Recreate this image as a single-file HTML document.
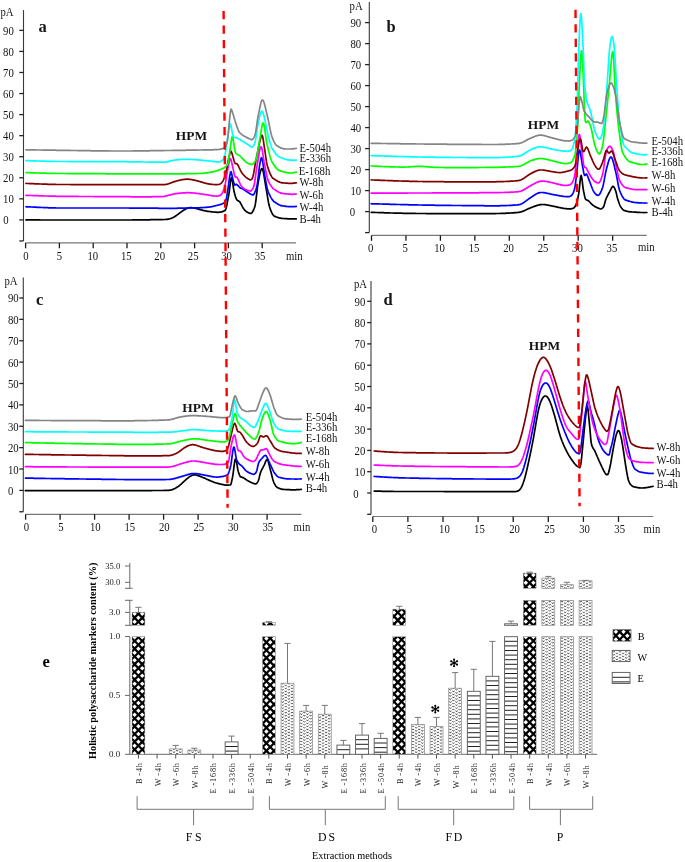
<!DOCTYPE html>
<html><head><meta charset="utf-8"><title>figure</title>
<style>html,body{margin:0;padding:0;background:#fff;width:685px;height:862px;overflow:hidden}svg{will-change:transform}</style>
</head><body>
<svg width="685" height="862" viewBox="0 0 685 862" style="display:block;font-family:'Liberation Serif',serif">
<rect width="685" height="862" fill="#fff"/>
<line x1="23.50" y1="10.10" x2="23.50" y2="240.96" stroke="#3a3a3a" stroke-width="1.10" />
<line x1="19.30" y1="240.96" x2="23.50" y2="240.96" stroke="#222" stroke-width="1.30" />
<line x1="19.30" y1="219.90" x2="23.50" y2="219.90" stroke="#222" stroke-width="1.30" />
<text x="0" y="0" font-size="11.60" text-anchor="end" font-weight="normal" fill="#151515" transform="translate(8.70,224.40) scale(0.925,1)" >0</text>
<line x1="19.30" y1="198.84" x2="23.50" y2="198.84" stroke="#222" stroke-width="1.30" />
<text x="0" y="0" font-size="11.60" text-anchor="end" font-weight="normal" fill="#151515" transform="translate(13.80,203.34) scale(0.925,1)" >10</text>
<line x1="19.30" y1="177.78" x2="23.50" y2="177.78" stroke="#222" stroke-width="1.30" />
<text x="0" y="0" font-size="11.60" text-anchor="end" font-weight="normal" fill="#151515" transform="translate(13.80,182.28) scale(0.925,1)" >20</text>
<line x1="19.30" y1="156.72" x2="23.50" y2="156.72" stroke="#222" stroke-width="1.30" />
<text x="0" y="0" font-size="11.60" text-anchor="end" font-weight="normal" fill="#151515" transform="translate(13.80,161.22) scale(0.925,1)" >30</text>
<line x1="19.30" y1="135.66" x2="23.50" y2="135.66" stroke="#222" stroke-width="1.30" />
<text x="0" y="0" font-size="11.60" text-anchor="end" font-weight="normal" fill="#151515" transform="translate(13.80,140.16) scale(0.925,1)" >40</text>
<line x1="19.30" y1="114.60" x2="23.50" y2="114.60" stroke="#222" stroke-width="1.30" />
<text x="0" y="0" font-size="11.60" text-anchor="end" font-weight="normal" fill="#151515" transform="translate(13.80,119.10) scale(0.925,1)" >50</text>
<line x1="19.30" y1="93.54" x2="23.50" y2="93.54" stroke="#222" stroke-width="1.30" />
<text x="0" y="0" font-size="11.60" text-anchor="end" font-weight="normal" fill="#151515" transform="translate(13.80,98.04) scale(0.925,1)" >60</text>
<line x1="19.30" y1="72.48" x2="23.50" y2="72.48" stroke="#222" stroke-width="1.30" />
<text x="0" y="0" font-size="11.60" text-anchor="end" font-weight="normal" fill="#151515" transform="translate(13.80,76.98) scale(0.925,1)" >70</text>
<line x1="19.30" y1="51.42" x2="23.50" y2="51.42" stroke="#222" stroke-width="1.30" />
<text x="0" y="0" font-size="11.60" text-anchor="end" font-weight="normal" fill="#151515" transform="translate(13.80,55.92) scale(0.925,1)" >80</text>
<line x1="19.30" y1="30.36" x2="23.50" y2="30.36" stroke="#222" stroke-width="1.30" />
<text x="0" y="0" font-size="11.60" text-anchor="end" font-weight="normal" fill="#151515" transform="translate(13.80,34.86) scale(0.925,1)" >90</text>
<text x="0" y="0" font-size="11.60" text-anchor="start" font-weight="normal" fill="#151515" transform="translate(0.40,16.20) scale(0.925,1)" >pA</text>
<line x1="25.60" y1="242.90" x2="296.00" y2="242.90" stroke="#777" stroke-width="1.20" />
<line x1="25.60" y1="242.90" x2="25.60" y2="248.30" stroke="#1a1a1a" stroke-width="1.30" />
<text x="0" y="0" font-size="11.60" text-anchor="middle" font-weight="normal" fill="#151515" transform="translate(25.90,259.60) scale(0.925,1)" >0</text>
<line x1="59.40" y1="242.90" x2="59.40" y2="248.30" stroke="#1a1a1a" stroke-width="1.30" />
<text x="0" y="0" font-size="11.60" text-anchor="middle" font-weight="normal" fill="#151515" transform="translate(59.35,259.60) scale(0.925,1)" >5</text>
<line x1="93.20" y1="242.90" x2="93.20" y2="248.30" stroke="#1a1a1a" stroke-width="1.30" />
<text x="0" y="0" font-size="11.60" text-anchor="middle" font-weight="normal" fill="#151515" transform="translate(92.80,259.60) scale(0.925,1)" >10</text>
<line x1="127.00" y1="242.90" x2="127.00" y2="248.30" stroke="#1a1a1a" stroke-width="1.30" />
<text x="0" y="0" font-size="11.60" text-anchor="middle" font-weight="normal" fill="#151515" transform="translate(126.25,259.60) scale(0.925,1)" >15</text>
<line x1="160.80" y1="242.90" x2="160.80" y2="248.30" stroke="#1a1a1a" stroke-width="1.30" />
<text x="0" y="0" font-size="11.60" text-anchor="middle" font-weight="normal" fill="#151515" transform="translate(159.70,259.60) scale(0.925,1)" >20</text>
<line x1="194.60" y1="242.90" x2="194.60" y2="248.30" stroke="#1a1a1a" stroke-width="1.30" />
<text x="0" y="0" font-size="11.60" text-anchor="middle" font-weight="normal" fill="#151515" transform="translate(193.15,259.60) scale(0.925,1)" >25</text>
<line x1="228.40" y1="242.90" x2="228.40" y2="248.30" stroke="#1a1a1a" stroke-width="1.30" />
<text x="0" y="0" font-size="11.60" text-anchor="middle" font-weight="normal" fill="#151515" transform="translate(226.60,259.60) scale(0.925,1)" >30</text>
<line x1="262.20" y1="242.90" x2="262.20" y2="248.30" stroke="#1a1a1a" stroke-width="1.30" />
<text x="0" y="0" font-size="11.60" text-anchor="middle" font-weight="normal" fill="#151515" transform="translate(260.05,259.60) scale(0.925,1)" >35</text>
<text x="0" y="0" font-size="11.60" text-anchor="start" font-weight="normal" fill="#151515" transform="translate(286.00,259.70) scale(0.925,1)" >min</text>
<text x="38.60" y="31.50" font-size="16.50" text-anchor="start" font-weight="bold" fill="#151515" >a</text>
<text x="175.80" y="140.20" font-size="13.40" text-anchor="start" font-weight="bold" fill="#151515" >HPM</text>
<line x1="369.30" y1="2.10" x2="369.30" y2="232.60" stroke="#3a3a3a" stroke-width="1.10" />
<line x1="365.10" y1="232.60" x2="369.30" y2="232.60" stroke="#222" stroke-width="1.30" />
<line x1="365.10" y1="211.60" x2="369.30" y2="211.60" stroke="#222" stroke-width="1.30" />
<text x="0" y="0" font-size="11.60" text-anchor="end" font-weight="normal" fill="#151515" transform="translate(355.20,216.10) scale(0.925,1)" >0</text>
<line x1="365.10" y1="190.60" x2="369.30" y2="190.60" stroke="#222" stroke-width="1.30" />
<text x="0" y="0" font-size="11.60" text-anchor="end" font-weight="normal" fill="#151515" transform="translate(361.20,195.10) scale(0.925,1)" >10</text>
<line x1="365.10" y1="169.60" x2="369.30" y2="169.60" stroke="#222" stroke-width="1.30" />
<text x="0" y="0" font-size="11.60" text-anchor="end" font-weight="normal" fill="#151515" transform="translate(361.20,174.10) scale(0.925,1)" >20</text>
<line x1="365.10" y1="148.60" x2="369.30" y2="148.60" stroke="#222" stroke-width="1.30" />
<text x="0" y="0" font-size="11.60" text-anchor="end" font-weight="normal" fill="#151515" transform="translate(361.20,153.10) scale(0.925,1)" >30</text>
<line x1="365.10" y1="127.60" x2="369.30" y2="127.60" stroke="#222" stroke-width="1.30" />
<text x="0" y="0" font-size="11.60" text-anchor="end" font-weight="normal" fill="#151515" transform="translate(361.20,132.10) scale(0.925,1)" >40</text>
<line x1="365.10" y1="106.60" x2="369.30" y2="106.60" stroke="#222" stroke-width="1.30" />
<text x="0" y="0" font-size="11.60" text-anchor="end" font-weight="normal" fill="#151515" transform="translate(361.20,111.10) scale(0.925,1)" >50</text>
<line x1="365.10" y1="85.60" x2="369.30" y2="85.60" stroke="#222" stroke-width="1.30" />
<text x="0" y="0" font-size="11.60" text-anchor="end" font-weight="normal" fill="#151515" transform="translate(361.20,90.10) scale(0.925,1)" >60</text>
<line x1="365.10" y1="64.60" x2="369.30" y2="64.60" stroke="#222" stroke-width="1.30" />
<text x="0" y="0" font-size="11.60" text-anchor="end" font-weight="normal" fill="#151515" transform="translate(361.20,69.10) scale(0.925,1)" >70</text>
<line x1="365.10" y1="43.60" x2="369.30" y2="43.60" stroke="#222" stroke-width="1.30" />
<text x="0" y="0" font-size="11.60" text-anchor="end" font-weight="normal" fill="#151515" transform="translate(361.20,48.10) scale(0.925,1)" >80</text>
<line x1="365.10" y1="22.60" x2="369.30" y2="22.60" stroke="#222" stroke-width="1.30" />
<text x="0" y="0" font-size="11.60" text-anchor="end" font-weight="normal" fill="#151515" transform="translate(361.20,27.10) scale(0.925,1)" >90</text>
<text x="0" y="0" font-size="11.60" text-anchor="start" font-weight="normal" fill="#151515" transform="translate(349.60,10.20) scale(0.925,1)" >pA</text>
<line x1="371.50" y1="235.40" x2="646.70" y2="235.40" stroke="#777" stroke-width="1.20" />
<line x1="371.50" y1="235.40" x2="371.50" y2="240.80" stroke="#1a1a1a" stroke-width="1.30" />
<text x="0" y="0" font-size="11.60" text-anchor="middle" font-weight="normal" fill="#151515" transform="translate(370.70,252.10) scale(0.925,1)" >0</text>
<line x1="405.95" y1="235.40" x2="405.95" y2="240.80" stroke="#1a1a1a" stroke-width="1.30" />
<text x="0" y="0" font-size="11.60" text-anchor="middle" font-weight="normal" fill="#151515" transform="translate(405.16,252.10) scale(0.925,1)" >5</text>
<line x1="440.40" y1="235.40" x2="440.40" y2="240.80" stroke="#1a1a1a" stroke-width="1.30" />
<text x="0" y="0" font-size="11.60" text-anchor="middle" font-weight="normal" fill="#151515" transform="translate(439.62,252.10) scale(0.925,1)" >10</text>
<line x1="474.85" y1="235.40" x2="474.85" y2="240.80" stroke="#1a1a1a" stroke-width="1.30" />
<text x="0" y="0" font-size="11.60" text-anchor="middle" font-weight="normal" fill="#151515" transform="translate(474.08,252.10) scale(0.925,1)" >15</text>
<line x1="509.30" y1="235.40" x2="509.30" y2="240.80" stroke="#1a1a1a" stroke-width="1.30" />
<text x="0" y="0" font-size="11.60" text-anchor="middle" font-weight="normal" fill="#151515" transform="translate(508.54,252.10) scale(0.925,1)" >20</text>
<line x1="543.75" y1="235.40" x2="543.75" y2="240.80" stroke="#1a1a1a" stroke-width="1.30" />
<text x="0" y="0" font-size="11.60" text-anchor="middle" font-weight="normal" fill="#151515" transform="translate(543.00,252.10) scale(0.925,1)" >25</text>
<line x1="578.20" y1="235.40" x2="578.20" y2="240.80" stroke="#1a1a1a" stroke-width="1.30" />
<text x="0" y="0" font-size="11.60" text-anchor="middle" font-weight="normal" fill="#151515" transform="translate(577.46,252.10) scale(0.925,1)" >30</text>
<line x1="612.65" y1="235.40" x2="612.65" y2="240.80" stroke="#1a1a1a" stroke-width="1.30" />
<text x="0" y="0" font-size="11.60" text-anchor="middle" font-weight="normal" fill="#151515" transform="translate(611.92,252.10) scale(0.925,1)" >35</text>
<text x="0" y="0" font-size="11.60" text-anchor="start" font-weight="normal" fill="#151515" transform="translate(638.00,251.10) scale(0.925,1)" >min</text>
<text x="386.40" y="31.50" font-size="16.50" text-anchor="start" font-weight="bold" fill="#151515" >b</text>
<text x="527.80" y="128.90" font-size="13.40" text-anchor="start" font-weight="bold" fill="#151515" >HPM</text>
<line x1="23.30" y1="277.40" x2="23.30" y2="511.78" stroke="#3a3a3a" stroke-width="1.10" />
<line x1="19.30" y1="511.78" x2="23.30" y2="511.78" stroke="#222" stroke-width="1.30" />
<line x1="19.30" y1="490.40" x2="23.30" y2="490.40" stroke="#222" stroke-width="1.30" />
<text x="0" y="0" font-size="11.60" text-anchor="end" font-weight="normal" fill="#151515" transform="translate(13.30,494.90) scale(0.925,1)" >0</text>
<line x1="19.30" y1="469.02" x2="23.30" y2="469.02" stroke="#222" stroke-width="1.30" />
<text x="0" y="0" font-size="11.60" text-anchor="end" font-weight="normal" fill="#151515" transform="translate(18.60,473.52) scale(0.925,1)" >10</text>
<line x1="19.30" y1="447.64" x2="23.30" y2="447.64" stroke="#222" stroke-width="1.30" />
<text x="0" y="0" font-size="11.60" text-anchor="end" font-weight="normal" fill="#151515" transform="translate(18.60,452.14) scale(0.925,1)" >20</text>
<line x1="19.30" y1="426.26" x2="23.30" y2="426.26" stroke="#222" stroke-width="1.30" />
<text x="0" y="0" font-size="11.60" text-anchor="end" font-weight="normal" fill="#151515" transform="translate(18.60,430.76) scale(0.925,1)" >30</text>
<line x1="19.30" y1="404.88" x2="23.30" y2="404.88" stroke="#222" stroke-width="1.30" />
<text x="0" y="0" font-size="11.60" text-anchor="end" font-weight="normal" fill="#151515" transform="translate(18.60,409.38) scale(0.925,1)" >40</text>
<line x1="19.30" y1="383.50" x2="23.30" y2="383.50" stroke="#222" stroke-width="1.30" />
<text x="0" y="0" font-size="11.60" text-anchor="end" font-weight="normal" fill="#151515" transform="translate(18.60,388.00) scale(0.925,1)" >50</text>
<line x1="19.30" y1="362.12" x2="23.30" y2="362.12" stroke="#222" stroke-width="1.30" />
<text x="0" y="0" font-size="11.60" text-anchor="end" font-weight="normal" fill="#151515" transform="translate(18.60,366.62) scale(0.925,1)" >60</text>
<line x1="19.30" y1="340.74" x2="23.30" y2="340.74" stroke="#222" stroke-width="1.30" />
<text x="0" y="0" font-size="11.60" text-anchor="end" font-weight="normal" fill="#151515" transform="translate(18.60,345.24) scale(0.925,1)" >70</text>
<line x1="19.30" y1="319.36" x2="23.30" y2="319.36" stroke="#222" stroke-width="1.30" />
<text x="0" y="0" font-size="11.60" text-anchor="end" font-weight="normal" fill="#151515" transform="translate(18.60,323.86) scale(0.925,1)" >80</text>
<line x1="19.30" y1="297.98" x2="23.30" y2="297.98" stroke="#222" stroke-width="1.30" />
<text x="0" y="0" font-size="11.60" text-anchor="end" font-weight="normal" fill="#151515" transform="translate(18.60,302.48) scale(0.925,1)" >90</text>
<text x="0" y="0" font-size="11.60" text-anchor="start" font-weight="normal" fill="#151515" transform="translate(4.40,284.90) scale(0.925,1)" >pA</text>
<line x1="25.60" y1="514.30" x2="301.40" y2="514.30" stroke="#777" stroke-width="1.20" />
<line x1="25.60" y1="514.30" x2="25.60" y2="519.70" stroke="#1a1a1a" stroke-width="1.30" />
<text x="0" y="0" font-size="11.60" text-anchor="middle" font-weight="normal" fill="#151515" transform="translate(26.30,531.20) scale(0.925,1)" >0</text>
<line x1="60.10" y1="514.30" x2="60.10" y2="519.70" stroke="#1a1a1a" stroke-width="1.30" />
<text x="0" y="0" font-size="11.60" text-anchor="middle" font-weight="normal" fill="#151515" transform="translate(60.80,531.20) scale(0.925,1)" >5</text>
<line x1="94.60" y1="514.30" x2="94.60" y2="519.70" stroke="#1a1a1a" stroke-width="1.30" />
<text x="0" y="0" font-size="11.60" text-anchor="middle" font-weight="normal" fill="#151515" transform="translate(95.30,531.20) scale(0.925,1)" >10</text>
<line x1="129.10" y1="514.30" x2="129.10" y2="519.70" stroke="#1a1a1a" stroke-width="1.30" />
<text x="0" y="0" font-size="11.60" text-anchor="middle" font-weight="normal" fill="#151515" transform="translate(129.80,531.20) scale(0.925,1)" >15</text>
<line x1="163.60" y1="514.30" x2="163.60" y2="519.70" stroke="#1a1a1a" stroke-width="1.30" />
<text x="0" y="0" font-size="11.60" text-anchor="middle" font-weight="normal" fill="#151515" transform="translate(164.30,531.20) scale(0.925,1)" >20</text>
<line x1="198.10" y1="514.30" x2="198.10" y2="519.70" stroke="#1a1a1a" stroke-width="1.30" />
<text x="0" y="0" font-size="11.60" text-anchor="middle" font-weight="normal" fill="#151515" transform="translate(198.80,531.20) scale(0.925,1)" >25</text>
<line x1="232.60" y1="514.30" x2="232.60" y2="519.70" stroke="#1a1a1a" stroke-width="1.30" />
<text x="0" y="0" font-size="11.60" text-anchor="middle" font-weight="normal" fill="#151515" transform="translate(233.30,531.20) scale(0.925,1)" >30</text>
<line x1="267.10" y1="514.30" x2="267.10" y2="519.70" stroke="#1a1a1a" stroke-width="1.30" />
<text x="0" y="0" font-size="11.60" text-anchor="middle" font-weight="normal" fill="#151515" transform="translate(267.80,531.20) scale(0.925,1)" >35</text>
<text x="0" y="0" font-size="11.60" text-anchor="start" font-weight="normal" fill="#151515" transform="translate(293.60,531.10) scale(0.925,1)" >min</text>
<text x="35.90" y="305.00" font-size="16.50" text-anchor="start" font-weight="bold" fill="#151515" >c</text>
<text x="182.30" y="411.50" font-size="13.40" text-anchor="start" font-weight="bold" fill="#151515" >HPM</text>
<line x1="371.00" y1="280.90" x2="371.00" y2="514.30" stroke="#3a3a3a" stroke-width="1.10" />
<line x1="367.20" y1="514.30" x2="371.00" y2="514.30" stroke="#222" stroke-width="1.30" />
<line x1="367.20" y1="493.00" x2="371.00" y2="493.00" stroke="#222" stroke-width="1.30" />
<text x="0" y="0" font-size="11.60" text-anchor="end" font-weight="normal" fill="#151515" transform="translate(358.60,497.50) scale(0.925,1)" >0</text>
<line x1="367.20" y1="471.70" x2="371.00" y2="471.70" stroke="#222" stroke-width="1.30" />
<text x="0" y="0" font-size="11.60" text-anchor="end" font-weight="normal" fill="#151515" transform="translate(365.30,476.20) scale(0.925,1)" >10</text>
<line x1="367.20" y1="450.40" x2="371.00" y2="450.40" stroke="#222" stroke-width="1.30" />
<text x="0" y="0" font-size="11.60" text-anchor="end" font-weight="normal" fill="#151515" transform="translate(365.30,454.90) scale(0.925,1)" >20</text>
<line x1="367.20" y1="429.10" x2="371.00" y2="429.10" stroke="#222" stroke-width="1.30" />
<text x="0" y="0" font-size="11.60" text-anchor="end" font-weight="normal" fill="#151515" transform="translate(365.30,433.60) scale(0.925,1)" >30</text>
<line x1="367.20" y1="407.80" x2="371.00" y2="407.80" stroke="#222" stroke-width="1.30" />
<text x="0" y="0" font-size="11.60" text-anchor="end" font-weight="normal" fill="#151515" transform="translate(365.30,412.30) scale(0.925,1)" >40</text>
<line x1="367.20" y1="386.50" x2="371.00" y2="386.50" stroke="#222" stroke-width="1.30" />
<text x="0" y="0" font-size="11.60" text-anchor="end" font-weight="normal" fill="#151515" transform="translate(365.30,391.00) scale(0.925,1)" >50</text>
<line x1="367.20" y1="365.20" x2="371.00" y2="365.20" stroke="#222" stroke-width="1.30" />
<text x="0" y="0" font-size="11.60" text-anchor="end" font-weight="normal" fill="#151515" transform="translate(365.30,369.70) scale(0.925,1)" >60</text>
<line x1="367.20" y1="343.90" x2="371.00" y2="343.90" stroke="#222" stroke-width="1.30" />
<text x="0" y="0" font-size="11.60" text-anchor="end" font-weight="normal" fill="#151515" transform="translate(365.30,348.40) scale(0.925,1)" >70</text>
<line x1="367.20" y1="322.60" x2="371.00" y2="322.60" stroke="#222" stroke-width="1.30" />
<text x="0" y="0" font-size="11.60" text-anchor="end" font-weight="normal" fill="#151515" transform="translate(365.30,327.10) scale(0.925,1)" >80</text>
<line x1="367.20" y1="301.30" x2="371.00" y2="301.30" stroke="#222" stroke-width="1.30" />
<text x="0" y="0" font-size="11.60" text-anchor="end" font-weight="normal" fill="#151515" transform="translate(365.30,305.80) scale(0.925,1)" >90</text>
<text x="0" y="0" font-size="11.60" text-anchor="start" font-weight="normal" fill="#151515" transform="translate(354.00,287.50) scale(0.925,1)" >pA</text>
<line x1="372.80" y1="516.50" x2="653.40" y2="516.50" stroke="#777" stroke-width="1.20" />
<line x1="372.80" y1="516.50" x2="372.80" y2="521.90" stroke="#1a1a1a" stroke-width="1.30" />
<text x="0" y="0" font-size="11.60" text-anchor="middle" font-weight="normal" fill="#151515" transform="translate(374.30,532.50) scale(0.925,1)" >0</text>
<line x1="407.90" y1="516.50" x2="407.90" y2="521.90" stroke="#1a1a1a" stroke-width="1.30" />
<text x="0" y="0" font-size="11.60" text-anchor="middle" font-weight="normal" fill="#151515" transform="translate(409.35,532.50) scale(0.925,1)" >5</text>
<line x1="443.00" y1="516.50" x2="443.00" y2="521.90" stroke="#1a1a1a" stroke-width="1.30" />
<text x="0" y="0" font-size="11.60" text-anchor="middle" font-weight="normal" fill="#151515" transform="translate(444.40,532.50) scale(0.925,1)" >10</text>
<line x1="478.10" y1="516.50" x2="478.10" y2="521.90" stroke="#1a1a1a" stroke-width="1.30" />
<text x="0" y="0" font-size="11.60" text-anchor="middle" font-weight="normal" fill="#151515" transform="translate(479.45,532.50) scale(0.925,1)" >15</text>
<line x1="513.20" y1="516.50" x2="513.20" y2="521.90" stroke="#1a1a1a" stroke-width="1.30" />
<text x="0" y="0" font-size="11.60" text-anchor="middle" font-weight="normal" fill="#151515" transform="translate(514.50,532.50) scale(0.925,1)" >20</text>
<line x1="548.30" y1="516.50" x2="548.30" y2="521.90" stroke="#1a1a1a" stroke-width="1.30" />
<text x="0" y="0" font-size="11.60" text-anchor="middle" font-weight="normal" fill="#151515" transform="translate(549.55,532.50) scale(0.925,1)" >25</text>
<line x1="583.40" y1="516.50" x2="583.40" y2="521.90" stroke="#1a1a1a" stroke-width="1.30" />
<text x="0" y="0" font-size="11.60" text-anchor="middle" font-weight="normal" fill="#151515" transform="translate(584.60,532.50) scale(0.925,1)" >30</text>
<line x1="618.50" y1="516.50" x2="618.50" y2="521.90" stroke="#1a1a1a" stroke-width="1.30" />
<text x="0" y="0" font-size="11.60" text-anchor="middle" font-weight="normal" fill="#151515" transform="translate(619.65,532.50) scale(0.925,1)" >35</text>
<text x="0" y="0" font-size="11.60" text-anchor="start" font-weight="normal" fill="#151515" transform="translate(643.60,533.20) scale(0.925,1)" >min</text>
<text x="383.40" y="305.00" font-size="16.50" text-anchor="start" font-weight="bold" fill="#151515" >d</text>
<text x="528.80" y="349.90" font-size="13.40" text-anchor="start" font-weight="bold" fill="#151515" >HPM</text>
<path d="M26.0 219.9L26.5 219.9L27.0 219.9L27.5 219.9L28.0 219.9L28.5 219.9L29.0 219.9L29.5 219.9L30.0 219.9L30.5 219.9L31.0 219.9L31.5 219.9L32.0 219.9L32.5 219.9L33.0 219.9L33.5 219.9L34.0 219.9L34.5 219.9L35.0 219.9L35.5 219.9L36.0 219.9L36.5 219.9L37.0 219.9L37.5 219.9L38.0 219.9L38.5 219.9L39.0 219.9L39.5 219.9L40.0 219.9L40.5 220.0L41.0 220.0L41.5 220.0L42.0 220.0L42.5 220.0L43.0 220.0L43.5 220.0L44.0 220.0L44.5 220.0L45.0 220.0L45.5 220.0L46.0 220.0L46.5 220.0L47.0 220.0L47.5 220.0L48.0 220.0L48.5 220.0L49.0 220.0L49.5 220.0L50.0 220.0L50.5 220.0L51.0 220.0L51.5 220.0L52.0 220.0L52.5 220.0L53.0 220.0L53.5 220.0L54.0 220.0L54.5 220.0L55.0 220.0L55.5 220.0L56.0 220.0L56.5 220.0L57.0 220.0L57.5 220.0L58.0 220.0L58.5 220.0L59.0 220.0L59.5 220.0L60.0 220.0L60.5 220.0L61.0 220.0L61.5 220.0L62.0 220.0L62.5 220.0L63.0 220.0L63.5 220.0L64.0 220.0L64.5 220.0L65.0 220.0L65.5 220.0L66.0 220.0L66.5 220.0L67.0 220.0L67.5 220.0L68.0 220.0L68.5 220.0L69.0 220.0L69.5 220.0L70.0 220.0L70.5 220.0L71.0 220.0L71.5 220.0L72.0 220.0L72.5 220.0L73.0 220.0L73.5 220.0L74.0 220.0L74.5 220.0L75.0 220.0L75.5 220.0L76.0 220.0L76.5 220.0L77.0 220.0L77.5 220.0L78.0 220.0L78.5 220.0L79.0 220.0L79.5 220.0L80.0 220.0L80.5 220.0L81.0 220.0L81.5 220.0L82.0 220.0L82.5 220.0L83.0 220.0L83.5 220.0L84.0 220.0L84.5 220.0L85.0 220.0L85.5 220.0L86.0 220.0L86.5 220.0L87.0 220.0L87.5 220.0L88.0 220.0L88.5 220.0L89.0 220.0L89.5 220.0L90.0 220.0L90.5 220.0L91.0 220.0L91.5 220.0L92.0 220.0L92.5 220.0L93.0 220.0L93.5 220.0L94.0 220.0L94.5 220.0L95.0 220.0L95.5 220.0L96.0 220.0L96.5 220.0L97.0 220.0L97.5 220.0L98.0 220.0L98.5 220.0L99.0 220.0L99.5 220.0L100.0 220.0L100.5 220.0L101.0 220.0L101.5 220.0L102.0 220.0L102.5 220.0L103.0 220.0L103.5 220.0L104.0 220.0L104.5 220.0L105.0 220.0L105.5 220.0L106.0 220.0L106.5 220.0L107.0 220.0L107.5 220.0L108.0 220.0L108.5 220.0L109.0 220.0L109.5 220.0L110.0 220.0L110.5 220.0L111.0 220.0L111.5 220.0L112.0 220.0L112.5 220.0L113.0 220.0L113.5 220.0L114.0 220.0L114.5 220.0L115.0 220.0L115.5 220.0L116.0 220.0L116.5 220.0L117.0 220.0L117.5 220.0L118.0 220.0L118.5 220.0L119.0 220.0L119.5 220.0L120.0 220.0L120.5 220.0L121.0 220.0L121.5 220.0L122.0 220.0L122.5 220.0L123.0 220.0L123.5 220.0L124.0 220.0L124.5 220.0L125.0 220.0L125.5 220.0L126.0 220.0L126.5 220.0L127.0 220.0L127.5 220.0L128.0 220.0L128.5 220.0L129.0 220.0L129.5 220.0L130.0 220.0L130.5 220.0L131.0 220.0L131.5 220.0L132.0 220.0L132.5 219.9L133.0 219.9L133.5 219.9L134.0 219.9L134.5 219.9L135.0 219.9L135.5 219.9L136.0 219.9L136.5 219.9L137.0 219.9L137.5 219.9L138.0 219.9L138.5 219.9L139.0 219.9L139.5 219.9L140.0 219.9L140.5 219.9L141.0 219.9L141.5 219.9L142.0 219.9L142.5 219.9L143.0 219.8L143.5 219.8L144.0 219.8L144.5 219.8L145.0 219.8L145.5 219.8L146.0 219.8L146.5 219.8L147.0 219.8L147.5 219.8L148.0 219.8L148.5 219.8L149.0 219.8L149.5 219.8L150.0 219.8L150.5 219.7L151.0 219.7L151.5 219.7L152.0 219.7L152.5 219.7L153.0 219.7L153.5 219.7L154.0 219.7L154.5 219.7L155.0 219.7L155.5 219.7L156.0 219.7L156.5 219.7L157.0 219.7L157.5 219.6L158.0 219.6L158.5 219.6L159.0 219.6L159.5 219.6L160.0 219.6L160.5 219.6L161.0 219.6L161.5 219.6L162.0 219.6L162.5 219.6L163.0 219.6L163.5 219.5L164.0 219.5L164.5 219.5L165.0 219.5L165.5 219.5L166.0 219.4L166.5 219.4L167.0 219.4L167.5 219.3L168.0 219.2L168.5 219.1L169.0 219.0L169.5 218.9L170.0 218.7L170.5 218.5L171.0 218.4L171.5 218.2L172.0 218.0L172.5 217.7L173.0 217.5L173.5 217.2L174.0 217.0L174.5 216.7L175.0 216.4L175.5 216.1L176.0 215.8L176.5 215.4L177.0 215.1L177.5 214.7L178.0 214.3L178.5 213.9L179.0 213.6L179.5 213.2L180.0 212.8L180.5 212.4L181.0 212.1L181.5 211.7L182.0 211.3L182.5 211.0L183.0 210.6L183.5 210.3L184.0 210.0L184.5 209.7L185.0 209.4L185.5 209.1L186.0 208.8L186.5 208.6L187.0 208.4L187.5 208.2L188.0 208.1L188.5 207.9L189.0 207.8L189.5 207.8L190.0 207.7L190.5 207.7L191.0 207.7L191.5 207.7L192.0 207.8L192.5 207.8L193.0 207.9L193.5 208.0L194.0 208.0L194.5 208.1L195.0 208.2L195.5 208.4L196.0 208.5L196.5 208.6L197.0 208.7L197.5 208.8L198.0 209.0L198.5 209.1L199.0 209.3L199.5 209.4L200.0 209.6L200.5 209.7L201.0 209.8L201.5 210.0L202.0 210.1L202.5 210.2L203.0 210.4L203.5 210.5L204.0 210.6L204.5 210.7L205.0 210.8L205.5 210.9L206.0 211.0L206.5 211.1L207.0 211.2L207.5 211.3L208.0 211.3L208.5 211.4L209.0 211.5L209.5 211.5L210.0 211.6L210.5 211.7L211.0 211.7L211.5 211.8L212.0 211.8L212.5 211.9L213.0 211.9L213.5 212.0L214.0 212.0L214.5 212.1L215.0 212.1L215.5 212.2L216.0 212.2L216.5 212.2L217.0 212.3L217.5 212.3L218.0 212.3L218.5 212.3L219.0 212.2L219.5 212.2L220.0 212.2L220.5 212.1L221.0 212.0L221.5 211.9L222.0 211.8L222.5 211.6L223.0 211.4L223.5 211.2L224.0 210.9L224.5 210.6L225.0 210.4L225.5 209.7L226.0 208.5L226.5 206.7L227.0 204.4L227.5 201.7L228.0 198.9L228.5 196.3L229.0 193.4L229.5 189.6L230.0 185.5L230.5 181.7L231.0 178.9L231.5 177.8L232.0 178.8L232.5 181.3L233.0 184.8L233.5 188.3L234.0 191.3L234.5 193.2L235.0 195.0L235.5 196.7L236.0 198.2L236.5 199.3L237.0 200.0L237.5 200.4L238.0 200.7L238.5 200.9L239.0 201.2L239.5 201.6L240.0 202.3L240.5 203.1L241.0 204.0L241.5 204.9L242.0 205.8L242.5 206.8L243.0 207.7L243.5 208.5L244.0 209.2L244.5 209.9L245.0 210.4L245.5 210.9L246.0 211.3L246.5 211.7L247.0 212.0L247.5 212.3L248.0 212.6L248.5 212.8L249.0 213.0L249.5 213.2L250.0 213.3L250.5 213.4L251.0 213.4L251.5 213.1L252.0 212.6L252.5 211.9L253.0 211.0L253.5 210.0L254.0 208.8L254.5 207.5L255.0 205.9L255.5 203.2L256.0 199.6L256.5 195.5L257.0 191.1L257.5 186.9L258.0 183.3L258.5 180.5L259.0 178.0L259.5 175.5L260.0 173.2L260.5 171.3L261.0 169.7L261.5 168.8L262.0 168.6L262.5 169.2L263.0 170.7L263.5 172.9L264.0 175.6L264.5 178.7L265.0 181.8L265.5 184.8L266.0 187.6L266.5 190.5L267.0 193.5L267.5 196.6L268.0 199.6L268.5 202.4L269.0 204.8L269.5 206.7L270.0 208.2L270.5 209.6L271.0 210.9L271.5 212.0L272.0 213.1L272.5 214.0L273.0 214.8L273.5 215.5L274.0 215.9L274.5 216.3L275.0 216.4L275.5 216.6L276.0 216.8L276.5 217.0L277.0 217.2L277.5 217.4L278.0 217.5L278.5 217.7L279.0 217.8L279.5 218.0L280.0 218.1L280.5 218.2L281.0 218.3L281.5 218.4L282.0 218.4L282.5 218.4L283.0 218.5L283.5 218.5L284.0 218.5L284.5 218.6L285.0 218.6L285.5 218.6L286.0 218.7L286.5 218.7L287.0 218.7L287.5 218.8L288.0 218.8L288.5 218.8L289.0 218.8L289.5 218.9L290.0 218.9L290.5 218.9L291.0 218.9L291.5 218.9L292.0 218.9L292.5 218.9L293.0 218.9L293.5 218.9L294.0 218.9L294.5 218.9L295.0 218.9L295.5 218.9L296.0 218.8L296.3 218.8" fill="none" stroke="#000000" stroke-width="1.70" stroke-linejoin="round" stroke-linecap="round"/>
<path d="M26.0 206.7L26.5 206.8L27.0 206.8L27.5 206.8L28.0 206.8L28.5 206.8L29.0 206.9L29.5 206.9L30.0 206.9L30.5 206.9L31.0 207.0L31.5 207.0L32.0 207.0L32.5 207.0L33.0 207.1L33.5 207.1L34.0 207.1L34.5 207.1L35.0 207.2L35.5 207.2L36.0 207.2L36.5 207.2L37.0 207.3L37.5 207.3L38.0 207.3L38.5 207.3L39.0 207.4L39.5 207.4L40.0 207.4L40.5 207.4L41.0 207.5L41.5 207.5L42.0 207.5L42.5 207.5L43.0 207.5L43.5 207.6L44.0 207.6L44.5 207.6L45.0 207.6L45.5 207.6L46.0 207.7L46.5 207.7L47.0 207.7L47.5 207.7L48.0 207.7L48.5 207.8L49.0 207.8L49.5 207.8L50.0 207.8L50.5 207.8L51.0 207.8L51.5 207.9L52.0 207.9L52.5 207.9L53.0 207.9L53.5 207.9L54.0 207.9L54.5 207.9L55.0 207.9L55.5 207.9L56.0 208.0L56.5 208.0L57.0 208.0L57.5 208.0L58.0 208.0L58.5 208.0L59.0 208.0L59.5 208.0L60.0 208.0L60.5 208.0L61.0 208.0L61.5 208.0L62.0 208.0L62.5 208.0L63.0 208.0L63.5 208.0L64.0 208.0L64.5 208.0L65.0 208.0L65.5 208.0L66.0 208.0L66.5 208.0L67.0 208.0L67.5 208.0L68.0 208.0L68.5 208.0L69.0 208.0L69.5 208.0L70.0 208.0L70.5 208.0L71.0 208.0L71.5 208.0L72.0 208.0L72.5 208.0L73.0 208.0L73.5 208.0L74.0 208.0L74.5 208.0L75.0 208.0L75.5 208.0L76.0 208.0L76.5 208.0L77.0 208.0L77.5 208.0L78.0 208.0L78.5 208.0L79.0 208.0L79.5 208.0L80.0 208.0L80.5 208.0L81.0 208.0L81.5 208.0L82.0 208.0L82.5 208.0L83.0 208.0L83.5 208.0L84.0 208.0L84.5 208.0L85.0 208.0L85.5 208.0L86.0 208.0L86.5 208.0L87.0 208.0L87.5 208.0L88.0 208.0L88.5 208.0L89.0 208.0L89.5 208.0L90.0 208.0L90.5 208.0L91.0 208.0L91.5 208.0L92.0 208.0L92.5 208.0L93.0 208.0L93.5 208.0L94.0 208.0L94.5 208.0L95.0 208.0L95.5 208.0L96.0 208.0L96.5 208.0L97.0 208.0L97.5 208.0L98.0 208.0L98.5 208.0L99.0 208.0L99.5 208.0L100.0 208.0L100.5 208.0L101.0 208.0L101.5 208.0L102.0 208.0L102.5 208.0L103.0 208.0L103.5 208.0L104.0 208.0L104.5 208.0L105.0 208.0L105.5 208.0L106.0 208.0L106.5 208.0L107.0 208.0L107.5 208.0L108.0 208.0L108.5 208.0L109.0 208.0L109.5 208.0L110.0 208.0L110.5 208.0L111.0 208.0L111.5 208.0L112.0 208.0L112.5 208.0L113.0 208.0L113.5 208.0L114.0 208.0L114.5 208.0L115.0 208.0L115.5 208.0L116.0 208.0L116.5 208.0L117.0 208.0L117.5 208.0L118.0 208.0L118.5 208.0L119.0 208.0L119.5 208.0L120.0 208.0L120.5 208.0L121.0 208.0L121.5 208.0L122.0 208.0L122.5 208.0L123.0 208.0L123.5 208.0L124.0 208.0L124.5 208.0L125.0 208.0L125.5 208.0L126.0 208.0L126.5 208.0L127.0 208.0L127.5 208.0L128.0 208.0L128.5 208.0L129.0 208.0L129.5 208.1L130.0 208.1L130.5 208.1L131.0 208.1L131.5 208.1L132.0 208.1L132.5 208.1L133.0 208.1L133.5 208.1L134.0 208.1L134.5 208.1L135.0 208.1L135.5 208.1L136.0 208.1L136.5 208.1L137.0 208.1L137.5 208.1L138.0 208.1L138.5 208.1L139.0 208.1L139.5 208.1L140.0 208.1L140.5 208.1L141.0 208.1L141.5 208.1L142.0 208.1L142.5 208.1L143.0 208.1L143.5 208.1L144.0 208.2L144.5 208.2L145.0 208.2L145.5 208.2L146.0 208.2L146.5 208.2L147.0 208.2L147.5 208.2L148.0 208.2L148.5 208.2L149.0 208.2L149.5 208.2L150.0 208.2L150.5 208.2L151.0 208.2L151.5 208.2L152.0 208.2L152.5 208.2L153.0 208.2L153.5 208.2L154.0 208.2L154.5 208.2L155.0 208.2L155.5 208.2L156.0 208.2L156.5 208.2L157.0 208.2L157.5 208.2L158.0 208.2L158.5 208.3L159.0 208.3L159.5 208.3L160.0 208.3L160.5 208.3L161.0 208.3L161.5 208.3L162.0 208.3L162.5 208.3L163.0 208.3L163.5 208.3L164.0 208.3L164.5 208.3L165.0 208.3L165.5 208.3L166.0 208.3L166.5 208.3L167.0 208.3L167.5 208.3L168.0 208.3L168.5 208.3L169.0 208.3L169.5 208.3L170.0 208.3L170.5 208.3L171.0 208.3L171.5 208.3L172.0 208.3L172.5 208.3L173.0 208.3L173.5 208.3L174.0 208.3L174.5 208.3L175.0 208.3L175.5 208.3L176.0 208.3L176.5 208.3L177.0 208.3L177.5 208.2L178.0 208.2L178.5 208.2L179.0 208.2L179.5 208.2L180.0 208.2L180.5 208.2L181.0 208.2L181.5 208.2L182.0 208.2L182.5 208.2L183.0 208.2L183.5 208.2L184.0 208.1L184.5 208.1L185.0 208.1L185.5 208.1L186.0 208.1L186.5 208.1L187.0 208.1L187.5 208.1L188.0 208.1L188.5 208.1L189.0 208.1L189.5 208.0L190.0 208.0L190.5 208.0L191.0 208.0L191.5 208.0L192.0 208.0L192.5 208.0L193.0 208.0L193.5 208.0L194.0 208.0L194.5 207.9L195.0 207.9L195.5 207.9L196.0 207.9L196.5 207.9L197.0 207.9L197.5 207.8L198.0 207.8L198.5 207.8L199.0 207.8L199.5 207.8L200.0 207.7L200.5 207.7L201.0 207.7L201.5 207.7L202.0 207.6L202.5 207.6L203.0 207.6L203.5 207.5L204.0 207.5L204.5 207.5L205.0 207.4L205.5 207.4L206.0 207.4L206.5 207.3L207.0 207.3L207.5 207.2L208.0 207.2L208.5 207.1L209.0 207.1L209.5 207.0L210.0 206.9L210.5 206.9L211.0 206.8L211.5 206.7L212.0 206.6L212.5 206.5L213.0 206.4L213.5 206.2L214.0 206.1L214.5 206.0L215.0 205.9L215.5 205.7L216.0 205.6L216.5 205.5L217.0 205.4L217.5 205.2L218.0 205.1L218.5 205.0L219.0 204.9L219.5 204.7L220.0 204.6L220.5 204.5L221.0 204.3L221.5 204.2L222.0 204.0L222.5 203.8L223.0 203.5L223.5 203.2L224.0 202.9L224.5 202.5L225.0 202.2L225.5 201.7L226.0 200.3L226.5 198.0L227.0 195.1L227.5 192.0L228.0 188.7L228.5 185.0L229.0 181.3L229.5 178.0L230.0 174.8L230.5 172.2L231.0 171.7L231.5 173.1L232.0 175.2L232.5 177.5L233.0 179.6L233.5 181.6L234.0 183.6L234.5 184.9L235.0 185.1L235.5 184.8L236.0 184.4L236.5 184.3L237.0 184.6L237.5 185.1L238.0 185.6L238.5 186.1L239.0 186.7L239.5 187.3L240.0 187.8L240.5 188.1L241.0 188.2L241.5 188.4L242.0 188.5L242.5 188.8L243.0 189.1L243.5 189.4L244.0 189.7L244.5 190.1L245.0 190.4L245.5 190.8L246.0 191.1L246.5 191.5L247.0 191.8L247.5 192.1L248.0 192.4L248.5 192.8L249.0 193.1L249.5 193.4L250.0 193.7L250.5 194.0L251.0 194.2L251.5 194.5L252.0 194.7L252.5 194.8L253.0 195.0L253.5 194.8L254.0 194.1L254.5 193.1L255.0 192.0L255.5 190.9L256.0 189.4L256.5 187.7L257.0 185.6L257.5 183.0L258.0 179.1L258.5 174.6L259.0 170.0L259.5 166.0L260.0 163.1L260.5 160.5L261.0 158.5L261.5 157.6L262.0 158.3L262.5 160.5L263.0 163.6L263.5 167.3L264.0 170.9L264.5 174.2L265.0 176.8L265.5 179.6L266.0 182.4L266.5 185.0L267.0 187.5L267.5 189.6L268.0 191.3L268.5 192.6L269.0 193.7L269.5 194.7L270.0 195.7L270.5 196.7L271.0 197.6L271.5 198.4L272.0 199.2L272.5 199.9L273.0 200.5L273.5 201.1L274.0 201.6L274.5 201.9L275.0 202.3L275.5 202.6L276.0 202.9L276.5 203.2L277.0 203.5L277.5 203.9L278.0 204.2L278.5 204.4L279.0 204.7L279.5 205.0L280.0 205.2L280.5 205.4L281.0 205.6L281.5 205.7L282.0 205.8L282.5 205.9L283.0 206.0L283.5 206.0L284.0 206.1L284.5 206.2L285.0 206.2L285.5 206.3L286.0 206.4L286.5 206.4L287.0 206.5L287.5 206.5L288.0 206.6L288.5 206.6L289.0 206.6L289.5 206.7L290.0 206.7L290.5 206.7L291.0 206.7L291.5 206.7L292.0 206.7L292.5 206.7L293.0 206.7L293.5 206.7L294.0 206.6L294.5 206.6L295.0 206.6L295.5 206.5L296.0 206.4L296.3 206.4" fill="none" stroke="#0000ff" stroke-width="1.70" stroke-linejoin="round" stroke-linecap="round"/>
<path d="M26.0 195.3L26.5 195.4L27.0 195.4L27.5 195.4L28.0 195.4L28.5 195.4L29.0 195.4L29.5 195.4L30.0 195.5L30.5 195.5L31.0 195.5L31.5 195.5L32.0 195.5L32.5 195.5L33.0 195.6L33.5 195.6L34.0 195.6L34.5 195.6L35.0 195.6L35.5 195.7L36.0 195.7L36.5 195.7L37.0 195.7L37.5 195.7L38.0 195.7L38.5 195.8L39.0 195.8L39.5 195.8L40.0 195.8L40.5 195.8L41.0 195.8L41.5 195.9L42.0 195.9L42.5 195.9L43.0 195.9L43.5 195.9L44.0 195.9L44.5 196.0L45.0 196.0L45.5 196.0L46.0 196.0L46.5 196.0L47.0 196.0L47.5 196.0L48.0 196.1L48.5 196.1L49.0 196.1L49.5 196.1L50.0 196.1L50.5 196.1L51.0 196.1L51.5 196.2L52.0 196.2L52.5 196.2L53.0 196.2L53.5 196.2L54.0 196.2L54.5 196.2L55.0 196.2L55.5 196.2L56.0 196.2L56.5 196.3L57.0 196.3L57.5 196.3L58.0 196.3L58.5 196.3L59.0 196.3L59.5 196.3L60.0 196.3L60.5 196.3L61.0 196.3L61.5 196.3L62.0 196.3L62.5 196.3L63.0 196.3L63.5 196.3L64.0 196.3L64.5 196.3L65.0 196.3L65.5 196.4L66.0 196.4L66.5 196.4L67.0 196.4L67.5 196.4L68.0 196.4L68.5 196.4L69.0 196.4L69.5 196.4L70.0 196.4L70.5 196.4L71.0 196.4L71.5 196.4L72.0 196.4L72.5 196.4L73.0 196.4L73.5 196.4L74.0 196.4L74.5 196.4L75.0 196.4L75.5 196.4L76.0 196.4L76.5 196.4L77.0 196.4L77.5 196.4L78.0 196.4L78.5 196.5L79.0 196.5L79.5 196.5L80.0 196.5L80.5 196.5L81.0 196.5L81.5 196.5L82.0 196.5L82.5 196.5L83.0 196.5L83.5 196.5L84.0 196.5L84.5 196.5L85.0 196.5L85.5 196.5L86.0 196.5L86.5 196.5L87.0 196.5L87.5 196.5L88.0 196.5L88.5 196.5L89.0 196.5L89.5 196.5L90.0 196.5L90.5 196.5L91.0 196.5L91.5 196.5L92.0 196.5L92.5 196.5L93.0 196.5L93.5 196.5L94.0 196.6L94.5 196.6L95.0 196.6L95.5 196.6L96.0 196.6L96.5 196.6L97.0 196.6L97.5 196.6L98.0 196.6L98.5 196.6L99.0 196.6L99.5 196.6L100.0 196.6L100.5 196.6L101.0 196.6L101.5 196.6L102.0 196.6L102.5 196.6L103.0 196.6L103.5 196.6L104.0 196.6L104.5 196.6L105.0 196.6L105.5 196.6L106.0 196.6L106.5 196.6L107.0 196.6L107.5 196.6L108.0 196.6L108.5 196.6L109.0 196.6L109.5 196.6L110.0 196.6L110.5 196.6L111.0 196.6L111.5 196.7L112.0 196.7L112.5 196.7L113.0 196.7L113.5 196.7L114.0 196.7L114.5 196.7L115.0 196.7L115.5 196.7L116.0 196.7L116.5 196.7L117.0 196.7L117.5 196.7L118.0 196.7L118.5 196.7L119.0 196.7L119.5 196.7L120.0 196.7L120.5 196.7L121.0 196.7L121.5 196.7L122.0 196.7L122.5 196.7L123.0 196.7L123.5 196.7L124.0 196.7L124.5 196.7L125.0 196.7L125.5 196.7L126.0 196.7L126.5 196.7L127.0 196.7L127.5 196.7L128.0 196.7L128.5 196.7L129.0 196.7L129.5 196.7L130.0 196.7L130.5 196.7L131.0 196.8L131.5 196.8L132.0 196.8L132.5 196.8L133.0 196.8L133.5 196.8L134.0 196.8L134.5 196.8L135.0 196.8L135.5 196.8L136.0 196.8L136.5 196.8L137.0 196.8L137.5 196.8L138.0 196.8L138.5 196.8L139.0 196.8L139.5 196.8L140.0 196.8L140.5 196.8L141.0 196.8L141.5 196.8L142.0 196.8L142.5 196.8L143.0 196.8L143.5 196.8L144.0 196.8L144.5 196.8L145.0 196.8L145.5 196.8L146.0 196.8L146.5 196.8L147.0 196.8L147.5 196.8L148.0 196.8L148.5 196.8L149.0 196.8L149.5 196.8L150.0 196.8L150.5 196.8L151.0 196.8L151.5 196.8L152.0 196.8L152.5 196.7L153.0 196.7L153.5 196.7L154.0 196.7L154.5 196.7L155.0 196.7L155.5 196.7L156.0 196.7L156.5 196.7L157.0 196.7L157.5 196.7L158.0 196.7L158.5 196.7L159.0 196.7L159.5 196.7L160.0 196.7L160.5 196.7L161.0 196.7L161.5 196.6L162.0 196.6L162.5 196.6L163.0 196.5L163.5 196.5L164.0 196.4L164.5 196.3L165.0 196.2L165.5 196.1L166.0 196.0L166.5 195.9L167.0 195.8L167.5 195.6L168.0 195.5L168.5 195.3L169.0 195.2L169.5 195.1L170.0 194.9L170.5 194.8L171.0 194.6L171.5 194.5L172.0 194.4L172.5 194.3L173.0 194.2L173.5 194.1L174.0 194.0L174.5 193.9L175.0 193.8L175.5 193.7L176.0 193.6L176.5 193.6L177.0 193.5L177.5 193.4L178.0 193.4L178.5 193.3L179.0 193.3L179.5 193.2L180.0 193.2L180.5 193.1L181.0 193.1L181.5 193.0L182.0 193.0L182.5 192.9L183.0 192.9L183.5 192.9L184.0 192.8L184.5 192.8L185.0 192.8L185.5 192.8L186.0 192.7L186.5 192.7L187.0 192.7L187.5 192.7L188.0 192.7L188.5 192.7L189.0 192.7L189.5 192.8L190.0 192.8L190.5 192.8L191.0 192.8L191.5 192.9L192.0 192.9L192.5 192.9L193.0 193.0L193.5 193.0L194.0 193.1L194.5 193.1L195.0 193.2L195.5 193.2L196.0 193.3L196.5 193.3L197.0 193.4L197.5 193.5L198.0 193.5L198.5 193.6L199.0 193.6L199.5 193.7L200.0 193.8L200.5 193.8L201.0 193.9L201.5 194.0L202.0 194.0L202.5 194.1L203.0 194.2L203.5 194.3L204.0 194.4L204.5 194.4L205.0 194.5L205.5 194.6L206.0 194.7L206.5 194.8L207.0 194.9L207.5 194.9L208.0 195.0L208.5 195.1L209.0 195.2L209.5 195.3L210.0 195.4L210.5 195.5L211.0 195.5L211.5 195.6L212.0 195.7L212.5 195.8L213.0 195.8L213.5 195.9L214.0 195.9L214.5 196.0L215.0 196.0L215.5 196.0L216.0 196.1L216.5 196.1L217.0 196.1L217.5 196.0L218.0 196.0L218.5 195.9L219.0 195.8L219.5 195.7L220.0 195.4L220.5 195.1L221.0 194.6L221.5 194.1L222.0 193.5L222.5 192.7L223.0 191.6L223.5 190.3L224.0 188.8L224.5 187.1L225.0 185.2L225.5 182.8L226.0 180.0L226.5 176.9L227.0 173.7L227.5 170.6L228.0 168.0L228.5 165.4L229.0 162.8L229.5 160.5L230.0 159.0L230.5 158.6L231.0 159.6L231.5 161.5L232.0 163.8L232.5 166.0L233.0 168.2L233.5 170.7L234.0 173.1L234.5 175.1L235.0 176.4L235.5 176.9L236.0 177.1L236.5 177.2L237.0 177.5L237.5 178.3L238.0 179.3L238.5 180.3L239.0 181.3L239.5 182.3L240.0 183.5L240.5 184.6L241.0 185.6L241.5 186.3L242.0 186.9L242.5 187.4L243.0 187.8L243.5 188.2L244.0 188.6L244.5 188.9L245.0 189.2L245.5 189.4L246.0 189.7L246.5 189.9L247.0 190.2L247.5 190.4L248.0 190.6L248.5 190.7L249.0 190.9L249.5 191.0L250.0 191.1L250.5 191.1L251.0 190.8L251.5 190.4L252.0 189.8L252.5 189.1L253.0 188.2L253.5 187.2L254.0 185.6L254.5 183.1L255.0 180.0L255.5 176.4L256.0 172.7L256.5 169.1L257.0 165.9L257.5 163.1L258.0 160.1L258.5 156.9L259.0 153.9L259.5 151.1L260.0 148.9L260.5 147.3L261.0 146.7L261.5 147.3L262.0 149.0L262.5 151.6L263.0 154.8L263.5 158.2L264.0 161.5L264.5 164.3L265.0 166.7L265.5 169.3L266.0 171.8L266.5 174.3L267.0 176.6L267.5 178.6L268.0 180.2L268.5 181.3L269.0 182.3L269.5 183.3L270.0 184.2L270.5 185.0L271.0 185.8L271.5 186.5L272.0 187.2L272.5 187.8L273.0 188.3L273.5 188.8L274.0 189.2L274.5 189.5L275.0 189.8L275.5 190.1L276.0 190.5L276.5 190.8L277.0 191.1L277.5 191.4L278.0 191.7L278.5 192.0L279.0 192.2L279.5 192.5L280.0 192.7L280.5 192.9L281.0 193.1L281.5 193.2L282.0 193.3L282.5 193.4L283.0 193.5L283.5 193.5L284.0 193.6L284.5 193.7L285.0 193.8L285.5 193.8L286.0 193.9L286.5 193.9L287.0 194.0L287.5 194.0L288.0 194.1L288.5 194.1L289.0 194.2L289.5 194.2L290.0 194.2L290.5 194.2L291.0 194.3L291.5 194.3L292.0 194.3L292.5 194.3L293.0 194.3L293.5 194.2L294.0 194.2L294.5 194.2L295.0 194.1L295.5 194.1L296.0 194.0L296.3 194.0" fill="none" stroke="#ff00ff" stroke-width="1.70" stroke-linejoin="round" stroke-linecap="round"/>
<path d="M26.0 183.4L26.5 183.5L27.0 183.5L27.5 183.5L28.0 183.5L28.5 183.5L29.0 183.5L29.5 183.6L30.0 183.6L30.5 183.6L31.0 183.6L31.5 183.6L32.0 183.7L32.5 183.7L33.0 183.7L33.5 183.7L34.0 183.7L34.5 183.8L35.0 183.8L35.5 183.8L36.0 183.8L36.5 183.8L37.0 183.9L37.5 183.9L38.0 183.9L38.5 183.9L39.0 183.9L39.5 184.0L40.0 184.0L40.5 184.0L41.0 184.0L41.5 184.0L42.0 184.1L42.5 184.1L43.0 184.1L43.5 184.1L44.0 184.1L44.5 184.2L45.0 184.2L45.5 184.2L46.0 184.2L46.5 184.2L47.0 184.2L47.5 184.3L48.0 184.3L48.5 184.3L49.0 184.3L49.5 184.3L50.0 184.3L50.5 184.3L51.0 184.4L51.5 184.4L52.0 184.4L52.5 184.4L53.0 184.4L53.5 184.4L54.0 184.4L54.5 184.4L55.0 184.4L55.5 184.4L56.0 184.5L56.5 184.5L57.0 184.5L57.5 184.5L58.0 184.5L58.5 184.5L59.0 184.5L59.5 184.5L60.0 184.5L60.5 184.5L61.0 184.5L61.5 184.5L62.0 184.5L62.5 184.5L63.0 184.5L63.5 184.5L64.0 184.5L64.5 184.5L65.0 184.5L65.5 184.5L66.0 184.5L66.5 184.5L67.0 184.5L67.5 184.5L68.0 184.5L68.5 184.5L69.0 184.5L69.5 184.5L70.0 184.5L70.5 184.5L71.0 184.6L71.5 184.6L72.0 184.6L72.5 184.6L73.0 184.6L73.5 184.6L74.0 184.6L74.5 184.6L75.0 184.6L75.5 184.6L76.0 184.6L76.5 184.6L77.0 184.6L77.5 184.6L78.0 184.6L78.5 184.6L79.0 184.6L79.5 184.6L80.0 184.6L80.5 184.6L81.0 184.6L81.5 184.6L82.0 184.6L82.5 184.6L83.0 184.6L83.5 184.6L84.0 184.6L84.5 184.6L85.0 184.6L85.5 184.6L86.0 184.6L86.5 184.6L87.0 184.6L87.5 184.6L88.0 184.6L88.5 184.6L89.0 184.6L89.5 184.6L90.0 184.6L90.5 184.6L91.0 184.6L91.5 184.6L92.0 184.6L92.5 184.6L93.0 184.6L93.5 184.6L94.0 184.6L94.5 184.6L95.0 184.6L95.5 184.6L96.0 184.6L96.5 184.6L97.0 184.6L97.5 184.6L98.0 184.6L98.5 184.6L99.0 184.6L99.5 184.6L100.0 184.6L100.5 184.6L101.0 184.6L101.5 184.6L102.0 184.6L102.5 184.7L103.0 184.7L103.5 184.7L104.0 184.7L104.5 184.7L105.0 184.7L105.5 184.7L106.0 184.7L106.5 184.7L107.0 184.7L107.5 184.7L108.0 184.7L108.5 184.7L109.0 184.7L109.5 184.7L110.0 184.7L110.5 184.7L111.0 184.7L111.5 184.7L112.0 184.7L112.5 184.7L113.0 184.7L113.5 184.7L114.0 184.7L114.5 184.7L115.0 184.7L115.5 184.7L116.0 184.7L116.5 184.7L117.0 184.7L117.5 184.7L118.0 184.7L118.5 184.7L119.0 184.7L119.5 184.7L120.0 184.7L120.5 184.7L121.0 184.7L121.5 184.7L122.0 184.7L122.5 184.7L123.0 184.7L123.5 184.7L124.0 184.7L124.5 184.7L125.0 184.7L125.5 184.7L126.0 184.7L126.5 184.7L127.0 184.7L127.5 184.7L128.0 184.7L128.5 184.7L129.0 184.7L129.5 184.7L130.0 184.7L130.5 184.7L131.0 184.7L131.5 184.7L132.0 184.7L132.5 184.7L133.0 184.7L133.5 184.7L134.0 184.7L134.5 184.7L135.0 184.7L135.5 184.7L136.0 184.7L136.5 184.7L137.0 184.7L137.5 184.7L138.0 184.7L138.5 184.7L139.0 184.7L139.5 184.7L140.0 184.7L140.5 184.7L141.0 184.7L141.5 184.7L142.0 184.7L142.5 184.7L143.0 184.7L143.5 184.7L144.0 184.7L144.5 184.7L145.0 184.7L145.5 184.7L146.0 184.7L146.5 184.7L147.0 184.7L147.5 184.7L148.0 184.7L148.5 184.7L149.0 184.7L149.5 184.7L150.0 184.7L150.5 184.7L151.0 184.7L151.5 184.7L152.0 184.7L152.5 184.7L153.0 184.7L153.5 184.7L154.0 184.7L154.5 184.7L155.0 184.7L155.5 184.7L156.0 184.7L156.5 184.7L157.0 184.7L157.5 184.7L158.0 184.7L158.5 184.7L159.0 184.7L159.5 184.7L160.0 184.7L160.5 184.7L161.0 184.7L161.5 184.7L162.0 184.7L162.5 184.7L163.0 184.7L163.5 184.7L164.0 184.6L164.5 184.6L165.0 184.6L165.5 184.5L166.0 184.4L166.5 184.4L167.0 184.2L167.5 184.1L168.0 184.0L168.5 183.8L169.0 183.6L169.5 183.5L170.0 183.3L170.5 183.1L171.0 182.9L171.5 182.7L172.0 182.5L172.5 182.3L173.0 182.1L173.5 181.9L174.0 181.8L174.5 181.6L175.0 181.4L175.5 181.3L176.0 181.2L176.5 181.0L177.0 180.9L177.5 180.8L178.0 180.6L178.5 180.5L179.0 180.4L179.5 180.3L180.0 180.2L180.5 180.0L181.0 179.9L181.5 179.8L182.0 179.7L182.5 179.7L183.0 179.6L183.5 179.5L184.0 179.4L184.5 179.4L185.0 179.3L185.5 179.3L186.0 179.2L186.5 179.2L187.0 179.2L187.5 179.2L188.0 179.2L188.5 179.2L189.0 179.3L189.5 179.3L190.0 179.4L190.5 179.4L191.0 179.5L191.5 179.6L192.0 179.7L192.5 179.8L193.0 179.9L193.5 180.0L194.0 180.1L194.5 180.2L195.0 180.3L195.5 180.4L196.0 180.5L196.5 180.7L197.0 180.8L197.5 180.9L198.0 181.0L198.5 181.2L199.0 181.3L199.5 181.5L200.0 181.6L200.5 181.8L201.0 181.9L201.5 182.1L202.0 182.2L202.5 182.4L203.0 182.5L203.5 182.7L204.0 182.8L204.5 183.0L205.0 183.1L205.5 183.2L206.0 183.4L206.5 183.5L207.0 183.6L207.5 183.7L208.0 183.8L208.5 183.9L209.0 184.0L209.5 184.1L210.0 184.2L210.5 184.2L211.0 184.3L211.5 184.3L212.0 184.4L212.5 184.4L213.0 184.5L213.5 184.5L214.0 184.5L214.5 184.6L215.0 184.6L215.5 184.6L216.0 184.6L216.5 184.6L217.0 184.6L217.5 184.6L218.0 184.5L218.5 184.5L219.0 184.4L219.5 184.2L220.0 184.0L220.5 183.7L221.0 183.3L221.5 182.8L222.0 182.3L222.5 181.6L223.0 180.9L223.5 179.9L224.0 178.7L224.5 177.3L225.0 175.6L225.5 173.7L226.0 171.8L226.5 169.7L227.0 167.2L227.5 164.5L228.0 161.7L228.5 159.2L229.0 157.0L229.5 154.9L230.0 153.0L230.5 151.6L231.0 151.1L231.5 151.9L232.0 153.4L232.5 155.3L233.0 157.0L233.5 158.7L234.0 160.5L234.5 162.1L235.0 163.2L235.5 163.6L236.0 163.7L236.5 163.7L237.0 163.9L237.5 164.5L238.0 165.3L238.5 166.2L239.0 167.3L239.5 168.3L240.0 169.4L240.5 170.4L241.0 171.4L241.5 172.3L242.0 173.1L242.5 173.7L243.0 174.3L243.5 174.9L244.0 175.4L244.5 175.9L245.0 176.4L245.5 176.8L246.0 177.3L246.5 177.7L247.0 178.0L247.5 178.4L248.0 178.7L248.5 179.0L249.0 179.3L249.5 179.6L250.0 179.8L250.5 179.9L251.0 179.7L251.5 179.3L252.0 178.8L252.5 177.9L253.0 176.3L253.5 174.1L254.0 171.4L254.5 168.5L255.0 165.5L255.5 162.6L256.0 160.0L256.5 157.5L257.0 155.0L257.5 152.5L258.0 150.0L258.5 147.5L259.0 145.2L259.5 143.0L260.0 140.8L260.5 138.7L261.0 136.9L261.5 135.6L262.0 135.2L262.5 136.1L263.0 138.3L263.5 141.4L264.0 144.8L264.5 148.0L265.0 151.3L265.5 155.0L266.0 158.6L266.5 161.9L267.0 164.4L267.5 166.2L268.0 167.8L268.5 169.4L269.0 170.8L269.5 172.2L270.0 173.4L270.5 174.5L271.0 175.5L271.5 176.4L272.0 177.2L272.5 177.8L273.0 178.3L273.5 178.6L274.0 178.9L274.5 179.3L275.0 179.6L275.5 179.9L276.0 180.2L276.5 180.6L277.0 180.9L277.5 181.1L278.0 181.4L278.5 181.7L279.0 181.9L279.5 182.1L280.0 182.3L280.5 182.5L281.0 182.6L281.5 182.7L282.0 182.8L282.5 182.8L283.0 182.9L283.5 182.9L284.0 183.0L284.5 183.0L285.0 183.1L285.5 183.1L286.0 183.1L286.5 183.2L287.0 183.2L287.5 183.2L288.0 183.3L288.5 183.3L289.0 183.3L289.5 183.3L290.0 183.3L290.5 183.3L291.0 183.3L291.5 183.3L292.0 183.3L292.5 183.3L293.0 183.2L293.5 183.2L294.0 183.1L294.5 183.1L295.0 183.0L295.5 182.9L296.0 182.9L296.3 182.8" fill="none" stroke="#800000" stroke-width="1.70" stroke-linejoin="round" stroke-linecap="round"/>
<path d="M26.0 172.6L26.5 172.7L27.0 172.7L27.5 172.7L28.0 172.7L28.5 172.7L29.0 172.7L29.5 172.7L30.0 172.7L30.5 172.8L31.0 172.8L31.5 172.8L32.0 172.8L32.5 172.8L33.0 172.8L33.5 172.9L34.0 172.9L34.5 172.9L35.0 172.9L35.5 172.9L36.0 172.9L36.5 173.0L37.0 173.0L37.5 173.0L38.0 173.0L38.5 173.0L39.0 173.0L39.5 173.1L40.0 173.1L40.5 173.1L41.0 173.1L41.5 173.1L42.0 173.1L42.5 173.1L43.0 173.2L43.5 173.2L44.0 173.2L44.5 173.2L45.0 173.2L45.5 173.2L46.0 173.2L46.5 173.3L47.0 173.3L47.5 173.3L48.0 173.3L48.5 173.3L49.0 173.3L49.5 173.3L50.0 173.3L50.5 173.4L51.0 173.4L51.5 173.4L52.0 173.4L52.5 173.4L53.0 173.4L53.5 173.4L54.0 173.4L54.5 173.4L55.0 173.4L55.5 173.4L56.0 173.5L56.5 173.5L57.0 173.5L57.5 173.5L58.0 173.5L58.5 173.5L59.0 173.5L59.5 173.5L60.0 173.5L60.5 173.5L61.0 173.5L61.5 173.5L62.0 173.5L62.5 173.5L63.0 173.5L63.5 173.5L64.0 173.5L64.5 173.5L65.0 173.5L65.5 173.5L66.0 173.5L66.5 173.5L67.0 173.5L67.5 173.6L68.0 173.6L68.5 173.6L69.0 173.6L69.5 173.6L70.0 173.6L70.5 173.6L71.0 173.6L71.5 173.6L72.0 173.6L72.5 173.6L73.0 173.6L73.5 173.6L74.0 173.6L74.5 173.6L75.0 173.6L75.5 173.6L76.0 173.6L76.5 173.6L77.0 173.6L77.5 173.6L78.0 173.6L78.5 173.6L79.0 173.6L79.5 173.6L80.0 173.6L80.5 173.6L81.0 173.6L81.5 173.6L82.0 173.6L82.5 173.6L83.0 173.6L83.5 173.6L84.0 173.6L84.5 173.7L85.0 173.7L85.5 173.7L86.0 173.7L86.5 173.7L87.0 173.7L87.5 173.7L88.0 173.7L88.5 173.7L89.0 173.7L89.5 173.7L90.0 173.7L90.5 173.7L91.0 173.7L91.5 173.7L92.0 173.7L92.5 173.7L93.0 173.7L93.5 173.7L94.0 173.7L94.5 173.7L95.0 173.7L95.5 173.7L96.0 173.7L96.5 173.7L97.0 173.7L97.5 173.7L98.0 173.7L98.5 173.7L99.0 173.7L99.5 173.7L100.0 173.7L100.5 173.7L101.0 173.7L101.5 173.7L102.0 173.7L102.5 173.7L103.0 173.7L103.5 173.7L104.0 173.7L104.5 173.7L105.0 173.7L105.5 173.7L106.0 173.8L106.5 173.8L107.0 173.8L107.5 173.8L108.0 173.8L108.5 173.8L109.0 173.8L109.5 173.8L110.0 173.8L110.5 173.8L111.0 173.8L111.5 173.8L112.0 173.8L112.5 173.8L113.0 173.8L113.5 173.8L114.0 173.8L114.5 173.8L115.0 173.8L115.5 173.8L116.0 173.8L116.5 173.8L117.0 173.8L117.5 173.8L118.0 173.8L118.5 173.8L119.0 173.8L119.5 173.8L120.0 173.8L120.5 173.8L121.0 173.8L121.5 173.8L122.0 173.8L122.5 173.8L123.0 173.8L123.5 173.8L124.0 173.8L124.5 173.8L125.0 173.8L125.5 173.8L126.0 173.8L126.5 173.8L127.0 173.8L127.5 173.8L128.0 173.8L128.5 173.8L129.0 173.8L129.5 173.8L130.0 173.8L130.5 173.8L131.0 173.8L131.5 173.8L132.0 173.8L132.5 173.8L133.0 173.8L133.5 173.8L134.0 173.8L134.5 173.8L135.0 173.8L135.5 173.8L136.0 173.8L136.5 173.8L137.0 173.8L137.5 173.8L138.0 173.8L138.5 173.8L139.0 173.8L139.5 173.8L140.0 173.9L140.5 173.9L141.0 173.9L141.5 173.9L142.0 173.9L142.5 173.9L143.0 173.9L143.5 173.9L144.0 173.9L144.5 173.9L145.0 173.9L145.5 173.9L146.0 173.9L146.5 173.9L147.0 173.9L147.5 173.9L148.0 173.9L148.5 173.9L149.0 173.9L149.5 173.9L150.0 173.9L150.5 173.9L151.0 173.9L151.5 173.9L152.0 173.9L152.5 173.9L153.0 173.9L153.5 173.9L154.0 173.9L154.5 173.9L155.0 173.9L155.5 173.9L156.0 173.9L156.5 173.9L157.0 173.9L157.5 173.9L158.0 173.9L158.5 173.9L159.0 173.9L159.5 173.9L160.0 173.9L160.5 173.9L161.0 173.9L161.5 173.9L162.0 173.9L162.5 173.9L163.0 173.9L163.5 173.9L164.0 173.9L164.5 173.9L165.0 173.9L165.5 173.9L166.0 173.9L166.5 173.9L167.0 173.9L167.5 173.9L168.0 173.9L168.5 173.9L169.0 173.9L169.5 173.9L170.0 173.9L170.5 173.9L171.0 173.9L171.5 173.9L172.0 173.9L172.5 173.9L173.0 173.9L173.5 173.9L174.0 173.9L174.5 173.9L175.0 173.9L175.5 173.9L176.0 173.9L176.5 173.9L177.0 173.9L177.5 173.9L178.0 173.9L178.5 173.8L179.0 173.8L179.5 173.8L180.0 173.8L180.5 173.8L181.0 173.8L181.5 173.8L182.0 173.8L182.5 173.8L183.0 173.8L183.5 173.8L184.0 173.8L184.5 173.8L185.0 173.8L185.5 173.8L186.0 173.7L186.5 173.7L187.0 173.7L187.5 173.7L188.0 173.7L188.5 173.7L189.0 173.7L189.5 173.7L190.0 173.7L190.5 173.7L191.0 173.7L191.5 173.7L192.0 173.6L192.5 173.6L193.0 173.6L193.5 173.6L194.0 173.6L194.5 173.6L195.0 173.6L195.5 173.6L196.0 173.6L196.5 173.6L197.0 173.6L197.5 173.5L198.0 173.5L198.5 173.5L199.0 173.5L199.5 173.5L200.0 173.5L200.5 173.5L201.0 173.4L201.5 173.4L202.0 173.4L202.5 173.3L203.0 173.3L203.5 173.2L204.0 173.2L204.5 173.1L205.0 173.1L205.5 173.0L206.0 172.9L206.5 172.9L207.0 172.8L207.5 172.7L208.0 172.6L208.5 172.6L209.0 172.5L209.5 172.4L210.0 172.3L210.5 172.2L211.0 172.1L211.5 172.1L212.0 172.0L212.5 171.9L213.0 171.8L213.5 171.7L214.0 171.6L214.5 171.4L215.0 171.3L215.5 171.2L216.0 171.0L216.5 170.9L217.0 170.7L217.5 170.6L218.0 170.4L218.5 170.2L219.0 170.0L219.5 169.8L220.0 169.6L220.5 169.5L221.0 169.3L221.5 169.0L222.0 168.8L222.5 168.6L223.0 168.4L223.5 168.2L224.0 167.9L224.5 167.6L225.0 167.2L225.5 166.8L226.0 166.4L226.5 166.0L227.0 165.5L227.5 164.8L228.0 163.4L228.5 160.7L229.0 157.1L229.5 153.3L230.0 150.0L230.5 146.6L231.0 142.9L231.5 139.4L232.0 137.1L232.5 136.6L233.0 138.5L233.5 141.8L234.0 145.0L234.5 148.0L235.0 151.0L235.5 152.7L236.0 153.3L236.5 153.8L237.0 154.2L237.5 154.5L238.0 154.7L238.5 154.9L239.0 155.2L239.5 155.5L240.0 156.0L240.5 156.5L241.0 157.0L241.5 157.5L242.0 158.1L242.5 158.6L243.0 159.1L243.5 159.7L244.0 160.2L244.5 160.7L245.0 161.1L245.5 161.6L246.0 162.0L246.5 162.4L247.0 162.7L247.5 163.0L248.0 163.3L248.5 163.5L249.0 163.7L249.5 163.9L250.0 164.0L250.5 164.2L251.0 164.3L251.5 164.4L252.0 164.4L252.5 164.3L253.0 164.0L253.5 163.5L254.0 162.9L254.5 162.2L255.0 161.3L255.5 160.4L256.0 159.3L256.5 157.6L257.0 155.4L257.5 152.7L258.0 149.7L258.5 146.6L259.0 143.5L259.5 140.7L260.0 138.0L260.5 134.9L261.0 131.7L261.5 128.6L262.0 125.9L262.5 123.9L263.0 122.9L263.5 123.3L264.0 125.0L264.5 127.6L265.0 130.9L265.5 134.5L266.0 138.2L266.5 141.5L267.0 144.2L267.5 146.2L268.0 148.3L268.5 150.4L269.0 152.5L269.5 154.4L270.0 156.3L270.5 158.0L271.0 159.5L271.5 160.8L272.0 161.8L272.5 162.7L273.0 163.5L273.5 164.2L274.0 165.0L274.5 165.7L275.0 166.5L275.5 167.1L276.0 167.7L276.5 168.3L277.0 168.9L277.5 169.3L278.0 169.7L278.5 170.1L279.0 170.4L279.5 170.6L280.0 170.8L280.5 170.9L281.0 171.1L281.5 171.3L282.0 171.4L282.5 171.6L283.0 171.7L283.5 171.9L284.0 172.0L284.5 172.1L285.0 172.3L285.5 172.4L286.0 172.5L286.5 172.6L287.0 172.7L287.5 172.7L288.0 172.8L288.5 172.9L289.0 172.9L289.5 172.9L290.0 173.0L290.5 173.0L291.0 173.0L291.5 173.0L292.0 172.9L292.5 172.9L293.0 172.8L293.5 172.8L294.0 172.7L294.5 172.6L295.0 172.5L295.5 172.3L296.0 172.2L296.3 172.1" fill="none" stroke="#00ff00" stroke-width="1.70" stroke-linejoin="round" stroke-linecap="round"/>
<path d="M26.0 160.6L26.5 160.7L27.0 160.7L27.5 160.7L28.0 160.7L28.5 160.7L29.0 160.7L29.5 160.7L30.0 160.7L30.5 160.8L31.0 160.8L31.5 160.8L32.0 160.8L32.5 160.8L33.0 160.8L33.5 160.9L34.0 160.9L34.5 160.9L35.0 160.9L35.5 160.9L36.0 160.9L36.5 161.0L37.0 161.0L37.5 161.0L38.0 161.0L38.5 161.0L39.0 161.0L39.5 161.1L40.0 161.1L40.5 161.1L41.0 161.1L41.5 161.1L42.0 161.1L42.5 161.1L43.0 161.2L43.5 161.2L44.0 161.2L44.5 161.2L45.0 161.2L45.5 161.2L46.0 161.2L46.5 161.3L47.0 161.3L47.5 161.3L48.0 161.3L48.5 161.3L49.0 161.3L49.5 161.3L50.0 161.3L50.5 161.4L51.0 161.4L51.5 161.4L52.0 161.4L52.5 161.4L53.0 161.4L53.5 161.4L54.0 161.4L54.5 161.4L55.0 161.4L55.5 161.4L56.0 161.5L56.5 161.5L57.0 161.5L57.5 161.5L58.0 161.5L58.5 161.5L59.0 161.5L59.5 161.5L60.0 161.5L60.5 161.5L61.0 161.5L61.5 161.5L62.0 161.5L62.5 161.5L63.0 161.5L63.5 161.5L64.0 161.5L64.5 161.5L65.0 161.5L65.5 161.5L66.0 161.5L66.5 161.5L67.0 161.5L67.5 161.6L68.0 161.6L68.5 161.6L69.0 161.6L69.5 161.6L70.0 161.6L70.5 161.6L71.0 161.6L71.5 161.6L72.0 161.6L72.5 161.6L73.0 161.6L73.5 161.6L74.0 161.6L74.5 161.6L75.0 161.6L75.5 161.6L76.0 161.6L76.5 161.6L77.0 161.6L77.5 161.6L78.0 161.6L78.5 161.6L79.0 161.6L79.5 161.6L80.0 161.6L80.5 161.6L81.0 161.6L81.5 161.6L82.0 161.6L82.5 161.6L83.0 161.6L83.5 161.6L84.0 161.6L84.5 161.6L85.0 161.6L85.5 161.6L86.0 161.6L86.5 161.6L87.0 161.6L87.5 161.6L88.0 161.6L88.5 161.6L89.0 161.6L89.5 161.6L90.0 161.6L90.5 161.6L91.0 161.6L91.5 161.6L92.0 161.6L92.5 161.6L93.0 161.6L93.5 161.6L94.0 161.6L94.5 161.6L95.0 161.6L95.5 161.6L96.0 161.6L96.5 161.6L97.0 161.6L97.5 161.6L98.0 161.6L98.5 161.6L99.0 161.6L99.5 161.6L100.0 161.6L100.5 161.6L101.0 161.6L101.5 161.6L102.0 161.7L102.5 161.7L103.0 161.7L103.5 161.7L104.0 161.7L104.5 161.7L105.0 161.7L105.5 161.7L106.0 161.7L106.5 161.7L107.0 161.7L107.5 161.7L108.0 161.7L108.5 161.7L109.0 161.7L109.5 161.7L110.0 161.7L110.5 161.7L111.0 161.7L111.5 161.7L112.0 161.7L112.5 161.7L113.0 161.7L113.5 161.7L114.0 161.7L114.5 161.7L115.0 161.7L115.5 161.7L116.0 161.7L116.5 161.7L117.0 161.7L117.5 161.7L118.0 161.7L118.5 161.7L119.0 161.7L119.5 161.7L120.0 161.7L120.5 161.7L121.0 161.7L121.5 161.7L122.0 161.7L122.5 161.7L123.0 161.7L123.5 161.7L124.0 161.7L124.5 161.7L125.0 161.7L125.5 161.7L126.0 161.7L126.5 161.7L127.0 161.8L127.5 161.8L128.0 161.8L128.5 161.8L129.0 161.8L129.5 161.8L130.0 161.8L130.5 161.8L131.0 161.8L131.5 161.8L132.0 161.8L132.5 161.8L133.0 161.8L133.5 161.8L134.0 161.8L134.5 161.9L135.0 161.9L135.5 161.9L136.0 161.9L136.5 161.9L137.0 161.9L137.5 161.9L138.0 161.9L138.5 161.9L139.0 161.9L139.5 161.9L140.0 161.9L140.5 161.9L141.0 162.0L141.5 162.0L142.0 162.0L142.5 162.0L143.0 162.0L143.5 162.0L144.0 162.0L144.5 162.0L145.0 162.0L145.5 162.0L146.0 162.0L146.5 162.0L147.0 162.0L147.5 162.1L148.0 162.1L148.5 162.1L149.0 162.1L149.5 162.1L150.0 162.1L150.5 162.1L151.0 162.1L151.5 162.1L152.0 162.1L152.5 162.1L153.0 162.1L153.5 162.1L154.0 162.1L154.5 162.1L155.0 162.1L155.5 162.1L156.0 162.2L156.5 162.2L157.0 162.2L157.5 162.2L158.0 162.2L158.5 162.2L159.0 162.2L159.5 162.2L160.0 162.2L160.5 162.2L161.0 162.2L161.5 162.2L162.0 162.2L162.5 162.2L163.0 162.2L163.5 162.2L164.0 162.1L164.5 162.1L165.0 162.1L165.5 162.0L166.0 162.0L166.5 161.9L167.0 161.8L167.5 161.7L168.0 161.6L168.5 161.4L169.0 161.3L169.5 161.2L170.0 161.0L170.5 160.9L171.0 160.8L171.5 160.7L172.0 160.6L172.5 160.5L173.0 160.4L173.5 160.3L174.0 160.2L174.5 160.2L175.0 160.1L175.5 160.0L176.0 160.0L176.5 159.9L177.0 159.8L177.5 159.8L178.0 159.7L178.5 159.7L179.0 159.6L179.5 159.6L180.0 159.5L180.5 159.5L181.0 159.5L181.5 159.4L182.0 159.4L182.5 159.4L183.0 159.4L183.5 159.3L184.0 159.3L184.5 159.3L185.0 159.3L185.5 159.3L186.0 159.3L186.5 159.3L187.0 159.3L187.5 159.3L188.0 159.4L188.5 159.4L189.0 159.4L189.5 159.4L190.0 159.4L190.5 159.4L191.0 159.5L191.5 159.5L192.0 159.5L192.5 159.5L193.0 159.6L193.5 159.6L194.0 159.6L194.5 159.6L195.0 159.7L195.5 159.7L196.0 159.7L196.5 159.8L197.0 159.8L197.5 159.9L198.0 159.9L198.5 159.9L199.0 160.0L199.5 160.0L200.0 160.1L200.5 160.1L201.0 160.2L201.5 160.2L202.0 160.3L202.5 160.3L203.0 160.4L203.5 160.4L204.0 160.5L204.5 160.5L205.0 160.6L205.5 160.6L206.0 160.7L206.5 160.7L207.0 160.8L207.5 160.8L208.0 160.9L208.5 160.9L209.0 161.0L209.5 161.0L210.0 161.1L210.5 161.2L211.0 161.2L211.5 161.3L212.0 161.3L212.5 161.4L213.0 161.4L213.5 161.5L214.0 161.6L214.5 161.6L215.0 161.7L215.5 161.7L216.0 161.8L216.5 161.8L217.0 161.9L217.5 161.9L218.0 161.9L218.5 162.0L219.0 161.9L219.5 161.9L220.0 161.8L220.5 161.6L221.0 161.4L221.5 161.1L222.0 160.7L222.5 160.2L223.0 159.6L223.5 159.0L224.0 158.1L224.5 156.6L225.0 154.5L225.5 151.9L226.0 148.9L226.5 145.9L227.0 142.7L227.5 138.9L228.0 135.2L228.5 132.0L229.0 129.1L229.5 126.3L230.0 124.4L230.5 124.1L231.0 125.8L231.5 128.5L232.0 131.0L232.5 133.3L233.0 135.6L233.5 137.0L234.0 137.3L234.5 137.5L235.0 137.5L235.5 137.5L236.0 137.6L236.5 137.7L237.0 138.0L237.5 138.2L238.0 138.5L238.5 138.8L239.0 139.0L239.5 139.3L240.0 139.6L240.5 139.9L241.0 140.2L241.5 140.5L242.0 140.8L242.5 141.1L243.0 141.4L243.5 141.7L244.0 142.0L244.5 142.4L245.0 142.7L245.5 143.0L246.0 143.3L246.5 143.6L247.0 144.0L247.5 144.3L248.0 144.7L248.5 145.1L249.0 145.4L249.5 145.8L250.0 146.1L250.5 146.5L251.0 146.8L251.5 147.0L252.0 147.2L252.5 147.0L253.0 146.5L253.5 145.8L254.0 144.8L254.5 143.8L255.0 142.4L255.5 140.2L256.0 137.4L256.5 134.1L257.0 130.6L257.5 127.3L258.0 124.3L258.5 121.9L259.0 119.6L259.5 117.4L260.0 115.3L260.5 113.5L261.0 112.1L261.5 111.3L262.0 111.1L262.5 111.7L263.0 112.8L263.5 114.3L264.0 116.1L264.5 118.0L265.0 120.2L265.5 122.7L266.0 125.4L266.5 128.1L267.0 130.5L267.5 132.6L268.0 134.7L268.5 136.7L269.0 138.8L269.5 140.7L270.0 142.6L270.5 144.3L271.0 145.8L271.5 147.1L272.0 148.1L272.5 149.0L273.0 149.8L273.5 150.6L274.0 151.3L274.5 152.1L275.0 152.8L275.5 153.5L276.0 154.1L276.5 154.7L277.0 155.2L277.5 155.7L278.0 156.1L278.5 156.5L279.0 156.8L279.5 157.0L280.0 157.2L280.5 157.4L281.0 157.6L281.5 157.8L282.0 158.0L282.5 158.2L283.0 158.4L283.5 158.6L284.0 158.8L284.5 159.0L285.0 159.1L285.5 159.3L286.0 159.5L286.5 159.6L287.0 159.7L287.5 159.8L288.0 159.9L288.5 160.0L289.0 160.1L289.5 160.1L290.0 160.1L290.5 160.2L291.0 160.2L291.5 160.2L292.0 160.2L292.5 160.3L293.0 160.3L293.5 160.3L294.0 160.3L294.5 160.2L295.0 160.2L295.5 160.2L296.0 160.1L296.3 160.1" fill="none" stroke="#00ffff" stroke-width="1.70" stroke-linejoin="round" stroke-linecap="round"/>
<path d="M26.0 149.8L26.5 149.8L27.0 149.8L27.5 149.8L28.0 149.8L28.5 149.8L29.0 149.9L29.5 149.9L30.0 149.9L30.5 149.9L31.0 149.9L31.5 149.9L32.0 149.9L32.5 149.9L33.0 149.9L33.5 149.9L34.0 149.9L34.5 149.9L35.0 149.9L35.5 149.9L36.0 150.0L36.5 150.0L37.0 150.0L37.5 150.0L38.0 150.0L38.5 150.0L39.0 150.0L39.5 150.0L40.0 150.0L40.5 150.0L41.0 150.0L41.5 150.0L42.0 150.0L42.5 150.1L43.0 150.1L43.5 150.1L44.0 150.1L44.5 150.1L45.0 150.1L45.5 150.1L46.0 150.1L46.5 150.1L47.0 150.1L47.5 150.1L48.0 150.1L48.5 150.1L49.0 150.1L49.5 150.2L50.0 150.2L50.5 150.2L51.0 150.2L51.5 150.2L52.0 150.2L52.5 150.2L53.0 150.2L53.5 150.2L54.0 150.2L54.5 150.2L55.0 150.2L55.5 150.2L56.0 150.2L56.5 150.3L57.0 150.3L57.5 150.3L58.0 150.3L58.5 150.3L59.0 150.3L59.5 150.3L60.0 150.3L60.5 150.3L61.0 150.3L61.5 150.3L62.0 150.3L62.5 150.3L63.0 150.3L63.5 150.3L64.0 150.4L64.5 150.4L65.0 150.4L65.5 150.4L66.0 150.4L66.5 150.4L67.0 150.4L67.5 150.4L68.0 150.4L68.5 150.4L69.0 150.4L69.5 150.4L70.0 150.4L70.5 150.4L71.0 150.5L71.5 150.5L72.0 150.5L72.5 150.5L73.0 150.5L73.5 150.5L74.0 150.5L74.5 150.5L75.0 150.5L75.5 150.5L76.0 150.5L76.5 150.5L77.0 150.5L77.5 150.6L78.0 150.6L78.5 150.6L79.0 150.6L79.5 150.6L80.0 150.6L80.5 150.6L81.0 150.6L81.5 150.6L82.0 150.6L82.5 150.6L83.0 150.6L83.5 150.6L84.0 150.7L84.5 150.7L85.0 150.7L85.5 150.7L86.0 150.7L86.5 150.7L87.0 150.7L87.5 150.7L88.0 150.7L88.5 150.7L89.0 150.7L89.5 150.7L90.0 150.7L90.5 150.7L91.0 150.8L91.5 150.8L92.0 150.8L92.5 150.8L93.0 150.8L93.5 150.8L94.0 150.8L94.5 150.8L95.0 150.8L95.5 150.8L96.0 150.8L96.5 150.8L97.0 150.8L97.5 150.8L98.0 150.8L98.5 150.8L99.0 150.9L99.5 150.9L100.0 150.9L100.5 150.9L101.0 150.9L101.5 150.9L102.0 150.9L102.5 150.9L103.0 150.9L103.5 150.9L104.0 150.9L104.5 150.9L105.0 150.9L105.5 150.9L106.0 150.9L106.5 150.9L107.0 150.9L107.5 150.9L108.0 150.9L108.5 150.9L109.0 150.9L109.5 151.0L110.0 151.0L110.5 151.0L111.0 151.0L111.5 151.0L112.0 151.0L112.5 151.0L113.0 151.0L113.5 151.0L114.0 151.0L114.5 151.0L115.0 151.0L115.5 151.0L116.0 151.0L116.5 151.0L117.0 151.0L117.5 151.0L118.0 151.0L118.5 151.0L119.0 151.0L119.5 151.0L120.0 151.0L120.5 151.0L121.0 151.0L121.5 151.0L122.0 151.0L122.5 151.0L123.0 151.0L123.5 151.0L124.0 151.0L124.5 151.0L125.0 151.0L125.5 151.0L126.0 151.0L126.5 151.0L127.0 151.0L127.5 151.0L128.0 151.0L128.5 151.0L129.0 151.0L129.5 151.0L130.0 151.0L130.5 151.0L131.0 151.0L131.5 151.0L132.0 151.0L132.5 151.0L133.0 150.9L133.5 150.9L134.0 150.9L134.5 150.9L135.0 150.9L135.5 150.9L136.0 150.9L136.5 150.9L137.0 150.9L137.5 150.9L138.0 150.9L138.5 150.9L139.0 150.9L139.5 150.9L140.0 150.9L140.5 150.9L141.0 150.9L141.5 150.9L142.0 150.9L142.5 150.8L143.0 150.8L143.5 150.8L144.0 150.8L144.5 150.8L145.0 150.8L145.5 150.8L146.0 150.8L146.5 150.8L147.0 150.8L147.5 150.8L148.0 150.8L148.5 150.8L149.0 150.8L149.5 150.8L150.0 150.7L150.5 150.7L151.0 150.7L151.5 150.7L152.0 150.7L152.5 150.7L153.0 150.7L153.5 150.7L154.0 150.7L154.5 150.7L155.0 150.7L155.5 150.7L156.0 150.7L156.5 150.7L157.0 150.6L157.5 150.6L158.0 150.6L158.5 150.6L159.0 150.6L159.5 150.6L160.0 150.6L160.5 150.6L161.0 150.6L161.5 150.6L162.0 150.6L162.5 150.6L163.0 150.6L163.5 150.6L164.0 150.6L164.5 150.5L165.0 150.5L165.5 150.5L166.0 150.5L166.5 150.5L167.0 150.5L167.5 150.5L168.0 150.5L168.5 150.5L169.0 150.5L169.5 150.5L170.0 150.5L170.5 150.5L171.0 150.5L171.5 150.5L172.0 150.5L172.5 150.4L173.0 150.4L173.5 150.4L174.0 150.4L174.5 150.4L175.0 150.4L175.5 150.4L176.0 150.4L176.5 150.4L177.0 150.4L177.5 150.4L178.0 150.4L178.5 150.4L179.0 150.4L179.5 150.4L180.0 150.3L180.5 150.3L181.0 150.3L181.5 150.3L182.0 150.3L182.5 150.3L183.0 150.3L183.5 150.3L184.0 150.3L184.5 150.3L185.0 150.3L185.5 150.3L186.0 150.2L186.5 150.2L187.0 150.2L187.5 150.2L188.0 150.2L188.5 150.2L189.0 150.2L189.5 150.2L190.0 150.2L190.5 150.2L191.0 150.2L191.5 150.2L192.0 150.1L192.5 150.1L193.0 150.1L193.5 150.1L194.0 150.1L194.5 150.1L195.0 150.1L195.5 150.1L196.0 150.1L196.5 150.1L197.0 150.1L197.5 150.0L198.0 150.0L198.5 150.0L199.0 150.0L199.5 150.0L200.0 150.0L200.5 150.0L201.0 150.0L201.5 150.0L202.0 150.0L202.5 150.0L203.0 149.9L203.5 149.9L204.0 149.9L204.5 149.9L205.0 149.9L205.5 149.9L206.0 149.9L206.5 149.9L207.0 149.9L207.5 149.9L208.0 149.9L208.5 149.8L209.0 149.8L209.5 149.8L210.0 149.8L210.5 149.8L211.0 149.8L211.5 149.8L212.0 149.8L212.5 149.8L213.0 149.8L213.5 149.7L214.0 149.7L214.5 149.7L215.0 149.7L215.5 149.7L216.0 149.7L216.5 149.6L217.0 149.6L217.5 149.6L218.0 149.5L218.5 149.5L219.0 149.4L219.5 149.4L220.0 149.3L220.5 149.2L221.0 149.1L221.5 149.0L222.0 148.8L222.5 148.6L223.0 148.4L223.5 148.2L224.0 147.9L224.5 147.6L225.0 147.2L225.5 146.4L226.0 145.3L226.5 143.9L227.0 142.2L227.5 140.0L228.0 136.3L228.5 130.9L229.0 125.0L229.5 120.0L230.0 115.5L230.5 111.4L231.0 109.2L231.5 109.6L232.0 110.8L232.5 112.4L233.0 114.0L233.5 115.6L234.0 117.4L234.5 119.1L235.0 120.8L235.5 122.3L236.0 123.8L236.5 125.2L237.0 126.7L237.5 128.1L238.0 129.5L238.5 130.6L239.0 131.7L239.5 132.4L240.0 133.0L240.5 133.5L241.0 133.9L241.5 134.3L242.0 134.7L242.5 135.0L243.0 135.4L243.5 135.7L244.0 136.0L244.5 136.3L245.0 136.6L245.5 136.8L246.0 137.1L246.5 137.4L247.0 137.6L247.5 137.9L248.0 138.1L248.5 138.4L249.0 138.6L249.5 138.8L250.0 139.0L250.5 139.2L251.0 139.4L251.5 139.6L252.0 139.6L252.5 139.4L253.0 138.9L253.5 138.2L254.0 137.4L254.5 136.3L255.0 135.0L255.5 132.9L256.0 130.1L256.5 126.8L257.0 123.3L257.5 119.9L258.0 116.9L258.5 114.3L259.0 111.9L259.5 109.4L260.0 106.9L260.5 104.6L261.0 102.6L261.5 101.1L262.0 100.2L262.5 99.9L263.0 100.3L263.5 101.2L264.0 102.5L264.5 104.2L265.0 106.0L265.5 108.1L266.0 110.2L266.5 112.4L267.0 114.4L267.5 116.5L268.0 118.7L268.5 121.2L269.0 123.7L269.5 126.2L270.0 128.7L270.5 131.1L271.0 133.3L271.5 135.2L272.0 136.8L272.5 138.1L273.0 139.4L273.5 140.6L274.0 141.7L274.5 142.6L275.0 143.5L275.5 144.3L276.0 144.9L276.5 145.4L277.0 145.8L277.5 146.1L278.0 146.4L278.5 146.6L279.0 146.9L279.5 147.2L280.0 147.4L280.5 147.7L281.0 147.9L281.5 148.1L282.0 148.3L282.5 148.5L283.0 148.7L283.5 148.8L284.0 148.9L284.5 148.9L285.0 148.9L285.5 149.0L286.0 149.0L286.5 149.0L287.0 149.0L287.5 149.0L288.0 149.0L288.5 149.0L289.0 149.0L289.5 149.0L290.0 149.0L290.5 149.0L291.0 149.0L291.5 148.9L292.0 148.9L292.5 148.9L293.0 148.8L293.5 148.8L294.0 148.7L294.5 148.6L295.0 148.5L295.5 148.5L296.0 148.4L296.3 148.3" fill="none" stroke="#858585" stroke-width="1.70" stroke-linejoin="round" stroke-linecap="round"/>
<text x="0" y="0" font-size="11.60" text-anchor="start" font-weight="normal" fill="#151515" transform="translate(299.50,151.80) scale(0.925,1)" >E-504h</text>
<text x="0" y="0" font-size="11.60" text-anchor="start" font-weight="normal" fill="#151515" transform="translate(299.50,161.60) scale(0.925,1)" >E-336h</text>
<text x="0" y="0" font-size="11.60" text-anchor="start" font-weight="normal" fill="#151515" transform="translate(298.70,174.70) scale(0.925,1)" >E-168h</text>
<text x="0" y="0" font-size="11.60" text-anchor="start" font-weight="normal" fill="#151515" transform="translate(299.50,185.70) scale(0.925,1)" >W-8h</text>
<text x="0" y="0" font-size="11.60" text-anchor="start" font-weight="normal" fill="#151515" transform="translate(299.50,198.50) scale(0.925,1)" >W-6h</text>
<text x="0" y="0" font-size="11.60" text-anchor="start" font-weight="normal" fill="#151515" transform="translate(299.50,211.30) scale(0.925,1)" >W-4h</text>
<text x="0" y="0" font-size="11.60" text-anchor="start" font-weight="normal" fill="#151515" transform="translate(299.50,222.60) scale(0.925,1)" >B-4h</text>
<path d="M371.2 212.3L371.7 212.4L372.2 212.4L372.7 212.4L373.2 212.4L373.7 212.4L374.2 212.4L374.7 212.4L375.2 212.5L375.7 212.5L376.2 212.5L376.7 212.5L377.2 212.5L377.7 212.5L378.2 212.6L378.7 212.6L379.2 212.6L379.7 212.6L380.2 212.6L380.7 212.6L381.2 212.7L381.7 212.7L382.2 212.7L382.7 212.7L383.2 212.7L383.7 212.7L384.2 212.8L384.7 212.8L385.2 212.8L385.7 212.8L386.2 212.8L386.7 212.8L387.2 212.9L387.7 212.9L388.2 212.9L388.7 212.9L389.2 212.9L389.7 212.9L390.2 213.0L390.7 213.0L391.2 213.0L391.7 213.0L392.2 213.0L392.7 213.0L393.2 213.0L393.7 213.1L394.2 213.1L394.7 213.1L395.2 213.1L395.7 213.1L396.2 213.1L396.7 213.1L397.2 213.1L397.7 213.1L398.2 213.2L398.7 213.2L399.2 213.2L399.7 213.2L400.2 213.2L400.7 213.2L401.2 213.2L401.7 213.2L402.2 213.2L402.7 213.3L403.2 213.3L403.7 213.3L404.2 213.3L404.7 213.3L405.2 213.3L405.7 213.3L406.2 213.3L406.7 213.3L407.2 213.3L407.7 213.3L408.2 213.3L408.7 213.4L409.2 213.4L409.7 213.4L410.2 213.4L410.7 213.4L411.2 213.4L411.7 213.4L412.2 213.4L412.7 213.4L413.2 213.4L413.7 213.4L414.2 213.4L414.7 213.4L415.2 213.4L415.7 213.5L416.2 213.5L416.7 213.5L417.2 213.5L417.7 213.5L418.2 213.5L418.7 213.5L419.2 213.5L419.7 213.5L420.2 213.5L420.7 213.5L421.2 213.5L421.7 213.5L422.2 213.5L422.7 213.5L423.2 213.5L423.7 213.5L424.2 213.5L424.7 213.5L425.2 213.5L425.7 213.5L426.2 213.6L426.7 213.6L427.2 213.6L427.7 213.6L428.2 213.6L428.7 213.6L429.2 213.6L429.7 213.6L430.2 213.6L430.7 213.6L431.2 213.6L431.7 213.6L432.2 213.6L432.7 213.6L433.2 213.6L433.7 213.6L434.2 213.6L434.7 213.6L435.2 213.6L435.7 213.6L436.2 213.6L436.7 213.6L437.2 213.6L437.7 213.6L438.2 213.6L438.7 213.6L439.2 213.6L439.7 213.6L440.2 213.6L440.7 213.6L441.2 213.6L441.7 213.6L442.2 213.6L442.7 213.6L443.2 213.6L443.7 213.6L444.2 213.6L444.7 213.6L445.2 213.6L445.7 213.6L446.2 213.6L446.7 213.6L447.2 213.6L447.7 213.6L448.2 213.6L448.7 213.6L449.2 213.6L449.7 213.6L450.2 213.6L450.7 213.6L451.2 213.6L451.7 213.6L452.2 213.6L452.7 213.6L453.2 213.6L453.7 213.6L454.2 213.6L454.7 213.6L455.2 213.6L455.7 213.6L456.2 213.6L456.7 213.6L457.2 213.6L457.7 213.6L458.2 213.6L458.7 213.6L459.2 213.6L459.7 213.6L460.2 213.6L460.7 213.6L461.2 213.6L461.7 213.6L462.2 213.6L462.7 213.6L463.2 213.6L463.7 213.6L464.2 213.6L464.7 213.6L465.2 213.6L465.7 213.6L466.2 213.6L466.7 213.6L467.2 213.6L467.7 213.6L468.2 213.6L468.7 213.6L469.2 213.6L469.7 213.6L470.2 213.6L470.7 213.6L471.2 213.6L471.7 213.6L472.2 213.6L472.7 213.6L473.2 213.6L473.7 213.6L474.2 213.6L474.7 213.6L475.2 213.6L475.7 213.6L476.2 213.6L476.7 213.6L477.2 213.6L477.7 213.6L478.2 213.6L478.7 213.6L479.2 213.6L479.7 213.6L480.2 213.6L480.7 213.6L481.2 213.6L481.7 213.6L482.2 213.6L482.7 213.6L483.2 213.6L483.7 213.6L484.2 213.6L484.7 213.6L485.2 213.6L485.7 213.6L486.2 213.6L486.7 213.6L487.2 213.6L487.7 213.6L488.2 213.6L488.7 213.6L489.2 213.6L489.7 213.6L490.2 213.6L490.7 213.6L491.2 213.6L491.7 213.6L492.2 213.6L492.7 213.6L493.2 213.6L493.7 213.6L494.2 213.6L494.7 213.6L495.2 213.6L495.7 213.6L496.2 213.5L496.7 213.5L497.2 213.5L497.7 213.5L498.2 213.5L498.7 213.5L499.2 213.5L499.7 213.5L500.2 213.5L500.7 213.4L501.2 213.4L501.7 213.4L502.2 213.4L502.7 213.4L503.2 213.4L503.7 213.3L504.2 213.3L504.7 213.3L505.2 213.3L505.7 213.3L506.2 213.2L506.7 213.2L507.2 213.2L507.7 213.2L508.2 213.1L508.7 213.1L509.2 213.1L509.7 213.1L510.2 213.0L510.7 213.0L511.2 213.0L511.7 212.9L512.2 212.9L512.7 212.9L513.2 212.8L513.7 212.8L514.2 212.8L514.7 212.7L515.2 212.7L515.7 212.7L516.2 212.6L516.7 212.6L517.2 212.5L517.7 212.5L518.2 212.4L518.7 212.4L519.2 212.3L519.7 212.2L520.2 212.1L520.7 212.0L521.2 211.8L521.7 211.7L522.2 211.5L522.7 211.3L523.2 211.1L523.7 210.9L524.2 210.7L524.7 210.5L525.2 210.2L525.7 210.0L526.2 209.7L526.7 209.5L527.2 209.3L527.7 209.0L528.2 208.8L528.7 208.6L529.2 208.4L529.7 208.2L530.2 208.0L530.7 207.8L531.2 207.6L531.7 207.4L532.2 207.2L532.7 207.0L533.2 206.8L533.7 206.6L534.2 206.4L534.7 206.3L535.2 206.1L535.7 205.9L536.2 205.7L536.7 205.6L537.2 205.4L537.7 205.3L538.2 205.1L538.7 205.0L539.2 204.9L539.7 204.8L540.2 204.7L540.7 204.7L541.2 204.6L541.7 204.6L542.2 204.5L542.7 204.5L543.2 204.5L543.7 204.6L544.2 204.6L544.7 204.6L545.2 204.7L545.7 204.7L546.2 204.8L546.7 204.9L547.2 205.0L547.7 205.1L548.2 205.2L548.7 205.3L549.2 205.4L549.7 205.5L550.2 205.6L550.7 205.7L551.2 205.8L551.7 205.9L552.2 206.0L552.7 206.1L553.2 206.2L553.7 206.3L554.2 206.4L554.7 206.5L555.2 206.6L555.7 206.7L556.2 206.8L556.7 206.9L557.2 207.1L557.7 207.2L558.2 207.3L558.7 207.4L559.2 207.5L559.7 207.6L560.2 207.7L560.7 207.8L561.2 207.9L561.7 208.0L562.2 208.1L562.7 208.2L563.2 208.3L563.7 208.4L564.2 208.5L564.7 208.5L565.2 208.6L565.7 208.6L566.2 208.7L566.7 208.7L567.2 208.8L567.7 208.8L568.2 208.8L568.7 208.8L569.2 208.9L569.7 208.9L570.2 208.8L570.7 208.8L571.2 208.8L571.7 208.7L572.2 208.5L572.7 208.4L573.2 208.2L573.7 207.9L574.2 207.6L574.7 207.1L575.2 206.3L575.7 205.3L576.2 204.1L576.7 202.9L577.2 201.2L577.7 199.1L578.2 196.5L578.7 193.7L579.2 189.9L579.7 184.9L580.2 180.0L580.7 176.4L581.2 175.5L581.7 177.3L582.2 180.8L582.7 185.1L583.2 189.0L583.7 191.7L584.2 194.1L584.7 196.5L585.2 198.4L585.7 199.4L586.2 199.8L586.7 200.0L587.2 200.2L587.7 200.4L588.2 200.6L588.7 201.0L589.2 201.5L589.7 202.0L590.2 202.5L590.7 203.1L591.2 203.6L591.7 204.2L592.2 204.6L592.7 205.1L593.2 205.4L593.7 205.8L594.2 206.1L594.7 206.4L595.2 206.7L595.7 206.9L596.2 207.2L596.7 207.4L597.2 207.7L597.7 207.9L598.2 208.1L598.7 208.3L599.2 208.5L599.7 208.7L600.2 208.9L600.7 209.0L601.2 208.9L601.7 208.7L602.2 208.3L602.7 207.9L603.2 207.4L603.7 206.5L604.2 205.1L604.7 203.3L605.2 201.5L605.7 199.8L606.2 198.5L606.7 197.4L607.2 196.3L607.7 195.3L608.2 194.4L608.7 193.4L609.2 192.5L609.7 191.6L610.2 190.6L610.7 189.6L611.2 188.6L611.7 187.7L612.2 186.9L612.7 186.4L613.2 186.3L613.7 186.7L614.2 187.4L614.7 188.5L615.2 189.7L615.7 191.0L616.2 192.7L616.7 194.9L617.2 197.1L617.7 199.1L618.2 200.6L618.7 202.1L619.2 203.5L619.7 204.8L620.2 205.8L620.7 206.7L621.2 207.4L621.7 208.2L622.2 208.8L622.7 209.4L623.2 209.9L623.7 210.3L624.2 210.5L624.7 210.6L625.2 210.8L625.7 210.9L626.2 211.1L626.7 211.2L627.2 211.3L627.7 211.5L628.2 211.6L628.7 211.6L629.2 211.7L629.7 211.8L630.2 211.8L630.7 211.8L631.2 211.9L631.7 211.9L632.2 212.0L632.7 212.0L633.2 212.0L633.7 212.1L634.2 212.1L634.7 212.1L635.2 212.2L635.7 212.2L636.2 212.2L636.7 212.3L637.2 212.3L637.7 212.3L638.2 212.4L638.7 212.4L639.2 212.4L639.7 212.4L640.2 212.5L640.7 212.5L641.2 212.5L641.7 212.5L642.2 212.5L642.7 212.5L643.2 212.5L643.7 212.6L644.2 212.6L644.7 212.6L645.2 212.5L645.7 212.5L646.2 212.5L646.7 212.5L646.9 212.5" fill="none" stroke="#000000" stroke-width="1.70" stroke-linejoin="round" stroke-linecap="round"/>
<path d="M371.2 203.7L371.7 203.8L372.2 203.8L372.7 203.8L373.2 203.8L373.7 203.8L374.2 203.8L374.7 203.8L375.2 203.8L375.7 203.8L376.2 203.9L376.7 203.9L377.2 203.9L377.7 203.9L378.2 203.9L378.7 203.9L379.2 203.9L379.7 204.0L380.2 204.0L380.7 204.0L381.2 204.0L381.7 204.0L382.2 204.0L382.7 204.1L383.2 204.1L383.7 204.1L384.2 204.1L384.7 204.1L385.2 204.1L385.7 204.1L386.2 204.2L386.7 204.2L387.2 204.2L387.7 204.2L388.2 204.2L388.7 204.2L389.2 204.2L389.7 204.3L390.2 204.3L390.7 204.3L391.2 204.3L391.7 204.3L392.2 204.3L392.7 204.3L393.2 204.4L393.7 204.4L394.2 204.4L394.7 204.4L395.2 204.4L395.7 204.4L396.2 204.4L396.7 204.5L397.2 204.5L397.7 204.5L398.2 204.5L398.7 204.5L399.2 204.5L399.7 204.5L400.2 204.5L400.7 204.6L401.2 204.6L401.7 204.6L402.2 204.6L402.7 204.6L403.2 204.6L403.7 204.6L404.2 204.6L404.7 204.7L405.2 204.7L405.7 204.7L406.2 204.7L406.7 204.7L407.2 204.7L407.7 204.7L408.2 204.7L408.7 204.8L409.2 204.8L409.7 204.8L410.2 204.8L410.7 204.8L411.2 204.8L411.7 204.8L412.2 204.8L412.7 204.8L413.2 204.9L413.7 204.9L414.2 204.9L414.7 204.9L415.2 204.9L415.7 204.9L416.2 204.9L416.7 204.9L417.2 204.9L417.7 205.0L418.2 205.0L418.7 205.0L419.2 205.0L419.7 205.0L420.2 205.0L420.7 205.0L421.2 205.0L421.7 205.0L422.2 205.0L422.7 205.1L423.2 205.1L423.7 205.1L424.2 205.1L424.7 205.1L425.2 205.1L425.7 205.1L426.2 205.1L426.7 205.1L427.2 205.1L427.7 205.1L428.2 205.1L428.7 205.2L429.2 205.2L429.7 205.2L430.2 205.2L430.7 205.2L431.2 205.2L431.7 205.2L432.2 205.2L432.7 205.2L433.2 205.2L433.7 205.2L434.2 205.2L434.7 205.2L435.2 205.3L435.7 205.3L436.2 205.3L436.7 205.3L437.2 205.3L437.7 205.3L438.2 205.3L438.7 205.3L439.2 205.3L439.7 205.3L440.2 205.3L440.7 205.3L441.2 205.3L441.7 205.3L442.2 205.3L442.7 205.4L443.2 205.4L443.7 205.4L444.2 205.4L444.7 205.4L445.2 205.4L445.7 205.4L446.2 205.4L446.7 205.4L447.2 205.4L447.7 205.4L448.2 205.4L448.7 205.4L449.2 205.4L449.7 205.4L450.2 205.4L450.7 205.4L451.2 205.4L451.7 205.5L452.2 205.5L452.7 205.5L453.2 205.5L453.7 205.5L454.2 205.5L454.7 205.5L455.2 205.5L455.7 205.5L456.2 205.5L456.7 205.5L457.2 205.5L457.7 205.5L458.2 205.5L458.7 205.5L459.2 205.5L459.7 205.5L460.2 205.5L460.7 205.5L461.2 205.5L461.7 205.5L462.2 205.6L462.7 205.6L463.2 205.6L463.7 205.6L464.2 205.6L464.7 205.6L465.2 205.6L465.7 205.6L466.2 205.6L466.7 205.6L467.2 205.6L467.7 205.6L468.2 205.6L468.7 205.6L469.2 205.6L469.7 205.6L470.2 205.6L470.7 205.6L471.2 205.6L471.7 205.6L472.2 205.6L472.7 205.6L473.2 205.6L473.7 205.7L474.2 205.7L474.7 205.7L475.2 205.7L475.7 205.7L476.2 205.7L476.7 205.7L477.2 205.7L477.7 205.7L478.2 205.7L478.7 205.7L479.2 205.7L479.7 205.7L480.2 205.7L480.7 205.7L481.2 205.7L481.7 205.7L482.2 205.7L482.7 205.7L483.2 205.7L483.7 205.7L484.2 205.7L484.7 205.8L485.2 205.8L485.7 205.8L486.2 205.8L486.7 205.8L487.2 205.8L487.7 205.8L488.2 205.8L488.7 205.8L489.2 205.8L489.7 205.8L490.2 205.8L490.7 205.8L491.2 205.8L491.7 205.8L492.2 205.8L492.7 205.8L493.2 205.8L493.7 205.8L494.2 205.8L494.7 205.8L495.2 205.8L495.7 205.8L496.2 205.8L496.7 205.8L497.2 205.8L497.7 205.8L498.2 205.8L498.7 205.8L499.2 205.8L499.7 205.8L500.2 205.7L500.7 205.7L501.2 205.7L501.7 205.7L502.2 205.7L502.7 205.7L503.2 205.7L503.7 205.7L504.2 205.6L504.7 205.6L505.2 205.6L505.7 205.6L506.2 205.6L506.7 205.5L507.2 205.5L507.7 205.5L508.2 205.5L508.7 205.5L509.2 205.4L509.7 205.4L510.2 205.4L510.7 205.4L511.2 205.3L511.7 205.3L512.2 205.3L512.7 205.2L513.2 205.2L513.7 205.2L514.2 205.2L514.7 205.1L515.2 205.1L515.7 205.0L516.2 205.0L516.7 205.0L517.2 204.9L517.7 204.9L518.2 204.8L518.7 204.7L519.2 204.6L519.7 204.5L520.2 204.4L520.7 204.2L521.2 204.0L521.7 203.8L522.2 203.5L522.7 203.2L523.2 202.9L523.7 202.6L524.2 202.3L524.7 201.9L525.2 201.5L525.7 201.2L526.2 200.8L526.7 200.4L527.2 200.0L527.7 199.7L528.2 199.3L528.7 198.9L529.2 198.6L529.7 198.2L530.2 197.9L530.7 197.6L531.2 197.2L531.7 196.9L532.2 196.6L532.7 196.2L533.2 195.9L533.7 195.6L534.2 195.3L534.7 194.9L535.2 194.6L535.7 194.3L536.2 194.0L536.7 193.8L537.2 193.5L537.7 193.3L538.2 193.1L538.7 192.9L539.2 192.8L539.7 192.7L540.2 192.6L540.7 192.5L541.2 192.5L541.7 192.5L542.2 192.5L542.7 192.5L543.2 192.6L543.7 192.6L544.2 192.7L544.7 192.8L545.2 192.9L545.7 193.0L546.2 193.1L546.7 193.2L547.2 193.3L547.7 193.4L548.2 193.5L548.7 193.6L549.2 193.7L549.7 193.8L550.2 194.0L550.7 194.1L551.2 194.2L551.7 194.3L552.2 194.4L552.7 194.5L553.2 194.6L553.7 194.7L554.2 194.8L554.7 194.8L555.2 194.9L555.7 195.0L556.2 195.1L556.7 195.2L557.2 195.3L557.7 195.4L558.2 195.5L558.7 195.6L559.2 195.7L559.7 195.8L560.2 195.9L560.7 196.0L561.2 196.1L561.7 196.1L562.2 196.2L562.7 196.3L563.2 196.4L563.7 196.4L564.2 196.5L564.7 196.5L565.2 196.6L565.7 196.6L566.2 196.6L566.7 196.7L567.2 196.7L567.7 196.7L568.2 196.6L568.7 196.6L569.2 196.6L569.7 196.5L570.2 196.3L570.7 196.1L571.2 195.7L571.7 195.2L572.2 194.6L572.7 193.8L573.2 192.8L573.7 191.6L574.2 190.1L574.7 188.3L575.2 185.6L575.7 181.9L576.2 177.5L576.7 172.8L577.2 168.3L577.7 163.0L578.2 157.3L578.7 152.6L579.2 150.0L579.7 150.0L580.2 151.6L580.7 154.3L581.2 157.5L581.7 161.0L582.2 164.3L582.7 167.0L583.2 169.7L583.7 172.5L584.2 174.6L584.7 175.5L585.2 175.3L585.7 174.5L586.2 174.0L586.7 174.4L587.2 175.4L587.7 176.5L588.2 177.8L588.7 179.1L589.2 180.4L589.7 181.7L590.2 183.0L590.7 184.3L591.2 185.7L591.7 187.0L592.2 188.3L592.7 189.5L593.2 190.6L593.7 191.5L594.2 192.3L594.7 193.0L595.2 193.6L595.7 194.1L596.2 194.6L596.7 194.9L597.2 195.1L597.7 195.3L598.2 195.3L598.7 195.1L599.2 194.6L599.7 194.0L600.2 193.2L600.7 192.2L601.2 191.1L601.7 189.9L602.2 188.7L602.7 187.2L603.2 185.2L603.7 182.9L604.2 180.3L604.7 177.6L605.2 174.9L605.7 172.3L606.2 170.0L606.7 168.0L607.2 166.2L607.7 164.4L608.2 162.6L608.7 160.9L609.2 159.5L609.7 158.3L610.2 157.4L610.7 157.0L611.2 157.1L611.7 157.6L612.2 158.6L612.7 160.0L613.2 161.7L613.7 163.6L614.2 165.6L614.7 167.7L615.2 169.7L615.7 171.7L616.2 174.0L616.7 176.5L617.2 179.2L617.7 181.9L618.2 184.5L618.7 187.0L619.2 189.1L619.7 190.8L620.2 192.0L620.7 193.2L621.2 194.2L621.7 195.3L622.2 196.2L622.7 197.1L623.2 197.8L623.7 198.5L624.2 199.1L624.7 199.5L625.2 199.9L625.7 200.1L626.2 200.3L626.7 200.4L627.2 200.6L627.7 200.7L628.2 200.9L628.7 201.1L629.2 201.2L629.7 201.4L630.2 201.5L630.7 201.6L631.2 201.8L631.7 201.9L632.2 202.0L632.7 202.1L633.2 202.2L633.7 202.3L634.2 202.4L634.7 202.5L635.2 202.5L635.7 202.6L636.2 202.6L636.7 202.7L637.2 202.7L637.7 202.7L638.2 202.8L638.7 202.8L639.2 202.8L639.7 202.9L640.2 202.9L640.7 202.9L641.2 202.9L641.7 203.0L642.2 203.0L642.7 203.0L643.2 203.0L643.7 203.0L644.2 203.0L644.7 203.1L645.2 203.0L645.7 203.0L646.2 203.0L646.7 203.0L646.9 203.0" fill="none" stroke="#0000ff" stroke-width="1.70" stroke-linejoin="round" stroke-linecap="round"/>
<path d="M371.2 193.2L371.7 193.2L372.2 193.2L372.7 193.2L373.2 193.2L373.7 193.2L374.2 193.2L374.7 193.2L375.2 193.2L375.7 193.2L376.2 193.2L376.7 193.2L377.2 193.2L377.7 193.2L378.2 193.2L378.7 193.2L379.2 193.2L379.7 193.2L380.2 193.2L380.7 193.2L381.2 193.2L381.7 193.2L382.2 193.2L382.7 193.2L383.2 193.2L383.7 193.1L384.2 193.1L384.7 193.1L385.2 193.1L385.7 193.1L386.2 193.1L386.7 193.1L387.2 193.1L387.7 193.1L388.2 193.1L388.7 193.1L389.2 193.1L389.7 193.1L390.2 193.1L390.7 193.1L391.2 193.1L391.7 193.1L392.2 193.1L392.7 193.1L393.2 193.1L393.7 193.1L394.2 193.1L394.7 193.1L395.2 193.1L395.7 193.1L396.2 193.1L396.7 193.1L397.2 193.1L397.7 193.1L398.2 193.1L398.7 193.1L399.2 193.1L399.7 193.1L400.2 193.1L400.7 193.1L401.2 193.1L401.7 193.1L402.2 193.1L402.7 193.1L403.2 193.1L403.7 193.1L404.2 193.1L404.7 193.1L405.2 193.1L405.7 193.1L406.2 193.1L406.7 193.1L407.2 193.1L407.7 193.1L408.2 193.0L408.7 193.0L409.2 193.0L409.7 193.0L410.2 193.0L410.7 193.0L411.2 193.0L411.7 193.0L412.2 193.0L412.7 193.0L413.2 193.0L413.7 193.0L414.2 193.0L414.7 193.0L415.2 193.0L415.7 193.0L416.2 193.0L416.7 193.0L417.2 193.0L417.7 193.0L418.2 193.0L418.7 193.0L419.2 193.0L419.7 193.0L420.2 193.0L420.7 193.0L421.2 193.0L421.7 193.0L422.2 193.0L422.7 193.0L423.2 193.0L423.7 193.0L424.2 193.0L424.7 193.0L425.2 193.0L425.7 193.0L426.2 193.0L426.7 193.0L427.2 193.0L427.7 193.0L428.2 193.0L428.7 193.0L429.2 193.0L429.7 193.0L430.2 193.0L430.7 193.0L431.2 193.0L431.7 193.0L432.2 192.9L432.7 192.9L433.2 192.9L433.7 192.9L434.2 192.9L434.7 192.9L435.2 192.9L435.7 192.9L436.2 192.9L436.7 192.9L437.2 192.9L437.7 192.9L438.2 192.9L438.7 192.9L439.2 192.9L439.7 192.9L440.2 192.9L440.7 192.9L441.2 192.9L441.7 192.9L442.2 192.9L442.7 192.9L443.2 192.9L443.7 192.9L444.2 192.9L444.7 192.9L445.2 192.9L445.7 192.9L446.2 192.9L446.7 192.9L447.2 192.9L447.7 192.9L448.2 192.9L448.7 192.9L449.2 192.9L449.7 192.9L450.2 192.9L450.7 192.9L451.2 192.9L451.7 192.9L452.2 192.9L452.7 192.9L453.2 192.9L453.7 192.9L454.2 192.9L454.7 192.9L455.2 192.9L455.7 192.8L456.2 192.8L456.7 192.8L457.2 192.8L457.7 192.8L458.2 192.8L458.7 192.8L459.2 192.8L459.7 192.8L460.2 192.8L460.7 192.8L461.2 192.8L461.7 192.8L462.2 192.8L462.7 192.8L463.2 192.8L463.7 192.8L464.2 192.8L464.7 192.8L465.2 192.8L465.7 192.8L466.2 192.8L466.7 192.8L467.2 192.8L467.7 192.8L468.2 192.8L468.7 192.8L469.2 192.8L469.7 192.8L470.2 192.8L470.7 192.8L471.2 192.8L471.7 192.8L472.2 192.8L472.7 192.8L473.2 192.8L473.7 192.8L474.2 192.8L474.7 192.8L475.2 192.8L475.7 192.8L476.2 192.8L476.7 192.8L477.2 192.8L477.7 192.8L478.2 192.8L478.7 192.8L479.2 192.7L479.7 192.7L480.2 192.7L480.7 192.7L481.2 192.7L481.7 192.7L482.2 192.7L482.7 192.7L483.2 192.7L483.7 192.7L484.2 192.7L484.7 192.7L485.2 192.7L485.7 192.7L486.2 192.7L486.7 192.7L487.2 192.7L487.7 192.7L488.2 192.7L488.7 192.7L489.2 192.7L489.7 192.7L490.2 192.7L490.7 192.7L491.2 192.7L491.7 192.7L492.2 192.7L492.7 192.7L493.2 192.7L493.7 192.7L494.2 192.7L494.7 192.7L495.2 192.7L495.7 192.6L496.2 192.6L496.7 192.6L497.2 192.6L497.7 192.6L498.2 192.6L498.7 192.6L499.2 192.6L499.7 192.6L500.2 192.6L500.7 192.6L501.2 192.5L501.7 192.5L502.2 192.5L502.7 192.5L503.2 192.5L503.7 192.5L504.2 192.5L504.7 192.4L505.2 192.4L505.7 192.4L506.2 192.4L506.7 192.4L507.2 192.4L507.7 192.3L508.2 192.3L508.7 192.3L509.2 192.3L509.7 192.3L510.2 192.2L510.7 192.2L511.2 192.2L511.7 192.2L512.2 192.1L512.7 192.1L513.2 192.1L513.7 192.1L514.2 192.0L514.7 192.0L515.2 192.0L515.7 191.9L516.2 191.9L516.7 191.9L517.2 191.8L517.7 191.8L518.2 191.7L518.7 191.6L519.2 191.5L519.7 191.4L520.2 191.3L520.7 191.2L521.2 191.0L521.7 190.8L522.2 190.6L522.7 190.4L523.2 190.1L523.7 189.9L524.2 189.6L524.7 189.3L525.2 189.0L525.7 188.7L526.2 188.3L526.7 188.0L527.2 187.7L527.7 187.4L528.2 187.1L528.7 186.8L529.2 186.5L529.7 186.2L530.2 185.9L530.7 185.6L531.2 185.4L531.7 185.1L532.2 184.8L532.7 184.5L533.2 184.2L533.7 184.0L534.2 183.7L534.7 183.4L535.2 183.2L535.7 182.9L536.2 182.7L536.7 182.4L537.2 182.2L537.7 182.0L538.2 181.8L538.7 181.7L539.2 181.5L539.7 181.4L540.2 181.3L540.7 181.2L541.2 181.2L541.7 181.1L542.2 181.1L542.7 181.1L543.2 181.1L543.7 181.2L544.2 181.2L544.7 181.2L545.2 181.3L545.7 181.4L546.2 181.5L546.7 181.5L547.2 181.6L547.7 181.7L548.2 181.8L548.7 181.9L549.2 182.0L549.7 182.2L550.2 182.3L550.7 182.4L551.2 182.5L551.7 182.6L552.2 182.7L552.7 182.8L553.2 183.0L553.7 183.1L554.2 183.2L554.7 183.3L555.2 183.4L555.7 183.6L556.2 183.7L556.7 183.8L557.2 184.0L557.7 184.1L558.2 184.2L558.7 184.3L559.2 184.5L559.7 184.6L560.2 184.7L560.7 184.8L561.2 184.9L561.7 185.1L562.2 185.2L562.7 185.2L563.2 185.3L563.7 185.4L564.2 185.4L564.7 185.4L565.2 185.5L565.7 185.5L566.2 185.4L566.7 185.4L567.2 185.4L567.7 185.3L568.2 185.2L568.7 185.1L569.2 185.0L569.7 184.9L570.2 184.6L570.7 184.3L571.2 183.9L571.7 183.3L572.2 182.5L572.7 181.7L573.2 180.5L573.7 179.2L574.2 177.5L574.7 175.6L575.2 172.4L575.7 167.9L576.2 162.9L576.7 158.1L577.2 152.7L577.7 146.7L578.2 140.9L578.7 136.7L579.2 134.5L579.7 135.0L580.2 137.7L580.7 141.7L581.2 146.3L581.7 150.5L582.2 154.2L582.7 158.1L583.2 162.0L583.7 165.0L584.2 166.7L584.7 167.3L585.2 167.5L585.7 167.6L586.2 168.0L586.7 168.9L587.2 169.9L587.7 170.9L588.2 171.9L588.7 172.9L589.2 173.8L589.7 174.6L590.2 175.5L590.7 176.3L591.2 177.1L591.7 177.9L592.2 178.6L592.7 179.3L593.2 179.9L593.7 180.5L594.2 181.0L594.7 181.4L595.2 181.8L595.7 182.1L596.2 182.4L596.7 182.6L597.2 182.7L597.7 182.8L598.2 182.8L598.7 182.8L599.2 182.6L599.7 182.0L600.2 181.1L600.7 180.0L601.2 178.6L601.7 177.2L602.2 175.6L602.7 173.8L603.2 171.2L603.7 168.1L604.2 164.6L604.7 161.1L605.2 157.7L605.7 154.6L606.2 152.1L606.7 150.4L607.2 149.2L607.7 148.2L608.2 147.4L608.7 146.8L609.2 146.5L609.7 146.3L610.2 146.4L610.7 146.8L611.2 147.4L611.7 148.1L612.2 149.1L612.7 150.3L613.2 151.6L613.7 153.3L614.2 155.6L614.7 158.4L615.2 161.2L615.7 164.0L616.2 166.5L616.7 168.8L617.2 171.1L617.7 173.5L618.2 175.7L618.7 177.7L619.2 179.4L619.7 180.7L620.2 181.6L620.7 182.5L621.2 183.3L621.7 184.0L622.2 184.7L622.7 185.4L623.2 186.0L623.7 186.5L624.2 186.9L624.7 187.3L625.2 187.5L625.7 187.7L626.2 187.8L626.7 187.9L627.2 188.1L627.7 188.2L628.2 188.3L628.7 188.4L629.2 188.5L629.7 188.7L630.2 188.8L630.7 188.9L631.2 189.0L631.7 189.1L632.2 189.2L632.7 189.3L633.2 189.4L633.7 189.4L634.2 189.5L634.7 189.5L635.2 189.6L635.7 189.6L636.2 189.6L636.7 189.6L637.2 189.6L637.7 189.7L638.2 189.7L638.7 189.7L639.2 189.7L639.7 189.7L640.2 189.7L640.7 189.7L641.2 189.7L641.7 189.7L642.2 189.7L642.7 189.7L643.2 189.7L643.7 189.7L644.2 189.7L644.7 189.7L645.2 189.7L645.7 189.7L646.2 189.6L646.7 189.6L646.9 189.6" fill="none" stroke="#ff00ff" stroke-width="1.70" stroke-linejoin="round" stroke-linecap="round"/>
<path d="M371.2 179.9L371.7 180.0L372.2 180.0L372.7 180.0L373.2 180.0L373.7 180.0L374.2 180.0L374.7 180.1L375.2 180.1L375.7 180.1L376.2 180.1L376.7 180.1L377.2 180.1L377.7 180.2L378.2 180.2L378.7 180.2L379.2 180.2L379.7 180.2L380.2 180.3L380.7 180.3L381.2 180.3L381.7 180.3L382.2 180.3L382.7 180.4L383.2 180.4L383.7 180.4L384.2 180.4L384.7 180.4L385.2 180.5L385.7 180.5L386.2 180.5L386.7 180.5L387.2 180.5L387.7 180.6L388.2 180.6L388.7 180.6L389.2 180.6L389.7 180.6L390.2 180.7L390.7 180.7L391.2 180.7L391.7 180.7L392.2 180.7L392.7 180.7L393.2 180.8L393.7 180.8L394.2 180.8L394.7 180.8L395.2 180.8L395.7 180.9L396.2 180.9L396.7 180.9L397.2 180.9L397.7 180.9L398.2 180.9L398.7 181.0L399.2 181.0L399.7 181.0L400.2 181.0L400.7 181.0L401.2 181.0L401.7 181.0L402.2 181.1L402.7 181.1L403.2 181.1L403.7 181.1L404.2 181.1L404.7 181.1L405.2 181.2L405.7 181.2L406.2 181.2L406.7 181.2L407.2 181.2L407.7 181.2L408.2 181.2L408.7 181.2L409.2 181.3L409.7 181.3L410.2 181.3L410.7 181.3L411.2 181.3L411.7 181.3L412.2 181.3L412.7 181.3L413.2 181.4L413.7 181.4L414.2 181.4L414.7 181.4L415.2 181.4L415.7 181.4L416.2 181.4L416.7 181.4L417.2 181.4L417.7 181.5L418.2 181.5L418.7 181.5L419.2 181.5L419.7 181.5L420.2 181.5L420.7 181.5L421.2 181.5L421.7 181.5L422.2 181.5L422.7 181.5L423.2 181.6L423.7 181.6L424.2 181.6L424.7 181.6L425.2 181.6L425.7 181.6L426.2 181.6L426.7 181.6L427.2 181.6L427.7 181.6L428.2 181.6L428.7 181.6L429.2 181.6L429.7 181.6L430.2 181.6L430.7 181.6L431.2 181.7L431.7 181.7L432.2 181.7L432.7 181.7L433.2 181.7L433.7 181.7L434.2 181.7L434.7 181.7L435.2 181.7L435.7 181.7L436.2 181.7L436.7 181.7L437.2 181.7L437.7 181.7L438.2 181.7L438.7 181.7L439.2 181.7L439.7 181.7L440.2 181.7L440.7 181.7L441.2 181.7L441.7 181.7L442.2 181.7L442.7 181.7L443.2 181.7L443.7 181.7L444.2 181.8L444.7 181.8L445.2 181.8L445.7 181.8L446.2 181.8L446.7 181.8L447.2 181.8L447.7 181.8L448.2 181.8L448.7 181.8L449.2 181.8L449.7 181.8L450.2 181.8L450.7 181.8L451.2 181.8L451.7 181.8L452.2 181.8L452.7 181.8L453.2 181.8L453.7 181.8L454.2 181.8L454.7 181.8L455.2 181.8L455.7 181.8L456.2 181.8L456.7 181.8L457.2 181.8L457.7 181.8L458.2 181.8L458.7 181.8L459.2 181.8L459.7 181.8L460.2 181.8L460.7 181.8L461.2 181.8L461.7 181.8L462.2 181.8L462.7 181.8L463.2 181.8L463.7 181.8L464.2 181.8L464.7 181.8L465.2 181.8L465.7 181.8L466.2 181.8L466.7 181.8L467.2 181.8L467.7 181.8L468.2 181.8L468.7 181.8L469.2 181.8L469.7 181.8L470.2 181.8L470.7 181.8L471.2 181.8L471.7 181.8L472.2 181.8L472.7 181.8L473.2 181.8L473.7 181.8L474.2 181.8L474.7 181.8L475.2 181.8L475.7 181.8L476.2 181.8L476.7 181.8L477.2 181.8L477.7 181.8L478.2 181.8L478.7 181.8L479.2 181.8L479.7 181.8L480.2 181.8L480.7 181.8L481.2 181.8L481.7 181.8L482.2 181.8L482.7 181.8L483.2 181.8L483.7 181.8L484.2 181.8L484.7 181.8L485.2 181.8L485.7 181.8L486.2 181.8L486.7 181.8L487.2 181.8L487.7 181.8L488.2 181.8L488.7 181.8L489.2 181.8L489.7 181.8L490.2 181.8L490.7 181.8L491.2 181.8L491.7 181.8L492.2 181.8L492.7 181.8L493.2 181.8L493.7 181.8L494.2 181.8L494.7 181.8L495.2 181.8L495.7 181.8L496.2 181.8L496.7 181.7L497.2 181.7L497.7 181.7L498.2 181.7L498.7 181.7L499.2 181.7L499.7 181.7L500.2 181.7L500.7 181.7L501.2 181.6L501.7 181.6L502.2 181.6L502.7 181.6L503.2 181.6L503.7 181.6L504.2 181.5L504.7 181.5L505.2 181.5L505.7 181.5L506.2 181.5L506.7 181.4L507.2 181.4L507.7 181.4L508.2 181.4L508.7 181.3L509.2 181.3L509.7 181.3L510.2 181.2L510.7 181.2L511.2 181.2L511.7 181.2L512.2 181.1L512.7 181.1L513.2 181.1L513.7 181.0L514.2 181.0L514.7 181.0L515.2 180.9L515.7 180.9L516.2 180.8L516.7 180.8L517.2 180.7L517.7 180.7L518.2 180.6L518.7 180.5L519.2 180.4L519.7 180.3L520.2 180.1L520.7 180.0L521.2 179.8L521.7 179.5L522.2 179.3L522.7 179.0L523.2 178.7L523.7 178.4L524.2 178.0L524.7 177.7L525.2 177.3L525.7 177.0L526.2 176.6L526.7 176.2L527.2 175.9L527.7 175.5L528.2 175.2L528.7 174.9L529.2 174.6L529.7 174.3L530.2 174.0L530.7 173.7L531.2 173.4L531.7 173.1L532.2 172.9L532.7 172.6L533.2 172.4L533.7 172.1L534.2 171.9L534.7 171.6L535.2 171.4L535.7 171.2L536.2 171.0L536.7 170.8L537.2 170.6L537.7 170.5L538.2 170.3L538.7 170.2L539.2 170.1L539.7 170.0L540.2 170.0L540.7 170.0L541.2 170.0L541.7 170.0L542.2 170.0L542.7 170.0L543.2 170.1L543.7 170.1L544.2 170.2L544.7 170.3L545.2 170.4L545.7 170.5L546.2 170.6L546.7 170.6L547.2 170.7L547.7 170.8L548.2 170.9L548.7 171.0L549.2 171.1L549.7 171.2L550.2 171.3L550.7 171.4L551.2 171.5L551.7 171.6L552.2 171.6L552.7 171.7L553.2 171.8L553.7 171.9L554.2 172.0L554.7 172.1L555.2 172.1L555.7 172.2L556.2 172.3L556.7 172.3L557.2 172.4L557.7 172.5L558.2 172.5L558.7 172.5L559.2 172.6L559.7 172.6L560.2 172.6L560.7 172.6L561.2 172.5L561.7 172.5L562.2 172.4L562.7 172.3L563.2 172.2L563.7 172.1L564.2 172.0L564.7 171.9L565.2 171.8L565.7 171.6L566.2 171.5L566.7 171.4L567.2 171.2L567.7 171.1L568.2 171.0L568.7 170.8L569.2 170.7L569.7 170.6L570.2 170.4L570.7 170.2L571.2 170.0L571.7 169.7L572.2 169.3L572.7 168.9L573.2 168.4L573.7 167.8L574.2 167.1L574.7 166.4L575.2 165.2L575.7 163.0L576.2 160.0L576.7 156.8L577.2 153.9L577.7 150.7L578.2 147.2L578.7 144.0L579.2 141.3L579.7 139.3L580.2 138.6L580.7 139.4L581.2 141.5L581.7 144.4L582.2 147.4L582.7 149.9L583.2 151.5L583.7 151.7L584.2 151.1L584.7 150.2L585.2 149.1L585.7 148.0L586.2 147.3L586.7 147.1L587.2 147.7L587.7 148.6L588.2 149.8L588.7 151.1L589.2 152.4L589.7 153.8L590.2 155.1L590.7 156.3L591.2 157.4L591.7 158.6L592.2 159.8L592.7 161.0L593.2 162.1L593.7 163.2L594.2 164.2L594.7 165.1L595.2 165.9L595.7 166.7L596.2 167.4L596.7 168.0L597.2 168.5L597.7 168.9L598.2 169.2L598.7 169.2L599.2 169.0L599.7 168.6L600.2 167.8L600.7 166.9L601.2 165.7L601.7 164.4L602.2 163.1L602.7 161.7L603.2 160.4L603.7 158.8L604.2 156.9L604.7 154.9L605.2 153.0L605.7 151.5L606.2 150.5L606.7 150.4L607.2 150.9L607.7 151.7L608.2 152.5L608.7 153.0L609.2 153.1L609.7 152.7L610.2 152.1L610.7 151.5L611.2 151.2L611.7 151.1L612.2 151.6L612.7 152.6L613.2 153.8L613.7 155.3L614.2 156.9L614.7 158.4L615.2 159.9L615.7 161.2L616.2 162.5L616.7 163.9L617.2 165.3L617.7 166.7L618.2 168.0L618.7 169.2L619.2 170.2L619.7 171.0L620.2 171.5L620.7 172.0L621.2 172.5L621.7 173.0L622.2 173.4L622.7 173.7L623.2 174.1L623.7 174.3L624.2 174.6L624.7 174.8L625.2 175.0L625.7 175.1L626.2 175.2L626.7 175.3L627.2 175.4L627.7 175.6L628.2 175.7L628.7 175.8L629.2 175.9L629.7 176.0L630.2 176.1L630.7 176.2L631.2 176.3L631.7 176.4L632.2 176.6L632.7 176.7L633.2 176.8L633.7 176.9L634.2 177.0L634.7 177.1L635.2 177.1L635.7 177.2L636.2 177.3L636.7 177.4L637.2 177.5L637.7 177.5L638.2 177.6L638.7 177.7L639.2 177.7L639.7 177.8L640.2 177.8L640.7 177.9L641.2 177.9L641.7 177.9L642.2 178.0L642.7 178.0L643.2 178.0L643.7 178.0L644.2 178.0L644.7 178.0L645.2 177.9L645.7 177.9L646.2 177.9L646.7 177.8L646.9 177.8" fill="none" stroke="#800000" stroke-width="1.70" stroke-linejoin="round" stroke-linecap="round"/>
<path d="M371.2 165.9L371.7 166.0L372.2 166.0L372.7 166.0L373.2 166.0L373.7 166.1L374.2 166.1L374.7 166.1L375.2 166.1L375.7 166.2L376.2 166.2L376.7 166.2L377.2 166.2L377.7 166.3L378.2 166.3L378.7 166.3L379.2 166.3L379.7 166.4L380.2 166.4L380.7 166.4L381.2 166.4L381.7 166.5L382.2 166.5L382.7 166.5L383.2 166.5L383.7 166.5L384.2 166.6L384.7 166.6L385.2 166.6L385.7 166.6L386.2 166.6L386.7 166.7L387.2 166.7L387.7 166.7L388.2 166.7L388.7 166.7L389.2 166.8L389.7 166.8L390.2 166.8L390.7 166.8L391.2 166.8L391.7 166.8L392.2 166.9L392.7 166.9L393.2 166.9L393.7 166.9L394.2 166.9L394.7 166.9L395.2 167.0L395.7 167.0L396.2 167.0L396.7 167.0L397.2 167.0L397.7 167.0L398.2 167.0L398.7 167.0L399.2 167.1L399.7 167.1L400.2 167.1L400.7 167.1L401.2 167.1L401.7 167.1L402.2 167.1L402.7 167.1L403.2 167.1L403.7 167.1L404.2 167.1L404.7 167.1L405.2 167.1L405.7 167.0L406.2 167.0L406.7 167.0L407.2 167.0L407.7 167.0L408.2 166.9L408.7 166.9L409.2 166.9L409.7 166.8L410.2 166.8L410.7 166.8L411.2 166.7L411.7 166.7L412.2 166.6L412.7 166.6L413.2 166.6L413.7 166.5L414.2 166.5L414.7 166.5L415.2 166.4L415.7 166.4L416.2 166.4L416.7 166.4L417.2 166.4L417.7 166.3L418.2 166.3L418.7 166.3L419.2 166.3L419.7 166.3L420.2 166.3L420.7 166.4L421.2 166.4L421.7 166.4L422.2 166.4L422.7 166.4L423.2 166.5L423.7 166.5L424.2 166.5L424.7 166.6L425.2 166.6L425.7 166.6L426.2 166.7L426.7 166.7L427.2 166.8L427.7 166.8L428.2 166.9L428.7 166.9L429.2 166.9L429.7 167.0L430.2 167.0L430.7 167.1L431.2 167.1L431.7 167.1L432.2 167.2L432.7 167.2L433.2 167.2L433.7 167.3L434.2 167.3L434.7 167.3L435.2 167.3L435.7 167.4L436.2 167.4L436.7 167.4L437.2 167.4L437.7 167.4L438.2 167.4L438.7 167.4L439.2 167.5L439.7 167.5L440.2 167.5L440.7 167.5L441.2 167.5L441.7 167.5L442.2 167.5L442.7 167.5L443.2 167.5L443.7 167.5L444.2 167.6L444.7 167.6L445.2 167.6L445.7 167.6L446.2 167.6L446.7 167.6L447.2 167.6L447.7 167.6L448.2 167.6L448.7 167.6L449.2 167.6L449.7 167.6L450.2 167.6L450.7 167.6L451.2 167.7L451.7 167.7L452.2 167.7L452.7 167.7L453.2 167.7L453.7 167.7L454.2 167.7L454.7 167.7L455.2 167.7L455.7 167.7L456.2 167.7L456.7 167.7L457.2 167.7L457.7 167.7L458.2 167.7L458.7 167.7L459.2 167.7L459.7 167.7L460.2 167.7L460.7 167.7L461.2 167.7L461.7 167.7L462.2 167.7L462.7 167.7L463.2 167.7L463.7 167.7L464.2 167.7L464.7 167.7L465.2 167.7L465.7 167.7L466.2 167.7L466.7 167.7L467.2 167.7L467.7 167.7L468.2 167.7L468.7 167.6L469.2 167.6L469.7 167.6L470.2 167.6L470.7 167.6L471.2 167.6L471.7 167.6L472.2 167.6L472.7 167.6L473.2 167.6L473.7 167.6L474.2 167.6L474.7 167.6L475.2 167.6L475.7 167.6L476.2 167.6L476.7 167.6L477.2 167.6L477.7 167.5L478.2 167.5L478.7 167.5L479.2 167.5L479.7 167.5L480.2 167.5L480.7 167.5L481.2 167.5L481.7 167.5L482.2 167.5L482.7 167.5L483.2 167.5L483.7 167.5L484.2 167.5L484.7 167.5L485.2 167.5L485.7 167.4L486.2 167.4L486.7 167.4L487.2 167.4L487.7 167.4L488.2 167.4L488.7 167.4L489.2 167.4L489.7 167.4L490.2 167.4L490.7 167.4L491.2 167.4L491.7 167.4L492.2 167.4L492.7 167.4L493.2 167.4L493.7 167.4L494.2 167.3L494.7 167.3L495.2 167.3L495.7 167.3L496.2 167.3L496.7 167.3L497.2 167.3L497.7 167.3L498.2 167.3L498.7 167.3L499.2 167.2L499.7 167.2L500.2 167.2L500.7 167.2L501.2 167.2L501.7 167.2L502.2 167.2L502.7 167.2L503.2 167.1L503.7 167.1L504.2 167.1L504.7 167.1L505.2 167.1L505.7 167.1L506.2 167.0L506.7 167.0L507.2 167.0L507.7 167.0L508.2 167.0L508.7 166.9L509.2 166.9L509.7 166.9L510.2 166.9L510.7 166.9L511.2 166.8L511.7 166.8L512.2 166.8L512.7 166.8L513.2 166.7L513.7 166.7L514.2 166.7L514.7 166.7L515.2 166.6L515.7 166.6L516.2 166.6L516.7 166.5L517.2 166.5L517.7 166.4L518.2 166.4L518.7 166.3L519.2 166.2L519.7 166.1L520.2 166.0L520.7 165.9L521.2 165.7L521.7 165.5L522.2 165.3L522.7 165.1L523.2 164.8L523.7 164.5L524.2 164.2L524.7 164.0L525.2 163.7L525.7 163.4L526.2 163.1L526.7 162.8L527.2 162.5L527.7 162.2L528.2 161.9L528.7 161.7L529.2 161.5L529.7 161.2L530.2 161.0L530.7 160.8L531.2 160.6L531.7 160.4L532.2 160.3L532.7 160.1L533.2 159.9L533.7 159.8L534.2 159.6L534.7 159.4L535.2 159.3L535.7 159.2L536.2 159.0L536.7 158.9L537.2 158.8L537.7 158.7L538.2 158.7L538.7 158.6L539.2 158.6L539.7 158.5L540.2 158.5L540.7 158.5L541.2 158.5L541.7 158.6L542.2 158.6L542.7 158.7L543.2 158.7L543.7 158.8L544.2 158.9L544.7 159.0L545.2 159.1L545.7 159.2L546.2 159.3L546.7 159.4L547.2 159.5L547.7 159.6L548.2 159.7L548.7 159.9L549.2 160.0L549.7 160.1L550.2 160.2L550.7 160.4L551.2 160.5L551.7 160.6L552.2 160.7L552.7 160.9L553.2 161.0L553.7 161.1L554.2 161.2L554.7 161.4L555.2 161.5L555.7 161.6L556.2 161.8L556.7 161.9L557.2 162.0L557.7 162.2L558.2 162.3L558.7 162.4L559.2 162.6L559.7 162.7L560.2 162.8L560.7 162.9L561.2 163.0L561.7 163.1L562.2 163.2L562.7 163.3L563.2 163.4L563.7 163.5L564.2 163.5L564.7 163.5L565.2 163.6L565.7 163.6L566.2 163.5L566.7 163.5L567.2 163.5L567.7 163.4L568.2 163.3L568.7 163.2L569.2 163.1L569.7 163.0L570.2 162.8L570.7 162.6L571.2 162.2L571.7 161.8L572.2 161.2L572.7 160.5L573.2 159.5L573.7 158.3L574.2 156.9L574.7 155.2L575.2 153.4L575.7 150.4L576.2 146.0L576.7 140.3L577.2 133.6L577.7 125.9L578.2 114.3L578.7 100.2L579.2 86.7L579.7 76.0L580.2 65.9L580.7 57.1L581.2 51.5L581.7 50.9L582.2 56.0L582.7 65.0L583.2 75.7L583.7 87.8L584.2 103.0L584.7 113.5L585.2 120.6L585.7 122.4L586.2 122.4L586.7 122.0L587.2 121.5L587.7 121.1L588.2 121.2L588.7 122.0L589.2 122.9L589.7 124.0L590.2 125.2L590.7 126.7L591.2 128.5L591.7 130.6L592.2 133.0L592.7 135.4L593.2 138.0L593.7 140.4L594.2 142.7L594.7 144.7L595.2 146.3L595.7 147.8L596.2 149.2L596.7 150.4L597.2 151.5L597.7 152.4L598.2 153.2L598.7 153.7L599.2 153.9L599.7 153.7L600.2 153.0L600.7 152.1L601.2 150.8L601.7 149.3L602.2 147.6L602.7 145.4L603.2 142.2L603.7 138.3L604.2 133.8L604.7 129.0L605.2 124.1L605.7 119.3L606.2 114.7L606.7 110.0L607.2 105.3L607.7 100.4L608.2 95.6L608.7 90.7L609.2 85.7L609.7 80.0L610.2 73.9L610.7 67.7L611.2 62.0L611.7 57.1L612.2 53.5L612.7 51.5L613.2 53.1L613.7 59.8L614.2 69.7L614.7 80.6L615.2 90.3L615.7 97.0L616.2 102.8L616.7 108.5L617.2 113.9L617.7 119.0L618.2 123.8L618.7 128.0L619.2 131.8L619.7 135.5L620.2 139.3L620.7 142.9L621.2 146.2L621.7 149.0L622.2 151.3L622.7 152.8L623.2 153.7L623.7 154.6L624.2 155.4L624.7 156.2L625.2 157.0L625.7 157.8L626.2 158.4L626.7 159.1L627.2 159.7L627.7 160.2L628.2 160.7L628.7 161.1L629.2 161.4L629.7 161.7L630.2 161.8L630.7 162.0L631.2 162.1L631.7 162.3L632.2 162.4L632.7 162.6L633.2 162.7L633.7 162.9L634.2 163.0L634.7 163.2L635.2 163.3L635.7 163.5L636.2 163.6L636.7 163.7L637.2 163.8L637.7 163.9L638.2 164.1L638.7 164.2L639.2 164.2L639.7 164.3L640.2 164.4L640.7 164.4L641.2 164.5L641.7 164.5L642.2 164.5L642.7 164.5L643.2 164.5L643.7 164.5L644.2 164.5L644.7 164.4L645.2 164.3L645.7 164.2L646.2 164.1L646.7 164.0L646.9 163.9" fill="none" stroke="#00ff00" stroke-width="1.70" stroke-linejoin="round" stroke-linecap="round"/>
<path d="M371.2 155.6L371.7 155.7L372.2 155.7L372.7 155.7L373.2 155.7L373.7 155.7L374.2 155.7L374.7 155.7L375.2 155.7L375.7 155.8L376.2 155.8L376.7 155.8L377.2 155.8L377.7 155.8L378.2 155.8L378.7 155.9L379.2 155.9L379.7 155.9L380.2 155.9L380.7 155.9L381.2 155.9L381.7 156.0L382.2 156.0L382.7 156.0L383.2 156.0L383.7 156.0L384.2 156.0L384.7 156.1L385.2 156.1L385.7 156.1L386.2 156.1L386.7 156.1L387.2 156.1L387.7 156.1L388.2 156.2L388.7 156.2L389.2 156.2L389.7 156.2L390.2 156.2L390.7 156.2L391.2 156.3L391.7 156.3L392.2 156.3L392.7 156.3L393.2 156.3L393.7 156.3L394.2 156.3L394.7 156.4L395.2 156.4L395.7 156.4L396.2 156.4L396.7 156.4L397.2 156.4L397.7 156.4L398.2 156.5L398.7 156.5L399.2 156.5L399.7 156.5L400.2 156.5L400.7 156.5L401.2 156.5L401.7 156.6L402.2 156.6L402.7 156.6L403.2 156.6L403.7 156.6L404.2 156.6L404.7 156.6L405.2 156.6L405.7 156.7L406.2 156.7L406.7 156.7L407.2 156.7L407.7 156.7L408.2 156.7L408.7 156.7L409.2 156.8L409.7 156.8L410.2 156.8L410.7 156.8L411.2 156.8L411.7 156.8L412.2 156.8L412.7 156.8L413.2 156.8L413.7 156.9L414.2 156.9L414.7 156.9L415.2 156.9L415.7 156.9L416.2 156.9L416.7 156.9L417.2 156.9L417.7 156.9L418.2 157.0L418.7 157.0L419.2 157.0L419.7 157.0L420.2 157.0L420.7 157.0L421.2 157.0L421.7 157.0L422.2 157.0L422.7 157.1L423.2 157.1L423.7 157.1L424.2 157.1L424.7 157.1L425.2 157.1L425.7 157.1L426.2 157.1L426.7 157.1L427.2 157.1L427.7 157.1L428.2 157.2L428.7 157.2L429.2 157.2L429.7 157.2L430.2 157.2L430.7 157.2L431.2 157.2L431.7 157.2L432.2 157.2L432.7 157.2L433.2 157.2L433.7 157.2L434.2 157.2L434.7 157.3L435.2 157.3L435.7 157.3L436.2 157.3L436.7 157.3L437.2 157.3L437.7 157.3L438.2 157.3L438.7 157.3L439.2 157.3L439.7 157.3L440.2 157.3L440.7 157.3L441.2 157.3L441.7 157.3L442.2 157.3L442.7 157.4L443.2 157.4L443.7 157.4L444.2 157.4L444.7 157.4L445.2 157.4L445.7 157.4L446.2 157.4L446.7 157.4L447.2 157.4L447.7 157.4L448.2 157.4L448.7 157.4L449.2 157.4L449.7 157.4L450.2 157.4L450.7 157.4L451.2 157.4L451.7 157.4L452.2 157.4L452.7 157.5L453.2 157.5L453.7 157.5L454.2 157.5L454.7 157.5L455.2 157.5L455.7 157.5L456.2 157.5L456.7 157.5L457.2 157.5L457.7 157.5L458.2 157.5L458.7 157.5L459.2 157.5L459.7 157.5L460.2 157.5L460.7 157.5L461.2 157.5L461.7 157.5L462.2 157.5L462.7 157.5L463.2 157.5L463.7 157.5L464.2 157.5L464.7 157.5L465.2 157.5L465.7 157.5L466.2 157.5L466.7 157.6L467.2 157.6L467.7 157.6L468.2 157.6L468.7 157.6L469.2 157.6L469.7 157.6L470.2 157.6L470.7 157.6L471.2 157.6L471.7 157.6L472.2 157.6L472.7 157.6L473.2 157.6L473.7 157.6L474.2 157.6L474.7 157.6L475.2 157.6L475.7 157.6L476.2 157.6L476.7 157.6L477.2 157.6L477.7 157.6L478.2 157.6L478.7 157.6L479.2 157.6L479.7 157.6L480.2 157.6L480.7 157.6L481.2 157.6L481.7 157.6L482.2 157.6L482.7 157.7L483.2 157.7L483.7 157.7L484.2 157.7L484.7 157.7L485.2 157.7L485.7 157.7L486.2 157.7L486.7 157.7L487.2 157.7L487.7 157.7L488.2 157.7L488.7 157.7L489.2 157.7L489.7 157.7L490.2 157.7L490.7 157.7L491.2 157.7L491.7 157.7L492.2 157.7L492.7 157.7L493.2 157.7L493.7 157.7L494.2 157.7L494.7 157.7L495.2 157.7L495.7 157.7L496.2 157.7L496.7 157.6L497.2 157.6L497.7 157.6L498.2 157.6L498.7 157.6L499.2 157.6L499.7 157.6L500.2 157.5L500.7 157.5L501.2 157.5L501.7 157.5L502.2 157.5L502.7 157.4L503.2 157.4L503.7 157.4L504.2 157.4L504.7 157.3L505.2 157.3L505.7 157.3L506.2 157.3L506.7 157.2L507.2 157.2L507.7 157.2L508.2 157.1L508.7 157.1L509.2 157.1L509.7 157.0L510.2 157.0L510.7 157.0L511.2 156.9L511.7 156.9L512.2 156.8L512.7 156.8L513.2 156.8L513.7 156.7L514.2 156.7L514.7 156.6L515.2 156.6L515.7 156.5L516.2 156.5L516.7 156.4L517.2 156.4L517.7 156.3L518.2 156.2L518.7 156.1L519.2 156.0L519.7 155.9L520.2 155.8L520.7 155.6L521.2 155.4L521.7 155.2L522.2 154.9L522.7 154.6L523.2 154.3L523.7 154.0L524.2 153.7L524.7 153.4L525.2 153.0L525.7 152.7L526.2 152.4L526.7 152.0L527.2 151.7L527.7 151.4L528.2 151.1L528.7 150.8L529.2 150.5L529.7 150.3L530.2 150.0L530.7 149.8L531.2 149.5L531.7 149.3L532.2 149.1L532.7 148.9L533.2 148.6L533.7 148.4L534.2 148.2L534.7 148.1L535.2 147.9L535.7 147.7L536.2 147.5L536.7 147.4L537.2 147.3L537.7 147.1L538.2 147.0L538.7 147.0L539.2 146.9L539.7 146.9L540.2 146.8L540.7 146.8L541.2 146.9L541.7 146.9L542.2 146.9L542.7 147.0L543.2 147.1L543.7 147.2L544.2 147.3L544.7 147.4L545.2 147.5L545.7 147.6L546.2 147.7L546.7 147.9L547.2 148.0L547.7 148.1L548.2 148.2L548.7 148.4L549.2 148.5L549.7 148.6L550.2 148.7L550.7 148.8L551.2 148.9L551.7 149.1L552.2 149.2L552.7 149.3L553.2 149.4L553.7 149.5L554.2 149.5L554.7 149.6L555.2 149.7L555.7 149.8L556.2 149.9L556.7 150.0L557.2 150.1L557.7 150.2L558.2 150.3L558.7 150.4L559.2 150.5L559.7 150.5L560.2 150.6L560.7 150.7L561.2 150.8L561.7 150.9L562.2 150.9L562.7 151.0L563.2 151.1L563.7 151.1L564.2 151.2L564.7 151.2L565.2 151.2L565.7 151.2L566.2 151.3L566.7 151.3L567.2 151.3L567.7 151.2L568.2 151.2L568.7 151.2L569.2 151.1L569.7 151.0L570.2 150.8L570.7 150.5L571.2 150.1L571.7 149.5L572.2 148.6L572.7 147.6L573.2 146.1L573.7 144.3L574.2 142.1L574.7 139.7L575.2 135.8L575.7 130.0L576.2 122.5L576.7 113.7L577.2 103.4L577.7 86.6L578.2 66.4L578.7 50.0L579.2 37.7L579.7 26.4L580.2 17.8L580.7 13.5L581.2 14.9L581.7 20.5L582.2 29.0L582.7 39.2L583.2 50.0L583.7 64.5L584.2 78.4L584.7 84.9L585.2 90.1L585.7 94.5L586.2 98.1L586.7 100.7L587.2 102.6L587.7 104.0L588.2 105.3L588.7 106.5L589.2 107.6L589.7 108.9L590.2 110.4L590.7 112.1L591.2 114.2L591.7 116.5L592.2 118.9L592.7 121.4L593.2 123.8L593.7 126.2L594.2 128.3L594.7 130.2L595.2 131.7L595.7 133.0L596.2 134.3L596.7 135.4L597.2 136.4L597.7 137.2L598.2 138.0L598.7 138.5L599.2 139.0L599.7 139.2L600.2 138.8L600.7 138.0L601.2 136.8L601.7 135.4L602.2 133.9L602.7 132.0L603.2 129.0L603.7 125.1L604.2 120.6L604.7 115.5L605.2 110.3L605.7 104.5L606.2 97.7L606.7 90.3L607.2 82.9L607.7 75.6L608.2 67.7L608.7 59.9L609.2 53.2L609.7 48.2L610.2 44.2L610.7 41.0L611.2 38.5L611.7 37.0L612.2 36.5L612.7 37.4L613.2 39.6L613.7 42.9L614.2 47.2L614.7 52.4L615.2 61.1L615.7 71.2L616.2 80.0L616.7 87.1L617.2 94.0L617.7 100.8L618.2 107.1L618.7 112.9L619.2 118.1L619.7 122.3L620.2 125.9L620.7 129.3L621.2 132.6L621.7 135.8L622.2 138.6L622.7 141.2L623.2 143.2L623.7 144.8L624.2 145.7L624.7 146.3L625.2 146.8L625.7 147.4L626.2 148.0L626.7 148.5L627.2 149.0L627.7 149.5L628.2 150.0L628.7 150.5L629.2 150.9L629.7 151.3L630.2 151.7L630.7 152.0L631.2 152.3L631.7 152.6L632.2 152.8L632.7 152.9L633.2 153.0L633.7 153.1L634.2 153.2L634.7 153.4L635.2 153.5L635.7 153.6L636.2 153.7L636.7 153.8L637.2 153.9L637.7 154.0L638.2 154.1L638.7 154.2L639.2 154.3L639.7 154.4L640.2 154.5L640.7 154.5L641.2 154.6L641.7 154.6L642.2 154.7L642.7 154.7L643.2 154.8L643.7 154.8L644.2 154.8L644.7 154.8L645.2 154.7L645.7 154.7L646.2 154.6L646.7 154.5L646.9 154.5" fill="none" stroke="#00ffff" stroke-width="1.70" stroke-linejoin="round" stroke-linecap="round"/>
<path d="M371.2 143.3L371.7 143.3L372.2 143.3L372.7 143.3L373.2 143.3L373.7 143.3L374.2 143.4L374.7 143.4L375.2 143.4L375.7 143.4L376.2 143.4L376.7 143.4L377.2 143.4L377.7 143.4L378.2 143.4L378.7 143.4L379.2 143.4L379.7 143.4L380.2 143.4L380.7 143.5L381.2 143.5L381.7 143.5L382.2 143.5L382.7 143.5L383.2 143.5L383.7 143.5L384.2 143.5L384.7 143.5L385.2 143.5L385.7 143.5L386.2 143.5L386.7 143.5L387.2 143.6L387.7 143.6L388.2 143.6L388.7 143.6L389.2 143.6L389.7 143.6L390.2 143.6L390.7 143.6L391.2 143.6L391.7 143.6L392.2 143.6L392.7 143.6L393.2 143.6L393.7 143.7L394.2 143.7L394.7 143.7L395.2 143.7L395.7 143.7L396.2 143.7L396.7 143.7L397.2 143.7L397.7 143.7L398.2 143.7L398.7 143.7L399.2 143.7L399.7 143.7L400.2 143.7L400.7 143.8L401.2 143.8L401.7 143.8L402.2 143.8L402.7 143.8L403.2 143.8L403.7 143.8L404.2 143.8L404.7 143.8L405.2 143.8L405.7 143.8L406.2 143.8L406.7 143.8L407.2 143.8L407.7 143.8L408.2 143.9L408.7 143.9L409.2 143.9L409.7 143.9L410.2 143.9L410.7 143.9L411.2 143.9L411.7 143.9L412.2 143.9L412.7 143.9L413.2 143.9L413.7 143.9L414.2 143.9L414.7 143.9L415.2 143.9L415.7 143.9L416.2 144.0L416.7 144.0L417.2 144.0L417.7 144.0L418.2 144.0L418.7 144.0L419.2 144.0L419.7 144.0L420.2 144.0L420.7 144.0L421.2 144.0L421.7 144.0L422.2 144.0L422.7 144.0L423.2 144.0L423.7 144.0L424.2 144.0L424.7 144.1L425.2 144.1L425.7 144.1L426.2 144.1L426.7 144.1L427.2 144.1L427.7 144.1L428.2 144.1L428.7 144.1L429.2 144.1L429.7 144.1L430.2 144.1L430.7 144.1L431.2 144.1L431.7 144.1L432.2 144.1L432.7 144.1L433.2 144.1L433.7 144.1L434.2 144.1L434.7 144.2L435.2 144.2L435.7 144.2L436.2 144.2L436.7 144.2L437.2 144.2L437.7 144.2L438.2 144.2L438.7 144.2L439.2 144.2L439.7 144.2L440.2 144.2L440.7 144.2L441.2 144.2L441.7 144.2L442.2 144.2L442.7 144.2L443.2 144.2L443.7 144.2L444.2 144.2L444.7 144.2L445.2 144.2L445.7 144.2L446.2 144.2L446.7 144.2L447.2 144.3L447.7 144.3L448.2 144.3L448.7 144.3L449.2 144.3L449.7 144.3L450.2 144.3L450.7 144.3L451.2 144.3L451.7 144.3L452.2 144.3L452.7 144.3L453.2 144.3L453.7 144.3L454.2 144.3L454.7 144.3L455.2 144.3L455.7 144.3L456.2 144.3L456.7 144.3L457.2 144.3L457.7 144.3L458.2 144.3L458.7 144.3L459.2 144.3L459.7 144.3L460.2 144.3L460.7 144.3L461.2 144.3L461.7 144.3L462.2 144.3L462.7 144.3L463.2 144.4L463.7 144.4L464.2 144.4L464.7 144.4L465.2 144.4L465.7 144.4L466.2 144.4L466.7 144.4L467.2 144.4L467.7 144.4L468.2 144.4L468.7 144.4L469.2 144.4L469.7 144.4L470.2 144.4L470.7 144.4L471.2 144.4L471.7 144.4L472.2 144.4L472.7 144.4L473.2 144.4L473.7 144.4L474.2 144.4L474.7 144.4L475.2 144.4L475.7 144.4L476.2 144.4L476.7 144.4L477.2 144.4L477.7 144.4L478.2 144.4L478.7 144.4L479.2 144.4L479.7 144.4L480.2 144.4L480.7 144.4L481.2 144.4L481.7 144.5L482.2 144.5L482.7 144.5L483.2 144.5L483.7 144.5L484.2 144.5L484.7 144.5L485.2 144.5L485.7 144.5L486.2 144.5L486.7 144.5L487.2 144.5L487.7 144.5L488.2 144.5L488.7 144.5L489.2 144.5L489.7 144.5L490.2 144.5L490.7 144.5L491.2 144.5L491.7 144.5L492.2 144.5L492.7 144.5L493.2 144.5L493.7 144.5L494.2 144.5L494.7 144.5L495.2 144.5L495.7 144.5L496.2 144.5L496.7 144.5L497.2 144.5L497.7 144.5L498.2 144.5L498.7 144.4L499.2 144.4L499.7 144.4L500.2 144.4L500.7 144.4L501.2 144.4L501.7 144.4L502.2 144.4L502.7 144.3L503.2 144.3L503.7 144.3L504.2 144.3L504.7 144.3L505.2 144.3L505.7 144.2L506.2 144.2L506.7 144.2L507.2 144.2L507.7 144.2L508.2 144.1L508.7 144.1L509.2 144.1L509.7 144.1L510.2 144.1L510.7 144.0L511.2 144.0L511.7 144.0L512.2 143.9L512.7 143.9L513.2 143.9L513.7 143.9L514.2 143.8L514.7 143.8L515.2 143.8L515.7 143.7L516.2 143.7L516.7 143.7L517.2 143.6L517.7 143.6L518.2 143.5L518.7 143.4L519.2 143.4L519.7 143.3L520.2 143.1L520.7 143.0L521.2 142.8L521.7 142.7L522.2 142.5L522.7 142.2L523.2 142.0L523.7 141.8L524.2 141.5L524.7 141.2L525.2 140.9L525.7 140.7L526.2 140.4L526.7 140.1L527.2 139.9L527.7 139.6L528.2 139.3L528.7 139.1L529.2 138.8L529.7 138.6L530.2 138.4L530.7 138.2L531.2 137.9L531.7 137.7L532.2 137.5L532.7 137.3L533.2 137.1L533.7 136.9L534.2 136.7L534.7 136.5L535.2 136.3L535.7 136.1L536.2 135.9L536.7 135.8L537.2 135.6L537.7 135.5L538.2 135.4L538.7 135.3L539.2 135.2L539.7 135.2L540.2 135.2L540.7 135.2L541.2 135.2L541.7 135.2L542.2 135.3L542.7 135.3L543.2 135.4L543.7 135.5L544.2 135.6L544.7 135.7L545.2 135.9L545.7 136.0L546.2 136.2L546.7 136.3L547.2 136.5L547.7 136.6L548.2 136.8L548.7 136.9L549.2 137.1L549.7 137.2L550.2 137.4L550.7 137.5L551.2 137.6L551.7 137.8L552.2 137.9L552.7 138.1L553.2 138.2L553.7 138.3L554.2 138.4L554.7 138.6L555.2 138.7L555.7 138.8L556.2 139.0L556.7 139.1L557.2 139.2L557.7 139.3L558.2 139.5L558.7 139.6L559.2 139.7L559.7 139.8L560.2 139.9L560.7 140.1L561.2 140.2L561.7 140.3L562.2 140.4L562.7 140.5L563.2 140.6L563.7 140.6L564.2 140.7L564.7 140.8L565.2 140.8L565.7 140.9L566.2 140.9L566.7 140.9L567.2 140.9L567.7 140.9L568.2 140.9L568.7 140.9L569.2 140.9L569.7 140.8L570.2 140.8L570.7 140.7L571.2 140.5L571.7 140.3L572.2 140.0L572.7 139.6L573.2 139.1L573.7 138.5L574.2 137.7L574.7 136.8L575.2 135.8L575.7 134.7L576.2 132.8L576.7 130.2L577.2 126.9L577.7 122.8L578.2 115.9L578.7 108.4L579.2 103.2L579.7 99.1L580.2 96.8L580.7 97.4L581.2 98.9L581.7 100.8L582.2 102.8L582.7 105.1L583.2 107.5L583.7 109.6L584.2 110.9L584.7 111.8L585.2 112.6L585.7 113.3L586.2 114.0L586.7 114.6L587.2 115.1L587.7 115.7L588.2 116.2L588.7 116.7L589.2 117.2L589.7 117.8L590.2 118.3L590.7 119.0L591.2 119.6L591.7 120.1L592.2 120.6L592.7 121.1L593.2 121.4L593.7 121.6L594.2 121.8L594.7 121.9L595.2 122.0L595.7 122.0L596.2 122.1L596.7 122.1L597.2 122.2L597.7 122.2L598.2 122.3L598.7 122.5L599.2 122.7L599.7 122.9L600.2 123.1L600.7 123.3L601.2 123.4L601.7 123.5L602.2 122.8L602.7 121.3L603.2 119.3L603.7 117.0L604.2 114.2L604.7 110.4L605.2 106.1L605.7 101.7L606.2 97.7L606.7 94.6L607.2 92.2L607.7 90.0L608.2 88.2L608.7 86.7L609.2 85.6L609.7 84.5L610.2 83.6L610.7 83.0L611.2 82.9L611.7 83.3L612.2 84.1L612.7 85.1L613.2 86.3L613.7 87.5L614.2 89.1L614.7 91.0L615.2 93.2L615.7 95.6L616.2 98.5L616.7 101.9L617.2 105.6L617.7 109.3L618.2 113.1L618.7 116.7L619.2 120.0L619.7 122.8L620.2 125.2L620.7 127.5L621.2 129.8L621.7 131.9L622.2 133.8L622.7 135.5L623.2 136.9L623.7 137.9L624.2 138.4L624.7 138.7L625.2 139.0L625.7 139.3L626.2 139.6L626.7 139.8L627.2 140.1L627.7 140.3L628.2 140.6L628.7 140.8L629.2 141.0L629.7 141.2L630.2 141.4L630.7 141.5L631.2 141.7L631.7 141.8L632.2 141.9L632.7 142.0L633.2 142.0L633.7 142.1L634.2 142.1L634.7 142.2L635.2 142.3L635.7 142.3L636.2 142.4L636.7 142.4L637.2 142.5L637.7 142.6L638.2 142.6L638.7 142.7L639.2 142.8L639.7 142.8L640.2 142.9L640.7 142.9L641.2 143.0L641.7 143.0L642.2 143.1L642.7 143.1L643.2 143.1L643.7 143.1L644.2 143.1L644.7 143.2L645.2 143.2L645.7 143.2L646.2 143.1L646.7 143.1L646.9 143.1" fill="none" stroke="#858585" stroke-width="1.70" stroke-linejoin="round" stroke-linecap="round"/>
<text x="0" y="0" font-size="11.60" text-anchor="start" font-weight="normal" fill="#151515" transform="translate(651.50,144.90) scale(0.925,1)" >E-504h</text>
<text x="0" y="0" font-size="11.60" text-anchor="start" font-weight="normal" fill="#151515" transform="translate(651.50,154.80) scale(0.925,1)" >E-336h</text>
<text x="0" y="0" font-size="11.60" text-anchor="start" font-weight="normal" fill="#151515" transform="translate(651.50,166.20) scale(0.925,1)" >E-168h</text>
<text x="0" y="0" font-size="11.60" text-anchor="start" font-weight="normal" fill="#151515" transform="translate(651.50,178.60) scale(0.925,1)" >W-8h</text>
<text x="0" y="0" font-size="11.60" text-anchor="start" font-weight="normal" fill="#151515" transform="translate(651.50,191.60) scale(0.925,1)" >W-6h</text>
<text x="0" y="0" font-size="11.60" text-anchor="start" font-weight="normal" fill="#151515" transform="translate(651.50,204.50) scale(0.925,1)" >W-4h</text>
<text x="0" y="0" font-size="11.60" text-anchor="start" font-weight="normal" fill="#151515" transform="translate(651.50,215.70) scale(0.925,1)" >B-4h</text>
<path d="M25.4 490.7L25.9 490.7L26.4 490.7L26.9 490.7L27.4 490.7L27.9 490.7L28.4 490.7L28.9 490.7L29.4 490.7L29.9 490.7L30.4 490.7L30.9 490.7L31.4 490.7L31.9 490.7L32.4 490.7L32.9 490.7L33.4 490.7L33.9 490.7L34.4 490.7L34.9 490.7L35.4 490.7L35.9 490.7L36.4 490.7L36.9 490.7L37.4 490.7L37.9 490.7L38.4 490.7L38.9 490.7L39.4 490.7L39.9 490.7L40.4 490.7L40.9 490.7L41.4 490.7L41.9 490.7L42.4 490.7L42.9 490.7L43.4 490.7L43.9 490.7L44.4 490.7L44.9 490.7L45.4 490.7L45.9 490.7L46.4 490.7L46.9 490.7L47.4 490.7L47.9 490.7L48.4 490.7L48.9 490.7L49.4 490.7L49.9 490.7L50.4 490.7L50.9 490.7L51.4 490.7L51.9 490.7L52.4 490.7L52.9 490.7L53.4 490.7L53.9 490.7L54.4 490.7L54.9 490.7L55.4 490.7L55.9 490.7L56.4 490.7L56.9 490.7L57.4 490.7L57.9 490.7L58.4 490.7L58.9 490.7L59.4 490.7L59.9 490.7L60.4 490.7L60.9 490.7L61.4 490.7L61.9 490.7L62.4 490.7L62.9 490.7L63.4 490.7L63.9 490.7L64.4 490.7L64.9 490.7L65.4 490.7L65.9 490.7L66.4 490.7L66.9 490.7L67.4 490.7L67.9 490.7L68.4 490.7L68.9 490.7L69.4 490.7L69.9 490.7L70.4 490.7L70.9 490.7L71.4 490.7L71.9 490.7L72.4 490.7L72.9 490.7L73.4 490.7L73.9 490.7L74.4 490.7L74.9 490.7L75.4 490.7L75.9 490.7L76.4 490.7L76.9 490.7L77.4 490.7L77.9 490.7L78.4 490.7L78.9 490.7L79.4 490.7L79.9 490.7L80.4 490.7L80.9 490.7L81.4 490.7L81.9 490.7L82.4 490.7L82.9 490.7L83.4 490.7L83.9 490.7L84.4 490.7L84.9 490.7L85.4 490.7L85.9 490.7L86.4 490.7L86.9 490.7L87.4 490.7L87.9 490.7L88.4 490.7L88.9 490.7L89.4 490.7L89.9 490.7L90.4 490.7L90.9 490.7L91.4 490.7L91.9 490.7L92.4 490.7L92.9 490.7L93.4 490.7L93.9 490.7L94.4 490.7L94.9 490.7L95.4 490.7L95.9 490.7L96.4 490.7L96.9 490.7L97.4 490.7L97.9 490.7L98.4 490.7L98.9 490.7L99.4 490.7L99.9 490.7L100.4 490.7L100.9 490.7L101.4 490.7L101.9 490.7L102.4 490.7L102.9 490.7L103.4 490.7L103.9 490.7L104.4 490.7L104.9 490.7L105.4 490.7L105.9 490.7L106.4 490.7L106.9 490.7L107.4 490.7L107.9 490.7L108.4 490.7L108.9 490.7L109.4 490.7L109.9 490.7L110.4 490.7L110.9 490.7L111.4 490.7L111.9 490.7L112.4 490.7L112.9 490.7L113.4 490.7L113.9 490.7L114.4 490.7L114.9 490.7L115.4 490.7L115.9 490.7L116.4 490.7L116.9 490.7L117.4 490.7L117.9 490.7L118.4 490.7L118.9 490.7L119.4 490.7L119.9 490.7L120.4 490.7L120.9 490.7L121.4 490.7L121.9 490.7L122.4 490.7L122.9 490.7L123.4 490.7L123.9 490.7L124.4 490.7L124.9 490.7L125.4 490.7L125.9 490.7L126.4 490.7L126.9 490.7L127.4 490.7L127.9 490.7L128.4 490.7L128.9 490.7L129.4 490.7L129.9 490.7L130.4 490.7L130.9 490.7L131.4 490.7L131.9 490.7L132.4 490.7L132.9 490.7L133.4 490.7L133.9 490.7L134.4 490.7L134.9 490.7L135.4 490.7L135.9 490.7L136.4 490.7L136.9 490.7L137.4 490.6L137.9 490.6L138.4 490.6L138.9 490.6L139.4 490.6L139.9 490.6L140.4 490.6L140.9 490.6L141.4 490.6L141.9 490.6L142.4 490.6L142.9 490.6L143.4 490.6L143.9 490.6L144.4 490.6L144.9 490.6L145.4 490.6L145.9 490.6L146.4 490.6L146.9 490.6L147.4 490.6L147.9 490.6L148.4 490.6L148.9 490.6L149.4 490.6L149.9 490.6L150.4 490.6L150.9 490.6L151.4 490.6L151.9 490.6L152.4 490.5L152.9 490.5L153.4 490.5L153.9 490.5L154.4 490.5L154.9 490.5L155.4 490.5L155.9 490.5L156.4 490.5L156.9 490.5L157.4 490.5L157.9 490.5L158.4 490.5L158.9 490.5L159.4 490.5L159.9 490.5L160.4 490.5L160.9 490.5L161.4 490.5L161.9 490.5L162.4 490.5L162.9 490.5L163.4 490.5L163.9 490.4L164.4 490.4L164.9 490.4L165.4 490.4L165.9 490.4L166.4 490.4L166.9 490.4L167.4 490.4L167.9 490.4L168.4 490.3L168.9 490.3L169.4 490.2L169.9 490.2L170.4 490.1L170.9 490.0L171.4 489.9L171.9 489.7L172.4 489.6L172.9 489.4L173.4 489.2L173.9 488.9L174.4 488.7L174.9 488.5L175.4 488.2L175.9 487.9L176.4 487.6L176.9 487.3L177.4 487.0L177.9 486.7L178.4 486.3L178.9 486.0L179.4 485.6L179.9 485.2L180.4 484.7L180.9 484.3L181.4 483.8L181.9 483.4L182.4 482.9L182.9 482.4L183.4 482.0L183.9 481.5L184.4 481.0L184.9 480.6L185.4 480.1L185.9 479.7L186.4 479.2L186.9 478.8L187.4 478.4L187.9 478.0L188.4 477.6L188.9 477.2L189.4 476.8L189.9 476.5L190.4 476.2L190.9 475.9L191.4 475.6L191.9 475.4L192.4 475.2L192.9 475.1L193.4 475.0L193.9 474.9L194.4 474.9L194.9 474.9L195.4 475.0L195.9 475.0L196.4 475.1L196.9 475.3L197.4 475.4L197.9 475.6L198.4 475.7L198.9 475.9L199.4 476.1L199.9 476.3L200.4 476.4L200.9 476.6L201.4 476.8L201.9 477.1L202.4 477.3L202.9 477.5L203.4 477.7L203.9 477.9L204.4 478.1L204.9 478.3L205.4 478.5L205.9 478.8L206.4 479.0L206.9 479.2L207.4 479.5L207.9 479.7L208.4 479.9L208.9 480.1L209.4 480.4L209.9 480.6L210.4 480.8L210.9 481.0L211.4 481.2L211.9 481.4L212.4 481.6L212.9 481.8L213.4 482.0L213.9 482.2L214.4 482.4L214.9 482.5L215.4 482.7L215.9 482.9L216.4 483.0L216.9 483.1L217.4 483.3L217.9 483.4L218.4 483.6L218.9 483.7L219.4 483.8L219.9 483.9L220.4 484.0L220.9 484.2L221.4 484.3L221.9 484.4L222.4 484.5L222.9 484.6L223.4 484.7L223.9 484.8L224.4 484.9L224.9 485.0L225.4 485.1L225.9 485.1L226.4 485.2L226.9 485.2L227.4 485.2L227.9 485.2L228.4 485.1L228.9 485.0L229.4 485.0L229.9 485.0L230.4 485.0L230.9 484.3L231.4 482.6L231.9 480.2L232.4 477.8L232.9 475.1L233.4 471.4L233.9 467.3L234.4 463.4L234.9 460.4L235.4 459.0L235.9 459.4L236.4 461.3L236.9 464.1L237.4 467.2L237.9 470.0L238.4 472.0L238.9 473.4L239.4 474.8L239.9 476.0L240.4 476.6L240.9 476.9L241.4 477.1L241.9 477.3L242.4 477.4L242.9 477.6L243.4 477.8L243.9 478.1L244.4 478.5L244.9 478.8L245.4 479.1L245.9 479.5L246.4 479.8L246.9 480.2L247.4 480.5L247.9 480.8L248.4 481.1L248.9 481.3L249.4 481.6L249.9 481.8L250.4 482.1L250.9 482.3L251.4 482.6L251.9 482.8L252.4 483.0L252.9 483.2L253.4 483.4L253.9 483.5L254.4 483.7L254.9 483.8L255.4 483.9L255.9 483.9L256.4 483.6L256.9 483.1L257.4 482.4L257.9 481.6L258.4 480.6L258.9 479.0L259.4 476.9L259.9 474.7L260.4 472.9L260.9 471.5L261.4 470.4L261.9 469.4L262.4 468.5L262.9 467.6L263.4 466.6L263.9 465.7L264.4 464.6L264.9 463.4L265.4 462.2L265.9 461.0L266.4 460.1L266.9 459.6L267.4 459.8L267.9 460.6L268.4 462.1L268.9 463.9L269.4 466.0L269.9 468.0L270.4 470.0L270.9 471.8L271.4 473.7L271.9 475.8L272.4 477.8L272.9 479.7L273.4 481.3L273.9 482.6L274.4 483.6L274.9 484.5L275.4 485.4L275.9 486.1L276.4 486.7L276.9 487.2L277.4 487.6L277.9 487.8L278.4 488.0L278.9 488.2L279.4 488.4L279.9 488.6L280.4 488.8L280.9 489.0L281.4 489.1L281.9 489.2L282.4 489.3L282.9 489.4L283.4 489.4L283.9 489.4L284.4 489.5L284.9 489.5L285.4 489.5L285.9 489.6L286.4 489.6L286.9 489.6L287.4 489.6L287.9 489.7L288.4 489.7L288.9 489.7L289.4 489.7L289.9 489.7L290.4 489.8L290.9 489.8L291.4 489.8L291.9 489.8L292.4 489.8L292.9 489.8L293.4 489.8L293.9 489.8L294.4 489.8L294.9 489.8L295.4 489.8L295.9 489.8L296.4 489.7L296.9 489.7L297.4 489.7L297.9 489.7L298.4 489.6L298.9 489.6L299.4 489.6L299.9 489.5L300.4 489.5L300.9 489.4L301.2 489.4" fill="none" stroke="#000000" stroke-width="1.70" stroke-linejoin="round" stroke-linecap="round"/>
<path d="M25.4 478.1L25.9 478.1L26.4 478.1L26.9 478.1L27.4 478.1L27.9 478.2L28.4 478.2L28.9 478.2L29.4 478.2L29.9 478.2L30.4 478.2L30.9 478.2L31.4 478.2L31.9 478.2L32.4 478.2L32.9 478.2L33.4 478.2L33.9 478.3L34.4 478.3L34.9 478.3L35.4 478.3L35.9 478.3L36.4 478.3L36.9 478.3L37.4 478.3L37.9 478.3L38.4 478.3L38.9 478.3L39.4 478.4L39.9 478.4L40.4 478.4L40.9 478.4L41.4 478.4L41.9 478.4L42.4 478.4L42.9 478.4L43.4 478.4L43.9 478.4L44.4 478.4L44.9 478.4L45.4 478.5L45.9 478.5L46.4 478.5L46.9 478.5L47.4 478.5L47.9 478.5L48.4 478.5L48.9 478.5L49.4 478.5L49.9 478.5L50.4 478.5L50.9 478.5L51.4 478.6L51.9 478.6L52.4 478.6L52.9 478.6L53.4 478.6L53.9 478.6L54.4 478.6L54.9 478.6L55.4 478.6L55.9 478.6L56.4 478.6L56.9 478.6L57.4 478.6L57.9 478.7L58.4 478.7L58.9 478.7L59.4 478.7L59.9 478.7L60.4 478.7L60.9 478.7L61.4 478.7L61.9 478.7L62.4 478.7L62.9 478.7L63.4 478.7L63.9 478.7L64.4 478.7L64.9 478.8L65.4 478.8L65.9 478.8L66.4 478.8L66.9 478.8L67.4 478.8L67.9 478.8L68.4 478.8L68.9 478.8L69.4 478.8L69.9 478.8L70.4 478.8L70.9 478.8L71.4 478.9L71.9 478.9L72.4 478.9L72.9 478.9L73.4 478.9L73.9 478.9L74.4 478.9L74.9 478.9L75.4 478.9L75.9 478.9L76.4 478.9L76.9 478.9L77.4 478.9L77.9 478.9L78.4 478.9L78.9 479.0L79.4 479.0L79.9 479.0L80.4 479.0L80.9 479.0L81.4 479.0L81.9 479.0L82.4 479.0L82.9 479.0L83.4 479.0L83.9 479.0L84.4 479.0L84.9 479.0L85.4 479.0L85.9 479.0L86.4 479.1L86.9 479.1L87.4 479.1L87.9 479.1L88.4 479.1L88.9 479.1L89.4 479.1L89.9 479.1L90.4 479.1L90.9 479.1L91.4 479.1L91.9 479.1L92.4 479.1L92.9 479.1L93.4 479.1L93.9 479.2L94.4 479.2L94.9 479.2L95.4 479.2L95.9 479.2L96.4 479.2L96.9 479.2L97.4 479.2L97.9 479.2L98.4 479.2L98.9 479.2L99.4 479.2L99.9 479.2L100.4 479.2L100.9 479.2L101.4 479.3L101.9 479.3L102.4 479.3L102.9 479.3L103.4 479.3L103.9 479.3L104.4 479.3L104.9 479.3L105.4 479.3L105.9 479.3L106.4 479.3L106.9 479.3L107.4 479.3L107.9 479.3L108.4 479.3L108.9 479.4L109.4 479.4L109.9 479.4L110.4 479.4L110.9 479.4L111.4 479.4L111.9 479.4L112.4 479.4L112.9 479.4L113.4 479.4L113.9 479.4L114.4 479.4L114.9 479.4L115.4 479.4L115.9 479.4L116.4 479.5L116.9 479.5L117.4 479.5L117.9 479.5L118.4 479.5L118.9 479.5L119.4 479.5L119.9 479.5L120.4 479.5L120.9 479.5L121.4 479.5L121.9 479.5L122.4 479.5L122.9 479.5L123.4 479.5L123.9 479.5L124.4 479.6L124.9 479.6L125.4 479.6L125.9 479.6L126.4 479.6L126.9 479.6L127.4 479.6L127.9 479.6L128.4 479.6L128.9 479.6L129.4 479.6L129.9 479.6L130.4 479.6L130.9 479.6L131.4 479.6L131.9 479.6L132.4 479.6L132.9 479.6L133.4 479.6L133.9 479.6L134.4 479.6L134.9 479.7L135.4 479.7L135.9 479.7L136.4 479.7L136.9 479.7L137.4 479.7L137.9 479.7L138.4 479.7L138.9 479.7L139.4 479.7L139.9 479.7L140.4 479.7L140.9 479.7L141.4 479.7L141.9 479.7L142.4 479.7L142.9 479.7L143.4 479.7L143.9 479.7L144.4 479.7L144.9 479.7L145.4 479.7L145.9 479.7L146.4 479.7L146.9 479.7L147.4 479.7L147.9 479.7L148.4 479.7L148.9 479.7L149.4 479.7L149.9 479.7L150.4 479.7L150.9 479.7L151.4 479.7L151.9 479.7L152.4 479.7L152.9 479.7L153.4 479.7L153.9 479.7L154.4 479.7L154.9 479.7L155.4 479.7L155.9 479.7L156.4 479.7L156.9 479.7L157.4 479.6L157.9 479.6L158.4 479.6L158.9 479.6L159.4 479.6L159.9 479.6L160.4 479.6L160.9 479.6L161.4 479.6L161.9 479.6L162.4 479.6L162.9 479.6L163.4 479.6L163.9 479.6L164.4 479.6L164.9 479.6L165.4 479.6L165.9 479.5L166.4 479.5L166.9 479.5L167.4 479.5L167.9 479.5L168.4 479.5L168.9 479.5L169.4 479.4L169.9 479.4L170.4 479.3L170.9 479.3L171.4 479.2L171.9 479.1L172.4 479.0L172.9 478.9L173.4 478.8L173.9 478.7L174.4 478.6L174.9 478.4L175.4 478.3L175.9 478.2L176.4 478.0L176.9 477.9L177.4 477.7L177.9 477.6L178.4 477.4L178.9 477.3L179.4 477.1L179.9 477.0L180.4 476.9L180.9 476.7L181.4 476.6L181.9 476.4L182.4 476.3L182.9 476.1L183.4 476.0L183.9 475.8L184.4 475.7L184.9 475.5L185.4 475.3L185.9 475.2L186.4 475.0L186.9 474.9L187.4 474.7L187.9 474.6L188.4 474.4L188.9 474.3L189.4 474.1L189.9 474.0L190.4 473.9L190.9 473.8L191.4 473.7L191.9 473.7L192.4 473.6L192.9 473.6L193.4 473.5L193.9 473.5L194.4 473.5L194.9 473.5L195.4 473.6L195.9 473.6L196.4 473.7L196.9 473.7L197.4 473.8L197.9 473.9L198.4 473.9L198.9 474.0L199.4 474.1L199.9 474.2L200.4 474.3L200.9 474.4L201.4 474.5L201.9 474.6L202.4 474.7L202.9 474.8L203.4 474.9L203.9 475.0L204.4 475.1L204.9 475.2L205.4 475.3L205.9 475.4L206.4 475.5L206.9 475.6L207.4 475.7L207.9 475.8L208.4 475.9L208.9 476.0L209.4 476.1L209.9 476.2L210.4 476.3L210.9 476.4L211.4 476.5L211.9 476.6L212.4 476.7L212.9 476.8L213.4 476.8L213.9 476.9L214.4 477.0L214.9 477.0L215.4 477.0L215.9 477.1L216.4 477.1L216.9 477.1L217.4 477.1L217.9 477.1L218.4 477.0L218.9 477.0L219.4 476.9L219.9 476.9L220.4 476.8L220.9 476.7L221.4 476.6L221.9 476.6L222.4 476.5L222.9 476.4L223.4 476.3L223.9 476.2L224.4 476.0L224.9 475.9L225.4 475.7L225.9 475.5L226.4 475.3L226.9 475.1L227.4 474.8L227.9 474.3L228.4 473.4L228.9 472.1L229.4 470.6L229.9 468.9L230.4 467.1L230.9 464.9L231.4 461.6L231.9 457.7L232.4 453.8L232.9 450.4L233.4 447.9L233.9 446.9L234.4 447.8L234.9 450.2L235.4 453.4L235.9 456.6L236.4 459.2L236.9 460.5L237.4 461.4L237.9 462.3L238.4 463.0L238.9 463.7L239.4 464.2L239.9 464.6L240.4 464.9L240.9 465.3L241.4 465.6L241.9 466.0L242.4 466.5L242.9 467.1L243.4 467.7L243.9 468.4L244.4 469.0L244.9 469.7L245.4 470.2L245.9 470.7L246.4 471.1L246.9 471.5L247.4 471.8L247.9 472.1L248.4 472.4L248.9 472.6L249.4 472.9L249.9 473.1L250.4 473.3L250.9 473.5L251.4 473.7L251.9 473.9L252.4 474.0L252.9 474.2L253.4 474.3L253.9 474.3L254.4 474.1L254.9 473.8L255.4 473.2L255.9 472.6L256.4 471.8L256.9 470.2L257.4 468.0L257.9 465.7L258.4 463.6L258.9 462.2L259.4 461.4L259.9 460.7L260.4 460.1L260.9 459.5L261.4 459.0L261.9 458.5L262.4 457.9L262.9 457.3L263.4 456.7L263.9 456.2L264.4 455.8L264.9 455.5L265.4 455.4L265.9 455.5L266.4 456.1L266.9 457.0L267.4 458.1L267.9 459.2L268.4 460.3L268.9 461.3L269.4 462.4L269.9 463.6L270.4 464.7L270.9 465.8L271.4 466.9L271.9 468.0L272.4 469.0L272.9 470.1L273.4 471.1L273.9 472.1L274.4 472.9L274.9 473.5L275.4 474.1L275.9 474.8L276.4 475.3L276.9 475.9L277.4 476.3L277.9 476.7L278.4 477.0L278.9 477.2L279.4 477.4L279.9 477.5L280.4 477.6L280.9 477.7L281.4 477.9L281.9 478.0L282.4 478.1L282.9 478.2L283.4 478.3L283.9 478.4L284.4 478.5L284.9 478.6L285.4 478.6L285.9 478.7L286.4 478.8L286.9 478.8L287.4 478.9L287.9 478.9L288.4 478.9L288.9 478.9L289.4 478.9L289.9 478.9L290.4 479.0L290.9 479.0L291.4 479.0L291.9 479.0L292.4 479.0L292.9 479.0L293.4 479.0L293.9 479.0L294.4 479.0L294.9 479.1L295.4 479.1L295.9 479.1L296.4 479.1L296.9 479.1L297.4 479.0L297.9 479.0L298.4 479.0L298.9 479.0L299.4 479.0L299.9 479.0L300.4 478.9L300.9 478.9L301.2 478.9" fill="none" stroke="#0000ff" stroke-width="1.70" stroke-linejoin="round" stroke-linecap="round"/>
<path d="M25.4 466.7L25.9 466.7L26.4 466.7L26.9 466.7L27.4 466.7L27.9 466.7L28.4 466.7L28.9 466.7L29.4 466.7L29.9 466.7L30.4 466.7L30.9 466.7L31.4 466.7L31.9 466.7L32.4 466.7L32.9 466.8L33.4 466.8L33.9 466.8L34.4 466.8L34.9 466.8L35.4 466.8L35.9 466.8L36.4 466.8L36.9 466.8L37.4 466.8L37.9 466.8L38.4 466.8L38.9 466.8L39.4 466.8L39.9 466.8L40.4 466.8L40.9 466.8L41.4 466.8L41.9 466.8L42.4 466.8L42.9 466.8L43.4 466.8L43.9 466.8L44.4 466.8L44.9 466.8L45.4 466.8L45.9 466.8L46.4 466.8L46.9 466.8L47.4 466.8L47.9 466.8L48.4 466.8L48.9 466.9L49.4 466.9L49.9 466.9L50.4 466.9L50.9 466.9L51.4 466.9L51.9 466.9L52.4 466.9L52.9 466.9L53.4 466.9L53.9 466.9L54.4 466.9L54.9 466.9L55.4 466.9L55.9 466.9L56.4 466.9L56.9 466.9L57.4 466.9L57.9 466.9L58.4 466.9L58.9 466.9L59.4 466.9L59.9 466.9L60.4 466.9L60.9 466.9L61.4 466.9L61.9 466.9L62.4 466.9L62.9 466.9L63.4 466.9L63.9 466.9L64.4 466.9L64.9 466.9L65.4 466.9L65.9 466.9L66.4 466.9L66.9 466.9L67.4 467.0L67.9 467.0L68.4 467.0L68.9 467.0L69.4 467.0L69.9 467.0L70.4 467.0L70.9 467.0L71.4 467.0L71.9 467.0L72.4 467.0L72.9 467.0L73.4 467.0L73.9 467.0L74.4 467.0L74.9 467.0L75.4 467.0L75.9 467.0L76.4 467.0L76.9 467.0L77.4 467.0L77.9 467.0L78.4 467.0L78.9 467.0L79.4 467.0L79.9 467.0L80.4 467.0L80.9 467.0L81.4 467.0L81.9 467.0L82.4 467.0L82.9 467.0L83.4 467.0L83.9 467.0L84.4 467.0L84.9 467.0L85.4 467.0L85.9 467.0L86.4 467.0L86.9 467.0L87.4 467.0L87.9 467.0L88.4 467.1L88.9 467.1L89.4 467.1L89.9 467.1L90.4 467.1L90.9 467.1L91.4 467.1L91.9 467.1L92.4 467.1L92.9 467.1L93.4 467.1L93.9 467.1L94.4 467.1L94.9 467.1L95.4 467.1L95.9 467.1L96.4 467.1L96.9 467.1L97.4 467.1L97.9 467.1L98.4 467.1L98.9 467.1L99.4 467.1L99.9 467.1L100.4 467.1L100.9 467.1L101.4 467.1L101.9 467.1L102.4 467.1L102.9 467.1L103.4 467.1L103.9 467.1L104.4 467.1L104.9 467.1L105.4 467.1L105.9 467.1L106.4 467.1L106.9 467.1L107.4 467.1L107.9 467.1L108.4 467.1L108.9 467.1L109.4 467.1L109.9 467.2L110.4 467.2L110.9 467.2L111.4 467.2L111.9 467.2L112.4 467.2L112.9 467.2L113.4 467.2L113.9 467.2L114.4 467.2L114.9 467.2L115.4 467.2L115.9 467.2L116.4 467.2L116.9 467.2L117.4 467.2L117.9 467.2L118.4 467.2L118.9 467.2L119.4 467.2L119.9 467.2L120.4 467.2L120.9 467.2L121.4 467.2L121.9 467.2L122.4 467.2L122.9 467.2L123.4 467.2L123.9 467.2L124.4 467.2L124.9 467.2L125.4 467.2L125.9 467.2L126.4 467.2L126.9 467.2L127.4 467.2L127.9 467.2L128.4 467.2L128.9 467.2L129.4 467.2L129.9 467.2L130.4 467.2L130.9 467.2L131.4 467.2L131.9 467.2L132.4 467.2L132.9 467.2L133.4 467.2L133.9 467.2L134.4 467.2L134.9 467.2L135.4 467.2L135.9 467.2L136.4 467.2L136.9 467.2L137.4 467.2L137.9 467.2L138.4 467.2L138.9 467.2L139.4 467.2L139.9 467.2L140.4 467.2L140.9 467.2L141.4 467.2L141.9 467.2L142.4 467.2L142.9 467.2L143.4 467.2L143.9 467.2L144.4 467.2L144.9 467.2L145.4 467.2L145.9 467.2L146.4 467.2L146.9 467.2L147.4 467.2L147.9 467.2L148.4 467.2L148.9 467.2L149.4 467.2L149.9 467.2L150.4 467.2L150.9 467.2L151.4 467.2L151.9 467.2L152.4 467.2L152.9 467.2L153.4 467.2L153.9 467.2L154.4 467.2L154.9 467.2L155.4 467.2L155.9 467.2L156.4 467.2L156.9 467.2L157.4 467.2L157.9 467.2L158.4 467.2L158.9 467.2L159.4 467.2L159.9 467.2L160.4 467.2L160.9 467.2L161.4 467.2L161.9 467.2L162.4 467.2L162.9 467.2L163.4 467.2L163.9 467.1L164.4 467.1L164.9 467.1L165.4 467.1L165.9 467.1L166.4 467.1L166.9 467.1L167.4 467.1L167.9 467.1L168.4 467.1L168.9 467.0L169.4 467.0L169.9 466.9L170.4 466.9L170.9 466.8L171.4 466.7L171.9 466.6L172.4 466.5L172.9 466.4L173.4 466.3L173.9 466.1L174.4 466.0L174.9 465.8L175.4 465.7L175.9 465.5L176.4 465.3L176.9 465.2L177.4 465.0L177.9 464.8L178.4 464.6L178.9 464.5L179.4 464.3L179.9 464.1L180.4 464.0L180.9 463.8L181.4 463.7L181.9 463.5L182.4 463.4L182.9 463.2L183.4 463.1L183.9 462.9L184.4 462.8L184.9 462.7L185.4 462.5L185.9 462.4L186.4 462.2L186.9 462.1L187.4 461.9L187.9 461.8L188.4 461.7L188.9 461.6L189.4 461.5L189.9 461.4L190.4 461.3L190.9 461.2L191.4 461.1L191.9 461.1L192.4 461.0L192.9 461.0L193.4 461.0L193.9 461.0L194.4 461.0L194.9 461.1L195.4 461.1L195.9 461.1L196.4 461.2L196.9 461.3L197.4 461.3L197.9 461.4L198.4 461.5L198.9 461.6L199.4 461.7L199.9 461.7L200.4 461.8L200.9 461.9L201.4 462.0L201.9 462.1L202.4 462.2L202.9 462.3L203.4 462.4L203.9 462.4L204.4 462.5L204.9 462.6L205.4 462.7L205.9 462.8L206.4 462.9L206.9 463.0L207.4 463.0L207.9 463.1L208.4 463.2L208.9 463.3L209.4 463.4L209.9 463.5L210.4 463.6L210.9 463.6L211.4 463.7L211.9 463.8L212.4 463.9L212.9 463.9L213.4 464.0L213.9 464.1L214.4 464.1L214.9 464.2L215.4 464.3L215.9 464.3L216.4 464.4L216.9 464.4L217.4 464.4L217.9 464.4L218.4 464.5L218.9 464.5L219.4 464.5L219.9 464.5L220.4 464.5L220.9 464.5L221.4 464.5L221.9 464.5L222.4 464.5L222.9 464.4L223.4 464.4L223.9 464.4L224.4 464.3L224.9 464.2L225.4 464.0L225.9 463.8L226.4 463.6L226.9 463.2L227.4 462.9L227.9 462.5L228.4 461.7L228.9 459.9L229.4 457.2L229.9 453.9L230.4 450.4L230.9 447.2L231.4 444.8L231.9 442.5L232.4 440.2L232.9 438.1L233.4 436.4L233.9 435.3L234.4 435.0L234.9 435.6L235.4 437.6L235.9 440.3L236.4 443.1L236.9 445.4L237.4 447.8L237.9 449.7L238.4 450.5L238.9 450.8L239.4 450.9L239.9 451.0L240.4 451.2L240.9 451.7L241.4 452.5L241.9 453.3L242.4 454.2L242.9 455.1L243.4 455.9L243.9 456.6L244.4 457.1L244.9 457.6L245.4 458.0L245.9 458.4L246.4 458.7L246.9 459.1L247.4 459.4L247.9 459.6L248.4 459.9L248.9 460.1L249.4 460.4L249.9 460.6L250.4 460.8L250.9 461.0L251.4 461.2L251.9 461.3L252.4 461.4L252.9 461.5L253.4 461.5L253.9 461.3L254.4 461.0L254.9 460.7L255.4 460.2L255.9 459.6L256.4 458.7L256.9 457.6L257.4 456.5L257.9 455.4L258.4 454.4L258.9 453.4L259.4 452.3L259.9 451.3L260.4 450.5L260.9 450.1L261.4 449.9L261.9 449.9L262.4 449.8L262.9 449.8L263.4 449.7L263.9 449.6L264.4 449.4L264.9 449.1L265.4 448.9L265.9 448.7L266.4 448.7L266.9 449.1L267.4 450.0L267.9 451.0L268.4 452.2L268.9 453.2L269.4 454.1L269.9 455.1L270.4 456.1L270.9 457.0L271.4 457.9L271.9 458.7L272.4 459.3L272.9 460.0L273.4 460.5L273.9 461.1L274.4 461.5L274.9 461.8L275.4 462.1L275.9 462.3L276.4 462.5L276.9 462.8L277.4 463.0L277.9 463.2L278.4 463.4L278.9 463.6L279.4 463.8L279.9 463.9L280.4 464.1L280.9 464.2L281.4 464.4L281.9 464.5L282.4 464.6L282.9 464.7L283.4 464.7L283.9 464.8L284.4 464.9L284.9 464.9L285.4 465.0L285.9 465.1L286.4 465.1L286.9 465.2L287.4 465.3L287.9 465.4L288.4 465.4L288.9 465.5L289.4 465.5L289.9 465.6L290.4 465.7L290.9 465.7L291.4 465.8L291.9 465.8L292.4 465.9L292.9 465.9L293.4 466.0L293.9 466.0L294.4 466.1L294.9 466.1L295.4 466.2L295.9 466.2L296.4 466.2L296.9 466.2L297.4 466.3L297.9 466.3L298.4 466.3L298.9 466.3L299.4 466.3L299.9 466.3L300.4 466.3L300.9 466.3L301.2 466.3" fill="none" stroke="#ff00ff" stroke-width="1.70" stroke-linejoin="round" stroke-linecap="round"/>
<path d="M25.4 454.3L25.9 454.3L26.4 454.3L26.9 454.3L27.4 454.3L27.9 454.4L28.4 454.4L28.9 454.4L29.4 454.4L29.9 454.4L30.4 454.4L30.9 454.4L31.4 454.4L31.9 454.4L32.4 454.4L32.9 454.4L33.4 454.4L33.9 454.5L34.4 454.5L34.9 454.5L35.4 454.5L35.9 454.5L36.4 454.5L36.9 454.5L37.4 454.5L37.9 454.5L38.4 454.5L38.9 454.5L39.4 454.6L39.9 454.6L40.4 454.6L40.9 454.6L41.4 454.6L41.9 454.6L42.4 454.6L42.9 454.6L43.4 454.6L43.9 454.6L44.4 454.6L44.9 454.6L45.4 454.7L45.9 454.7L46.4 454.7L46.9 454.7L47.4 454.7L47.9 454.7L48.4 454.7L48.9 454.7L49.4 454.7L49.9 454.7L50.4 454.7L50.9 454.7L51.4 454.8L51.9 454.8L52.4 454.8L52.9 454.8L53.4 454.8L53.9 454.8L54.4 454.8L54.9 454.8L55.4 454.8L55.9 454.8L56.4 454.8L56.9 454.8L57.4 454.8L57.9 454.9L58.4 454.9L58.9 454.9L59.4 454.9L59.9 454.9L60.4 454.9L60.9 454.9L61.4 454.9L61.9 454.9L62.4 454.9L62.9 454.9L63.4 454.9L63.9 454.9L64.4 454.9L64.9 455.0L65.4 455.0L65.9 455.0L66.4 455.0L66.9 455.0L67.4 455.0L67.9 455.0L68.4 455.0L68.9 455.0L69.4 455.0L69.9 455.0L70.4 455.0L70.9 455.0L71.4 455.0L71.9 455.1L72.4 455.1L72.9 455.1L73.4 455.1L73.9 455.1L74.4 455.1L74.9 455.1L75.4 455.1L75.9 455.1L76.4 455.1L76.9 455.1L77.4 455.1L77.9 455.1L78.4 455.1L78.9 455.1L79.4 455.2L79.9 455.2L80.4 455.2L80.9 455.2L81.4 455.2L81.9 455.2L82.4 455.2L82.9 455.2L83.4 455.2L83.9 455.2L84.4 455.2L84.9 455.2L85.4 455.2L85.9 455.2L86.4 455.3L86.9 455.3L87.4 455.3L87.9 455.3L88.4 455.3L88.9 455.3L89.4 455.3L89.9 455.3L90.4 455.3L90.9 455.3L91.4 455.3L91.9 455.3L92.4 455.3L92.9 455.3L93.4 455.3L93.9 455.4L94.4 455.4L94.9 455.4L95.4 455.4L95.9 455.4L96.4 455.4L96.9 455.4L97.4 455.4L97.9 455.4L98.4 455.4L98.9 455.4L99.4 455.4L99.9 455.4L100.4 455.4L100.9 455.4L101.4 455.4L101.9 455.5L102.4 455.5L102.9 455.5L103.4 455.5L103.9 455.5L104.4 455.5L104.9 455.5L105.4 455.5L105.9 455.5L106.4 455.5L106.9 455.5L107.4 455.5L107.9 455.5L108.4 455.5L108.9 455.5L109.4 455.6L109.9 455.6L110.4 455.6L110.9 455.6L111.4 455.6L111.9 455.6L112.4 455.6L112.9 455.6L113.4 455.6L113.9 455.6L114.4 455.6L114.9 455.6L115.4 455.6L115.9 455.6L116.4 455.7L116.9 455.7L117.4 455.7L117.9 455.7L118.4 455.7L118.9 455.7L119.4 455.7L119.9 455.7L120.4 455.7L120.9 455.7L121.4 455.7L121.9 455.7L122.4 455.7L122.9 455.7L123.4 455.7L123.9 455.7L124.4 455.8L124.9 455.8L125.4 455.8L125.9 455.8L126.4 455.8L126.9 455.8L127.4 455.8L127.9 455.8L128.4 455.8L128.9 455.8L129.4 455.8L129.9 455.8L130.4 455.8L130.9 455.8L131.4 455.8L131.9 455.8L132.4 455.8L132.9 455.8L133.4 455.8L133.9 455.8L134.4 455.8L134.9 455.8L135.4 455.8L135.9 455.8L136.4 455.8L136.9 455.8L137.4 455.8L137.9 455.8L138.4 455.8L138.9 455.8L139.4 455.8L139.9 455.8L140.4 455.8L140.9 455.8L141.4 455.8L141.9 455.8L142.4 455.8L142.9 455.8L143.4 455.8L143.9 455.8L144.4 455.8L144.9 455.8L145.4 455.8L145.9 455.8L146.4 455.8L146.9 455.8L147.4 455.8L147.9 455.8L148.4 455.8L148.9 455.8L149.4 455.8L149.9 455.8L150.4 455.8L150.9 455.8L151.4 455.8L151.9 455.8L152.4 455.8L152.9 455.8L153.4 455.8L153.9 455.8L154.4 455.8L154.9 455.8L155.4 455.8L155.9 455.8L156.4 455.8L156.9 455.8L157.4 455.8L157.9 455.8L158.4 455.8L158.9 455.8L159.4 455.8L159.9 455.8L160.4 455.8L160.9 455.8L161.4 455.8L161.9 455.8L162.4 455.7L162.9 455.7L163.4 455.7L163.9 455.7L164.4 455.7L164.9 455.7L165.4 455.7L165.9 455.7L166.4 455.7L166.9 455.7L167.4 455.7L167.9 455.7L168.4 455.6L168.9 455.6L169.4 455.6L169.9 455.5L170.4 455.4L170.9 455.3L171.4 455.2L171.9 455.1L172.4 455.0L172.9 454.8L173.4 454.6L173.9 454.4L174.4 454.2L174.9 454.0L175.4 453.8L175.9 453.6L176.4 453.3L176.9 453.0L177.4 452.8L177.9 452.5L178.4 452.2L178.9 451.8L179.4 451.5L179.9 451.1L180.4 450.8L180.9 450.4L181.4 450.0L181.9 449.6L182.4 449.2L182.9 448.8L183.4 448.5L183.9 448.1L184.4 447.8L184.9 447.5L185.4 447.2L185.9 446.9L186.4 446.6L186.9 446.4L187.4 446.1L187.9 445.9L188.4 445.7L188.9 445.5L189.4 445.3L189.9 445.1L190.4 445.0L190.9 444.9L191.4 444.8L191.9 444.7L192.4 444.7L192.9 444.7L193.4 444.7L193.9 444.8L194.4 444.8L194.9 444.9L195.4 445.0L195.9 445.2L196.4 445.3L196.9 445.5L197.4 445.6L197.9 445.8L198.4 446.0L198.9 446.2L199.4 446.4L199.9 446.5L200.4 446.7L200.9 446.9L201.4 447.1L201.9 447.2L202.4 447.4L202.9 447.5L203.4 447.7L203.9 447.8L204.4 448.0L204.9 448.1L205.4 448.3L205.9 448.4L206.4 448.5L206.9 448.7L207.4 448.8L207.9 449.0L208.4 449.1L208.9 449.2L209.4 449.3L209.9 449.5L210.4 449.6L210.9 449.7L211.4 449.8L211.9 450.0L212.4 450.1L212.9 450.2L213.4 450.3L213.9 450.4L214.4 450.5L214.9 450.6L215.4 450.7L215.9 450.8L216.4 450.9L216.9 450.9L217.4 451.0L217.9 451.1L218.4 451.1L218.9 451.2L219.4 451.2L219.9 451.2L220.4 451.3L220.9 451.3L221.4 451.3L221.9 451.3L222.4 451.4L222.9 451.3L223.4 451.3L223.9 451.2L224.4 451.1L224.9 451.0L225.4 450.8L225.9 450.5L226.4 450.2L226.9 449.7L227.4 449.1L227.9 448.0L228.4 446.5L228.9 444.6L229.4 442.5L229.9 440.3L230.4 438.2L230.9 436.2L231.4 434.1L231.9 431.8L232.4 429.6L232.9 427.6L233.4 425.8L233.9 424.4L234.4 423.6L234.9 423.4L235.4 424.3L235.9 425.8L236.4 427.6L236.9 429.4L237.4 430.7L237.9 431.4L238.4 431.7L238.9 431.8L239.4 432.0L239.9 432.2L240.4 432.6L240.9 433.2L241.4 433.9L241.9 434.6L242.4 435.4L242.9 436.2L243.4 437.0L243.9 438.0L244.4 438.9L244.9 439.8L245.4 440.6L245.9 441.3L246.4 441.9L246.9 442.5L247.4 443.0L247.9 443.5L248.4 444.0L248.9 444.4L249.4 444.8L249.9 445.2L250.4 445.5L250.9 445.8L251.4 446.0L251.9 446.2L252.4 446.3L252.9 446.4L253.4 446.4L253.9 446.3L254.4 446.0L254.9 445.7L255.4 445.3L255.9 444.8L256.4 444.3L256.9 443.8L257.4 443.2L257.9 442.4L258.4 441.2L258.9 439.7L259.4 438.1L259.9 436.8L260.4 436.0L260.9 435.8L261.4 435.9L261.9 436.2L262.4 436.5L262.9 436.8L263.4 436.9L263.9 436.8L264.4 436.6L264.9 436.3L265.4 436.0L265.9 435.8L266.4 435.8L266.9 435.9L267.4 436.4L267.9 437.0L268.4 437.9L268.9 438.7L269.4 439.6L269.9 440.4L270.4 441.2L270.9 442.0L271.4 442.8L271.9 443.7L272.4 444.6L272.9 445.4L273.4 446.2L273.9 446.9L274.4 447.6L274.9 448.1L275.4 448.4L275.9 448.8L276.4 449.1L276.9 449.4L277.4 449.7L277.9 449.9L278.4 450.2L278.9 450.4L279.4 450.6L279.9 450.8L280.4 451.0L280.9 451.1L281.4 451.3L281.9 451.4L282.4 451.5L282.9 451.6L283.4 451.6L283.9 451.7L284.4 451.8L284.9 451.9L285.4 452.0L285.9 452.0L286.4 452.1L286.9 452.2L287.4 452.3L287.9 452.3L288.4 452.4L288.9 452.5L289.4 452.6L289.9 452.6L290.4 452.7L290.9 452.8L291.4 452.8L291.9 452.9L292.4 453.0L292.9 453.0L293.4 453.1L293.9 453.1L294.4 453.2L294.9 453.2L295.4 453.3L295.9 453.3L296.4 453.3L296.9 453.4L297.4 453.4L297.9 453.4L298.4 453.4L298.9 453.4L299.4 453.4L299.9 453.4L300.4 453.4L300.9 453.4L301.2 453.4" fill="none" stroke="#800000" stroke-width="1.70" stroke-linejoin="round" stroke-linecap="round"/>
<path d="M25.4 442.6L25.9 442.6L26.4 442.6L26.9 442.7L27.4 442.7L27.9 442.7L28.4 442.7L28.9 442.7L29.4 442.7L29.9 442.7L30.4 442.7L30.9 442.7L31.4 442.7L31.9 442.8L32.4 442.8L32.9 442.8L33.4 442.8L33.9 442.8L34.4 442.8L34.9 442.8L35.4 442.8L35.9 442.9L36.4 442.9L36.9 442.9L37.4 442.9L37.9 442.9L38.4 442.9L38.9 442.9L39.4 442.9L39.9 442.9L40.4 443.0L40.9 443.0L41.4 443.0L41.9 443.0L42.4 443.0L42.9 443.0L43.4 443.0L43.9 443.0L44.4 443.0L44.9 443.0L45.4 443.1L45.9 443.1L46.4 443.1L46.9 443.1L47.4 443.1L47.9 443.1L48.4 443.1L48.9 443.1L49.4 443.1L49.9 443.2L50.4 443.2L50.9 443.2L51.4 443.2L51.9 443.2L52.4 443.2L52.9 443.2L53.4 443.2L53.9 443.2L54.4 443.2L54.9 443.3L55.4 443.3L55.9 443.3L56.4 443.3L56.9 443.3L57.4 443.3L57.9 443.3L58.4 443.3L58.9 443.3L59.4 443.3L59.9 443.3L60.4 443.4L60.9 443.4L61.4 443.4L61.9 443.4L62.4 443.4L62.9 443.4L63.4 443.4L63.9 443.4L64.4 443.4L64.9 443.4L65.4 443.4L65.9 443.5L66.4 443.5L66.9 443.5L67.4 443.5L67.9 443.5L68.4 443.5L68.9 443.5L69.4 443.5L69.9 443.5L70.4 443.5L70.9 443.5L71.4 443.6L71.9 443.6L72.4 443.6L72.9 443.6L73.4 443.6L73.9 443.6L74.4 443.6L74.9 443.6L75.4 443.6L75.9 443.6L76.4 443.6L76.9 443.6L77.4 443.7L77.9 443.7L78.4 443.7L78.9 443.7L79.4 443.7L79.9 443.7L80.4 443.7L80.9 443.7L81.4 443.7L81.9 443.7L82.4 443.7L82.9 443.7L83.4 443.8L83.9 443.8L84.4 443.8L84.9 443.8L85.4 443.8L85.9 443.8L86.4 443.8L86.9 443.8L87.4 443.8L87.9 443.8L88.4 443.8L88.9 443.8L89.4 443.8L89.9 443.9L90.4 443.9L90.9 443.9L91.4 443.9L91.9 443.9L92.4 443.9L92.9 443.9L93.4 443.9L93.9 443.9L94.4 443.9L94.9 443.9L95.4 443.9L95.9 443.9L96.4 444.0L96.9 444.0L97.4 444.0L97.9 444.0L98.4 444.0L98.9 444.0L99.4 444.0L99.9 444.0L100.4 444.0L100.9 444.0L101.4 444.0L101.9 444.0L102.4 444.0L102.9 444.1L103.4 444.1L103.9 444.1L104.4 444.1L104.9 444.1L105.4 444.1L105.9 444.1L106.4 444.1L106.9 444.1L107.4 444.1L107.9 444.1L108.4 444.1L108.9 444.1L109.4 444.1L109.9 444.2L110.4 444.2L110.9 444.2L111.4 444.2L111.9 444.2L112.4 444.2L112.9 444.2L113.4 444.2L113.9 444.2L114.4 444.2L114.9 444.2L115.4 444.2L115.9 444.2L116.4 444.2L116.9 444.3L117.4 444.3L117.9 444.3L118.4 444.3L118.9 444.3L119.4 444.3L119.9 444.3L120.4 444.3L120.9 444.3L121.4 444.3L121.9 444.3L122.4 444.3L122.9 444.3L123.4 444.3L123.9 444.3L124.4 444.4L124.9 444.4L125.4 444.4L125.9 444.4L126.4 444.4L126.9 444.4L127.4 444.4L127.9 444.4L128.4 444.4L128.9 444.4L129.4 444.4L129.9 444.4L130.4 444.4L130.9 444.4L131.4 444.4L131.9 444.4L132.4 444.4L132.9 444.4L133.4 444.4L133.9 444.4L134.4 444.4L134.9 444.4L135.4 444.4L135.9 444.4L136.4 444.4L136.9 444.4L137.4 444.4L137.9 444.4L138.4 444.4L138.9 444.4L139.4 444.4L139.9 444.4L140.4 444.4L140.9 444.4L141.4 444.4L141.9 444.4L142.4 444.4L142.9 444.4L143.4 444.4L143.9 444.4L144.4 444.4L144.9 444.4L145.4 444.4L145.9 444.4L146.4 444.4L146.9 444.4L147.4 444.4L147.9 444.3L148.4 444.3L148.9 444.3L149.4 444.3L149.9 444.3L150.4 444.3L150.9 444.3L151.4 444.3L151.9 444.3L152.4 444.3L152.9 444.3L153.4 444.3L153.9 444.3L154.4 444.3L154.9 444.2L155.4 444.2L155.9 444.2L156.4 444.2L156.9 444.2L157.4 444.2L157.9 444.2L158.4 444.2L158.9 444.2L159.4 444.2L159.9 444.1L160.4 444.1L160.9 444.1L161.4 444.1L161.9 444.1L162.4 444.1L162.9 444.1L163.4 444.1L163.9 444.0L164.4 444.0L164.9 444.0L165.4 444.0L165.9 444.0L166.4 444.0L166.9 444.0L167.4 443.9L167.9 443.9L168.4 443.9L168.9 443.9L169.4 443.8L169.9 443.8L170.4 443.7L170.9 443.6L171.4 443.6L171.9 443.5L172.4 443.4L172.9 443.3L173.4 443.1L173.9 443.0L174.4 442.9L174.9 442.8L175.4 442.6L175.9 442.5L176.4 442.3L176.9 442.2L177.4 442.0L177.9 441.9L178.4 441.8L178.9 441.6L179.4 441.5L179.9 441.4L180.4 441.2L180.9 441.1L181.4 441.0L181.9 440.9L182.4 440.8L182.9 440.7L183.4 440.5L183.9 440.4L184.4 440.3L184.9 440.2L185.4 440.1L185.9 440.0L186.4 439.9L186.9 439.8L187.4 439.7L187.9 439.6L188.4 439.5L188.9 439.4L189.4 439.3L189.9 439.2L190.4 439.1L190.9 439.0L191.4 439.0L191.9 438.9L192.4 438.9L192.9 438.8L193.4 438.8L193.9 438.8L194.4 438.8L194.9 438.8L195.4 438.8L195.9 438.8L196.4 438.8L196.9 438.9L197.4 438.9L197.9 438.9L198.4 439.0L198.9 439.0L199.4 439.1L199.9 439.2L200.4 439.3L200.9 439.3L201.4 439.4L201.9 439.5L202.4 439.6L202.9 439.7L203.4 439.7L203.9 439.8L204.4 439.9L204.9 440.0L205.4 440.1L205.9 440.1L206.4 440.2L206.9 440.3L207.4 440.4L207.9 440.4L208.4 440.5L208.9 440.5L209.4 440.6L209.9 440.7L210.4 440.7L210.9 440.8L211.4 440.8L211.9 440.9L212.4 441.0L212.9 441.0L213.4 441.1L213.9 441.1L214.4 441.2L214.9 441.2L215.4 441.3L215.9 441.3L216.4 441.4L216.9 441.4L217.4 441.5L217.9 441.5L218.4 441.6L218.9 441.6L219.4 441.7L219.9 441.7L220.4 441.8L220.9 441.8L221.4 441.9L221.9 441.9L222.4 441.9L222.9 442.0L223.4 442.0L223.9 441.9L224.4 441.9L224.9 441.8L225.4 441.7L225.9 441.6L226.4 441.3L226.9 441.0L227.4 440.6L227.9 440.2L228.4 439.4L228.9 438.3L229.4 436.6L229.9 434.6L230.4 432.4L230.9 429.9L231.4 427.6L231.9 425.6L232.4 423.4L232.9 421.0L233.4 418.6L233.9 416.4L234.4 414.7L234.9 413.7L235.4 413.7L235.9 415.0L236.4 417.1L236.9 419.4L237.4 421.3L237.9 422.3L238.4 423.1L238.9 423.8L239.4 424.5L239.9 425.1L240.4 425.8L240.9 426.4L241.4 427.0L241.9 427.5L242.4 428.1L242.9 428.7L243.4 429.3L243.9 429.9L244.4 430.4L244.9 431.0L245.4 431.6L245.9 432.1L246.4 432.7L246.9 433.2L247.4 433.7L247.9 434.2L248.4 434.7L248.9 435.2L249.4 435.7L249.9 436.1L250.4 436.6L250.9 437.0L251.4 437.4L251.9 437.8L252.4 438.2L252.9 438.5L253.4 438.8L253.9 439.0L254.4 439.1L254.9 439.0L255.4 438.7L255.9 438.1L256.4 437.3L256.9 436.4L257.4 435.4L257.9 434.3L258.4 433.2L258.9 431.6L259.4 429.7L259.9 427.6L260.4 425.4L260.9 423.3L261.4 421.3L261.9 419.7L262.4 418.3L262.9 416.9L263.4 415.6L263.9 414.4L264.4 413.4L264.9 412.5L265.4 411.9L265.9 411.5L266.4 411.6L266.9 412.0L267.4 412.7L267.9 413.8L268.4 415.0L268.9 416.4L269.4 417.9L269.9 419.4L270.4 421.1L270.9 423.2L271.4 425.5L271.9 427.8L272.4 430.1L272.9 432.2L273.4 434.0L273.9 435.2L274.4 436.1L274.9 436.9L275.4 437.7L275.9 438.4L276.4 439.0L276.9 439.6L277.4 440.1L277.9 440.5L278.4 440.8L278.9 441.0L279.4 441.2L279.9 441.3L280.4 441.5L280.9 441.6L281.4 441.8L281.9 441.9L282.4 442.0L282.9 442.2L283.4 442.3L283.9 442.4L284.4 442.6L284.9 442.7L285.4 442.8L285.9 442.9L286.4 443.0L286.9 443.1L287.4 443.2L287.9 443.3L288.4 443.3L288.9 443.4L289.4 443.5L289.9 443.5L290.4 443.6L290.9 443.6L291.4 443.7L291.9 443.7L292.4 443.7L292.9 443.7L293.4 443.7L293.9 443.7L294.4 443.7L294.9 443.7L295.4 443.6L295.9 443.6L296.4 443.5L296.9 443.5L297.4 443.4L297.9 443.3L298.4 443.2L298.9 443.1L299.4 443.0L299.9 442.8L300.4 442.7L300.9 442.5L301.2 442.4" fill="none" stroke="#00ff00" stroke-width="1.70" stroke-linejoin="round" stroke-linecap="round"/>
<path d="M25.4 431.7L25.9 431.7L26.4 431.7L26.9 431.7L27.4 431.7L27.9 431.7L28.4 431.7L28.9 431.7L29.4 431.7L29.9 431.7L30.4 431.7L30.9 431.7L31.4 431.7L31.9 431.7L32.4 431.7L32.9 431.7L33.4 431.8L33.9 431.8L34.4 431.8L34.9 431.8L35.4 431.8L35.9 431.8L36.4 431.8L36.9 431.8L37.4 431.8L37.9 431.8L38.4 431.8L38.9 431.8L39.4 431.8L39.9 431.8L40.4 431.8L40.9 431.8L41.4 431.8L41.9 431.8L42.4 431.8L42.9 431.8L43.4 431.8L43.9 431.8L44.4 431.8L44.9 431.8L45.4 431.8L45.9 431.8L46.4 431.8L46.9 431.8L47.4 431.8L47.9 431.8L48.4 431.8L48.9 431.8L49.4 431.8L49.9 431.9L50.4 431.9L50.9 431.9L51.4 431.9L51.9 431.9L52.4 431.9L52.9 431.9L53.4 431.9L53.9 431.9L54.4 431.9L54.9 431.9L55.4 431.9L55.9 431.9L56.4 431.9L56.9 431.9L57.4 431.9L57.9 431.9L58.4 431.9L58.9 431.9L59.4 431.9L59.9 431.9L60.4 431.9L60.9 431.9L61.4 431.9L61.9 431.9L62.4 431.9L62.9 431.9L63.4 431.9L63.9 431.9L64.4 431.9L64.9 431.9L65.4 431.9L65.9 431.9L66.4 431.9L66.9 431.9L67.4 431.9L67.9 431.9L68.4 432.0L68.9 432.0L69.4 432.0L69.9 432.0L70.4 432.0L70.9 432.0L71.4 432.0L71.9 432.0L72.4 432.0L72.9 432.0L73.4 432.0L73.9 432.0L74.4 432.0L74.9 432.0L75.4 432.0L75.9 432.0L76.4 432.0L76.9 432.0L77.4 432.0L77.9 432.0L78.4 432.0L78.9 432.0L79.4 432.0L79.9 432.0L80.4 432.0L80.9 432.0L81.4 432.0L81.9 432.0L82.4 432.0L82.9 432.0L83.4 432.0L83.9 432.0L84.4 432.0L84.9 432.0L85.4 432.0L85.9 432.0L86.4 432.0L86.9 432.0L87.4 432.0L87.9 432.0L88.4 432.1L88.9 432.1L89.4 432.1L89.9 432.1L90.4 432.1L90.9 432.1L91.4 432.1L91.9 432.1L92.4 432.1L92.9 432.1L93.4 432.1L93.9 432.1L94.4 432.1L94.9 432.1L95.4 432.1L95.9 432.1L96.4 432.1L96.9 432.1L97.4 432.1L97.9 432.1L98.4 432.1L98.9 432.1L99.4 432.1L99.9 432.1L100.4 432.1L100.9 432.1L101.4 432.1L101.9 432.1L102.4 432.1L102.9 432.1L103.4 432.1L103.9 432.1L104.4 432.1L104.9 432.1L105.4 432.1L105.9 432.1L106.4 432.1L106.9 432.1L107.4 432.1L107.9 432.1L108.4 432.1L108.9 432.1L109.4 432.1L109.9 432.2L110.4 432.2L110.9 432.2L111.4 432.2L111.9 432.2L112.4 432.2L112.9 432.2L113.4 432.2L113.9 432.2L114.4 432.2L114.9 432.2L115.4 432.2L115.9 432.2L116.4 432.2L116.9 432.2L117.4 432.2L117.9 432.2L118.4 432.2L118.9 432.2L119.4 432.2L119.9 432.2L120.4 432.2L120.9 432.2L121.4 432.2L121.9 432.2L122.4 432.2L122.9 432.2L123.4 432.2L123.9 432.2L124.4 432.2L124.9 432.2L125.4 432.2L125.9 432.2L126.4 432.2L126.9 432.2L127.4 432.2L127.9 432.2L128.4 432.2L128.9 432.2L129.4 432.2L129.9 432.2L130.4 432.2L130.9 432.2L131.4 432.2L131.9 432.2L132.4 432.2L132.9 432.2L133.4 432.3L133.9 432.3L134.4 432.3L134.9 432.3L135.4 432.3L135.9 432.3L136.4 432.3L136.9 432.3L137.4 432.3L137.9 432.3L138.4 432.3L138.9 432.3L139.4 432.3L139.9 432.3L140.4 432.3L140.9 432.3L141.4 432.3L141.9 432.3L142.4 432.3L142.9 432.3L143.4 432.3L143.9 432.3L144.4 432.3L144.9 432.3L145.4 432.3L145.9 432.3L146.4 432.3L146.9 432.3L147.4 432.3L147.9 432.3L148.4 432.3L148.9 432.3L149.4 432.3L149.9 432.3L150.4 432.3L150.9 432.3L151.4 432.3L151.9 432.3L152.4 432.3L152.9 432.3L153.4 432.3L153.9 432.3L154.4 432.3L154.9 432.3L155.4 432.3L155.9 432.3L156.4 432.3L156.9 432.3L157.4 432.3L157.9 432.3L158.4 432.3L158.9 432.2L159.4 432.2L159.9 432.2L160.4 432.2L160.9 432.2L161.4 432.2L161.9 432.2L162.4 432.2L162.9 432.2L163.4 432.2L163.9 432.2L164.4 432.2L164.9 432.2L165.4 432.2L165.9 432.2L166.4 432.2L166.9 432.2L167.4 432.2L167.9 432.2L168.4 432.2L168.9 432.2L169.4 432.2L169.9 432.1L170.4 432.1L170.9 432.1L171.4 432.1L171.9 432.0L172.4 432.0L172.9 432.0L173.4 431.9L173.9 431.9L174.4 431.8L174.9 431.7L175.4 431.7L175.9 431.6L176.4 431.6L176.9 431.5L177.4 431.4L177.9 431.4L178.4 431.3L178.9 431.3L179.4 431.2L179.9 431.1L180.4 431.1L180.9 431.0L181.4 430.9L181.9 430.9L182.4 430.8L182.9 430.8L183.4 430.7L183.9 430.6L184.4 430.6L184.9 430.5L185.4 430.4L185.9 430.3L186.4 430.3L186.9 430.2L187.4 430.1L187.9 430.1L188.4 430.0L188.9 430.0L189.4 429.9L189.9 429.9L190.4 429.8L190.9 429.8L191.4 429.7L191.9 429.7L192.4 429.7L192.9 429.7L193.4 429.7L193.9 429.6L194.4 429.6L194.9 429.7L195.4 429.7L195.9 429.7L196.4 429.7L196.9 429.7L197.4 429.7L197.9 429.8L198.4 429.8L198.9 429.9L199.4 429.9L199.9 429.9L200.4 430.0L200.9 430.0L201.4 430.1L201.9 430.1L202.4 430.2L202.9 430.2L203.4 430.2L203.9 430.3L204.4 430.3L204.9 430.4L205.4 430.4L205.9 430.5L206.4 430.5L206.9 430.5L207.4 430.6L207.9 430.6L208.4 430.6L208.9 430.7L209.4 430.7L209.9 430.7L210.4 430.7L210.9 430.8L211.4 430.8L211.9 430.8L212.4 430.8L212.9 430.9L213.4 430.9L213.9 430.9L214.4 430.9L214.9 430.9L215.4 431.0L215.9 431.0L216.4 431.0L216.9 431.0L217.4 431.0L217.9 431.1L218.4 431.1L218.9 431.1L219.4 431.1L219.9 431.1L220.4 431.1L220.9 431.2L221.4 431.2L221.9 431.2L222.4 431.2L222.9 431.2L223.4 431.2L223.9 431.2L224.4 431.2L224.9 431.1L225.4 431.1L225.9 431.0L226.4 430.9L226.9 430.7L227.4 430.4L227.9 430.2L228.4 429.9L228.9 429.6L229.4 428.7L229.9 427.3L230.4 425.6L230.9 423.5L231.4 421.2L231.9 418.9L232.4 415.6L232.9 411.3L233.4 406.7L233.9 402.8L234.4 400.2L234.9 399.9L235.4 402.0L235.9 405.6L236.4 409.4L236.9 412.2L237.4 413.3L237.9 414.2L238.4 415.0L238.9 415.8L239.4 416.5L239.9 417.1L240.4 417.6L240.9 418.0L241.4 418.4L241.9 418.7L242.4 419.0L242.9 419.3L243.4 419.6L243.9 419.9L244.4 420.3L244.9 420.6L245.4 421.0L245.9 421.5L246.4 421.9L246.9 422.4L247.4 422.8L247.9 423.3L248.4 423.7L248.9 424.2L249.4 424.6L249.9 425.1L250.4 425.5L250.9 425.8L251.4 426.2L251.9 426.5L252.4 426.8L252.9 427.1L253.4 427.2L253.9 427.3L254.4 427.3L254.9 426.9L255.4 426.3L255.9 425.5L256.4 424.5L256.9 423.4L257.4 422.3L257.9 421.1L258.4 420.0L258.9 418.8L259.4 417.4L259.9 416.0L260.4 414.5L260.9 413.1L261.4 411.7L261.9 410.4L262.4 409.2L262.9 408.0L263.4 406.8L263.9 405.6L264.4 404.7L264.9 403.9L265.4 403.5L265.9 403.4L266.4 403.8L266.9 404.5L267.4 405.5L267.9 406.7L268.4 407.9L268.9 409.2L269.4 410.4L269.9 411.8L270.4 413.3L270.9 414.9L271.4 416.5L271.9 418.2L272.4 419.7L272.9 421.2L273.4 422.4L273.9 423.4L274.4 424.2L274.9 425.0L275.4 425.8L275.9 426.5L276.4 427.1L276.9 427.7L277.4 428.2L277.9 428.7L278.4 429.0L278.9 429.2L279.4 429.4L279.9 429.5L280.4 429.7L280.9 429.8L281.4 429.9L281.9 430.1L282.4 430.2L282.9 430.3L283.4 430.5L283.9 430.6L284.4 430.7L284.9 430.8L285.4 430.9L285.9 431.0L286.4 431.0L286.9 431.1L287.4 431.1L287.9 431.2L288.4 431.2L288.9 431.2L289.4 431.2L289.9 431.3L290.4 431.3L290.9 431.3L291.4 431.3L291.9 431.3L292.4 431.4L292.9 431.4L293.4 431.4L293.9 431.4L294.4 431.4L294.9 431.4L295.4 431.4L295.9 431.4L296.4 431.4L296.9 431.4L297.4 431.4L297.9 431.4L298.4 431.4L298.9 431.4L299.4 431.4L299.9 431.4L300.4 431.3L300.9 431.3L301.2 431.3" fill="none" stroke="#00ffff" stroke-width="1.70" stroke-linejoin="round" stroke-linecap="round"/>
<path d="M25.4 420.3L25.9 420.3L26.4 420.3L26.9 420.3L27.4 420.3L27.9 420.3L28.4 420.3L28.9 420.3L29.4 420.3L29.9 420.4L30.4 420.4L30.9 420.4L31.4 420.4L31.9 420.4L32.4 420.4L32.9 420.4L33.4 420.4L33.9 420.4L34.4 420.4L34.9 420.4L35.4 420.4L35.9 420.4L36.4 420.4L36.9 420.4L37.4 420.4L37.9 420.4L38.4 420.4L38.9 420.4L39.4 420.5L39.9 420.5L40.4 420.5L40.9 420.5L41.4 420.5L41.9 420.5L42.4 420.5L42.9 420.5L43.4 420.5L43.9 420.5L44.4 420.5L44.9 420.5L45.4 420.5L45.9 420.5L46.4 420.5L46.9 420.5L47.4 420.5L47.9 420.5L48.4 420.5L48.9 420.5L49.4 420.5L49.9 420.5L50.4 420.5L50.9 420.5L51.4 420.6L51.9 420.6L52.4 420.6L52.9 420.6L53.4 420.6L53.9 420.6L54.4 420.6L54.9 420.6L55.4 420.6L55.9 420.6L56.4 420.6L56.9 420.6L57.4 420.6L57.9 420.6L58.4 420.6L58.9 420.6L59.4 420.6L59.9 420.6L60.4 420.6L60.9 420.6L61.4 420.6L61.9 420.6L62.4 420.6L62.9 420.6L63.4 420.6L63.9 420.6L64.4 420.6L64.9 420.6L65.4 420.6L65.9 420.6L66.4 420.6L66.9 420.6L67.4 420.6L67.9 420.6L68.4 420.6L68.9 420.6L69.4 420.7L69.9 420.7L70.4 420.7L70.9 420.7L71.4 420.7L71.9 420.7L72.4 420.7L72.9 420.7L73.4 420.7L73.9 420.7L74.4 420.7L74.9 420.7L75.4 420.7L75.9 420.7L76.4 420.7L76.9 420.7L77.4 420.7L77.9 420.7L78.4 420.7L78.9 420.7L79.4 420.7L79.9 420.7L80.4 420.7L80.9 420.7L81.4 420.7L81.9 420.7L82.4 420.7L82.9 420.7L83.4 420.7L83.9 420.7L84.4 420.7L84.9 420.7L85.4 420.7L85.9 420.7L86.4 420.7L86.9 420.7L87.4 420.7L87.9 420.7L88.4 420.7L88.9 420.7L89.4 420.7L89.9 420.7L90.4 420.7L90.9 420.7L91.4 420.7L91.9 420.7L92.4 420.7L92.9 420.7L93.4 420.7L93.9 420.7L94.4 420.7L94.9 420.7L95.4 420.7L95.9 420.7L96.4 420.7L96.9 420.7L97.4 420.7L97.9 420.7L98.4 420.7L98.9 420.7L99.4 420.7L99.9 420.7L100.4 420.7L100.9 420.7L101.4 420.8L101.9 420.8L102.4 420.8L102.9 420.8L103.4 420.8L103.9 420.8L104.4 420.8L104.9 420.8L105.4 420.8L105.9 420.8L106.4 420.8L106.9 420.8L107.4 420.8L107.9 420.8L108.4 420.8L108.9 420.8L109.4 420.8L109.9 420.8L110.4 420.8L110.9 420.8L111.4 420.8L111.9 420.8L112.4 420.8L112.9 420.8L113.4 420.8L113.9 420.8L114.4 420.8L114.9 420.8L115.4 420.8L115.9 420.8L116.4 420.8L116.9 420.8L117.4 420.8L117.9 420.8L118.4 420.8L118.9 420.8L119.4 420.8L119.9 420.8L120.4 420.8L120.9 420.8L121.4 420.8L121.9 420.8L122.4 420.8L122.9 420.8L123.4 420.8L123.9 420.8L124.4 420.8L124.9 420.8L125.4 420.8L125.9 420.8L126.4 420.8L126.9 420.8L127.4 420.8L127.9 420.8L128.4 420.8L128.9 420.8L129.4 420.8L129.9 420.8L130.4 420.8L130.9 420.8L131.4 420.8L131.9 420.8L132.4 420.8L132.9 420.8L133.4 420.8L133.9 420.8L134.4 420.7L134.9 420.7L135.4 420.7L135.9 420.7L136.4 420.7L136.9 420.7L137.4 420.7L137.9 420.7L138.4 420.7L138.9 420.7L139.4 420.7L139.9 420.7L140.4 420.7L140.9 420.7L141.4 420.7L141.9 420.6L142.4 420.6L142.9 420.6L143.4 420.6L143.9 420.6L144.4 420.6L144.9 420.6L145.4 420.6L145.9 420.6L146.4 420.6L146.9 420.6L147.4 420.5L147.9 420.5L148.4 420.5L148.9 420.5L149.4 420.5L149.9 420.5L150.4 420.5L150.9 420.5L151.4 420.5L151.9 420.4L152.4 420.4L152.9 420.4L153.4 420.4L153.9 420.4L154.4 420.4L154.9 420.4L155.4 420.4L155.9 420.3L156.4 420.3L156.9 420.3L157.4 420.3L157.9 420.3L158.4 420.3L158.9 420.2L159.4 420.2L159.9 420.2L160.4 420.2L160.9 420.2L161.4 420.2L161.9 420.2L162.4 420.1L162.9 420.1L163.4 420.1L163.9 420.1L164.4 420.1L164.9 420.1L165.4 420.0L165.9 420.0L166.4 420.0L166.9 420.0L167.4 419.9L167.9 419.9L168.4 419.9L168.9 419.8L169.4 419.8L169.9 419.7L170.4 419.6L170.9 419.5L171.4 419.4L171.9 419.3L172.4 419.2L172.9 419.1L173.4 418.9L173.9 418.8L174.4 418.6L174.9 418.5L175.4 418.3L175.9 418.1L176.4 418.0L176.9 417.8L177.4 417.7L177.9 417.6L178.4 417.4L178.9 417.3L179.4 417.2L179.9 417.1L180.4 417.0L180.9 416.9L181.4 416.8L181.9 416.7L182.4 416.7L182.9 416.6L183.4 416.5L183.9 416.4L184.4 416.4L184.9 416.3L185.4 416.2L185.9 416.2L186.4 416.1L186.9 416.0L187.4 416.0L187.9 415.9L188.4 415.9L188.9 415.8L189.4 415.8L189.9 415.7L190.4 415.7L190.9 415.7L191.4 415.7L191.9 415.7L192.4 415.6L192.9 415.6L193.4 415.6L193.9 415.6L194.4 415.6L194.9 415.7L195.4 415.7L195.9 415.7L196.4 415.7L196.9 415.7L197.4 415.7L197.9 415.8L198.4 415.8L198.9 415.8L199.4 415.8L199.9 415.9L200.4 415.9L200.9 415.9L201.4 416.0L201.9 416.0L202.4 416.0L202.9 416.1L203.4 416.1L203.9 416.1L204.4 416.2L204.9 416.2L205.4 416.2L205.9 416.3L206.4 416.3L206.9 416.3L207.4 416.4L207.9 416.4L208.4 416.5L208.9 416.5L209.4 416.6L209.9 416.6L210.4 416.6L210.9 416.7L211.4 416.7L211.9 416.8L212.4 416.8L212.9 416.9L213.4 416.9L213.9 417.0L214.4 417.0L214.9 417.1L215.4 417.1L215.9 417.2L216.4 417.2L216.9 417.3L217.4 417.3L217.9 417.3L218.4 417.4L218.9 417.4L219.4 417.5L219.9 417.5L220.4 417.6L220.9 417.6L221.4 417.7L221.9 417.7L222.4 417.7L222.9 417.7L223.4 417.7L223.9 417.8L224.4 417.7L224.9 417.7L225.4 417.7L225.9 417.6L226.4 417.6L226.9 417.5L227.4 417.3L227.9 417.2L228.4 417.0L228.9 416.9L229.4 416.7L229.9 415.9L230.4 414.2L230.9 411.9L231.4 409.2L231.9 406.6L232.4 404.4L232.9 402.4L233.4 400.3L233.9 398.3L234.4 396.7L234.9 395.8L235.4 396.0L235.9 396.8L236.4 398.1L236.9 399.5L237.4 401.1L237.9 402.5L238.4 403.6L238.9 404.5L239.4 405.4L239.9 406.4L240.4 407.3L240.9 408.1L241.4 408.8L241.9 409.3L242.4 409.7L242.9 409.9L243.4 410.2L243.9 410.5L244.4 410.7L244.9 411.0L245.4 411.2L245.9 411.3L246.4 411.4L246.9 411.5L247.4 411.5L247.9 411.5L248.4 411.4L248.9 411.3L249.4 411.2L249.9 411.2L250.4 411.1L250.9 411.0L251.4 410.9L251.9 410.9L252.4 410.9L252.9 410.9L253.4 410.9L253.9 410.9L254.4 411.0L254.9 411.0L255.4 410.9L255.9 410.7L256.4 410.1L256.9 409.1L257.4 407.9L257.9 406.5L258.4 405.1L258.9 403.6L259.4 402.3L259.9 401.0L260.4 399.5L260.9 398.0L261.4 396.5L261.9 395.1L262.4 393.8L262.9 392.7L263.4 391.5L263.9 390.5L264.4 389.5L264.9 388.8L265.4 388.2L265.9 387.9L266.4 388.0L266.9 388.4L267.4 389.0L267.9 389.9L268.4 390.9L268.9 392.1L269.4 393.3L269.9 394.5L270.4 395.9L270.9 397.4L271.4 399.2L271.9 401.0L272.4 402.8L272.9 404.6L273.4 406.2L273.9 407.6L274.4 408.9L274.9 410.2L275.4 411.4L275.9 412.6L276.4 413.6L276.9 414.5L277.4 415.2L277.9 415.6L278.4 415.9L278.9 416.2L279.4 416.5L279.9 416.8L280.4 417.0L280.9 417.3L281.4 417.5L281.9 417.8L282.4 418.0L282.9 418.2L283.4 418.3L283.9 418.5L284.4 418.6L284.9 418.7L285.4 418.8L285.9 418.8L286.4 418.9L286.9 418.9L287.4 418.9L287.9 419.0L288.4 419.0L288.9 419.1L289.4 419.1L289.9 419.2L290.4 419.2L290.9 419.2L291.4 419.3L291.9 419.3L292.4 419.3L292.9 419.4L293.4 419.4L293.9 419.4L294.4 419.4L294.9 419.4L295.4 419.4L295.9 419.4L296.4 419.4L296.9 419.4L297.4 419.4L297.9 419.4L298.4 419.4L298.9 419.3L299.4 419.3L299.9 419.2L300.4 419.2L300.9 419.1L301.2 419.1" fill="none" stroke="#858585" stroke-width="1.70" stroke-linejoin="round" stroke-linecap="round"/>
<text x="0" y="0" font-size="11.60" text-anchor="start" font-weight="normal" fill="#151515" transform="translate(305.70,421.20) scale(0.925,1)" >E-504h</text>
<text x="0" y="0" font-size="11.60" text-anchor="start" font-weight="normal" fill="#151515" transform="translate(305.70,430.80) scale(0.925,1)" >E-336h</text>
<text x="0" y="0" font-size="11.60" text-anchor="start" font-weight="normal" fill="#151515" transform="translate(305.70,442.40) scale(0.925,1)" >E-168h</text>
<text x="0" y="0" font-size="11.60" text-anchor="start" font-weight="normal" fill="#151515" transform="translate(305.70,454.50) scale(0.925,1)" >W-8h</text>
<text x="0" y="0" font-size="11.60" text-anchor="start" font-weight="normal" fill="#151515" transform="translate(305.70,467.50) scale(0.925,1)" >W-6h</text>
<text x="0" y="0" font-size="11.60" text-anchor="start" font-weight="normal" fill="#151515" transform="translate(305.70,481.00) scale(0.925,1)" >W-4h</text>
<text x="0" y="0" font-size="11.60" text-anchor="start" font-weight="normal" fill="#151515" transform="translate(305.70,492.30) scale(0.925,1)" >B-4h</text>
<path d="M374.2 491.1L374.7 491.1L375.2 491.1L375.7 491.1L376.2 491.2L376.7 491.2L377.2 491.2L377.7 491.2L378.2 491.2L378.7 491.2L379.2 491.2L379.7 491.2L380.2 491.2L380.7 491.2L381.2 491.2L381.7 491.3L382.2 491.3L382.7 491.3L383.2 491.3L383.7 491.3L384.2 491.3L384.7 491.3L385.2 491.3L385.7 491.3L386.2 491.3L386.7 491.4L387.2 491.4L387.7 491.4L388.2 491.4L388.7 491.4L389.2 491.4L389.7 491.4L390.2 491.4L390.7 491.4L391.2 491.4L391.7 491.4L392.2 491.4L392.7 491.4L393.2 491.4L393.7 491.5L394.2 491.5L394.7 491.5L395.2 491.5L395.7 491.5L396.2 491.5L396.7 491.5L397.2 491.5L397.7 491.5L398.2 491.5L398.7 491.5L399.2 491.5L399.7 491.5L400.2 491.5L400.7 491.5L401.2 491.5L401.7 491.5L402.2 491.5L402.7 491.5L403.2 491.5L403.7 491.5L404.2 491.5L404.7 491.5L405.2 491.5L405.7 491.5L406.2 491.5L406.7 491.5L407.2 491.5L407.7 491.5L408.2 491.5L408.7 491.5L409.2 491.5L409.7 491.5L410.2 491.5L410.7 491.5L411.2 491.5L411.7 491.5L412.2 491.5L412.7 491.5L413.2 491.5L413.7 491.5L414.2 491.5L414.7 491.5L415.2 491.5L415.7 491.5L416.2 491.5L416.7 491.5L417.2 491.5L417.7 491.5L418.2 491.5L418.7 491.5L419.2 491.5L419.7 491.5L420.2 491.5L420.7 491.5L421.2 491.5L421.7 491.5L422.2 491.5L422.7 491.5L423.2 491.5L423.7 491.5L424.2 491.5L424.7 491.5L425.2 491.5L425.7 491.5L426.2 491.5L426.7 491.5L427.2 491.5L427.7 491.5L428.2 491.5L428.7 491.5L429.2 491.5L429.7 491.5L430.2 491.5L430.7 491.5L431.2 491.5L431.7 491.5L432.2 491.5L432.7 491.5L433.2 491.5L433.7 491.5L434.2 491.5L434.7 491.5L435.2 491.5L435.7 491.5L436.2 491.5L436.7 491.5L437.2 491.5L437.7 491.5L438.2 491.5L438.7 491.5L439.2 491.5L439.7 491.5L440.2 491.5L440.7 491.5L441.2 491.5L441.7 491.5L442.2 491.5L442.7 491.5L443.2 491.5L443.7 491.5L444.2 491.6L444.7 491.6L445.2 491.6L445.7 491.6L446.2 491.6L446.7 491.6L447.2 491.6L447.7 491.6L448.2 491.6L448.7 491.6L449.2 491.6L449.7 491.6L450.2 491.6L450.7 491.6L451.2 491.6L451.7 491.6L452.2 491.6L452.7 491.6L453.2 491.6L453.7 491.6L454.2 491.6L454.7 491.6L455.2 491.6L455.7 491.6L456.2 491.6L456.7 491.6L457.2 491.6L457.7 491.6L458.2 491.6L458.7 491.6L459.2 491.6L459.7 491.6L460.2 491.6L460.7 491.6L461.2 491.6L461.7 491.6L462.2 491.6L462.7 491.6L463.2 491.6L463.7 491.6L464.2 491.6L464.7 491.6L465.2 491.6L465.7 491.6L466.2 491.6L466.7 491.6L467.2 491.6L467.7 491.6L468.2 491.6L468.7 491.6L469.2 491.6L469.7 491.6L470.2 491.6L470.7 491.6L471.2 491.6L471.7 491.6L472.2 491.6L472.7 491.6L473.2 491.6L473.7 491.6L474.2 491.6L474.7 491.6L475.2 491.6L475.7 491.6L476.2 491.6L476.7 491.6L477.2 491.6L477.7 491.6L478.2 491.6L478.7 491.6L479.2 491.6L479.7 491.6L480.2 491.6L480.7 491.6L481.2 491.6L481.7 491.6L482.2 491.6L482.7 491.6L483.2 491.6L483.7 491.6L484.2 491.6L484.7 491.6L485.2 491.6L485.7 491.6L486.2 491.6L486.7 491.6L487.2 491.6L487.7 491.6L488.2 491.6L488.7 491.6L489.2 491.6L489.7 491.6L490.2 491.6L490.7 491.6L491.2 491.6L491.7 491.6L492.2 491.6L492.7 491.6L493.2 491.6L493.7 491.6L494.2 491.6L494.7 491.6L495.2 491.6L495.7 491.6L496.2 491.6L496.7 491.6L497.2 491.6L497.7 491.6L498.2 491.6L498.7 491.6L499.2 491.6L499.7 491.6L500.2 491.6L500.7 491.6L501.2 491.6L501.7 491.6L502.2 491.6L502.7 491.6L503.2 491.6L503.7 491.6L504.2 491.6L504.7 491.6L505.2 491.6L505.7 491.6L506.2 491.6L506.7 491.6L507.2 491.6L507.7 491.6L508.2 491.6L508.7 491.6L509.2 491.6L509.7 491.6L510.2 491.6L510.7 491.6L511.2 491.6L511.7 491.6L512.2 491.6L512.7 491.6L513.2 491.6L513.7 491.6L514.2 491.6L514.7 491.6L515.2 491.6L515.7 491.5L516.2 491.5L516.7 491.4L517.2 491.3L517.7 491.1L518.2 490.9L518.7 490.5L519.2 490.2L519.7 489.7L520.2 489.1L520.7 488.4L521.2 487.6L521.7 486.6L522.2 485.6L522.7 484.3L523.2 483.0L523.7 481.5L524.2 479.9L524.7 478.2L525.2 476.4L525.7 474.5L526.2 472.5L526.7 470.4L527.2 468.2L527.7 466.0L528.2 463.7L528.7 461.4L529.2 459.1L529.7 456.8L530.2 454.4L530.7 452.0L531.2 449.6L531.7 447.1L532.2 444.6L532.7 442.0L533.2 439.3L533.7 436.6L534.2 433.7L534.7 430.8L535.2 427.9L535.7 424.9L536.2 422.0L536.7 419.1L537.2 416.3L537.7 413.7L538.2 411.3L538.7 409.0L539.2 407.0L539.7 405.1L540.2 403.5L540.7 402.1L541.2 400.9L541.7 399.8L542.2 398.8L542.7 398.0L543.2 397.4L543.7 396.8L544.2 396.4L544.7 396.1L545.2 396.0L545.7 396.0L546.2 396.2L546.7 396.5L547.2 396.9L547.7 397.5L548.2 398.2L548.7 399.0L549.2 400.0L549.7 401.0L550.2 402.2L550.7 403.5L551.2 404.9L551.7 406.3L552.2 407.8L552.7 409.4L553.2 411.0L553.7 412.7L554.2 414.4L554.7 416.1L555.2 417.9L555.7 419.8L556.2 421.7L556.7 423.5L557.2 425.4L557.7 427.3L558.2 429.2L558.7 431.0L559.2 432.7L559.7 434.3L560.2 435.9L560.7 437.4L561.2 438.8L561.7 440.2L562.2 441.5L562.7 442.7L563.2 443.9L563.7 445.1L564.2 446.2L564.7 447.3L565.2 448.4L565.7 449.4L566.2 450.4L566.7 451.4L567.2 452.4L567.7 453.3L568.2 454.2L568.7 455.1L569.2 455.9L569.7 456.7L570.2 457.5L570.7 458.3L571.2 459.0L571.7 459.8L572.2 460.5L572.7 461.1L573.2 461.8L573.7 462.5L574.2 463.1L574.7 463.7L575.2 464.3L575.7 464.8L576.2 465.3L576.7 465.8L577.2 466.2L577.7 466.5L578.2 466.8L578.7 467.1L579.2 467.4L579.7 467.7L580.2 466.7L580.7 464.5L581.2 461.4L581.7 456.8L582.2 451.6L582.7 446.6L583.2 441.4L583.7 436.0L584.2 430.6L584.7 425.5L585.2 420.7L585.7 415.9L586.2 411.2L586.7 407.6L587.2 406.1L587.7 407.5L588.2 411.2L588.7 416.3L589.2 421.6L589.7 426.6L590.2 432.4L590.7 438.3L591.2 442.8L591.7 445.1L592.2 446.4L592.7 447.5L593.2 448.4L593.7 449.1L594.2 449.9L594.7 450.8L595.2 451.9L595.7 453.0L596.2 454.1L596.7 455.3L597.2 456.5L597.7 457.6L598.2 458.8L598.7 459.9L599.2 461.1L599.7 462.2L600.2 463.2L600.7 464.3L601.2 465.4L601.7 466.5L602.2 467.6L602.7 468.6L603.2 469.6L603.7 470.6L604.2 471.5L604.7 472.4L605.2 473.2L605.7 473.9L606.2 474.4L606.7 474.7L607.2 474.7L607.7 474.5L608.2 473.7L608.7 472.3L609.2 470.3L609.7 468.1L610.2 465.8L610.7 463.4L611.2 460.6L611.7 457.7L612.2 454.7L612.7 451.8L613.2 449.1L613.7 446.4L614.2 443.8L614.7 441.2L615.2 438.9L615.7 436.8L616.2 435.0L616.7 433.5L617.2 432.2L617.7 431.2L618.2 430.6L618.7 430.5L619.2 431.2L619.7 432.4L620.2 434.0L620.7 435.9L621.2 438.0L621.7 440.3L622.2 443.1L622.7 446.2L623.2 449.4L623.7 452.5L624.2 455.8L624.7 459.2L625.2 462.6L625.7 465.8L626.2 468.8L626.7 471.8L627.2 474.7L627.7 477.3L628.2 479.5L628.7 480.9L629.2 482.1L629.7 483.2L630.2 484.1L630.7 484.7L631.2 485.2L631.7 485.6L632.2 486.0L632.7 486.3L633.2 486.6L633.7 486.8L634.2 486.9L634.7 487.0L635.2 487.1L635.7 487.2L636.2 487.3L636.7 487.4L637.2 487.5L637.7 487.6L638.2 487.7L638.7 487.8L639.2 487.8L639.7 487.9L640.2 487.9L640.7 488.0L641.2 488.0L641.7 488.0L642.2 488.0L642.7 488.0L643.2 487.9L643.7 487.9L644.2 487.9L644.7 487.8L645.2 487.8L645.7 487.7L646.2 487.6L646.7 487.6L647.2 487.5L647.7 487.4L648.2 487.3L648.7 487.2L649.2 487.1L649.7 487.0L650.2 486.9L650.7 486.8L651.2 486.7L651.7 486.6L652.2 486.5L652.7 486.4L653.1 486.3" fill="none" stroke="#000000" stroke-width="1.70" stroke-linejoin="round" stroke-linecap="round"/>
<path d="M374.2 476.4L374.7 476.5L375.2 476.5L375.7 476.5L376.2 476.6L376.7 476.6L377.2 476.6L377.7 476.6L378.2 476.7L378.7 476.7L379.2 476.7L379.7 476.8L380.2 476.8L380.7 476.8L381.2 476.9L381.7 476.9L382.2 476.9L382.7 477.0L383.2 477.0L383.7 477.0L384.2 477.1L384.7 477.1L385.2 477.1L385.7 477.1L386.2 477.2L386.7 477.2L387.2 477.2L387.7 477.3L388.2 477.3L388.7 477.3L389.2 477.3L389.7 477.4L390.2 477.4L390.7 477.4L391.2 477.4L391.7 477.5L392.2 477.5L392.7 477.5L393.2 477.5L393.7 477.6L394.2 477.6L394.7 477.6L395.2 477.6L395.7 477.6L396.2 477.7L396.7 477.7L397.2 477.7L397.7 477.7L398.2 477.7L398.7 477.8L399.2 477.8L399.7 477.8L400.2 477.8L400.7 477.8L401.2 477.8L401.7 477.8L402.2 477.9L402.7 477.9L403.2 477.9L403.7 477.9L404.2 477.9L404.7 477.9L405.2 477.9L405.7 478.0L406.2 478.0L406.7 478.0L407.2 478.0L407.7 478.0L408.2 478.0L408.7 478.0L409.2 478.0L409.7 478.0L410.2 478.1L410.7 478.1L411.2 478.1L411.7 478.1L412.2 478.1L412.7 478.1L413.2 478.1L413.7 478.1L414.2 478.2L414.7 478.2L415.2 478.2L415.7 478.2L416.2 478.2L416.7 478.2L417.2 478.2L417.7 478.2L418.2 478.2L418.7 478.2L419.2 478.3L419.7 478.3L420.2 478.3L420.7 478.3L421.2 478.3L421.7 478.3L422.2 478.3L422.7 478.3L423.2 478.3L423.7 478.3L424.2 478.4L424.7 478.4L425.2 478.4L425.7 478.4L426.2 478.4L426.7 478.4L427.2 478.4L427.7 478.4L428.2 478.4L428.7 478.4L429.2 478.4L429.7 478.4L430.2 478.5L430.7 478.5L431.2 478.5L431.7 478.5L432.2 478.5L432.7 478.5L433.2 478.5L433.7 478.5L434.2 478.5L434.7 478.5L435.2 478.5L435.7 478.5L436.2 478.5L436.7 478.6L437.2 478.6L437.7 478.6L438.2 478.6L438.7 478.6L439.2 478.6L439.7 478.6L440.2 478.6L440.7 478.6L441.2 478.6L441.7 478.6L442.2 478.6L442.7 478.6L443.2 478.6L443.7 478.7L444.2 478.7L444.7 478.7L445.2 478.7L445.7 478.7L446.2 478.7L446.7 478.7L447.2 478.7L447.7 478.7L448.2 478.7L448.7 478.7L449.2 478.7L449.7 478.7L450.2 478.7L450.7 478.7L451.2 478.7L451.7 478.7L452.2 478.8L452.7 478.8L453.2 478.8L453.7 478.8L454.2 478.8L454.7 478.8L455.2 478.8L455.7 478.8L456.2 478.8L456.7 478.8L457.2 478.8L457.7 478.8L458.2 478.8L458.7 478.8L459.2 478.8L459.7 478.8L460.2 478.8L460.7 478.8L461.2 478.8L461.7 478.8L462.2 478.9L462.7 478.9L463.2 478.9L463.7 478.9L464.2 478.9L464.7 478.9L465.2 478.9L465.7 478.9L466.2 478.9L466.7 478.9L467.2 478.9L467.7 478.9L468.2 478.9L468.7 478.9L469.2 478.9L469.7 478.9L470.2 478.9L470.7 478.9L471.2 478.9L471.7 478.9L472.2 478.9L472.7 478.9L473.2 478.9L473.7 479.0L474.2 479.0L474.7 479.0L475.2 479.0L475.7 479.0L476.2 479.0L476.7 479.0L477.2 479.0L477.7 479.0L478.2 479.0L478.7 479.0L479.2 479.0L479.7 479.0L480.2 479.0L480.7 479.0L481.2 479.0L481.7 479.0L482.2 479.0L482.7 479.0L483.2 479.0L483.7 479.0L484.2 479.0L484.7 479.0L485.2 479.0L485.7 479.0L486.2 479.1L486.7 479.1L487.2 479.1L487.7 479.1L488.2 479.1L488.7 479.1L489.2 479.1L489.7 479.1L490.2 479.1L490.7 479.1L491.2 479.1L491.7 479.1L492.2 479.1L492.7 479.1L493.2 479.1L493.7 479.1L494.2 479.1L494.7 479.1L495.2 479.1L495.7 479.1L496.2 479.1L496.7 479.1L497.2 479.1L497.7 479.1L498.2 479.1L498.7 479.1L499.2 479.2L499.7 479.2L500.2 479.2L500.7 479.2L501.2 479.2L501.7 479.2L502.2 479.2L502.7 479.2L503.2 479.2L503.7 479.2L504.2 479.2L504.7 479.2L505.2 479.2L505.7 479.2L506.2 479.2L506.7 479.2L507.2 479.2L507.7 479.2L508.2 479.1L508.7 479.1L509.2 479.1L509.7 479.1L510.2 479.1L510.7 479.0L511.2 479.0L511.7 479.0L512.2 479.0L512.7 478.9L513.2 478.9L513.7 478.8L514.2 478.8L514.7 478.7L515.2 478.6L515.7 478.5L516.2 478.4L516.7 478.2L517.2 478.0L517.7 477.7L518.2 477.4L518.7 477.1L519.2 476.6L519.7 476.1L520.2 475.5L520.7 474.8L521.2 474.0L521.7 473.1L522.2 472.0L522.7 470.8L523.2 469.4L523.7 468.0L524.2 466.3L524.7 464.6L525.2 462.8L525.7 460.9L526.2 458.9L526.7 456.9L527.2 454.8L527.7 452.7L528.2 450.6L528.7 448.4L529.2 446.2L529.7 444.0L530.2 441.7L530.7 439.3L531.2 436.9L531.7 434.4L532.2 431.9L532.7 429.4L533.2 426.8L533.7 424.1L534.2 421.4L534.7 418.6L535.2 415.8L535.7 413.0L536.2 410.1L536.7 407.3L537.2 404.5L537.7 401.8L538.2 399.3L538.7 396.9L539.2 394.8L539.7 392.9L540.2 391.1L540.7 389.6L541.2 388.3L541.7 387.1L542.2 386.1L542.7 385.3L543.2 384.6L543.7 384.0L544.2 383.6L544.7 383.2L545.2 383.0L545.7 383.0L546.2 383.1L546.7 383.3L547.2 383.6L547.7 384.1L548.2 384.7L548.7 385.5L549.2 386.4L549.7 387.4L550.2 388.5L550.7 389.7L551.2 391.1L551.7 392.5L552.2 394.0L552.7 395.5L553.2 397.1L553.7 398.7L554.2 400.3L554.7 402.0L555.2 403.6L555.7 405.3L556.2 407.0L556.7 408.6L557.2 410.3L557.7 411.9L558.2 413.5L558.7 415.1L559.2 416.7L559.7 418.2L560.2 419.7L560.7 421.1L561.2 422.5L561.7 423.9L562.2 425.2L562.7 426.6L563.2 427.9L563.7 429.2L564.2 430.5L564.7 431.8L565.2 433.0L565.7 434.2L566.2 435.4L566.7 436.6L567.2 437.7L567.7 438.9L568.2 439.9L568.7 441.0L569.2 442.0L569.7 442.9L570.2 443.9L570.7 444.8L571.2 445.6L571.7 446.5L572.2 447.3L572.7 448.0L573.2 448.8L573.7 449.4L574.2 450.1L574.7 450.7L575.2 451.3L575.7 451.9L576.2 452.4L576.7 452.8L577.2 453.1L577.7 453.3L578.2 453.5L578.7 453.7L579.2 453.8L579.7 453.0L580.2 451.4L580.7 448.9L581.2 445.5L581.7 441.3L582.2 437.1L582.7 433.2L583.2 429.2L583.7 425.2L584.2 421.2L584.7 417.4L585.2 413.9L585.7 410.7L586.2 408.0L586.7 405.3L587.2 403.0L587.7 401.4L588.2 401.0L588.7 401.9L589.2 403.7L589.7 406.0L590.2 408.4L590.7 410.6L591.2 412.4L591.7 414.2L592.2 415.8L592.7 417.5L593.2 419.3L593.7 421.1L594.2 423.1L594.7 425.2L595.2 427.3L595.7 429.6L596.2 431.8L596.7 433.9L597.2 435.9L597.7 437.8L598.2 439.4L598.7 440.8L599.2 442.2L599.7 443.4L600.2 444.6L600.7 445.7L601.2 446.7L601.7 447.7L602.2 448.6L602.7 449.5L603.2 450.2L603.7 450.9L604.2 451.5L604.7 452.1L605.2 452.6L605.7 453.1L606.2 453.6L606.7 454.0L607.2 454.4L607.7 454.7L608.2 455.0L608.7 455.0L609.2 454.7L609.7 452.9L610.2 450.3L610.7 448.3L611.2 446.6L611.7 445.0L612.2 442.9L612.7 440.6L613.2 438.0L613.7 435.3L614.2 432.6L614.7 429.9L615.2 427.4L615.7 425.0L616.2 422.6L616.7 420.2L617.2 417.9L617.7 415.8L618.2 413.9L618.7 412.2L619.2 410.8L619.7 410.2L620.2 410.8L620.7 412.3L621.2 414.4L621.7 416.7L622.2 419.0L622.7 421.5L623.2 424.2L623.7 426.9L624.2 429.6L624.7 432.2L625.2 434.6L625.7 437.0L626.2 439.4L626.7 441.7L627.2 444.0L627.7 446.2L628.2 448.4L628.7 450.6L629.2 452.8L629.7 454.9L630.2 456.9L630.7 458.7L631.2 460.3L631.7 461.8L632.2 463.2L632.7 464.6L633.2 465.9L633.7 467.1L634.2 468.0L634.7 468.8L635.2 469.3L635.7 469.7L636.2 470.0L636.7 470.3L637.2 470.6L637.7 470.9L638.2 471.2L638.7 471.5L639.2 471.7L639.7 471.9L640.2 472.0L640.7 472.1L641.2 472.2L641.7 472.3L642.2 472.4L642.7 472.5L643.2 472.6L643.7 472.6L644.2 472.7L644.7 472.8L645.2 472.9L645.7 473.0L646.2 473.0L646.7 473.1L647.2 473.2L647.7 473.2L648.2 473.3L648.7 473.3L649.2 473.4L649.7 473.4L650.2 473.4L650.7 473.5L651.2 473.5L651.7 473.5L652.2 473.4L652.7 473.4L653.1 473.4" fill="none" stroke="#0000ff" stroke-width="1.70" stroke-linejoin="round" stroke-linecap="round"/>
<path d="M374.2 465.0L374.7 465.1L375.2 465.1L375.7 465.1L376.2 465.1L376.7 465.1L377.2 465.2L377.7 465.2L378.2 465.2L378.7 465.2L379.2 465.2L379.7 465.3L380.2 465.3L380.7 465.3L381.2 465.3L381.7 465.4L382.2 465.4L382.7 465.4L383.2 465.4L383.7 465.4L384.2 465.5L384.7 465.5L385.2 465.5L385.7 465.5L386.2 465.6L386.7 465.6L387.2 465.6L387.7 465.6L388.2 465.6L388.7 465.7L389.2 465.7L389.7 465.7L390.2 465.7L390.7 465.7L391.2 465.7L391.7 465.8L392.2 465.8L392.7 465.8L393.2 465.8L393.7 465.8L394.2 465.8L394.7 465.9L395.2 465.9L395.7 465.9L396.2 465.9L396.7 465.9L397.2 465.9L397.7 465.9L398.2 466.0L398.7 466.0L399.2 466.0L399.7 466.0L400.2 466.0L400.7 466.0L401.2 466.0L401.7 466.0L402.2 466.0L402.7 466.1L403.2 466.1L403.7 466.1L404.2 466.1L404.7 466.1L405.2 466.1L405.7 466.1L406.2 466.1L406.7 466.1L407.2 466.1L407.7 466.1L408.2 466.1L408.7 466.2L409.2 466.2L409.7 466.2L410.2 466.2L410.7 466.2L411.2 466.2L411.7 466.2L412.2 466.2L412.7 466.2L413.2 466.2L413.7 466.2L414.2 466.2L414.7 466.3L415.2 466.3L415.7 466.3L416.2 466.3L416.7 466.3L417.2 466.3L417.7 466.3L418.2 466.3L418.7 466.3L419.2 466.3L419.7 466.3L420.2 466.3L420.7 466.3L421.2 466.3L421.7 466.3L422.2 466.4L422.7 466.4L423.2 466.4L423.7 466.4L424.2 466.4L424.7 466.4L425.2 466.4L425.7 466.4L426.2 466.4L426.7 466.4L427.2 466.4L427.7 466.4L428.2 466.4L428.7 466.4L429.2 466.4L429.7 466.4L430.2 466.5L430.7 466.5L431.2 466.5L431.7 466.5L432.2 466.5L432.7 466.5L433.2 466.5L433.7 466.5L434.2 466.5L434.7 466.5L435.2 466.5L435.7 466.5L436.2 466.5L436.7 466.5L437.2 466.5L437.7 466.5L438.2 466.5L438.7 466.5L439.2 466.5L439.7 466.5L440.2 466.6L440.7 466.6L441.2 466.6L441.7 466.6L442.2 466.6L442.7 466.6L443.2 466.6L443.7 466.6L444.2 466.6L444.7 466.6L445.2 466.6L445.7 466.6L446.2 466.6L446.7 466.6L447.2 466.6L447.7 466.6L448.2 466.6L448.7 466.6L449.2 466.6L449.7 466.6L450.2 466.6L450.7 466.6L451.2 466.6L451.7 466.6L452.2 466.6L452.7 466.7L453.2 466.7L453.7 466.7L454.2 466.7L454.7 466.7L455.2 466.7L455.7 466.7L456.2 466.7L456.7 466.7L457.2 466.7L457.7 466.7L458.2 466.7L458.7 466.7L459.2 466.7L459.7 466.7L460.2 466.7L460.7 466.7L461.2 466.7L461.7 466.7L462.2 466.7L462.7 466.7L463.2 466.7L463.7 466.7L464.2 466.7L464.7 466.7L465.2 466.7L465.7 466.7L466.2 466.7L466.7 466.7L467.2 466.8L467.7 466.8L468.2 466.8L468.7 466.8L469.2 466.8L469.7 466.8L470.2 466.8L470.7 466.8L471.2 466.8L471.7 466.8L472.2 466.8L472.7 466.8L473.2 466.8L473.7 466.8L474.2 466.8L474.7 466.8L475.2 466.8L475.7 466.8L476.2 466.8L476.7 466.8L477.2 466.8L477.7 466.8L478.2 466.8L478.7 466.8L479.2 466.8L479.7 466.8L480.2 466.8L480.7 466.8L481.2 466.8L481.7 466.8L482.2 466.8L482.7 466.8L483.2 466.8L483.7 466.9L484.2 466.9L484.7 466.9L485.2 466.9L485.7 466.9L486.2 466.9L486.7 466.9L487.2 466.9L487.7 466.9L488.2 466.9L488.7 466.9L489.2 466.9L489.7 466.9L490.2 466.9L490.7 466.9L491.2 466.9L491.7 466.9L492.2 466.9L492.7 466.9L493.2 466.9L493.7 466.9L494.2 466.9L494.7 466.9L495.2 466.9L495.7 466.9L496.2 466.9L496.7 466.9L497.2 466.9L497.7 466.9L498.2 466.9L498.7 467.0L499.2 467.0L499.7 467.0L500.2 467.0L500.7 467.0L501.2 467.0L501.7 467.0L502.2 467.0L502.7 467.0L503.2 467.0L503.7 467.0L504.2 467.0L504.7 467.0L505.2 467.0L505.7 467.0L506.2 467.0L506.7 467.0L507.2 467.0L507.7 467.0L508.2 467.0L508.7 467.0L509.2 467.0L509.7 466.9L510.2 466.9L510.7 466.9L511.2 466.9L511.7 466.9L512.2 466.9L512.7 466.8L513.2 466.8L513.7 466.8L514.2 466.7L514.7 466.7L515.2 466.6L515.7 466.5L516.2 466.3L516.7 466.2L517.2 465.9L517.7 465.6L518.2 465.2L518.7 464.8L519.2 464.2L519.7 463.6L520.2 462.9L520.7 462.1L521.2 461.2L521.7 460.2L522.2 459.1L522.7 458.0L523.2 456.7L523.7 455.3L524.2 453.8L524.7 452.2L525.2 450.6L525.7 448.9L526.2 447.1L526.7 445.2L527.2 443.2L527.7 441.2L528.2 439.1L528.7 437.0L529.2 434.8L529.7 432.6L530.2 430.3L530.7 428.1L531.2 425.7L531.7 423.4L532.2 421.1L532.7 418.7L533.2 416.3L533.7 413.8L534.2 411.2L534.7 408.6L535.2 405.9L535.7 403.2L536.2 400.4L536.7 397.7L537.2 395.0L537.7 392.3L538.2 389.8L538.7 387.4L539.2 385.1L539.7 383.0L540.2 381.0L540.7 379.2L541.2 377.6L541.7 376.1L542.2 374.8L542.7 373.7L543.2 372.7L543.7 371.9L544.2 371.3L544.7 370.8L545.2 370.4L545.7 370.3L546.2 370.3L546.7 370.4L547.2 370.7L547.7 371.2L548.2 371.8L548.7 372.6L549.2 373.5L549.7 374.5L550.2 375.7L550.7 377.0L551.2 378.3L551.7 379.8L552.2 381.4L552.7 383.0L553.2 384.6L553.7 386.3L554.2 388.1L554.7 389.9L555.2 391.6L555.7 393.4L556.2 395.3L556.7 397.1L557.2 398.9L557.7 400.7L558.2 402.5L558.7 404.2L559.2 406.0L559.7 407.7L560.2 409.4L560.7 411.1L561.2 412.7L561.7 414.3L562.2 415.9L562.7 417.4L563.2 418.9L563.7 420.3L564.2 421.7L564.7 423.0L565.2 424.1L565.7 425.3L566.2 426.3L566.7 427.2L567.2 428.1L567.7 428.9L568.2 429.6L568.7 430.2L569.2 430.9L569.7 431.5L570.2 432.1L570.7 432.6L571.2 433.2L571.7 433.8L572.2 434.4L572.7 435.0L573.2 435.6L573.7 436.2L574.2 436.8L574.7 437.3L575.2 437.8L575.7 438.3L576.2 438.7L576.7 439.0L577.2 439.2L577.7 439.3L578.2 439.4L578.7 438.9L579.2 437.0L579.7 433.7L580.2 429.3L580.7 424.4L581.2 419.8L581.7 414.8L582.2 409.4L582.7 403.9L583.2 398.8L583.7 393.0L584.2 387.1L584.7 382.7L585.2 381.0L585.7 382.3L586.2 385.2L586.7 388.8L587.2 392.3L587.7 395.3L588.2 398.3L588.7 401.4L589.2 404.4L589.7 407.4L590.2 410.1L590.7 412.9L591.2 415.7L591.7 418.3L592.2 420.7L592.7 422.8L593.2 424.5L593.7 426.1L594.2 427.7L594.7 429.1L595.2 430.4L595.7 431.7L596.2 432.9L596.7 433.9L597.2 434.9L597.7 435.8L598.2 436.7L598.7 437.6L599.2 438.4L599.7 439.2L600.2 439.9L600.7 440.6L601.2 441.2L601.7 441.8L602.2 442.4L602.7 442.9L603.2 443.4L603.7 443.9L604.2 444.3L604.7 444.5L605.2 444.5L605.7 444.2L606.2 443.8L606.7 443.1L607.2 441.4L607.7 438.9L608.2 436.1L608.7 433.5L609.2 430.8L609.7 428.0L610.2 425.2L610.7 422.3L611.2 419.4L611.7 416.5L612.2 413.7L612.7 410.7L613.2 407.8L613.7 405.0L614.2 402.5L614.7 400.1L615.2 397.9L615.7 396.1L616.2 395.2L616.7 395.3L617.2 396.5L617.7 398.4L618.2 400.5L618.7 402.7L619.2 405.4L619.7 408.3L620.2 411.5L620.7 414.8L621.2 418.4L621.7 422.3L622.2 426.3L622.7 430.1L623.2 433.6L623.7 437.0L624.2 440.4L624.7 443.6L625.2 446.4L625.7 448.8L626.2 450.7L626.7 452.5L627.2 454.2L627.7 455.7L628.2 457.0L628.7 458.0L629.2 458.7L629.7 459.1L630.2 459.4L630.7 459.8L631.2 460.1L631.7 460.3L632.2 460.6L632.7 460.8L633.2 461.0L633.7 461.1L634.2 461.2L634.7 461.3L635.2 461.4L635.7 461.5L636.2 461.6L636.7 461.7L637.2 461.8L637.7 461.9L638.2 461.9L638.7 462.0L639.2 462.1L639.7 462.2L640.2 462.2L640.7 462.3L641.2 462.3L641.7 462.4L642.2 462.4L642.7 462.4L643.2 462.4L643.7 462.5L644.2 462.5L644.7 462.5L645.2 462.5L645.7 462.6L646.2 462.6L646.7 462.6L647.2 462.6L647.7 462.6L648.2 462.6L648.7 462.6L649.2 462.6L649.7 462.6L650.2 462.6L650.7 462.6L651.2 462.6L651.7 462.6L652.2 462.6L652.7 462.6L653.1 462.6" fill="none" stroke="#ff00ff" stroke-width="1.70" stroke-linejoin="round" stroke-linecap="round"/>
<path d="M374.2 451.0L374.7 451.1L375.2 451.1L375.7 451.2L376.2 451.2L376.7 451.2L377.2 451.2L377.7 451.3L378.2 451.3L378.7 451.3L379.2 451.4L379.7 451.4L380.2 451.4L380.7 451.5L381.2 451.5L381.7 451.6L382.2 451.6L382.7 451.6L383.2 451.7L383.7 451.7L384.2 451.7L384.7 451.8L385.2 451.8L385.7 451.8L386.2 451.9L386.7 451.9L387.2 451.9L387.7 452.0L388.2 452.0L388.7 452.0L389.2 452.1L389.7 452.1L390.2 452.1L390.7 452.1L391.2 452.2L391.7 452.2L392.2 452.2L392.7 452.2L393.2 452.3L393.7 452.3L394.2 452.3L394.7 452.3L395.2 452.4L395.7 452.4L396.2 452.4L396.7 452.4L397.2 452.4L397.7 452.4L398.2 452.5L398.7 452.5L399.2 452.5L399.7 452.5L400.2 452.5L400.7 452.5L401.2 452.5L401.7 452.5L402.2 452.5L402.7 452.5L403.2 452.6L403.7 452.6L404.2 452.6L404.7 452.6L405.2 452.6L405.7 452.6L406.2 452.6L406.7 452.6L407.2 452.6L407.7 452.6L408.2 452.6L408.7 452.6L409.2 452.7L409.7 452.7L410.2 452.7L410.7 452.7L411.2 452.7L411.7 452.7L412.2 452.7L412.7 452.7L413.2 452.7L413.7 452.7L414.2 452.7L414.7 452.7L415.2 452.7L415.7 452.7L416.2 452.8L416.7 452.8L417.2 452.8L417.7 452.8L418.2 452.8L418.7 452.8L419.2 452.8L419.7 452.8L420.2 452.8L420.7 452.8L421.2 452.8L421.7 452.8L422.2 452.8L422.7 452.8L423.2 452.8L423.7 452.8L424.2 452.8L424.7 452.9L425.2 452.9L425.7 452.9L426.2 452.9L426.7 452.9L427.2 452.9L427.7 452.9L428.2 452.9L428.7 452.9L429.2 452.9L429.7 452.9L430.2 452.9L430.7 452.9L431.2 452.9L431.7 452.9L432.2 452.9L432.7 452.9L433.2 452.9L433.7 452.9L434.2 452.9L434.7 453.0L435.2 453.0L435.7 453.0L436.2 453.0L436.7 453.0L437.2 453.0L437.7 453.0L438.2 453.0L438.7 453.0L439.2 453.0L439.7 453.0L440.2 453.0L440.7 453.0L441.2 453.0L441.7 453.0L442.2 453.0L442.7 453.0L443.2 453.0L443.7 453.0L444.2 453.0L444.7 453.0L445.2 453.0L445.7 453.0L446.2 453.0L446.7 453.0L447.2 453.0L447.7 453.1L448.2 453.1L448.7 453.1L449.2 453.1L449.7 453.1L450.2 453.1L450.7 453.1L451.2 453.1L451.7 453.1L452.2 453.1L452.7 453.1L453.2 453.1L453.7 453.1L454.2 453.1L454.7 453.1L455.2 453.1L455.7 453.1L456.2 453.1L456.7 453.1L457.2 453.1L457.7 453.1L458.2 453.1L458.7 453.1L459.2 453.1L459.7 453.1L460.2 453.1L460.7 453.1L461.2 453.1L461.7 453.1L462.2 453.1L462.7 453.1L463.2 453.1L463.7 453.1L464.2 453.1L464.7 453.1L465.2 453.1L465.7 453.1L466.2 453.1L466.7 453.1L467.2 453.1L467.7 453.1L468.2 453.1L468.7 453.1L469.2 453.1L469.7 453.1L470.2 453.1L470.7 453.1L471.2 453.1L471.7 453.1L472.2 453.1L472.7 453.1L473.2 453.1L473.7 453.1L474.2 453.1L474.7 453.1L475.2 453.1L475.7 453.1L476.2 453.1L476.7 453.1L477.2 453.1L477.7 453.1L478.2 453.1L478.7 453.1L479.2 453.1L479.7 453.1L480.2 453.1L480.7 453.1L481.2 453.1L481.7 453.1L482.2 453.1L482.7 453.1L483.2 453.1L483.7 453.1L484.2 453.1L484.7 453.1L485.2 453.1L485.7 453.1L486.2 453.1L486.7 453.0L487.2 453.0L487.7 453.0L488.2 453.0L488.7 453.0L489.2 453.0L489.7 453.0L490.2 453.0L490.7 453.0L491.2 453.0L491.7 453.0L492.2 453.0L492.7 453.0L493.2 453.0L493.7 453.0L494.2 453.0L494.7 453.0L495.2 453.0L495.7 453.0L496.2 453.0L496.7 453.0L497.2 453.0L497.7 453.0L498.2 453.0L498.7 453.0L499.2 453.0L499.7 453.0L500.2 453.0L500.7 453.0L501.2 453.0L501.7 453.0L502.2 453.0L502.7 453.0L503.2 453.0L503.7 453.0L504.2 453.0L504.7 453.0L505.2 452.9L505.7 452.9L506.2 452.9L506.7 452.9L507.2 452.8L507.7 452.8L508.2 452.7L508.7 452.7L509.2 452.6L509.7 452.5L510.2 452.4L510.7 452.3L511.2 452.2L511.7 452.0L512.2 451.8L512.7 451.6L513.2 451.3L513.7 451.0L514.2 450.6L514.7 450.2L515.2 449.7L515.7 449.1L516.2 448.4L516.7 447.7L517.2 446.8L517.7 445.9L518.2 444.8L518.7 443.6L519.2 442.3L519.7 440.8L520.2 439.3L520.7 437.6L521.2 435.8L521.7 434.0L522.2 432.1L522.7 430.1L523.2 428.0L523.7 425.9L524.2 423.8L524.7 421.6L525.2 419.4L525.7 417.1L526.2 414.7L526.7 412.3L527.2 409.9L527.7 407.3L528.2 404.7L528.7 402.1L529.2 399.4L529.7 396.7L530.2 394.1L530.7 391.5L531.2 388.9L531.7 386.4L532.2 384.0L532.7 381.7L533.2 379.5L533.7 377.5L534.2 375.5L534.7 373.6L535.2 371.9L535.7 370.2L536.2 368.7L536.7 367.3L537.2 365.9L537.7 364.7L538.2 363.5L538.7 362.5L539.2 361.5L539.7 360.6L540.2 359.8L540.7 359.1L541.2 358.5L541.7 358.0L542.2 357.7L542.7 357.4L543.2 357.3L543.7 357.3L544.2 357.5L544.7 357.7L545.2 358.1L545.7 358.6L546.2 359.2L546.7 359.9L547.2 360.7L547.7 361.5L548.2 362.4L548.7 363.4L549.2 364.4L549.7 365.5L550.2 366.6L550.7 367.9L551.2 369.1L551.7 370.5L552.2 371.9L552.7 373.4L553.2 374.9L553.7 376.4L554.2 378.0L554.7 379.6L555.2 381.2L555.7 382.8L556.2 384.5L556.7 386.1L557.2 387.8L557.7 389.5L558.2 391.1L558.7 392.8L559.2 394.4L559.7 396.0L560.2 397.6L560.7 399.1L561.2 400.6L561.7 402.0L562.2 403.4L562.7 404.8L563.2 406.1L563.7 407.3L564.2 408.5L564.7 409.6L565.2 410.7L565.7 411.8L566.2 412.8L566.7 413.8L567.2 414.7L567.7 415.6L568.2 416.4L568.7 417.2L569.2 418.0L569.7 418.8L570.2 419.5L570.7 420.2L571.2 420.9L571.7 421.5L572.2 422.2L572.7 422.8L573.2 423.4L573.7 423.9L574.2 424.5L574.7 425.0L575.2 425.5L575.7 425.9L576.2 426.3L576.7 426.7L577.2 427.0L577.7 427.2L578.2 427.4L578.7 427.5L579.2 427.5L579.7 426.4L580.2 423.7L580.7 420.0L581.2 415.9L581.7 411.8L582.2 407.7L582.7 402.9L583.2 397.8L583.7 392.8L584.2 388.2L584.7 384.4L585.2 380.8L585.7 377.6L586.2 375.4L586.7 374.8L587.2 375.4L587.7 376.7L588.2 378.4L588.7 380.3L589.2 382.3L589.7 384.6L590.2 386.9L590.7 389.2L591.2 391.5L591.7 393.8L592.2 396.1L592.7 398.5L593.2 400.8L593.7 403.1L594.2 405.2L594.7 407.2L595.2 408.8L595.7 410.4L596.2 411.8L596.7 413.2L597.2 414.5L597.7 415.8L598.2 417.0L598.7 418.1L599.2 419.2L599.7 420.3L600.2 421.3L600.7 422.4L601.2 423.4L601.7 424.4L602.2 425.3L602.7 426.2L603.2 427.0L603.7 427.8L604.2 428.5L604.7 429.3L605.2 429.9L605.7 430.5L606.2 431.0L606.7 431.3L607.2 431.2L607.7 430.7L608.2 430.0L608.7 428.7L609.2 426.7L609.7 424.2L610.2 421.8L610.7 419.4L611.2 416.8L611.7 414.2L612.2 411.5L612.7 408.8L613.2 406.2L613.7 403.4L614.2 400.6L614.7 397.8L615.2 395.2L615.7 392.8L616.2 390.8L616.7 389.0L617.2 387.5L617.7 386.6L618.2 386.5L618.7 387.2L619.2 388.5L619.7 390.1L620.2 392.0L620.7 394.1L621.2 396.7L621.7 399.4L622.2 402.1L622.7 404.8L623.2 407.6L623.7 410.4L624.2 413.3L624.7 416.1L625.2 418.9L625.7 421.6L626.2 424.5L626.7 427.3L627.2 430.0L627.7 432.4L628.2 434.5L628.7 436.3L629.2 438.1L629.7 439.7L630.2 441.1L630.7 442.3L631.2 443.3L631.7 443.8L632.2 444.1L632.7 444.5L633.2 444.8L633.7 445.1L634.2 445.4L634.7 445.6L635.2 445.9L635.7 446.1L636.2 446.3L636.7 446.5L637.2 446.6L637.7 446.7L638.2 446.9L638.7 447.0L639.2 447.1L639.7 447.2L640.2 447.4L640.7 447.5L641.2 447.6L641.7 447.7L642.2 447.8L642.7 447.8L643.2 447.9L643.7 447.9L644.2 448.0L644.7 448.0L645.2 448.1L645.7 448.1L646.2 448.1L646.7 448.2L647.2 448.2L647.7 448.2L648.2 448.3L648.7 448.3L649.2 448.3L649.7 448.4L650.2 448.4L650.7 448.4L651.2 448.4L651.7 448.4L652.2 448.4L652.7 448.4L653.1 448.4" fill="none" stroke="#800000" stroke-width="1.70" stroke-linejoin="round" stroke-linecap="round"/>
<text x="0" y="0" font-size="11.60" text-anchor="start" font-weight="normal" fill="#151515" transform="translate(656.50,450.70) scale(0.925,1)" >W-8h</text>
<text x="0" y="0" font-size="11.60" text-anchor="start" font-weight="normal" fill="#151515" transform="translate(656.50,463.60) scale(0.925,1)" >W-6h</text>
<text x="0" y="0" font-size="11.60" text-anchor="start" font-weight="normal" fill="#151515" transform="translate(656.50,477.10) scale(0.925,1)" >W-4h</text>
<text x="0" y="0" font-size="11.60" text-anchor="start" font-weight="normal" fill="#151515" transform="translate(656.50,488.00) scale(0.925,1)" >B-4h</text>
<line x1="223.6" y1="10.9" x2="227.6" y2="507.7" stroke="#ff0000" stroke-width="2.4" stroke-dasharray="8.3 6.2"/>
<line x1="575.5" y1="9.7" x2="579.6" y2="506.2" stroke="#ff0000" stroke-width="2.4" stroke-dasharray="8.2 6.3"/>
<line x1="129.80" y1="563.00" x2="129.80" y2="588.30" stroke="#6a6a6a" stroke-width="1.00"/>
<line x1="125.00" y1="588.30" x2="132.60" y2="588.30" stroke="#6a6a6a" stroke-width="1.00"/>
<line x1="129.80" y1="600.30" x2="129.80" y2="625.30" stroke="#6a6a6a" stroke-width="1.00"/>
<line x1="125.00" y1="600.30" x2="132.60" y2="600.30" stroke="#6a6a6a" stroke-width="1.00"/>
<line x1="125.00" y1="625.30" x2="132.60" y2="625.30" stroke="#6a6a6a" stroke-width="1.00"/>
<line x1="129.80" y1="636.50" x2="129.80" y2="754.30" stroke="#6a6a6a" stroke-width="1.00"/>
<line x1="125.00" y1="566.00" x2="129.80" y2="566.00" stroke="#6a6a6a" stroke-width="1.00"/>
<line x1="125.00" y1="582.30" x2="129.80" y2="582.30" stroke="#6a6a6a" stroke-width="1.00"/>
<line x1="125.00" y1="612.40" x2="129.80" y2="612.40" stroke="#6a6a6a" stroke-width="1.00"/>
<line x1="125.00" y1="636.50" x2="129.80" y2="636.50" stroke="#6a6a6a" stroke-width="1.00"/>
<line x1="125.00" y1="695.40" x2="129.80" y2="695.40" stroke="#6a6a6a" stroke-width="1.00"/>
<line x1="125.00" y1="754.30" x2="597.20" y2="754.30" stroke="#6a6a6a" stroke-width="1.00"/>
<text x="120.30" y="568.90" font-size="8.80" text-anchor="end" font-weight="normal" fill="#222" textLength="15.0" lengthAdjust="spacingAndGlyphs">35.0</text>
<text x="120.30" y="584.90" font-size="8.80" text-anchor="end" font-weight="normal" fill="#222" textLength="15.0" lengthAdjust="spacingAndGlyphs">30.0</text>
<text x="120.30" y="614.90" font-size="8.80" text-anchor="end" font-weight="normal" fill="#222" textLength="11.2" lengthAdjust="spacingAndGlyphs">3.0</text>
<text x="120.30" y="639.20" font-size="8.80" text-anchor="end" font-weight="normal" fill="#222" textLength="11.2" lengthAdjust="spacingAndGlyphs">1.0</text>
<text x="120.30" y="698.30" font-size="8.80" text-anchor="end" font-weight="normal" fill="#222" textLength="11.2" lengthAdjust="spacingAndGlyphs">0.5</text>
<text x="120.30" y="757.00" font-size="8.80" text-anchor="end" font-weight="normal" fill="#222" textLength="11.2" lengthAdjust="spacingAndGlyphs">0.0</text>
<text x="0" y="0" font-size="10.3" font-weight="bold" transform="translate(95.6,759.0) rotate(-90)" textLength="196.5" lengthAdjust="spacingAndGlyphs">Holistic polysaccharide markers content (%)</text>
<text x="42.60" y="667.30" font-size="16.50" text-anchor="start" font-weight="bold" >e</text>
<rect x="132.00" y="636.70" width="12.90" height="117.60" fill="#000"/>
<path clip-path="url(#c1)" d="M134.60 634.88l2.25 2.25l-2.25 2.25l-2.25 -2.25zM142.20 634.88l2.25 2.25l-2.25 2.25l-2.25 -2.25zM130.80 638.75l2.25 2.25l-2.25 2.25l-2.25 -2.25zM138.40 638.75l2.25 2.25l-2.25 2.25l-2.25 -2.25zM146.00 638.75l2.25 2.25l-2.25 2.25l-2.25 -2.25zM134.60 642.62l2.25 2.25l-2.25 2.25l-2.25 -2.25zM142.20 642.62l2.25 2.25l-2.25 2.25l-2.25 -2.25zM130.80 646.50l2.25 2.25l-2.25 2.25l-2.25 -2.25zM138.40 646.50l2.25 2.25l-2.25 2.25l-2.25 -2.25zM146.00 646.50l2.25 2.25l-2.25 2.25l-2.25 -2.25zM134.60 650.38l2.25 2.25l-2.25 2.25l-2.25 -2.25zM142.20 650.38l2.25 2.25l-2.25 2.25l-2.25 -2.25zM130.80 654.25l2.25 2.25l-2.25 2.25l-2.25 -2.25zM138.40 654.25l2.25 2.25l-2.25 2.25l-2.25 -2.25zM146.00 654.25l2.25 2.25l-2.25 2.25l-2.25 -2.25zM134.60 658.12l2.25 2.25l-2.25 2.25l-2.25 -2.25zM142.20 658.12l2.25 2.25l-2.25 2.25l-2.25 -2.25zM130.80 662.00l2.25 2.25l-2.25 2.25l-2.25 -2.25zM138.40 662.00l2.25 2.25l-2.25 2.25l-2.25 -2.25zM146.00 662.00l2.25 2.25l-2.25 2.25l-2.25 -2.25zM134.60 665.88l2.25 2.25l-2.25 2.25l-2.25 -2.25zM142.20 665.88l2.25 2.25l-2.25 2.25l-2.25 -2.25zM130.80 669.75l2.25 2.25l-2.25 2.25l-2.25 -2.25zM138.40 669.75l2.25 2.25l-2.25 2.25l-2.25 -2.25zM146.00 669.75l2.25 2.25l-2.25 2.25l-2.25 -2.25zM134.60 673.62l2.25 2.25l-2.25 2.25l-2.25 -2.25zM142.20 673.62l2.25 2.25l-2.25 2.25l-2.25 -2.25zM130.80 677.50l2.25 2.25l-2.25 2.25l-2.25 -2.25zM138.40 677.50l2.25 2.25l-2.25 2.25l-2.25 -2.25zM146.00 677.50l2.25 2.25l-2.25 2.25l-2.25 -2.25zM134.60 681.38l2.25 2.25l-2.25 2.25l-2.25 -2.25zM142.20 681.38l2.25 2.25l-2.25 2.25l-2.25 -2.25zM130.80 685.25l2.25 2.25l-2.25 2.25l-2.25 -2.25zM138.40 685.25l2.25 2.25l-2.25 2.25l-2.25 -2.25zM146.00 685.25l2.25 2.25l-2.25 2.25l-2.25 -2.25zM134.60 689.12l2.25 2.25l-2.25 2.25l-2.25 -2.25zM142.20 689.12l2.25 2.25l-2.25 2.25l-2.25 -2.25zM130.80 693.00l2.25 2.25l-2.25 2.25l-2.25 -2.25zM138.40 693.00l2.25 2.25l-2.25 2.25l-2.25 -2.25zM146.00 693.00l2.25 2.25l-2.25 2.25l-2.25 -2.25zM134.60 696.88l2.25 2.25l-2.25 2.25l-2.25 -2.25zM142.20 696.88l2.25 2.25l-2.25 2.25l-2.25 -2.25zM130.80 700.75l2.25 2.25l-2.25 2.25l-2.25 -2.25zM138.40 700.75l2.25 2.25l-2.25 2.25l-2.25 -2.25zM146.00 700.75l2.25 2.25l-2.25 2.25l-2.25 -2.25zM134.60 704.62l2.25 2.25l-2.25 2.25l-2.25 -2.25zM142.20 704.62l2.25 2.25l-2.25 2.25l-2.25 -2.25zM130.80 708.50l2.25 2.25l-2.25 2.25l-2.25 -2.25zM138.40 708.50l2.25 2.25l-2.25 2.25l-2.25 -2.25zM146.00 708.50l2.25 2.25l-2.25 2.25l-2.25 -2.25zM134.60 712.38l2.25 2.25l-2.25 2.25l-2.25 -2.25zM142.20 712.38l2.25 2.25l-2.25 2.25l-2.25 -2.25zM130.80 716.25l2.25 2.25l-2.25 2.25l-2.25 -2.25zM138.40 716.25l2.25 2.25l-2.25 2.25l-2.25 -2.25zM146.00 716.25l2.25 2.25l-2.25 2.25l-2.25 -2.25zM134.60 720.12l2.25 2.25l-2.25 2.25l-2.25 -2.25zM142.20 720.12l2.25 2.25l-2.25 2.25l-2.25 -2.25zM130.80 724.00l2.25 2.25l-2.25 2.25l-2.25 -2.25zM138.40 724.00l2.25 2.25l-2.25 2.25l-2.25 -2.25zM146.00 724.00l2.25 2.25l-2.25 2.25l-2.25 -2.25zM134.60 727.88l2.25 2.25l-2.25 2.25l-2.25 -2.25zM142.20 727.88l2.25 2.25l-2.25 2.25l-2.25 -2.25zM130.80 731.75l2.25 2.25l-2.25 2.25l-2.25 -2.25zM138.40 731.75l2.25 2.25l-2.25 2.25l-2.25 -2.25zM146.00 731.75l2.25 2.25l-2.25 2.25l-2.25 -2.25zM134.60 735.62l2.25 2.25l-2.25 2.25l-2.25 -2.25zM142.20 735.62l2.25 2.25l-2.25 2.25l-2.25 -2.25zM130.80 739.50l2.25 2.25l-2.25 2.25l-2.25 -2.25zM138.40 739.50l2.25 2.25l-2.25 2.25l-2.25 -2.25zM146.00 739.50l2.25 2.25l-2.25 2.25l-2.25 -2.25zM134.60 743.38l2.25 2.25l-2.25 2.25l-2.25 -2.25zM142.20 743.38l2.25 2.25l-2.25 2.25l-2.25 -2.25zM130.80 747.25l2.25 2.25l-2.25 2.25l-2.25 -2.25zM138.40 747.25l2.25 2.25l-2.25 2.25l-2.25 -2.25zM146.00 747.25l2.25 2.25l-2.25 2.25l-2.25 -2.25zM134.60 751.12l2.25 2.25l-2.25 2.25l-2.25 -2.25zM142.20 751.12l2.25 2.25l-2.25 2.25l-2.25 -2.25z" fill="#fff"/>
<rect x="132.00" y="636.70" width="12.90" height="117.60" fill="none" stroke="#aaa" stroke-width="0.5"/>
<rect x="132.00" y="612.20" width="12.90" height="13.10" fill="#000"/>
<path clip-path="url(#c2)" d="M130.80 607.75l2.25 2.25l-2.25 2.25l-2.25 -2.25zM138.40 607.75l2.25 2.25l-2.25 2.25l-2.25 -2.25zM146.00 607.75l2.25 2.25l-2.25 2.25l-2.25 -2.25zM134.60 611.62l2.25 2.25l-2.25 2.25l-2.25 -2.25zM142.20 611.62l2.25 2.25l-2.25 2.25l-2.25 -2.25zM130.80 615.50l2.25 2.25l-2.25 2.25l-2.25 -2.25zM138.40 615.50l2.25 2.25l-2.25 2.25l-2.25 -2.25zM146.00 615.50l2.25 2.25l-2.25 2.25l-2.25 -2.25zM134.60 619.38l2.25 2.25l-2.25 2.25l-2.25 -2.25zM142.20 619.38l2.25 2.25l-2.25 2.25l-2.25 -2.25zM130.80 623.25l2.25 2.25l-2.25 2.25l-2.25 -2.25zM138.40 623.25l2.25 2.25l-2.25 2.25l-2.25 -2.25zM146.00 623.25l2.25 2.25l-2.25 2.25l-2.25 -2.25z" fill="#fff"/>
<rect x="132.00" y="612.20" width="12.90" height="13.10" fill="none" stroke="#aaa" stroke-width="0.5"/>
<line x1="138.45" y1="612.20" x2="138.45" y2="607.30" stroke="#777" stroke-width="1.00"/>
<line x1="135.35" y1="607.30" x2="141.55" y2="607.30" stroke="#777" stroke-width="1.00"/>
<rect x="169.26" y="748.90" width="12.90" height="5.40" fill="#fff"/>
<path clip-path="url(#c3)" d="M169.66 749.76l1.2 0.8l1.2 -0.8v0.8l-1.2 0.85l-1.2 -0.85zM169.66 752.80l1.2 0.8l1.2 -0.8v0.8l-1.2 0.85l-1.2 -0.85zM172.76 748.24l1.2 0.8l1.2 -0.8v0.8l-1.2 0.85l-1.2 -0.85zM172.76 751.28l1.2 0.8l1.2 -0.8v0.8l-1.2 0.85l-1.2 -0.85zM172.76 754.32l1.2 0.8l1.2 -0.8v0.8l-1.2 0.85l-1.2 -0.85zM175.86 749.76l1.2 0.8l1.2 -0.8v0.8l-1.2 0.85l-1.2 -0.85zM175.86 752.80l1.2 0.8l1.2 -0.8v0.8l-1.2 0.85l-1.2 -0.85zM178.96 748.24l1.2 0.8l1.2 -0.8v0.8l-1.2 0.85l-1.2 -0.85zM178.96 751.28l1.2 0.8l1.2 -0.8v0.8l-1.2 0.85l-1.2 -0.85zM178.96 754.32l1.2 0.8l1.2 -0.8v0.8l-1.2 0.85l-1.2 -0.85zM182.06 749.76l1.2 0.8l1.2 -0.8v0.8l-1.2 0.85l-1.2 -0.85zM182.06 752.80l1.2 0.8l1.2 -0.8v0.8l-1.2 0.85l-1.2 -0.85z" fill="#333"/>
<rect x="169.26" y="748.90" width="12.90" height="5.40" fill="none" stroke="#888" stroke-width="0.7"/>
<line x1="175.71" y1="748.90" x2="175.71" y2="745.40" stroke="#777" stroke-width="1.00"/>
<line x1="172.61" y1="745.40" x2="178.81" y2="745.40" stroke="#777" stroke-width="1.00"/>
<rect x="187.89" y="750.10" width="12.90" height="4.20" fill="#fff"/>
<path clip-path="url(#c4)" d="M188.29 749.76l1.2 0.8l1.2 -0.8v0.8l-1.2 0.85l-1.2 -0.85zM188.29 752.80l1.2 0.8l1.2 -0.8v0.8l-1.2 0.85l-1.2 -0.85zM191.39 751.28l1.2 0.8l1.2 -0.8v0.8l-1.2 0.85l-1.2 -0.85zM191.39 754.32l1.2 0.8l1.2 -0.8v0.8l-1.2 0.85l-1.2 -0.85zM194.49 749.76l1.2 0.8l1.2 -0.8v0.8l-1.2 0.85l-1.2 -0.85zM194.49 752.80l1.2 0.8l1.2 -0.8v0.8l-1.2 0.85l-1.2 -0.85zM197.59 751.28l1.2 0.8l1.2 -0.8v0.8l-1.2 0.85l-1.2 -0.85zM197.59 754.32l1.2 0.8l1.2 -0.8v0.8l-1.2 0.85l-1.2 -0.85zM200.69 749.76l1.2 0.8l1.2 -0.8v0.8l-1.2 0.85l-1.2 -0.85zM200.69 752.80l1.2 0.8l1.2 -0.8v0.8l-1.2 0.85l-1.2 -0.85z" fill="#333"/>
<rect x="187.89" y="750.10" width="12.90" height="4.20" fill="none" stroke="#888" stroke-width="0.7"/>
<line x1="194.34" y1="750.10" x2="194.34" y2="748.20" stroke="#777" stroke-width="1.00"/>
<line x1="191.24" y1="748.20" x2="197.44" y2="748.20" stroke="#777" stroke-width="1.00"/>
<rect x="225.15" y="741.90" width="12.90" height="12.40" fill="#fff" stroke="#555" stroke-width="0.9"/>
<line x1="225.55" y1="746.50" x2="237.65" y2="746.50" stroke="#222" stroke-width="1.0"/>
<line x1="225.55" y1="751.10" x2="237.65" y2="751.10" stroke="#222" stroke-width="1.0"/>
<line x1="231.60" y1="741.90" x2="231.60" y2="736.10" stroke="#777" stroke-width="1.00"/>
<line x1="228.50" y1="736.10" x2="234.70" y2="736.10" stroke="#777" stroke-width="1.00"/>
<rect x="262.41" y="636.70" width="12.90" height="117.60" fill="#000"/>
<path clip-path="url(#c5)" d="M262.60 632.38l2.25 2.25l-2.25 2.25l-2.25 -2.25zM270.20 632.38l2.25 2.25l-2.25 2.25l-2.25 -2.25zM266.40 636.25l2.25 2.25l-2.25 2.25l-2.25 -2.25zM274.00 636.25l2.25 2.25l-2.25 2.25l-2.25 -2.25zM262.60 640.12l2.25 2.25l-2.25 2.25l-2.25 -2.25zM270.20 640.12l2.25 2.25l-2.25 2.25l-2.25 -2.25zM266.40 644.00l2.25 2.25l-2.25 2.25l-2.25 -2.25zM274.00 644.00l2.25 2.25l-2.25 2.25l-2.25 -2.25zM262.60 647.88l2.25 2.25l-2.25 2.25l-2.25 -2.25zM270.20 647.88l2.25 2.25l-2.25 2.25l-2.25 -2.25zM266.40 651.75l2.25 2.25l-2.25 2.25l-2.25 -2.25zM274.00 651.75l2.25 2.25l-2.25 2.25l-2.25 -2.25zM262.60 655.62l2.25 2.25l-2.25 2.25l-2.25 -2.25zM270.20 655.62l2.25 2.25l-2.25 2.25l-2.25 -2.25zM266.40 659.50l2.25 2.25l-2.25 2.25l-2.25 -2.25zM274.00 659.50l2.25 2.25l-2.25 2.25l-2.25 -2.25zM262.60 663.38l2.25 2.25l-2.25 2.25l-2.25 -2.25zM270.20 663.38l2.25 2.25l-2.25 2.25l-2.25 -2.25zM266.40 667.25l2.25 2.25l-2.25 2.25l-2.25 -2.25zM274.00 667.25l2.25 2.25l-2.25 2.25l-2.25 -2.25zM262.60 671.12l2.25 2.25l-2.25 2.25l-2.25 -2.25zM270.20 671.12l2.25 2.25l-2.25 2.25l-2.25 -2.25zM266.40 675.00l2.25 2.25l-2.25 2.25l-2.25 -2.25zM274.00 675.00l2.25 2.25l-2.25 2.25l-2.25 -2.25zM262.60 678.88l2.25 2.25l-2.25 2.25l-2.25 -2.25zM270.20 678.88l2.25 2.25l-2.25 2.25l-2.25 -2.25zM266.40 682.75l2.25 2.25l-2.25 2.25l-2.25 -2.25zM274.00 682.75l2.25 2.25l-2.25 2.25l-2.25 -2.25zM262.60 686.62l2.25 2.25l-2.25 2.25l-2.25 -2.25zM270.20 686.62l2.25 2.25l-2.25 2.25l-2.25 -2.25zM266.40 690.50l2.25 2.25l-2.25 2.25l-2.25 -2.25zM274.00 690.50l2.25 2.25l-2.25 2.25l-2.25 -2.25zM262.60 694.38l2.25 2.25l-2.25 2.25l-2.25 -2.25zM270.20 694.38l2.25 2.25l-2.25 2.25l-2.25 -2.25zM266.40 698.25l2.25 2.25l-2.25 2.25l-2.25 -2.25zM274.00 698.25l2.25 2.25l-2.25 2.25l-2.25 -2.25zM262.60 702.12l2.25 2.25l-2.25 2.25l-2.25 -2.25zM270.20 702.12l2.25 2.25l-2.25 2.25l-2.25 -2.25zM266.40 706.00l2.25 2.25l-2.25 2.25l-2.25 -2.25zM274.00 706.00l2.25 2.25l-2.25 2.25l-2.25 -2.25zM262.60 709.88l2.25 2.25l-2.25 2.25l-2.25 -2.25zM270.20 709.88l2.25 2.25l-2.25 2.25l-2.25 -2.25zM266.40 713.75l2.25 2.25l-2.25 2.25l-2.25 -2.25zM274.00 713.75l2.25 2.25l-2.25 2.25l-2.25 -2.25zM262.60 717.62l2.25 2.25l-2.25 2.25l-2.25 -2.25zM270.20 717.62l2.25 2.25l-2.25 2.25l-2.25 -2.25zM266.40 721.50l2.25 2.25l-2.25 2.25l-2.25 -2.25zM274.00 721.50l2.25 2.25l-2.25 2.25l-2.25 -2.25zM262.60 725.38l2.25 2.25l-2.25 2.25l-2.25 -2.25zM270.20 725.38l2.25 2.25l-2.25 2.25l-2.25 -2.25zM266.40 729.25l2.25 2.25l-2.25 2.25l-2.25 -2.25zM274.00 729.25l2.25 2.25l-2.25 2.25l-2.25 -2.25zM262.60 733.12l2.25 2.25l-2.25 2.25l-2.25 -2.25zM270.20 733.12l2.25 2.25l-2.25 2.25l-2.25 -2.25zM266.40 737.00l2.25 2.25l-2.25 2.25l-2.25 -2.25zM274.00 737.00l2.25 2.25l-2.25 2.25l-2.25 -2.25zM262.60 740.88l2.25 2.25l-2.25 2.25l-2.25 -2.25zM270.20 740.88l2.25 2.25l-2.25 2.25l-2.25 -2.25zM266.40 744.75l2.25 2.25l-2.25 2.25l-2.25 -2.25zM274.00 744.75l2.25 2.25l-2.25 2.25l-2.25 -2.25zM262.60 748.62l2.25 2.25l-2.25 2.25l-2.25 -2.25zM270.20 748.62l2.25 2.25l-2.25 2.25l-2.25 -2.25zM266.40 752.50l2.25 2.25l-2.25 2.25l-2.25 -2.25zM274.00 752.50l2.25 2.25l-2.25 2.25l-2.25 -2.25z" fill="#fff"/>
<rect x="262.41" y="636.70" width="12.90" height="117.60" fill="none" stroke="#aaa" stroke-width="0.5"/>
<rect x="262.41" y="622.40" width="12.90" height="2.90" fill="#000"/>
<path clip-path="url(#c6)" d="M266.40 620.75l2.25 2.25l-2.25 2.25l-2.25 -2.25zM274.00 620.75l2.25 2.25l-2.25 2.25l-2.25 -2.25zM262.60 624.62l2.25 2.25l-2.25 2.25l-2.25 -2.25zM270.20 624.62l2.25 2.25l-2.25 2.25l-2.25 -2.25z" fill="#fff"/>
<rect x="262.41" y="622.40" width="12.90" height="2.90" fill="none" stroke="#aaa" stroke-width="0.5"/>
<line x1="268.86" y1="622.40" x2="268.86" y2="621.70" stroke="#777" stroke-width="1.00"/>
<line x1="265.76" y1="621.70" x2="271.96" y2="621.70" stroke="#777" stroke-width="1.00"/>
<rect x="281.04" y="683.20" width="12.90" height="71.10" fill="#fff"/>
<path clip-path="url(#c7)" d="M281.44 682.88l1.2 0.8l1.2 -0.8v0.8l-1.2 0.85l-1.2 -0.85zM281.44 685.92l1.2 0.8l1.2 -0.8v0.8l-1.2 0.85l-1.2 -0.85zM281.44 688.96l1.2 0.8l1.2 -0.8v0.8l-1.2 0.85l-1.2 -0.85zM281.44 692.00l1.2 0.8l1.2 -0.8v0.8l-1.2 0.85l-1.2 -0.85zM281.44 695.04l1.2 0.8l1.2 -0.8v0.8l-1.2 0.85l-1.2 -0.85zM281.44 698.08l1.2 0.8l1.2 -0.8v0.8l-1.2 0.85l-1.2 -0.85zM281.44 701.12l1.2 0.8l1.2 -0.8v0.8l-1.2 0.85l-1.2 -0.85zM281.44 704.16l1.2 0.8l1.2 -0.8v0.8l-1.2 0.85l-1.2 -0.85zM281.44 707.20l1.2 0.8l1.2 -0.8v0.8l-1.2 0.85l-1.2 -0.85zM281.44 710.24l1.2 0.8l1.2 -0.8v0.8l-1.2 0.85l-1.2 -0.85zM281.44 713.28l1.2 0.8l1.2 -0.8v0.8l-1.2 0.85l-1.2 -0.85zM281.44 716.32l1.2 0.8l1.2 -0.8v0.8l-1.2 0.85l-1.2 -0.85zM281.44 719.36l1.2 0.8l1.2 -0.8v0.8l-1.2 0.85l-1.2 -0.85zM281.44 722.40l1.2 0.8l1.2 -0.8v0.8l-1.2 0.85l-1.2 -0.85zM281.44 725.44l1.2 0.8l1.2 -0.8v0.8l-1.2 0.85l-1.2 -0.85zM281.44 728.48l1.2 0.8l1.2 -0.8v0.8l-1.2 0.85l-1.2 -0.85zM281.44 731.52l1.2 0.8l1.2 -0.8v0.8l-1.2 0.85l-1.2 -0.85zM281.44 734.56l1.2 0.8l1.2 -0.8v0.8l-1.2 0.85l-1.2 -0.85zM281.44 737.60l1.2 0.8l1.2 -0.8v0.8l-1.2 0.85l-1.2 -0.85zM281.44 740.64l1.2 0.8l1.2 -0.8v0.8l-1.2 0.85l-1.2 -0.85zM281.44 743.68l1.2 0.8l1.2 -0.8v0.8l-1.2 0.85l-1.2 -0.85zM281.44 746.72l1.2 0.8l1.2 -0.8v0.8l-1.2 0.85l-1.2 -0.85zM281.44 749.76l1.2 0.8l1.2 -0.8v0.8l-1.2 0.85l-1.2 -0.85zM281.44 752.80l1.2 0.8l1.2 -0.8v0.8l-1.2 0.85l-1.2 -0.85zM284.54 684.40l1.2 0.8l1.2 -0.8v0.8l-1.2 0.85l-1.2 -0.85zM284.54 687.44l1.2 0.8l1.2 -0.8v0.8l-1.2 0.85l-1.2 -0.85zM284.54 690.48l1.2 0.8l1.2 -0.8v0.8l-1.2 0.85l-1.2 -0.85zM284.54 693.52l1.2 0.8l1.2 -0.8v0.8l-1.2 0.85l-1.2 -0.85zM284.54 696.56l1.2 0.8l1.2 -0.8v0.8l-1.2 0.85l-1.2 -0.85zM284.54 699.60l1.2 0.8l1.2 -0.8v0.8l-1.2 0.85l-1.2 -0.85zM284.54 702.64l1.2 0.8l1.2 -0.8v0.8l-1.2 0.85l-1.2 -0.85zM284.54 705.68l1.2 0.8l1.2 -0.8v0.8l-1.2 0.85l-1.2 -0.85zM284.54 708.72l1.2 0.8l1.2 -0.8v0.8l-1.2 0.85l-1.2 -0.85zM284.54 711.76l1.2 0.8l1.2 -0.8v0.8l-1.2 0.85l-1.2 -0.85zM284.54 714.80l1.2 0.8l1.2 -0.8v0.8l-1.2 0.85l-1.2 -0.85zM284.54 717.84l1.2 0.8l1.2 -0.8v0.8l-1.2 0.85l-1.2 -0.85zM284.54 720.88l1.2 0.8l1.2 -0.8v0.8l-1.2 0.85l-1.2 -0.85zM284.54 723.92l1.2 0.8l1.2 -0.8v0.8l-1.2 0.85l-1.2 -0.85zM284.54 726.96l1.2 0.8l1.2 -0.8v0.8l-1.2 0.85l-1.2 -0.85zM284.54 730.00l1.2 0.8l1.2 -0.8v0.8l-1.2 0.85l-1.2 -0.85zM284.54 733.04l1.2 0.8l1.2 -0.8v0.8l-1.2 0.85l-1.2 -0.85zM284.54 736.08l1.2 0.8l1.2 -0.8v0.8l-1.2 0.85l-1.2 -0.85zM284.54 739.12l1.2 0.8l1.2 -0.8v0.8l-1.2 0.85l-1.2 -0.85zM284.54 742.16l1.2 0.8l1.2 -0.8v0.8l-1.2 0.85l-1.2 -0.85zM284.54 745.20l1.2 0.8l1.2 -0.8v0.8l-1.2 0.85l-1.2 -0.85zM284.54 748.24l1.2 0.8l1.2 -0.8v0.8l-1.2 0.85l-1.2 -0.85zM284.54 751.28l1.2 0.8l1.2 -0.8v0.8l-1.2 0.85l-1.2 -0.85zM284.54 754.32l1.2 0.8l1.2 -0.8v0.8l-1.2 0.85l-1.2 -0.85zM287.64 682.88l1.2 0.8l1.2 -0.8v0.8l-1.2 0.85l-1.2 -0.85zM287.64 685.92l1.2 0.8l1.2 -0.8v0.8l-1.2 0.85l-1.2 -0.85zM287.64 688.96l1.2 0.8l1.2 -0.8v0.8l-1.2 0.85l-1.2 -0.85zM287.64 692.00l1.2 0.8l1.2 -0.8v0.8l-1.2 0.85l-1.2 -0.85zM287.64 695.04l1.2 0.8l1.2 -0.8v0.8l-1.2 0.85l-1.2 -0.85zM287.64 698.08l1.2 0.8l1.2 -0.8v0.8l-1.2 0.85l-1.2 -0.85zM287.64 701.12l1.2 0.8l1.2 -0.8v0.8l-1.2 0.85l-1.2 -0.85zM287.64 704.16l1.2 0.8l1.2 -0.8v0.8l-1.2 0.85l-1.2 -0.85zM287.64 707.20l1.2 0.8l1.2 -0.8v0.8l-1.2 0.85l-1.2 -0.85zM287.64 710.24l1.2 0.8l1.2 -0.8v0.8l-1.2 0.85l-1.2 -0.85zM287.64 713.28l1.2 0.8l1.2 -0.8v0.8l-1.2 0.85l-1.2 -0.85zM287.64 716.32l1.2 0.8l1.2 -0.8v0.8l-1.2 0.85l-1.2 -0.85zM287.64 719.36l1.2 0.8l1.2 -0.8v0.8l-1.2 0.85l-1.2 -0.85zM287.64 722.40l1.2 0.8l1.2 -0.8v0.8l-1.2 0.85l-1.2 -0.85zM287.64 725.44l1.2 0.8l1.2 -0.8v0.8l-1.2 0.85l-1.2 -0.85zM287.64 728.48l1.2 0.8l1.2 -0.8v0.8l-1.2 0.85l-1.2 -0.85zM287.64 731.52l1.2 0.8l1.2 -0.8v0.8l-1.2 0.85l-1.2 -0.85zM287.64 734.56l1.2 0.8l1.2 -0.8v0.8l-1.2 0.85l-1.2 -0.85zM287.64 737.60l1.2 0.8l1.2 -0.8v0.8l-1.2 0.85l-1.2 -0.85zM287.64 740.64l1.2 0.8l1.2 -0.8v0.8l-1.2 0.85l-1.2 -0.85zM287.64 743.68l1.2 0.8l1.2 -0.8v0.8l-1.2 0.85l-1.2 -0.85zM287.64 746.72l1.2 0.8l1.2 -0.8v0.8l-1.2 0.85l-1.2 -0.85zM287.64 749.76l1.2 0.8l1.2 -0.8v0.8l-1.2 0.85l-1.2 -0.85zM287.64 752.80l1.2 0.8l1.2 -0.8v0.8l-1.2 0.85l-1.2 -0.85zM290.74 684.40l1.2 0.8l1.2 -0.8v0.8l-1.2 0.85l-1.2 -0.85zM290.74 687.44l1.2 0.8l1.2 -0.8v0.8l-1.2 0.85l-1.2 -0.85zM290.74 690.48l1.2 0.8l1.2 -0.8v0.8l-1.2 0.85l-1.2 -0.85zM290.74 693.52l1.2 0.8l1.2 -0.8v0.8l-1.2 0.85l-1.2 -0.85zM290.74 696.56l1.2 0.8l1.2 -0.8v0.8l-1.2 0.85l-1.2 -0.85zM290.74 699.60l1.2 0.8l1.2 -0.8v0.8l-1.2 0.85l-1.2 -0.85zM290.74 702.64l1.2 0.8l1.2 -0.8v0.8l-1.2 0.85l-1.2 -0.85zM290.74 705.68l1.2 0.8l1.2 -0.8v0.8l-1.2 0.85l-1.2 -0.85zM290.74 708.72l1.2 0.8l1.2 -0.8v0.8l-1.2 0.85l-1.2 -0.85zM290.74 711.76l1.2 0.8l1.2 -0.8v0.8l-1.2 0.85l-1.2 -0.85zM290.74 714.80l1.2 0.8l1.2 -0.8v0.8l-1.2 0.85l-1.2 -0.85zM290.74 717.84l1.2 0.8l1.2 -0.8v0.8l-1.2 0.85l-1.2 -0.85zM290.74 720.88l1.2 0.8l1.2 -0.8v0.8l-1.2 0.85l-1.2 -0.85zM290.74 723.92l1.2 0.8l1.2 -0.8v0.8l-1.2 0.85l-1.2 -0.85zM290.74 726.96l1.2 0.8l1.2 -0.8v0.8l-1.2 0.85l-1.2 -0.85zM290.74 730.00l1.2 0.8l1.2 -0.8v0.8l-1.2 0.85l-1.2 -0.85zM290.74 733.04l1.2 0.8l1.2 -0.8v0.8l-1.2 0.85l-1.2 -0.85zM290.74 736.08l1.2 0.8l1.2 -0.8v0.8l-1.2 0.85l-1.2 -0.85zM290.74 739.12l1.2 0.8l1.2 -0.8v0.8l-1.2 0.85l-1.2 -0.85zM290.74 742.16l1.2 0.8l1.2 -0.8v0.8l-1.2 0.85l-1.2 -0.85zM290.74 745.20l1.2 0.8l1.2 -0.8v0.8l-1.2 0.85l-1.2 -0.85zM290.74 748.24l1.2 0.8l1.2 -0.8v0.8l-1.2 0.85l-1.2 -0.85zM290.74 751.28l1.2 0.8l1.2 -0.8v0.8l-1.2 0.85l-1.2 -0.85zM290.74 754.32l1.2 0.8l1.2 -0.8v0.8l-1.2 0.85l-1.2 -0.85zM293.84 682.88l1.2 0.8l1.2 -0.8v0.8l-1.2 0.85l-1.2 -0.85zM293.84 685.92l1.2 0.8l1.2 -0.8v0.8l-1.2 0.85l-1.2 -0.85zM293.84 688.96l1.2 0.8l1.2 -0.8v0.8l-1.2 0.85l-1.2 -0.85zM293.84 692.00l1.2 0.8l1.2 -0.8v0.8l-1.2 0.85l-1.2 -0.85zM293.84 695.04l1.2 0.8l1.2 -0.8v0.8l-1.2 0.85l-1.2 -0.85zM293.84 698.08l1.2 0.8l1.2 -0.8v0.8l-1.2 0.85l-1.2 -0.85zM293.84 701.12l1.2 0.8l1.2 -0.8v0.8l-1.2 0.85l-1.2 -0.85zM293.84 704.16l1.2 0.8l1.2 -0.8v0.8l-1.2 0.85l-1.2 -0.85zM293.84 707.20l1.2 0.8l1.2 -0.8v0.8l-1.2 0.85l-1.2 -0.85zM293.84 710.24l1.2 0.8l1.2 -0.8v0.8l-1.2 0.85l-1.2 -0.85zM293.84 713.28l1.2 0.8l1.2 -0.8v0.8l-1.2 0.85l-1.2 -0.85zM293.84 716.32l1.2 0.8l1.2 -0.8v0.8l-1.2 0.85l-1.2 -0.85zM293.84 719.36l1.2 0.8l1.2 -0.8v0.8l-1.2 0.85l-1.2 -0.85zM293.84 722.40l1.2 0.8l1.2 -0.8v0.8l-1.2 0.85l-1.2 -0.85zM293.84 725.44l1.2 0.8l1.2 -0.8v0.8l-1.2 0.85l-1.2 -0.85zM293.84 728.48l1.2 0.8l1.2 -0.8v0.8l-1.2 0.85l-1.2 -0.85zM293.84 731.52l1.2 0.8l1.2 -0.8v0.8l-1.2 0.85l-1.2 -0.85zM293.84 734.56l1.2 0.8l1.2 -0.8v0.8l-1.2 0.85l-1.2 -0.85zM293.84 737.60l1.2 0.8l1.2 -0.8v0.8l-1.2 0.85l-1.2 -0.85zM293.84 740.64l1.2 0.8l1.2 -0.8v0.8l-1.2 0.85l-1.2 -0.85zM293.84 743.68l1.2 0.8l1.2 -0.8v0.8l-1.2 0.85l-1.2 -0.85zM293.84 746.72l1.2 0.8l1.2 -0.8v0.8l-1.2 0.85l-1.2 -0.85zM293.84 749.76l1.2 0.8l1.2 -0.8v0.8l-1.2 0.85l-1.2 -0.85zM293.84 752.80l1.2 0.8l1.2 -0.8v0.8l-1.2 0.85l-1.2 -0.85z" fill="#333"/>
<rect x="281.04" y="683.20" width="12.90" height="71.10" fill="none" stroke="#888" stroke-width="0.7"/>
<line x1="287.49" y1="683.20" x2="287.49" y2="643.40" stroke="#777" stroke-width="1.00"/>
<line x1="284.39" y1="643.40" x2="290.59" y2="643.40" stroke="#777" stroke-width="1.00"/>
<rect x="299.67" y="711.10" width="12.90" height="43.20" fill="#fff"/>
<path clip-path="url(#c8)" d="M300.07 710.24l1.2 0.8l1.2 -0.8v0.8l-1.2 0.85l-1.2 -0.85zM300.07 713.28l1.2 0.8l1.2 -0.8v0.8l-1.2 0.85l-1.2 -0.85zM300.07 716.32l1.2 0.8l1.2 -0.8v0.8l-1.2 0.85l-1.2 -0.85zM300.07 719.36l1.2 0.8l1.2 -0.8v0.8l-1.2 0.85l-1.2 -0.85zM300.07 722.40l1.2 0.8l1.2 -0.8v0.8l-1.2 0.85l-1.2 -0.85zM300.07 725.44l1.2 0.8l1.2 -0.8v0.8l-1.2 0.85l-1.2 -0.85zM300.07 728.48l1.2 0.8l1.2 -0.8v0.8l-1.2 0.85l-1.2 -0.85zM300.07 731.52l1.2 0.8l1.2 -0.8v0.8l-1.2 0.85l-1.2 -0.85zM300.07 734.56l1.2 0.8l1.2 -0.8v0.8l-1.2 0.85l-1.2 -0.85zM300.07 737.60l1.2 0.8l1.2 -0.8v0.8l-1.2 0.85l-1.2 -0.85zM300.07 740.64l1.2 0.8l1.2 -0.8v0.8l-1.2 0.85l-1.2 -0.85zM300.07 743.68l1.2 0.8l1.2 -0.8v0.8l-1.2 0.85l-1.2 -0.85zM300.07 746.72l1.2 0.8l1.2 -0.8v0.8l-1.2 0.85l-1.2 -0.85zM300.07 749.76l1.2 0.8l1.2 -0.8v0.8l-1.2 0.85l-1.2 -0.85zM300.07 752.80l1.2 0.8l1.2 -0.8v0.8l-1.2 0.85l-1.2 -0.85zM303.17 711.76l1.2 0.8l1.2 -0.8v0.8l-1.2 0.85l-1.2 -0.85zM303.17 714.80l1.2 0.8l1.2 -0.8v0.8l-1.2 0.85l-1.2 -0.85zM303.17 717.84l1.2 0.8l1.2 -0.8v0.8l-1.2 0.85l-1.2 -0.85zM303.17 720.88l1.2 0.8l1.2 -0.8v0.8l-1.2 0.85l-1.2 -0.85zM303.17 723.92l1.2 0.8l1.2 -0.8v0.8l-1.2 0.85l-1.2 -0.85zM303.17 726.96l1.2 0.8l1.2 -0.8v0.8l-1.2 0.85l-1.2 -0.85zM303.17 730.00l1.2 0.8l1.2 -0.8v0.8l-1.2 0.85l-1.2 -0.85zM303.17 733.04l1.2 0.8l1.2 -0.8v0.8l-1.2 0.85l-1.2 -0.85zM303.17 736.08l1.2 0.8l1.2 -0.8v0.8l-1.2 0.85l-1.2 -0.85zM303.17 739.12l1.2 0.8l1.2 -0.8v0.8l-1.2 0.85l-1.2 -0.85zM303.17 742.16l1.2 0.8l1.2 -0.8v0.8l-1.2 0.85l-1.2 -0.85zM303.17 745.20l1.2 0.8l1.2 -0.8v0.8l-1.2 0.85l-1.2 -0.85zM303.17 748.24l1.2 0.8l1.2 -0.8v0.8l-1.2 0.85l-1.2 -0.85zM303.17 751.28l1.2 0.8l1.2 -0.8v0.8l-1.2 0.85l-1.2 -0.85zM303.17 754.32l1.2 0.8l1.2 -0.8v0.8l-1.2 0.85l-1.2 -0.85zM306.27 710.24l1.2 0.8l1.2 -0.8v0.8l-1.2 0.85l-1.2 -0.85zM306.27 713.28l1.2 0.8l1.2 -0.8v0.8l-1.2 0.85l-1.2 -0.85zM306.27 716.32l1.2 0.8l1.2 -0.8v0.8l-1.2 0.85l-1.2 -0.85zM306.27 719.36l1.2 0.8l1.2 -0.8v0.8l-1.2 0.85l-1.2 -0.85zM306.27 722.40l1.2 0.8l1.2 -0.8v0.8l-1.2 0.85l-1.2 -0.85zM306.27 725.44l1.2 0.8l1.2 -0.8v0.8l-1.2 0.85l-1.2 -0.85zM306.27 728.48l1.2 0.8l1.2 -0.8v0.8l-1.2 0.85l-1.2 -0.85zM306.27 731.52l1.2 0.8l1.2 -0.8v0.8l-1.2 0.85l-1.2 -0.85zM306.27 734.56l1.2 0.8l1.2 -0.8v0.8l-1.2 0.85l-1.2 -0.85zM306.27 737.60l1.2 0.8l1.2 -0.8v0.8l-1.2 0.85l-1.2 -0.85zM306.27 740.64l1.2 0.8l1.2 -0.8v0.8l-1.2 0.85l-1.2 -0.85zM306.27 743.68l1.2 0.8l1.2 -0.8v0.8l-1.2 0.85l-1.2 -0.85zM306.27 746.72l1.2 0.8l1.2 -0.8v0.8l-1.2 0.85l-1.2 -0.85zM306.27 749.76l1.2 0.8l1.2 -0.8v0.8l-1.2 0.85l-1.2 -0.85zM306.27 752.80l1.2 0.8l1.2 -0.8v0.8l-1.2 0.85l-1.2 -0.85zM309.37 711.76l1.2 0.8l1.2 -0.8v0.8l-1.2 0.85l-1.2 -0.85zM309.37 714.80l1.2 0.8l1.2 -0.8v0.8l-1.2 0.85l-1.2 -0.85zM309.37 717.84l1.2 0.8l1.2 -0.8v0.8l-1.2 0.85l-1.2 -0.85zM309.37 720.88l1.2 0.8l1.2 -0.8v0.8l-1.2 0.85l-1.2 -0.85zM309.37 723.92l1.2 0.8l1.2 -0.8v0.8l-1.2 0.85l-1.2 -0.85zM309.37 726.96l1.2 0.8l1.2 -0.8v0.8l-1.2 0.85l-1.2 -0.85zM309.37 730.00l1.2 0.8l1.2 -0.8v0.8l-1.2 0.85l-1.2 -0.85zM309.37 733.04l1.2 0.8l1.2 -0.8v0.8l-1.2 0.85l-1.2 -0.85zM309.37 736.08l1.2 0.8l1.2 -0.8v0.8l-1.2 0.85l-1.2 -0.85zM309.37 739.12l1.2 0.8l1.2 -0.8v0.8l-1.2 0.85l-1.2 -0.85zM309.37 742.16l1.2 0.8l1.2 -0.8v0.8l-1.2 0.85l-1.2 -0.85zM309.37 745.20l1.2 0.8l1.2 -0.8v0.8l-1.2 0.85l-1.2 -0.85zM309.37 748.24l1.2 0.8l1.2 -0.8v0.8l-1.2 0.85l-1.2 -0.85zM309.37 751.28l1.2 0.8l1.2 -0.8v0.8l-1.2 0.85l-1.2 -0.85zM309.37 754.32l1.2 0.8l1.2 -0.8v0.8l-1.2 0.85l-1.2 -0.85zM312.47 710.24l1.2 0.8l1.2 -0.8v0.8l-1.2 0.85l-1.2 -0.85zM312.47 713.28l1.2 0.8l1.2 -0.8v0.8l-1.2 0.85l-1.2 -0.85zM312.47 716.32l1.2 0.8l1.2 -0.8v0.8l-1.2 0.85l-1.2 -0.85zM312.47 719.36l1.2 0.8l1.2 -0.8v0.8l-1.2 0.85l-1.2 -0.85zM312.47 722.40l1.2 0.8l1.2 -0.8v0.8l-1.2 0.85l-1.2 -0.85zM312.47 725.44l1.2 0.8l1.2 -0.8v0.8l-1.2 0.85l-1.2 -0.85zM312.47 728.48l1.2 0.8l1.2 -0.8v0.8l-1.2 0.85l-1.2 -0.85zM312.47 731.52l1.2 0.8l1.2 -0.8v0.8l-1.2 0.85l-1.2 -0.85zM312.47 734.56l1.2 0.8l1.2 -0.8v0.8l-1.2 0.85l-1.2 -0.85zM312.47 737.60l1.2 0.8l1.2 -0.8v0.8l-1.2 0.85l-1.2 -0.85zM312.47 740.64l1.2 0.8l1.2 -0.8v0.8l-1.2 0.85l-1.2 -0.85zM312.47 743.68l1.2 0.8l1.2 -0.8v0.8l-1.2 0.85l-1.2 -0.85zM312.47 746.72l1.2 0.8l1.2 -0.8v0.8l-1.2 0.85l-1.2 -0.85zM312.47 749.76l1.2 0.8l1.2 -0.8v0.8l-1.2 0.85l-1.2 -0.85zM312.47 752.80l1.2 0.8l1.2 -0.8v0.8l-1.2 0.85l-1.2 -0.85z" fill="#333"/>
<rect x="299.67" y="711.10" width="12.90" height="43.20" fill="none" stroke="#888" stroke-width="0.7"/>
<line x1="306.12" y1="711.10" x2="306.12" y2="705.40" stroke="#777" stroke-width="1.00"/>
<line x1="303.02" y1="705.40" x2="309.22" y2="705.40" stroke="#777" stroke-width="1.00"/>
<rect x="318.30" y="714.20" width="12.90" height="40.10" fill="#fff"/>
<path clip-path="url(#c9)" d="M318.70 713.28l1.2 0.8l1.2 -0.8v0.8l-1.2 0.85l-1.2 -0.85zM318.70 716.32l1.2 0.8l1.2 -0.8v0.8l-1.2 0.85l-1.2 -0.85zM318.70 719.36l1.2 0.8l1.2 -0.8v0.8l-1.2 0.85l-1.2 -0.85zM318.70 722.40l1.2 0.8l1.2 -0.8v0.8l-1.2 0.85l-1.2 -0.85zM318.70 725.44l1.2 0.8l1.2 -0.8v0.8l-1.2 0.85l-1.2 -0.85zM318.70 728.48l1.2 0.8l1.2 -0.8v0.8l-1.2 0.85l-1.2 -0.85zM318.70 731.52l1.2 0.8l1.2 -0.8v0.8l-1.2 0.85l-1.2 -0.85zM318.70 734.56l1.2 0.8l1.2 -0.8v0.8l-1.2 0.85l-1.2 -0.85zM318.70 737.60l1.2 0.8l1.2 -0.8v0.8l-1.2 0.85l-1.2 -0.85zM318.70 740.64l1.2 0.8l1.2 -0.8v0.8l-1.2 0.85l-1.2 -0.85zM318.70 743.68l1.2 0.8l1.2 -0.8v0.8l-1.2 0.85l-1.2 -0.85zM318.70 746.72l1.2 0.8l1.2 -0.8v0.8l-1.2 0.85l-1.2 -0.85zM318.70 749.76l1.2 0.8l1.2 -0.8v0.8l-1.2 0.85l-1.2 -0.85zM318.70 752.80l1.2 0.8l1.2 -0.8v0.8l-1.2 0.85l-1.2 -0.85zM321.80 714.80l1.2 0.8l1.2 -0.8v0.8l-1.2 0.85l-1.2 -0.85zM321.80 717.84l1.2 0.8l1.2 -0.8v0.8l-1.2 0.85l-1.2 -0.85zM321.80 720.88l1.2 0.8l1.2 -0.8v0.8l-1.2 0.85l-1.2 -0.85zM321.80 723.92l1.2 0.8l1.2 -0.8v0.8l-1.2 0.85l-1.2 -0.85zM321.80 726.96l1.2 0.8l1.2 -0.8v0.8l-1.2 0.85l-1.2 -0.85zM321.80 730.00l1.2 0.8l1.2 -0.8v0.8l-1.2 0.85l-1.2 -0.85zM321.80 733.04l1.2 0.8l1.2 -0.8v0.8l-1.2 0.85l-1.2 -0.85zM321.80 736.08l1.2 0.8l1.2 -0.8v0.8l-1.2 0.85l-1.2 -0.85zM321.80 739.12l1.2 0.8l1.2 -0.8v0.8l-1.2 0.85l-1.2 -0.85zM321.80 742.16l1.2 0.8l1.2 -0.8v0.8l-1.2 0.85l-1.2 -0.85zM321.80 745.20l1.2 0.8l1.2 -0.8v0.8l-1.2 0.85l-1.2 -0.85zM321.80 748.24l1.2 0.8l1.2 -0.8v0.8l-1.2 0.85l-1.2 -0.85zM321.80 751.28l1.2 0.8l1.2 -0.8v0.8l-1.2 0.85l-1.2 -0.85zM321.80 754.32l1.2 0.8l1.2 -0.8v0.8l-1.2 0.85l-1.2 -0.85zM324.90 713.28l1.2 0.8l1.2 -0.8v0.8l-1.2 0.85l-1.2 -0.85zM324.90 716.32l1.2 0.8l1.2 -0.8v0.8l-1.2 0.85l-1.2 -0.85zM324.90 719.36l1.2 0.8l1.2 -0.8v0.8l-1.2 0.85l-1.2 -0.85zM324.90 722.40l1.2 0.8l1.2 -0.8v0.8l-1.2 0.85l-1.2 -0.85zM324.90 725.44l1.2 0.8l1.2 -0.8v0.8l-1.2 0.85l-1.2 -0.85zM324.90 728.48l1.2 0.8l1.2 -0.8v0.8l-1.2 0.85l-1.2 -0.85zM324.90 731.52l1.2 0.8l1.2 -0.8v0.8l-1.2 0.85l-1.2 -0.85zM324.90 734.56l1.2 0.8l1.2 -0.8v0.8l-1.2 0.85l-1.2 -0.85zM324.90 737.60l1.2 0.8l1.2 -0.8v0.8l-1.2 0.85l-1.2 -0.85zM324.90 740.64l1.2 0.8l1.2 -0.8v0.8l-1.2 0.85l-1.2 -0.85zM324.90 743.68l1.2 0.8l1.2 -0.8v0.8l-1.2 0.85l-1.2 -0.85zM324.90 746.72l1.2 0.8l1.2 -0.8v0.8l-1.2 0.85l-1.2 -0.85zM324.90 749.76l1.2 0.8l1.2 -0.8v0.8l-1.2 0.85l-1.2 -0.85zM324.90 752.80l1.2 0.8l1.2 -0.8v0.8l-1.2 0.85l-1.2 -0.85zM328.00 714.80l1.2 0.8l1.2 -0.8v0.8l-1.2 0.85l-1.2 -0.85zM328.00 717.84l1.2 0.8l1.2 -0.8v0.8l-1.2 0.85l-1.2 -0.85zM328.00 720.88l1.2 0.8l1.2 -0.8v0.8l-1.2 0.85l-1.2 -0.85zM328.00 723.92l1.2 0.8l1.2 -0.8v0.8l-1.2 0.85l-1.2 -0.85zM328.00 726.96l1.2 0.8l1.2 -0.8v0.8l-1.2 0.85l-1.2 -0.85zM328.00 730.00l1.2 0.8l1.2 -0.8v0.8l-1.2 0.85l-1.2 -0.85zM328.00 733.04l1.2 0.8l1.2 -0.8v0.8l-1.2 0.85l-1.2 -0.85zM328.00 736.08l1.2 0.8l1.2 -0.8v0.8l-1.2 0.85l-1.2 -0.85zM328.00 739.12l1.2 0.8l1.2 -0.8v0.8l-1.2 0.85l-1.2 -0.85zM328.00 742.16l1.2 0.8l1.2 -0.8v0.8l-1.2 0.85l-1.2 -0.85zM328.00 745.20l1.2 0.8l1.2 -0.8v0.8l-1.2 0.85l-1.2 -0.85zM328.00 748.24l1.2 0.8l1.2 -0.8v0.8l-1.2 0.85l-1.2 -0.85zM328.00 751.28l1.2 0.8l1.2 -0.8v0.8l-1.2 0.85l-1.2 -0.85zM328.00 754.32l1.2 0.8l1.2 -0.8v0.8l-1.2 0.85l-1.2 -0.85zM331.10 713.28l1.2 0.8l1.2 -0.8v0.8l-1.2 0.85l-1.2 -0.85zM331.10 716.32l1.2 0.8l1.2 -0.8v0.8l-1.2 0.85l-1.2 -0.85zM331.10 719.36l1.2 0.8l1.2 -0.8v0.8l-1.2 0.85l-1.2 -0.85zM331.10 722.40l1.2 0.8l1.2 -0.8v0.8l-1.2 0.85l-1.2 -0.85zM331.10 725.44l1.2 0.8l1.2 -0.8v0.8l-1.2 0.85l-1.2 -0.85zM331.10 728.48l1.2 0.8l1.2 -0.8v0.8l-1.2 0.85l-1.2 -0.85zM331.10 731.52l1.2 0.8l1.2 -0.8v0.8l-1.2 0.85l-1.2 -0.85zM331.10 734.56l1.2 0.8l1.2 -0.8v0.8l-1.2 0.85l-1.2 -0.85zM331.10 737.60l1.2 0.8l1.2 -0.8v0.8l-1.2 0.85l-1.2 -0.85zM331.10 740.64l1.2 0.8l1.2 -0.8v0.8l-1.2 0.85l-1.2 -0.85zM331.10 743.68l1.2 0.8l1.2 -0.8v0.8l-1.2 0.85l-1.2 -0.85zM331.10 746.72l1.2 0.8l1.2 -0.8v0.8l-1.2 0.85l-1.2 -0.85zM331.10 749.76l1.2 0.8l1.2 -0.8v0.8l-1.2 0.85l-1.2 -0.85zM331.10 752.80l1.2 0.8l1.2 -0.8v0.8l-1.2 0.85l-1.2 -0.85z" fill="#333"/>
<rect x="318.30" y="714.20" width="12.90" height="40.10" fill="none" stroke="#888" stroke-width="0.7"/>
<line x1="324.75" y1="714.20" x2="324.75" y2="705.40" stroke="#777" stroke-width="1.00"/>
<line x1="321.65" y1="705.40" x2="327.85" y2="705.40" stroke="#777" stroke-width="1.00"/>
<rect x="336.93" y="745.10" width="12.90" height="9.20" fill="#fff" stroke="#555" stroke-width="0.9"/>
<line x1="337.33" y1="749.70" x2="349.43" y2="749.70" stroke="#222" stroke-width="1.0"/>
<line x1="343.38" y1="745.10" x2="343.38" y2="740.40" stroke="#777" stroke-width="1.00"/>
<line x1="340.28" y1="740.40" x2="346.48" y2="740.40" stroke="#777" stroke-width="1.00"/>
<rect x="355.56" y="735.10" width="12.90" height="19.20" fill="#fff" stroke="#555" stroke-width="0.9"/>
<line x1="355.96" y1="739.70" x2="368.06" y2="739.70" stroke="#222" stroke-width="1.0"/>
<line x1="355.96" y1="744.30" x2="368.06" y2="744.30" stroke="#222" stroke-width="1.0"/>
<line x1="355.96" y1="748.90" x2="368.06" y2="748.90" stroke="#222" stroke-width="1.0"/>
<line x1="362.01" y1="735.10" x2="362.01" y2="723.60" stroke="#777" stroke-width="1.00"/>
<line x1="358.91" y1="723.60" x2="365.11" y2="723.60" stroke="#777" stroke-width="1.00"/>
<rect x="374.19" y="738.40" width="12.90" height="15.90" fill="#fff" stroke="#555" stroke-width="0.9"/>
<line x1="374.59" y1="743.00" x2="386.69" y2="743.00" stroke="#222" stroke-width="1.0"/>
<line x1="374.59" y1="747.60" x2="386.69" y2="747.60" stroke="#222" stroke-width="1.0"/>
<line x1="374.59" y1="752.20" x2="386.69" y2="752.20" stroke="#222" stroke-width="1.0"/>
<line x1="380.64" y1="738.40" x2="380.64" y2="733.30" stroke="#777" stroke-width="1.00"/>
<line x1="377.54" y1="733.30" x2="383.74" y2="733.30" stroke="#777" stroke-width="1.00"/>
<rect x="392.82" y="636.70" width="12.90" height="117.60" fill="#000"/>
<path clip-path="url(#c10)" d="M394.00 633.50l2.25 2.25l-2.25 2.25l-2.25 -2.25zM401.60 633.50l2.25 2.25l-2.25 2.25l-2.25 -2.25zM397.80 637.38l2.25 2.25l-2.25 2.25l-2.25 -2.25zM405.40 637.38l2.25 2.25l-2.25 2.25l-2.25 -2.25zM394.00 641.25l2.25 2.25l-2.25 2.25l-2.25 -2.25zM401.60 641.25l2.25 2.25l-2.25 2.25l-2.25 -2.25zM397.80 645.12l2.25 2.25l-2.25 2.25l-2.25 -2.25zM405.40 645.12l2.25 2.25l-2.25 2.25l-2.25 -2.25zM394.00 649.00l2.25 2.25l-2.25 2.25l-2.25 -2.25zM401.60 649.00l2.25 2.25l-2.25 2.25l-2.25 -2.25zM397.80 652.88l2.25 2.25l-2.25 2.25l-2.25 -2.25zM405.40 652.88l2.25 2.25l-2.25 2.25l-2.25 -2.25zM394.00 656.75l2.25 2.25l-2.25 2.25l-2.25 -2.25zM401.60 656.75l2.25 2.25l-2.25 2.25l-2.25 -2.25zM397.80 660.62l2.25 2.25l-2.25 2.25l-2.25 -2.25zM405.40 660.62l2.25 2.25l-2.25 2.25l-2.25 -2.25zM394.00 664.50l2.25 2.25l-2.25 2.25l-2.25 -2.25zM401.60 664.50l2.25 2.25l-2.25 2.25l-2.25 -2.25zM397.80 668.38l2.25 2.25l-2.25 2.25l-2.25 -2.25zM405.40 668.38l2.25 2.25l-2.25 2.25l-2.25 -2.25zM394.00 672.25l2.25 2.25l-2.25 2.25l-2.25 -2.25zM401.60 672.25l2.25 2.25l-2.25 2.25l-2.25 -2.25zM397.80 676.12l2.25 2.25l-2.25 2.25l-2.25 -2.25zM405.40 676.12l2.25 2.25l-2.25 2.25l-2.25 -2.25zM394.00 680.00l2.25 2.25l-2.25 2.25l-2.25 -2.25zM401.60 680.00l2.25 2.25l-2.25 2.25l-2.25 -2.25zM397.80 683.88l2.25 2.25l-2.25 2.25l-2.25 -2.25zM405.40 683.88l2.25 2.25l-2.25 2.25l-2.25 -2.25zM394.00 687.75l2.25 2.25l-2.25 2.25l-2.25 -2.25zM401.60 687.75l2.25 2.25l-2.25 2.25l-2.25 -2.25zM397.80 691.62l2.25 2.25l-2.25 2.25l-2.25 -2.25zM405.40 691.62l2.25 2.25l-2.25 2.25l-2.25 -2.25zM394.00 695.50l2.25 2.25l-2.25 2.25l-2.25 -2.25zM401.60 695.50l2.25 2.25l-2.25 2.25l-2.25 -2.25zM397.80 699.38l2.25 2.25l-2.25 2.25l-2.25 -2.25zM405.40 699.38l2.25 2.25l-2.25 2.25l-2.25 -2.25zM394.00 703.25l2.25 2.25l-2.25 2.25l-2.25 -2.25zM401.60 703.25l2.25 2.25l-2.25 2.25l-2.25 -2.25zM397.80 707.12l2.25 2.25l-2.25 2.25l-2.25 -2.25zM405.40 707.12l2.25 2.25l-2.25 2.25l-2.25 -2.25zM394.00 711.00l2.25 2.25l-2.25 2.25l-2.25 -2.25zM401.60 711.00l2.25 2.25l-2.25 2.25l-2.25 -2.25zM397.80 714.88l2.25 2.25l-2.25 2.25l-2.25 -2.25zM405.40 714.88l2.25 2.25l-2.25 2.25l-2.25 -2.25zM394.00 718.75l2.25 2.25l-2.25 2.25l-2.25 -2.25zM401.60 718.75l2.25 2.25l-2.25 2.25l-2.25 -2.25zM397.80 722.62l2.25 2.25l-2.25 2.25l-2.25 -2.25zM405.40 722.62l2.25 2.25l-2.25 2.25l-2.25 -2.25zM394.00 726.50l2.25 2.25l-2.25 2.25l-2.25 -2.25zM401.60 726.50l2.25 2.25l-2.25 2.25l-2.25 -2.25zM397.80 730.38l2.25 2.25l-2.25 2.25l-2.25 -2.25zM405.40 730.38l2.25 2.25l-2.25 2.25l-2.25 -2.25zM394.00 734.25l2.25 2.25l-2.25 2.25l-2.25 -2.25zM401.60 734.25l2.25 2.25l-2.25 2.25l-2.25 -2.25zM397.80 738.12l2.25 2.25l-2.25 2.25l-2.25 -2.25zM405.40 738.12l2.25 2.25l-2.25 2.25l-2.25 -2.25zM394.00 742.00l2.25 2.25l-2.25 2.25l-2.25 -2.25zM401.60 742.00l2.25 2.25l-2.25 2.25l-2.25 -2.25zM397.80 745.88l2.25 2.25l-2.25 2.25l-2.25 -2.25zM405.40 745.88l2.25 2.25l-2.25 2.25l-2.25 -2.25zM394.00 749.75l2.25 2.25l-2.25 2.25l-2.25 -2.25zM401.60 749.75l2.25 2.25l-2.25 2.25l-2.25 -2.25zM397.80 753.62l2.25 2.25l-2.25 2.25l-2.25 -2.25zM405.40 753.62l2.25 2.25l-2.25 2.25l-2.25 -2.25z" fill="#fff"/>
<rect x="392.82" y="636.70" width="12.90" height="117.60" fill="none" stroke="#aaa" stroke-width="0.5"/>
<rect x="392.82" y="609.10" width="12.90" height="16.20" fill="#000"/>
<path clip-path="url(#c11)" d="M397.80 606.38l2.25 2.25l-2.25 2.25l-2.25 -2.25zM405.40 606.38l2.25 2.25l-2.25 2.25l-2.25 -2.25zM394.00 610.25l2.25 2.25l-2.25 2.25l-2.25 -2.25zM401.60 610.25l2.25 2.25l-2.25 2.25l-2.25 -2.25zM397.80 614.12l2.25 2.25l-2.25 2.25l-2.25 -2.25zM405.40 614.12l2.25 2.25l-2.25 2.25l-2.25 -2.25zM394.00 618.00l2.25 2.25l-2.25 2.25l-2.25 -2.25zM401.60 618.00l2.25 2.25l-2.25 2.25l-2.25 -2.25zM397.80 621.88l2.25 2.25l-2.25 2.25l-2.25 -2.25zM405.40 621.88l2.25 2.25l-2.25 2.25l-2.25 -2.25z" fill="#fff"/>
<rect x="392.82" y="609.10" width="12.90" height="16.20" fill="none" stroke="#aaa" stroke-width="0.5"/>
<line x1="399.27" y1="609.10" x2="399.27" y2="606.30" stroke="#777" stroke-width="1.00"/>
<line x1="396.17" y1="606.30" x2="402.37" y2="606.30" stroke="#777" stroke-width="1.00"/>
<rect x="411.45" y="724.40" width="12.90" height="29.90" fill="#fff"/>
<path clip-path="url(#c12)" d="M411.85 725.44l1.2 0.8l1.2 -0.8v0.8l-1.2 0.85l-1.2 -0.85zM411.85 728.48l1.2 0.8l1.2 -0.8v0.8l-1.2 0.85l-1.2 -0.85zM411.85 731.52l1.2 0.8l1.2 -0.8v0.8l-1.2 0.85l-1.2 -0.85zM411.85 734.56l1.2 0.8l1.2 -0.8v0.8l-1.2 0.85l-1.2 -0.85zM411.85 737.60l1.2 0.8l1.2 -0.8v0.8l-1.2 0.85l-1.2 -0.85zM411.85 740.64l1.2 0.8l1.2 -0.8v0.8l-1.2 0.85l-1.2 -0.85zM411.85 743.68l1.2 0.8l1.2 -0.8v0.8l-1.2 0.85l-1.2 -0.85zM411.85 746.72l1.2 0.8l1.2 -0.8v0.8l-1.2 0.85l-1.2 -0.85zM411.85 749.76l1.2 0.8l1.2 -0.8v0.8l-1.2 0.85l-1.2 -0.85zM411.85 752.80l1.2 0.8l1.2 -0.8v0.8l-1.2 0.85l-1.2 -0.85zM414.95 723.92l1.2 0.8l1.2 -0.8v0.8l-1.2 0.85l-1.2 -0.85zM414.95 726.96l1.2 0.8l1.2 -0.8v0.8l-1.2 0.85l-1.2 -0.85zM414.95 730.00l1.2 0.8l1.2 -0.8v0.8l-1.2 0.85l-1.2 -0.85zM414.95 733.04l1.2 0.8l1.2 -0.8v0.8l-1.2 0.85l-1.2 -0.85zM414.95 736.08l1.2 0.8l1.2 -0.8v0.8l-1.2 0.85l-1.2 -0.85zM414.95 739.12l1.2 0.8l1.2 -0.8v0.8l-1.2 0.85l-1.2 -0.85zM414.95 742.16l1.2 0.8l1.2 -0.8v0.8l-1.2 0.85l-1.2 -0.85zM414.95 745.20l1.2 0.8l1.2 -0.8v0.8l-1.2 0.85l-1.2 -0.85zM414.95 748.24l1.2 0.8l1.2 -0.8v0.8l-1.2 0.85l-1.2 -0.85zM414.95 751.28l1.2 0.8l1.2 -0.8v0.8l-1.2 0.85l-1.2 -0.85zM414.95 754.32l1.2 0.8l1.2 -0.8v0.8l-1.2 0.85l-1.2 -0.85zM418.05 725.44l1.2 0.8l1.2 -0.8v0.8l-1.2 0.85l-1.2 -0.85zM418.05 728.48l1.2 0.8l1.2 -0.8v0.8l-1.2 0.85l-1.2 -0.85zM418.05 731.52l1.2 0.8l1.2 -0.8v0.8l-1.2 0.85l-1.2 -0.85zM418.05 734.56l1.2 0.8l1.2 -0.8v0.8l-1.2 0.85l-1.2 -0.85zM418.05 737.60l1.2 0.8l1.2 -0.8v0.8l-1.2 0.85l-1.2 -0.85zM418.05 740.64l1.2 0.8l1.2 -0.8v0.8l-1.2 0.85l-1.2 -0.85zM418.05 743.68l1.2 0.8l1.2 -0.8v0.8l-1.2 0.85l-1.2 -0.85zM418.05 746.72l1.2 0.8l1.2 -0.8v0.8l-1.2 0.85l-1.2 -0.85zM418.05 749.76l1.2 0.8l1.2 -0.8v0.8l-1.2 0.85l-1.2 -0.85zM418.05 752.80l1.2 0.8l1.2 -0.8v0.8l-1.2 0.85l-1.2 -0.85zM421.15 723.92l1.2 0.8l1.2 -0.8v0.8l-1.2 0.85l-1.2 -0.85zM421.15 726.96l1.2 0.8l1.2 -0.8v0.8l-1.2 0.85l-1.2 -0.85zM421.15 730.00l1.2 0.8l1.2 -0.8v0.8l-1.2 0.85l-1.2 -0.85zM421.15 733.04l1.2 0.8l1.2 -0.8v0.8l-1.2 0.85l-1.2 -0.85zM421.15 736.08l1.2 0.8l1.2 -0.8v0.8l-1.2 0.85l-1.2 -0.85zM421.15 739.12l1.2 0.8l1.2 -0.8v0.8l-1.2 0.85l-1.2 -0.85zM421.15 742.16l1.2 0.8l1.2 -0.8v0.8l-1.2 0.85l-1.2 -0.85zM421.15 745.20l1.2 0.8l1.2 -0.8v0.8l-1.2 0.85l-1.2 -0.85zM421.15 748.24l1.2 0.8l1.2 -0.8v0.8l-1.2 0.85l-1.2 -0.85zM421.15 751.28l1.2 0.8l1.2 -0.8v0.8l-1.2 0.85l-1.2 -0.85zM421.15 754.32l1.2 0.8l1.2 -0.8v0.8l-1.2 0.85l-1.2 -0.85zM424.25 725.44l1.2 0.8l1.2 -0.8v0.8l-1.2 0.85l-1.2 -0.85zM424.25 728.48l1.2 0.8l1.2 -0.8v0.8l-1.2 0.85l-1.2 -0.85zM424.25 731.52l1.2 0.8l1.2 -0.8v0.8l-1.2 0.85l-1.2 -0.85zM424.25 734.56l1.2 0.8l1.2 -0.8v0.8l-1.2 0.85l-1.2 -0.85zM424.25 737.60l1.2 0.8l1.2 -0.8v0.8l-1.2 0.85l-1.2 -0.85zM424.25 740.64l1.2 0.8l1.2 -0.8v0.8l-1.2 0.85l-1.2 -0.85zM424.25 743.68l1.2 0.8l1.2 -0.8v0.8l-1.2 0.85l-1.2 -0.85zM424.25 746.72l1.2 0.8l1.2 -0.8v0.8l-1.2 0.85l-1.2 -0.85zM424.25 749.76l1.2 0.8l1.2 -0.8v0.8l-1.2 0.85l-1.2 -0.85zM424.25 752.80l1.2 0.8l1.2 -0.8v0.8l-1.2 0.85l-1.2 -0.85z" fill="#333"/>
<rect x="411.45" y="724.40" width="12.90" height="29.90" fill="none" stroke="#888" stroke-width="0.7"/>
<line x1="417.90" y1="724.40" x2="417.90" y2="717.40" stroke="#777" stroke-width="1.00"/>
<line x1="414.80" y1="717.40" x2="421.00" y2="717.40" stroke="#777" stroke-width="1.00"/>
<rect x="430.08" y="726.50" width="12.90" height="27.80" fill="#fff"/>
<path clip-path="url(#c13)" d="M430.48 725.44l1.2 0.8l1.2 -0.8v0.8l-1.2 0.85l-1.2 -0.85zM430.48 728.48l1.2 0.8l1.2 -0.8v0.8l-1.2 0.85l-1.2 -0.85zM430.48 731.52l1.2 0.8l1.2 -0.8v0.8l-1.2 0.85l-1.2 -0.85zM430.48 734.56l1.2 0.8l1.2 -0.8v0.8l-1.2 0.85l-1.2 -0.85zM430.48 737.60l1.2 0.8l1.2 -0.8v0.8l-1.2 0.85l-1.2 -0.85zM430.48 740.64l1.2 0.8l1.2 -0.8v0.8l-1.2 0.85l-1.2 -0.85zM430.48 743.68l1.2 0.8l1.2 -0.8v0.8l-1.2 0.85l-1.2 -0.85zM430.48 746.72l1.2 0.8l1.2 -0.8v0.8l-1.2 0.85l-1.2 -0.85zM430.48 749.76l1.2 0.8l1.2 -0.8v0.8l-1.2 0.85l-1.2 -0.85zM430.48 752.80l1.2 0.8l1.2 -0.8v0.8l-1.2 0.85l-1.2 -0.85zM433.58 726.96l1.2 0.8l1.2 -0.8v0.8l-1.2 0.85l-1.2 -0.85zM433.58 730.00l1.2 0.8l1.2 -0.8v0.8l-1.2 0.85l-1.2 -0.85zM433.58 733.04l1.2 0.8l1.2 -0.8v0.8l-1.2 0.85l-1.2 -0.85zM433.58 736.08l1.2 0.8l1.2 -0.8v0.8l-1.2 0.85l-1.2 -0.85zM433.58 739.12l1.2 0.8l1.2 -0.8v0.8l-1.2 0.85l-1.2 -0.85zM433.58 742.16l1.2 0.8l1.2 -0.8v0.8l-1.2 0.85l-1.2 -0.85zM433.58 745.20l1.2 0.8l1.2 -0.8v0.8l-1.2 0.85l-1.2 -0.85zM433.58 748.24l1.2 0.8l1.2 -0.8v0.8l-1.2 0.85l-1.2 -0.85zM433.58 751.28l1.2 0.8l1.2 -0.8v0.8l-1.2 0.85l-1.2 -0.85zM433.58 754.32l1.2 0.8l1.2 -0.8v0.8l-1.2 0.85l-1.2 -0.85zM436.68 725.44l1.2 0.8l1.2 -0.8v0.8l-1.2 0.85l-1.2 -0.85zM436.68 728.48l1.2 0.8l1.2 -0.8v0.8l-1.2 0.85l-1.2 -0.85zM436.68 731.52l1.2 0.8l1.2 -0.8v0.8l-1.2 0.85l-1.2 -0.85zM436.68 734.56l1.2 0.8l1.2 -0.8v0.8l-1.2 0.85l-1.2 -0.85zM436.68 737.60l1.2 0.8l1.2 -0.8v0.8l-1.2 0.85l-1.2 -0.85zM436.68 740.64l1.2 0.8l1.2 -0.8v0.8l-1.2 0.85l-1.2 -0.85zM436.68 743.68l1.2 0.8l1.2 -0.8v0.8l-1.2 0.85l-1.2 -0.85zM436.68 746.72l1.2 0.8l1.2 -0.8v0.8l-1.2 0.85l-1.2 -0.85zM436.68 749.76l1.2 0.8l1.2 -0.8v0.8l-1.2 0.85l-1.2 -0.85zM436.68 752.80l1.2 0.8l1.2 -0.8v0.8l-1.2 0.85l-1.2 -0.85zM439.78 726.96l1.2 0.8l1.2 -0.8v0.8l-1.2 0.85l-1.2 -0.85zM439.78 730.00l1.2 0.8l1.2 -0.8v0.8l-1.2 0.85l-1.2 -0.85zM439.78 733.04l1.2 0.8l1.2 -0.8v0.8l-1.2 0.85l-1.2 -0.85zM439.78 736.08l1.2 0.8l1.2 -0.8v0.8l-1.2 0.85l-1.2 -0.85zM439.78 739.12l1.2 0.8l1.2 -0.8v0.8l-1.2 0.85l-1.2 -0.85zM439.78 742.16l1.2 0.8l1.2 -0.8v0.8l-1.2 0.85l-1.2 -0.85zM439.78 745.20l1.2 0.8l1.2 -0.8v0.8l-1.2 0.85l-1.2 -0.85zM439.78 748.24l1.2 0.8l1.2 -0.8v0.8l-1.2 0.85l-1.2 -0.85zM439.78 751.28l1.2 0.8l1.2 -0.8v0.8l-1.2 0.85l-1.2 -0.85zM439.78 754.32l1.2 0.8l1.2 -0.8v0.8l-1.2 0.85l-1.2 -0.85zM442.88 725.44l1.2 0.8l1.2 -0.8v0.8l-1.2 0.85l-1.2 -0.85zM442.88 728.48l1.2 0.8l1.2 -0.8v0.8l-1.2 0.85l-1.2 -0.85zM442.88 731.52l1.2 0.8l1.2 -0.8v0.8l-1.2 0.85l-1.2 -0.85zM442.88 734.56l1.2 0.8l1.2 -0.8v0.8l-1.2 0.85l-1.2 -0.85zM442.88 737.60l1.2 0.8l1.2 -0.8v0.8l-1.2 0.85l-1.2 -0.85zM442.88 740.64l1.2 0.8l1.2 -0.8v0.8l-1.2 0.85l-1.2 -0.85zM442.88 743.68l1.2 0.8l1.2 -0.8v0.8l-1.2 0.85l-1.2 -0.85zM442.88 746.72l1.2 0.8l1.2 -0.8v0.8l-1.2 0.85l-1.2 -0.85zM442.88 749.76l1.2 0.8l1.2 -0.8v0.8l-1.2 0.85l-1.2 -0.85zM442.88 752.80l1.2 0.8l1.2 -0.8v0.8l-1.2 0.85l-1.2 -0.85z" fill="#333"/>
<rect x="430.08" y="726.50" width="12.90" height="27.80" fill="none" stroke="#888" stroke-width="0.7"/>
<line x1="436.53" y1="726.50" x2="436.53" y2="717.40" stroke="#777" stroke-width="1.00"/>
<line x1="433.43" y1="717.40" x2="439.63" y2="717.40" stroke="#777" stroke-width="1.00"/>
<rect x="448.71" y="688.20" width="12.90" height="66.10" fill="#fff"/>
<path clip-path="url(#c14)" d="M449.11 688.96l1.2 0.8l1.2 -0.8v0.8l-1.2 0.85l-1.2 -0.85zM449.11 692.00l1.2 0.8l1.2 -0.8v0.8l-1.2 0.85l-1.2 -0.85zM449.11 695.04l1.2 0.8l1.2 -0.8v0.8l-1.2 0.85l-1.2 -0.85zM449.11 698.08l1.2 0.8l1.2 -0.8v0.8l-1.2 0.85l-1.2 -0.85zM449.11 701.12l1.2 0.8l1.2 -0.8v0.8l-1.2 0.85l-1.2 -0.85zM449.11 704.16l1.2 0.8l1.2 -0.8v0.8l-1.2 0.85l-1.2 -0.85zM449.11 707.20l1.2 0.8l1.2 -0.8v0.8l-1.2 0.85l-1.2 -0.85zM449.11 710.24l1.2 0.8l1.2 -0.8v0.8l-1.2 0.85l-1.2 -0.85zM449.11 713.28l1.2 0.8l1.2 -0.8v0.8l-1.2 0.85l-1.2 -0.85zM449.11 716.32l1.2 0.8l1.2 -0.8v0.8l-1.2 0.85l-1.2 -0.85zM449.11 719.36l1.2 0.8l1.2 -0.8v0.8l-1.2 0.85l-1.2 -0.85zM449.11 722.40l1.2 0.8l1.2 -0.8v0.8l-1.2 0.85l-1.2 -0.85zM449.11 725.44l1.2 0.8l1.2 -0.8v0.8l-1.2 0.85l-1.2 -0.85zM449.11 728.48l1.2 0.8l1.2 -0.8v0.8l-1.2 0.85l-1.2 -0.85zM449.11 731.52l1.2 0.8l1.2 -0.8v0.8l-1.2 0.85l-1.2 -0.85zM449.11 734.56l1.2 0.8l1.2 -0.8v0.8l-1.2 0.85l-1.2 -0.85zM449.11 737.60l1.2 0.8l1.2 -0.8v0.8l-1.2 0.85l-1.2 -0.85zM449.11 740.64l1.2 0.8l1.2 -0.8v0.8l-1.2 0.85l-1.2 -0.85zM449.11 743.68l1.2 0.8l1.2 -0.8v0.8l-1.2 0.85l-1.2 -0.85zM449.11 746.72l1.2 0.8l1.2 -0.8v0.8l-1.2 0.85l-1.2 -0.85zM449.11 749.76l1.2 0.8l1.2 -0.8v0.8l-1.2 0.85l-1.2 -0.85zM449.11 752.80l1.2 0.8l1.2 -0.8v0.8l-1.2 0.85l-1.2 -0.85zM452.21 687.44l1.2 0.8l1.2 -0.8v0.8l-1.2 0.85l-1.2 -0.85zM452.21 690.48l1.2 0.8l1.2 -0.8v0.8l-1.2 0.85l-1.2 -0.85zM452.21 693.52l1.2 0.8l1.2 -0.8v0.8l-1.2 0.85l-1.2 -0.85zM452.21 696.56l1.2 0.8l1.2 -0.8v0.8l-1.2 0.85l-1.2 -0.85zM452.21 699.60l1.2 0.8l1.2 -0.8v0.8l-1.2 0.85l-1.2 -0.85zM452.21 702.64l1.2 0.8l1.2 -0.8v0.8l-1.2 0.85l-1.2 -0.85zM452.21 705.68l1.2 0.8l1.2 -0.8v0.8l-1.2 0.85l-1.2 -0.85zM452.21 708.72l1.2 0.8l1.2 -0.8v0.8l-1.2 0.85l-1.2 -0.85zM452.21 711.76l1.2 0.8l1.2 -0.8v0.8l-1.2 0.85l-1.2 -0.85zM452.21 714.80l1.2 0.8l1.2 -0.8v0.8l-1.2 0.85l-1.2 -0.85zM452.21 717.84l1.2 0.8l1.2 -0.8v0.8l-1.2 0.85l-1.2 -0.85zM452.21 720.88l1.2 0.8l1.2 -0.8v0.8l-1.2 0.85l-1.2 -0.85zM452.21 723.92l1.2 0.8l1.2 -0.8v0.8l-1.2 0.85l-1.2 -0.85zM452.21 726.96l1.2 0.8l1.2 -0.8v0.8l-1.2 0.85l-1.2 -0.85zM452.21 730.00l1.2 0.8l1.2 -0.8v0.8l-1.2 0.85l-1.2 -0.85zM452.21 733.04l1.2 0.8l1.2 -0.8v0.8l-1.2 0.85l-1.2 -0.85zM452.21 736.08l1.2 0.8l1.2 -0.8v0.8l-1.2 0.85l-1.2 -0.85zM452.21 739.12l1.2 0.8l1.2 -0.8v0.8l-1.2 0.85l-1.2 -0.85zM452.21 742.16l1.2 0.8l1.2 -0.8v0.8l-1.2 0.85l-1.2 -0.85zM452.21 745.20l1.2 0.8l1.2 -0.8v0.8l-1.2 0.85l-1.2 -0.85zM452.21 748.24l1.2 0.8l1.2 -0.8v0.8l-1.2 0.85l-1.2 -0.85zM452.21 751.28l1.2 0.8l1.2 -0.8v0.8l-1.2 0.85l-1.2 -0.85zM452.21 754.32l1.2 0.8l1.2 -0.8v0.8l-1.2 0.85l-1.2 -0.85zM455.31 688.96l1.2 0.8l1.2 -0.8v0.8l-1.2 0.85l-1.2 -0.85zM455.31 692.00l1.2 0.8l1.2 -0.8v0.8l-1.2 0.85l-1.2 -0.85zM455.31 695.04l1.2 0.8l1.2 -0.8v0.8l-1.2 0.85l-1.2 -0.85zM455.31 698.08l1.2 0.8l1.2 -0.8v0.8l-1.2 0.85l-1.2 -0.85zM455.31 701.12l1.2 0.8l1.2 -0.8v0.8l-1.2 0.85l-1.2 -0.85zM455.31 704.16l1.2 0.8l1.2 -0.8v0.8l-1.2 0.85l-1.2 -0.85zM455.31 707.20l1.2 0.8l1.2 -0.8v0.8l-1.2 0.85l-1.2 -0.85zM455.31 710.24l1.2 0.8l1.2 -0.8v0.8l-1.2 0.85l-1.2 -0.85zM455.31 713.28l1.2 0.8l1.2 -0.8v0.8l-1.2 0.85l-1.2 -0.85zM455.31 716.32l1.2 0.8l1.2 -0.8v0.8l-1.2 0.85l-1.2 -0.85zM455.31 719.36l1.2 0.8l1.2 -0.8v0.8l-1.2 0.85l-1.2 -0.85zM455.31 722.40l1.2 0.8l1.2 -0.8v0.8l-1.2 0.85l-1.2 -0.85zM455.31 725.44l1.2 0.8l1.2 -0.8v0.8l-1.2 0.85l-1.2 -0.85zM455.31 728.48l1.2 0.8l1.2 -0.8v0.8l-1.2 0.85l-1.2 -0.85zM455.31 731.52l1.2 0.8l1.2 -0.8v0.8l-1.2 0.85l-1.2 -0.85zM455.31 734.56l1.2 0.8l1.2 -0.8v0.8l-1.2 0.85l-1.2 -0.85zM455.31 737.60l1.2 0.8l1.2 -0.8v0.8l-1.2 0.85l-1.2 -0.85zM455.31 740.64l1.2 0.8l1.2 -0.8v0.8l-1.2 0.85l-1.2 -0.85zM455.31 743.68l1.2 0.8l1.2 -0.8v0.8l-1.2 0.85l-1.2 -0.85zM455.31 746.72l1.2 0.8l1.2 -0.8v0.8l-1.2 0.85l-1.2 -0.85zM455.31 749.76l1.2 0.8l1.2 -0.8v0.8l-1.2 0.85l-1.2 -0.85zM455.31 752.80l1.2 0.8l1.2 -0.8v0.8l-1.2 0.85l-1.2 -0.85zM458.41 687.44l1.2 0.8l1.2 -0.8v0.8l-1.2 0.85l-1.2 -0.85zM458.41 690.48l1.2 0.8l1.2 -0.8v0.8l-1.2 0.85l-1.2 -0.85zM458.41 693.52l1.2 0.8l1.2 -0.8v0.8l-1.2 0.85l-1.2 -0.85zM458.41 696.56l1.2 0.8l1.2 -0.8v0.8l-1.2 0.85l-1.2 -0.85zM458.41 699.60l1.2 0.8l1.2 -0.8v0.8l-1.2 0.85l-1.2 -0.85zM458.41 702.64l1.2 0.8l1.2 -0.8v0.8l-1.2 0.85l-1.2 -0.85zM458.41 705.68l1.2 0.8l1.2 -0.8v0.8l-1.2 0.85l-1.2 -0.85zM458.41 708.72l1.2 0.8l1.2 -0.8v0.8l-1.2 0.85l-1.2 -0.85zM458.41 711.76l1.2 0.8l1.2 -0.8v0.8l-1.2 0.85l-1.2 -0.85zM458.41 714.80l1.2 0.8l1.2 -0.8v0.8l-1.2 0.85l-1.2 -0.85zM458.41 717.84l1.2 0.8l1.2 -0.8v0.8l-1.2 0.85l-1.2 -0.85zM458.41 720.88l1.2 0.8l1.2 -0.8v0.8l-1.2 0.85l-1.2 -0.85zM458.41 723.92l1.2 0.8l1.2 -0.8v0.8l-1.2 0.85l-1.2 -0.85zM458.41 726.96l1.2 0.8l1.2 -0.8v0.8l-1.2 0.85l-1.2 -0.85zM458.41 730.00l1.2 0.8l1.2 -0.8v0.8l-1.2 0.85l-1.2 -0.85zM458.41 733.04l1.2 0.8l1.2 -0.8v0.8l-1.2 0.85l-1.2 -0.85zM458.41 736.08l1.2 0.8l1.2 -0.8v0.8l-1.2 0.85l-1.2 -0.85zM458.41 739.12l1.2 0.8l1.2 -0.8v0.8l-1.2 0.85l-1.2 -0.85zM458.41 742.16l1.2 0.8l1.2 -0.8v0.8l-1.2 0.85l-1.2 -0.85zM458.41 745.20l1.2 0.8l1.2 -0.8v0.8l-1.2 0.85l-1.2 -0.85zM458.41 748.24l1.2 0.8l1.2 -0.8v0.8l-1.2 0.85l-1.2 -0.85zM458.41 751.28l1.2 0.8l1.2 -0.8v0.8l-1.2 0.85l-1.2 -0.85zM458.41 754.32l1.2 0.8l1.2 -0.8v0.8l-1.2 0.85l-1.2 -0.85zM461.51 688.96l1.2 0.8l1.2 -0.8v0.8l-1.2 0.85l-1.2 -0.85zM461.51 692.00l1.2 0.8l1.2 -0.8v0.8l-1.2 0.85l-1.2 -0.85zM461.51 695.04l1.2 0.8l1.2 -0.8v0.8l-1.2 0.85l-1.2 -0.85zM461.51 698.08l1.2 0.8l1.2 -0.8v0.8l-1.2 0.85l-1.2 -0.85zM461.51 701.12l1.2 0.8l1.2 -0.8v0.8l-1.2 0.85l-1.2 -0.85zM461.51 704.16l1.2 0.8l1.2 -0.8v0.8l-1.2 0.85l-1.2 -0.85zM461.51 707.20l1.2 0.8l1.2 -0.8v0.8l-1.2 0.85l-1.2 -0.85zM461.51 710.24l1.2 0.8l1.2 -0.8v0.8l-1.2 0.85l-1.2 -0.85zM461.51 713.28l1.2 0.8l1.2 -0.8v0.8l-1.2 0.85l-1.2 -0.85zM461.51 716.32l1.2 0.8l1.2 -0.8v0.8l-1.2 0.85l-1.2 -0.85zM461.51 719.36l1.2 0.8l1.2 -0.8v0.8l-1.2 0.85l-1.2 -0.85zM461.51 722.40l1.2 0.8l1.2 -0.8v0.8l-1.2 0.85l-1.2 -0.85zM461.51 725.44l1.2 0.8l1.2 -0.8v0.8l-1.2 0.85l-1.2 -0.85zM461.51 728.48l1.2 0.8l1.2 -0.8v0.8l-1.2 0.85l-1.2 -0.85zM461.51 731.52l1.2 0.8l1.2 -0.8v0.8l-1.2 0.85l-1.2 -0.85zM461.51 734.56l1.2 0.8l1.2 -0.8v0.8l-1.2 0.85l-1.2 -0.85zM461.51 737.60l1.2 0.8l1.2 -0.8v0.8l-1.2 0.85l-1.2 -0.85zM461.51 740.64l1.2 0.8l1.2 -0.8v0.8l-1.2 0.85l-1.2 -0.85zM461.51 743.68l1.2 0.8l1.2 -0.8v0.8l-1.2 0.85l-1.2 -0.85zM461.51 746.72l1.2 0.8l1.2 -0.8v0.8l-1.2 0.85l-1.2 -0.85zM461.51 749.76l1.2 0.8l1.2 -0.8v0.8l-1.2 0.85l-1.2 -0.85zM461.51 752.80l1.2 0.8l1.2 -0.8v0.8l-1.2 0.85l-1.2 -0.85z" fill="#333"/>
<rect x="448.71" y="688.20" width="12.90" height="66.10" fill="none" stroke="#888" stroke-width="0.7"/>
<line x1="455.16" y1="688.20" x2="455.16" y2="672.60" stroke="#777" stroke-width="1.00"/>
<line x1="452.06" y1="672.60" x2="458.26" y2="672.60" stroke="#777" stroke-width="1.00"/>
<rect x="467.34" y="691.30" width="12.90" height="63.00" fill="#fff" stroke="#555" stroke-width="0.9"/>
<line x1="467.74" y1="695.90" x2="479.84" y2="695.90" stroke="#222" stroke-width="1.0"/>
<line x1="467.74" y1="700.50" x2="479.84" y2="700.50" stroke="#222" stroke-width="1.0"/>
<line x1="467.74" y1="705.10" x2="479.84" y2="705.10" stroke="#222" stroke-width="1.0"/>
<line x1="467.74" y1="709.70" x2="479.84" y2="709.70" stroke="#222" stroke-width="1.0"/>
<line x1="467.74" y1="714.30" x2="479.84" y2="714.30" stroke="#222" stroke-width="1.0"/>
<line x1="467.74" y1="718.90" x2="479.84" y2="718.90" stroke="#222" stroke-width="1.0"/>
<line x1="467.74" y1="723.50" x2="479.84" y2="723.50" stroke="#222" stroke-width="1.0"/>
<line x1="467.74" y1="728.10" x2="479.84" y2="728.10" stroke="#222" stroke-width="1.0"/>
<line x1="467.74" y1="732.70" x2="479.84" y2="732.70" stroke="#222" stroke-width="1.0"/>
<line x1="467.74" y1="737.30" x2="479.84" y2="737.30" stroke="#222" stroke-width="1.0"/>
<line x1="467.74" y1="741.90" x2="479.84" y2="741.90" stroke="#222" stroke-width="1.0"/>
<line x1="467.74" y1="746.50" x2="479.84" y2="746.50" stroke="#222" stroke-width="1.0"/>
<line x1="467.74" y1="751.10" x2="479.84" y2="751.10" stroke="#222" stroke-width="1.0"/>
<line x1="473.79" y1="691.30" x2="473.79" y2="669.30" stroke="#777" stroke-width="1.00"/>
<line x1="470.69" y1="669.30" x2="476.89" y2="669.30" stroke="#777" stroke-width="1.00"/>
<rect x="485.97" y="676.30" width="12.90" height="78.00" fill="#fff" stroke="#555" stroke-width="0.9"/>
<line x1="486.37" y1="680.90" x2="498.47" y2="680.90" stroke="#222" stroke-width="1.0"/>
<line x1="486.37" y1="685.50" x2="498.47" y2="685.50" stroke="#222" stroke-width="1.0"/>
<line x1="486.37" y1="690.10" x2="498.47" y2="690.10" stroke="#222" stroke-width="1.0"/>
<line x1="486.37" y1="694.70" x2="498.47" y2="694.70" stroke="#222" stroke-width="1.0"/>
<line x1="486.37" y1="699.30" x2="498.47" y2="699.30" stroke="#222" stroke-width="1.0"/>
<line x1="486.37" y1="703.90" x2="498.47" y2="703.90" stroke="#222" stroke-width="1.0"/>
<line x1="486.37" y1="708.50" x2="498.47" y2="708.50" stroke="#222" stroke-width="1.0"/>
<line x1="486.37" y1="713.10" x2="498.47" y2="713.10" stroke="#222" stroke-width="1.0"/>
<line x1="486.37" y1="717.70" x2="498.47" y2="717.70" stroke="#222" stroke-width="1.0"/>
<line x1="486.37" y1="722.30" x2="498.47" y2="722.30" stroke="#222" stroke-width="1.0"/>
<line x1="486.37" y1="726.90" x2="498.47" y2="726.90" stroke="#222" stroke-width="1.0"/>
<line x1="486.37" y1="731.50" x2="498.47" y2="731.50" stroke="#222" stroke-width="1.0"/>
<line x1="486.37" y1="736.10" x2="498.47" y2="736.10" stroke="#222" stroke-width="1.0"/>
<line x1="486.37" y1="740.70" x2="498.47" y2="740.70" stroke="#222" stroke-width="1.0"/>
<line x1="486.37" y1="745.30" x2="498.47" y2="745.30" stroke="#222" stroke-width="1.0"/>
<line x1="486.37" y1="749.90" x2="498.47" y2="749.90" stroke="#222" stroke-width="1.0"/>
<line x1="492.42" y1="676.30" x2="492.42" y2="641.40" stroke="#777" stroke-width="1.00"/>
<line x1="489.32" y1="641.40" x2="495.52" y2="641.40" stroke="#777" stroke-width="1.00"/>
<rect x="504.60" y="636.70" width="12.90" height="117.60" fill="#fff" stroke="#555" stroke-width="0.9"/>
<line x1="505.00" y1="641.30" x2="517.10" y2="641.30" stroke="#222" stroke-width="1.0"/>
<line x1="505.00" y1="645.90" x2="517.10" y2="645.90" stroke="#222" stroke-width="1.0"/>
<line x1="505.00" y1="650.50" x2="517.10" y2="650.50" stroke="#222" stroke-width="1.0"/>
<line x1="505.00" y1="655.10" x2="517.10" y2="655.10" stroke="#222" stroke-width="1.0"/>
<line x1="505.00" y1="659.70" x2="517.10" y2="659.70" stroke="#222" stroke-width="1.0"/>
<line x1="505.00" y1="664.30" x2="517.10" y2="664.30" stroke="#222" stroke-width="1.0"/>
<line x1="505.00" y1="668.90" x2="517.10" y2="668.90" stroke="#222" stroke-width="1.0"/>
<line x1="505.00" y1="673.50" x2="517.10" y2="673.50" stroke="#222" stroke-width="1.0"/>
<line x1="505.00" y1="678.10" x2="517.10" y2="678.10" stroke="#222" stroke-width="1.0"/>
<line x1="505.00" y1="682.70" x2="517.10" y2="682.70" stroke="#222" stroke-width="1.0"/>
<line x1="505.00" y1="687.30" x2="517.10" y2="687.30" stroke="#222" stroke-width="1.0"/>
<line x1="505.00" y1="691.90" x2="517.10" y2="691.90" stroke="#222" stroke-width="1.0"/>
<line x1="505.00" y1="696.50" x2="517.10" y2="696.50" stroke="#222" stroke-width="1.0"/>
<line x1="505.00" y1="701.10" x2="517.10" y2="701.10" stroke="#222" stroke-width="1.0"/>
<line x1="505.00" y1="705.70" x2="517.10" y2="705.70" stroke="#222" stroke-width="1.0"/>
<line x1="505.00" y1="710.30" x2="517.10" y2="710.30" stroke="#222" stroke-width="1.0"/>
<line x1="505.00" y1="714.90" x2="517.10" y2="714.90" stroke="#222" stroke-width="1.0"/>
<line x1="505.00" y1="719.50" x2="517.10" y2="719.50" stroke="#222" stroke-width="1.0"/>
<line x1="505.00" y1="724.10" x2="517.10" y2="724.10" stroke="#222" stroke-width="1.0"/>
<line x1="505.00" y1="728.70" x2="517.10" y2="728.70" stroke="#222" stroke-width="1.0"/>
<line x1="505.00" y1="733.30" x2="517.10" y2="733.30" stroke="#222" stroke-width="1.0"/>
<line x1="505.00" y1="737.90" x2="517.10" y2="737.90" stroke="#222" stroke-width="1.0"/>
<line x1="505.00" y1="742.50" x2="517.10" y2="742.50" stroke="#222" stroke-width="1.0"/>
<line x1="505.00" y1="747.10" x2="517.10" y2="747.10" stroke="#222" stroke-width="1.0"/>
<line x1="505.00" y1="751.70" x2="517.10" y2="751.70" stroke="#222" stroke-width="1.0"/>
<rect x="504.60" y="623.80" width="12.90" height="1.50" fill="#fff" stroke="#555" stroke-width="0.9"/>
<line x1="511.05" y1="623.80" x2="511.05" y2="621.10" stroke="#777" stroke-width="1.00"/>
<line x1="507.95" y1="621.10" x2="514.15" y2="621.10" stroke="#777" stroke-width="1.00"/>
<rect x="523.23" y="636.70" width="12.90" height="117.60" fill="#000"/>
<path clip-path="url(#c15)" d="M525.80 634.85l2.25 2.25l-2.25 2.25l-2.25 -2.25zM533.40 634.85l2.25 2.25l-2.25 2.25l-2.25 -2.25zM522.00 638.73l2.25 2.25l-2.25 2.25l-2.25 -2.25zM529.60 638.73l2.25 2.25l-2.25 2.25l-2.25 -2.25zM537.20 638.73l2.25 2.25l-2.25 2.25l-2.25 -2.25zM525.80 642.60l2.25 2.25l-2.25 2.25l-2.25 -2.25zM533.40 642.60l2.25 2.25l-2.25 2.25l-2.25 -2.25zM522.00 646.48l2.25 2.25l-2.25 2.25l-2.25 -2.25zM529.60 646.48l2.25 2.25l-2.25 2.25l-2.25 -2.25zM537.20 646.48l2.25 2.25l-2.25 2.25l-2.25 -2.25zM525.80 650.35l2.25 2.25l-2.25 2.25l-2.25 -2.25zM533.40 650.35l2.25 2.25l-2.25 2.25l-2.25 -2.25zM522.00 654.23l2.25 2.25l-2.25 2.25l-2.25 -2.25zM529.60 654.23l2.25 2.25l-2.25 2.25l-2.25 -2.25zM537.20 654.23l2.25 2.25l-2.25 2.25l-2.25 -2.25zM525.80 658.10l2.25 2.25l-2.25 2.25l-2.25 -2.25zM533.40 658.10l2.25 2.25l-2.25 2.25l-2.25 -2.25zM522.00 661.98l2.25 2.25l-2.25 2.25l-2.25 -2.25zM529.60 661.98l2.25 2.25l-2.25 2.25l-2.25 -2.25zM537.20 661.98l2.25 2.25l-2.25 2.25l-2.25 -2.25zM525.80 665.85l2.25 2.25l-2.25 2.25l-2.25 -2.25zM533.40 665.85l2.25 2.25l-2.25 2.25l-2.25 -2.25zM522.00 669.73l2.25 2.25l-2.25 2.25l-2.25 -2.25zM529.60 669.73l2.25 2.25l-2.25 2.25l-2.25 -2.25zM537.20 669.73l2.25 2.25l-2.25 2.25l-2.25 -2.25zM525.80 673.60l2.25 2.25l-2.25 2.25l-2.25 -2.25zM533.40 673.60l2.25 2.25l-2.25 2.25l-2.25 -2.25zM522.00 677.48l2.25 2.25l-2.25 2.25l-2.25 -2.25zM529.60 677.48l2.25 2.25l-2.25 2.25l-2.25 -2.25zM537.20 677.48l2.25 2.25l-2.25 2.25l-2.25 -2.25zM525.80 681.35l2.25 2.25l-2.25 2.25l-2.25 -2.25zM533.40 681.35l2.25 2.25l-2.25 2.25l-2.25 -2.25zM522.00 685.23l2.25 2.25l-2.25 2.25l-2.25 -2.25zM529.60 685.23l2.25 2.25l-2.25 2.25l-2.25 -2.25zM537.20 685.23l2.25 2.25l-2.25 2.25l-2.25 -2.25zM525.80 689.10l2.25 2.25l-2.25 2.25l-2.25 -2.25zM533.40 689.10l2.25 2.25l-2.25 2.25l-2.25 -2.25zM522.00 692.98l2.25 2.25l-2.25 2.25l-2.25 -2.25zM529.60 692.98l2.25 2.25l-2.25 2.25l-2.25 -2.25zM537.20 692.98l2.25 2.25l-2.25 2.25l-2.25 -2.25zM525.80 696.85l2.25 2.25l-2.25 2.25l-2.25 -2.25zM533.40 696.85l2.25 2.25l-2.25 2.25l-2.25 -2.25zM522.00 700.73l2.25 2.25l-2.25 2.25l-2.25 -2.25zM529.60 700.73l2.25 2.25l-2.25 2.25l-2.25 -2.25zM537.20 700.73l2.25 2.25l-2.25 2.25l-2.25 -2.25zM525.80 704.60l2.25 2.25l-2.25 2.25l-2.25 -2.25zM533.40 704.60l2.25 2.25l-2.25 2.25l-2.25 -2.25zM522.00 708.48l2.25 2.25l-2.25 2.25l-2.25 -2.25zM529.60 708.48l2.25 2.25l-2.25 2.25l-2.25 -2.25zM537.20 708.48l2.25 2.25l-2.25 2.25l-2.25 -2.25zM525.80 712.35l2.25 2.25l-2.25 2.25l-2.25 -2.25zM533.40 712.35l2.25 2.25l-2.25 2.25l-2.25 -2.25zM522.00 716.23l2.25 2.25l-2.25 2.25l-2.25 -2.25zM529.60 716.23l2.25 2.25l-2.25 2.25l-2.25 -2.25zM537.20 716.23l2.25 2.25l-2.25 2.25l-2.25 -2.25zM525.80 720.10l2.25 2.25l-2.25 2.25l-2.25 -2.25zM533.40 720.10l2.25 2.25l-2.25 2.25l-2.25 -2.25zM522.00 723.98l2.25 2.25l-2.25 2.25l-2.25 -2.25zM529.60 723.98l2.25 2.25l-2.25 2.25l-2.25 -2.25zM537.20 723.98l2.25 2.25l-2.25 2.25l-2.25 -2.25zM525.80 727.85l2.25 2.25l-2.25 2.25l-2.25 -2.25zM533.40 727.85l2.25 2.25l-2.25 2.25l-2.25 -2.25zM522.00 731.73l2.25 2.25l-2.25 2.25l-2.25 -2.25zM529.60 731.73l2.25 2.25l-2.25 2.25l-2.25 -2.25zM537.20 731.73l2.25 2.25l-2.25 2.25l-2.25 -2.25zM525.80 735.60l2.25 2.25l-2.25 2.25l-2.25 -2.25zM533.40 735.60l2.25 2.25l-2.25 2.25l-2.25 -2.25zM522.00 739.48l2.25 2.25l-2.25 2.25l-2.25 -2.25zM529.60 739.48l2.25 2.25l-2.25 2.25l-2.25 -2.25zM537.20 739.48l2.25 2.25l-2.25 2.25l-2.25 -2.25zM525.80 743.35l2.25 2.25l-2.25 2.25l-2.25 -2.25zM533.40 743.35l2.25 2.25l-2.25 2.25l-2.25 -2.25zM522.00 747.23l2.25 2.25l-2.25 2.25l-2.25 -2.25zM529.60 747.23l2.25 2.25l-2.25 2.25l-2.25 -2.25zM537.20 747.23l2.25 2.25l-2.25 2.25l-2.25 -2.25zM525.80 751.10l2.25 2.25l-2.25 2.25l-2.25 -2.25zM533.40 751.10l2.25 2.25l-2.25 2.25l-2.25 -2.25z" fill="#fff"/>
<rect x="523.23" y="636.70" width="12.90" height="117.60" fill="none" stroke="#aaa" stroke-width="0.5"/>
<rect x="523.23" y="600.40" width="12.90" height="24.90" fill="#000"/>
<path clip-path="url(#c16)" d="M525.80 596.10l2.25 2.25l-2.25 2.25l-2.25 -2.25zM533.40 596.10l2.25 2.25l-2.25 2.25l-2.25 -2.25zM522.00 599.98l2.25 2.25l-2.25 2.25l-2.25 -2.25zM529.60 599.98l2.25 2.25l-2.25 2.25l-2.25 -2.25zM537.20 599.98l2.25 2.25l-2.25 2.25l-2.25 -2.25zM525.80 603.85l2.25 2.25l-2.25 2.25l-2.25 -2.25zM533.40 603.85l2.25 2.25l-2.25 2.25l-2.25 -2.25zM522.00 607.73l2.25 2.25l-2.25 2.25l-2.25 -2.25zM529.60 607.73l2.25 2.25l-2.25 2.25l-2.25 -2.25zM537.20 607.73l2.25 2.25l-2.25 2.25l-2.25 -2.25zM525.80 611.60l2.25 2.25l-2.25 2.25l-2.25 -2.25zM533.40 611.60l2.25 2.25l-2.25 2.25l-2.25 -2.25zM522.00 615.48l2.25 2.25l-2.25 2.25l-2.25 -2.25zM529.60 615.48l2.25 2.25l-2.25 2.25l-2.25 -2.25zM537.20 615.48l2.25 2.25l-2.25 2.25l-2.25 -2.25zM525.80 619.35l2.25 2.25l-2.25 2.25l-2.25 -2.25zM533.40 619.35l2.25 2.25l-2.25 2.25l-2.25 -2.25zM522.00 623.23l2.25 2.25l-2.25 2.25l-2.25 -2.25zM529.60 623.23l2.25 2.25l-2.25 2.25l-2.25 -2.25zM537.20 623.23l2.25 2.25l-2.25 2.25l-2.25 -2.25z" fill="#fff"/>
<rect x="523.23" y="600.40" width="12.90" height="24.90" fill="none" stroke="#aaa" stroke-width="0.5"/>
<rect x="523.23" y="573.10" width="12.90" height="15.20" fill="#000"/>
<path clip-path="url(#c17)" d="M522.00 568.98l2.25 2.25l-2.25 2.25l-2.25 -2.25zM529.60 568.98l2.25 2.25l-2.25 2.25l-2.25 -2.25zM537.20 568.98l2.25 2.25l-2.25 2.25l-2.25 -2.25zM525.80 572.85l2.25 2.25l-2.25 2.25l-2.25 -2.25zM533.40 572.85l2.25 2.25l-2.25 2.25l-2.25 -2.25zM522.00 576.73l2.25 2.25l-2.25 2.25l-2.25 -2.25zM529.60 576.73l2.25 2.25l-2.25 2.25l-2.25 -2.25zM537.20 576.73l2.25 2.25l-2.25 2.25l-2.25 -2.25zM525.80 580.60l2.25 2.25l-2.25 2.25l-2.25 -2.25zM533.40 580.60l2.25 2.25l-2.25 2.25l-2.25 -2.25zM522.00 584.48l2.25 2.25l-2.25 2.25l-2.25 -2.25zM529.60 584.48l2.25 2.25l-2.25 2.25l-2.25 -2.25zM537.20 584.48l2.25 2.25l-2.25 2.25l-2.25 -2.25z" fill="#fff"/>
<rect x="523.23" y="573.10" width="12.90" height="15.20" fill="none" stroke="#aaa" stroke-width="0.5"/>
<line x1="529.68" y1="573.10" x2="529.68" y2="572.20" stroke="#777" stroke-width="1.00"/>
<line x1="526.58" y1="572.20" x2="532.78" y2="572.20" stroke="#777" stroke-width="1.00"/>
<rect x="541.86" y="636.70" width="12.90" height="117.60" fill="#fff"/>
<path clip-path="url(#c18)" d="M542.26 637.28l1.2 0.8l1.2 -0.8v0.8l-1.2 0.85l-1.2 -0.85zM542.26 640.32l1.2 0.8l1.2 -0.8v0.8l-1.2 0.85l-1.2 -0.85zM542.26 643.36l1.2 0.8l1.2 -0.8v0.8l-1.2 0.85l-1.2 -0.85zM542.26 646.40l1.2 0.8l1.2 -0.8v0.8l-1.2 0.85l-1.2 -0.85zM542.26 649.44l1.2 0.8l1.2 -0.8v0.8l-1.2 0.85l-1.2 -0.85zM542.26 652.48l1.2 0.8l1.2 -0.8v0.8l-1.2 0.85l-1.2 -0.85zM542.26 655.52l1.2 0.8l1.2 -0.8v0.8l-1.2 0.85l-1.2 -0.85zM542.26 658.56l1.2 0.8l1.2 -0.8v0.8l-1.2 0.85l-1.2 -0.85zM542.26 661.60l1.2 0.8l1.2 -0.8v0.8l-1.2 0.85l-1.2 -0.85zM542.26 664.64l1.2 0.8l1.2 -0.8v0.8l-1.2 0.85l-1.2 -0.85zM542.26 667.68l1.2 0.8l1.2 -0.8v0.8l-1.2 0.85l-1.2 -0.85zM542.26 670.72l1.2 0.8l1.2 -0.8v0.8l-1.2 0.85l-1.2 -0.85zM542.26 673.76l1.2 0.8l1.2 -0.8v0.8l-1.2 0.85l-1.2 -0.85zM542.26 676.80l1.2 0.8l1.2 -0.8v0.8l-1.2 0.85l-1.2 -0.85zM542.26 679.84l1.2 0.8l1.2 -0.8v0.8l-1.2 0.85l-1.2 -0.85zM542.26 682.88l1.2 0.8l1.2 -0.8v0.8l-1.2 0.85l-1.2 -0.85zM542.26 685.92l1.2 0.8l1.2 -0.8v0.8l-1.2 0.85l-1.2 -0.85zM542.26 688.96l1.2 0.8l1.2 -0.8v0.8l-1.2 0.85l-1.2 -0.85zM542.26 692.00l1.2 0.8l1.2 -0.8v0.8l-1.2 0.85l-1.2 -0.85zM542.26 695.04l1.2 0.8l1.2 -0.8v0.8l-1.2 0.85l-1.2 -0.85zM542.26 698.08l1.2 0.8l1.2 -0.8v0.8l-1.2 0.85l-1.2 -0.85zM542.26 701.12l1.2 0.8l1.2 -0.8v0.8l-1.2 0.85l-1.2 -0.85zM542.26 704.16l1.2 0.8l1.2 -0.8v0.8l-1.2 0.85l-1.2 -0.85zM542.26 707.20l1.2 0.8l1.2 -0.8v0.8l-1.2 0.85l-1.2 -0.85zM542.26 710.24l1.2 0.8l1.2 -0.8v0.8l-1.2 0.85l-1.2 -0.85zM542.26 713.28l1.2 0.8l1.2 -0.8v0.8l-1.2 0.85l-1.2 -0.85zM542.26 716.32l1.2 0.8l1.2 -0.8v0.8l-1.2 0.85l-1.2 -0.85zM542.26 719.36l1.2 0.8l1.2 -0.8v0.8l-1.2 0.85l-1.2 -0.85zM542.26 722.40l1.2 0.8l1.2 -0.8v0.8l-1.2 0.85l-1.2 -0.85zM542.26 725.44l1.2 0.8l1.2 -0.8v0.8l-1.2 0.85l-1.2 -0.85zM542.26 728.48l1.2 0.8l1.2 -0.8v0.8l-1.2 0.85l-1.2 -0.85zM542.26 731.52l1.2 0.8l1.2 -0.8v0.8l-1.2 0.85l-1.2 -0.85zM542.26 734.56l1.2 0.8l1.2 -0.8v0.8l-1.2 0.85l-1.2 -0.85zM542.26 737.60l1.2 0.8l1.2 -0.8v0.8l-1.2 0.85l-1.2 -0.85zM542.26 740.64l1.2 0.8l1.2 -0.8v0.8l-1.2 0.85l-1.2 -0.85zM542.26 743.68l1.2 0.8l1.2 -0.8v0.8l-1.2 0.85l-1.2 -0.85zM542.26 746.72l1.2 0.8l1.2 -0.8v0.8l-1.2 0.85l-1.2 -0.85zM542.26 749.76l1.2 0.8l1.2 -0.8v0.8l-1.2 0.85l-1.2 -0.85zM542.26 752.80l1.2 0.8l1.2 -0.8v0.8l-1.2 0.85l-1.2 -0.85zM545.36 635.76l1.2 0.8l1.2 -0.8v0.8l-1.2 0.85l-1.2 -0.85zM545.36 638.80l1.2 0.8l1.2 -0.8v0.8l-1.2 0.85l-1.2 -0.85zM545.36 641.84l1.2 0.8l1.2 -0.8v0.8l-1.2 0.85l-1.2 -0.85zM545.36 644.88l1.2 0.8l1.2 -0.8v0.8l-1.2 0.85l-1.2 -0.85zM545.36 647.92l1.2 0.8l1.2 -0.8v0.8l-1.2 0.85l-1.2 -0.85zM545.36 650.96l1.2 0.8l1.2 -0.8v0.8l-1.2 0.85l-1.2 -0.85zM545.36 654.00l1.2 0.8l1.2 -0.8v0.8l-1.2 0.85l-1.2 -0.85zM545.36 657.04l1.2 0.8l1.2 -0.8v0.8l-1.2 0.85l-1.2 -0.85zM545.36 660.08l1.2 0.8l1.2 -0.8v0.8l-1.2 0.85l-1.2 -0.85zM545.36 663.12l1.2 0.8l1.2 -0.8v0.8l-1.2 0.85l-1.2 -0.85zM545.36 666.16l1.2 0.8l1.2 -0.8v0.8l-1.2 0.85l-1.2 -0.85zM545.36 669.20l1.2 0.8l1.2 -0.8v0.8l-1.2 0.85l-1.2 -0.85zM545.36 672.24l1.2 0.8l1.2 -0.8v0.8l-1.2 0.85l-1.2 -0.85zM545.36 675.28l1.2 0.8l1.2 -0.8v0.8l-1.2 0.85l-1.2 -0.85zM545.36 678.32l1.2 0.8l1.2 -0.8v0.8l-1.2 0.85l-1.2 -0.85zM545.36 681.36l1.2 0.8l1.2 -0.8v0.8l-1.2 0.85l-1.2 -0.85zM545.36 684.40l1.2 0.8l1.2 -0.8v0.8l-1.2 0.85l-1.2 -0.85zM545.36 687.44l1.2 0.8l1.2 -0.8v0.8l-1.2 0.85l-1.2 -0.85zM545.36 690.48l1.2 0.8l1.2 -0.8v0.8l-1.2 0.85l-1.2 -0.85zM545.36 693.52l1.2 0.8l1.2 -0.8v0.8l-1.2 0.85l-1.2 -0.85zM545.36 696.56l1.2 0.8l1.2 -0.8v0.8l-1.2 0.85l-1.2 -0.85zM545.36 699.60l1.2 0.8l1.2 -0.8v0.8l-1.2 0.85l-1.2 -0.85zM545.36 702.64l1.2 0.8l1.2 -0.8v0.8l-1.2 0.85l-1.2 -0.85zM545.36 705.68l1.2 0.8l1.2 -0.8v0.8l-1.2 0.85l-1.2 -0.85zM545.36 708.72l1.2 0.8l1.2 -0.8v0.8l-1.2 0.85l-1.2 -0.85zM545.36 711.76l1.2 0.8l1.2 -0.8v0.8l-1.2 0.85l-1.2 -0.85zM545.36 714.80l1.2 0.8l1.2 -0.8v0.8l-1.2 0.85l-1.2 -0.85zM545.36 717.84l1.2 0.8l1.2 -0.8v0.8l-1.2 0.85l-1.2 -0.85zM545.36 720.88l1.2 0.8l1.2 -0.8v0.8l-1.2 0.85l-1.2 -0.85zM545.36 723.92l1.2 0.8l1.2 -0.8v0.8l-1.2 0.85l-1.2 -0.85zM545.36 726.96l1.2 0.8l1.2 -0.8v0.8l-1.2 0.85l-1.2 -0.85zM545.36 730.00l1.2 0.8l1.2 -0.8v0.8l-1.2 0.85l-1.2 -0.85zM545.36 733.04l1.2 0.8l1.2 -0.8v0.8l-1.2 0.85l-1.2 -0.85zM545.36 736.08l1.2 0.8l1.2 -0.8v0.8l-1.2 0.85l-1.2 -0.85zM545.36 739.12l1.2 0.8l1.2 -0.8v0.8l-1.2 0.85l-1.2 -0.85zM545.36 742.16l1.2 0.8l1.2 -0.8v0.8l-1.2 0.85l-1.2 -0.85zM545.36 745.20l1.2 0.8l1.2 -0.8v0.8l-1.2 0.85l-1.2 -0.85zM545.36 748.24l1.2 0.8l1.2 -0.8v0.8l-1.2 0.85l-1.2 -0.85zM545.36 751.28l1.2 0.8l1.2 -0.8v0.8l-1.2 0.85l-1.2 -0.85zM545.36 754.32l1.2 0.8l1.2 -0.8v0.8l-1.2 0.85l-1.2 -0.85zM548.46 637.28l1.2 0.8l1.2 -0.8v0.8l-1.2 0.85l-1.2 -0.85zM548.46 640.32l1.2 0.8l1.2 -0.8v0.8l-1.2 0.85l-1.2 -0.85zM548.46 643.36l1.2 0.8l1.2 -0.8v0.8l-1.2 0.85l-1.2 -0.85zM548.46 646.40l1.2 0.8l1.2 -0.8v0.8l-1.2 0.85l-1.2 -0.85zM548.46 649.44l1.2 0.8l1.2 -0.8v0.8l-1.2 0.85l-1.2 -0.85zM548.46 652.48l1.2 0.8l1.2 -0.8v0.8l-1.2 0.85l-1.2 -0.85zM548.46 655.52l1.2 0.8l1.2 -0.8v0.8l-1.2 0.85l-1.2 -0.85zM548.46 658.56l1.2 0.8l1.2 -0.8v0.8l-1.2 0.85l-1.2 -0.85zM548.46 661.60l1.2 0.8l1.2 -0.8v0.8l-1.2 0.85l-1.2 -0.85zM548.46 664.64l1.2 0.8l1.2 -0.8v0.8l-1.2 0.85l-1.2 -0.85zM548.46 667.68l1.2 0.8l1.2 -0.8v0.8l-1.2 0.85l-1.2 -0.85zM548.46 670.72l1.2 0.8l1.2 -0.8v0.8l-1.2 0.85l-1.2 -0.85zM548.46 673.76l1.2 0.8l1.2 -0.8v0.8l-1.2 0.85l-1.2 -0.85zM548.46 676.80l1.2 0.8l1.2 -0.8v0.8l-1.2 0.85l-1.2 -0.85zM548.46 679.84l1.2 0.8l1.2 -0.8v0.8l-1.2 0.85l-1.2 -0.85zM548.46 682.88l1.2 0.8l1.2 -0.8v0.8l-1.2 0.85l-1.2 -0.85zM548.46 685.92l1.2 0.8l1.2 -0.8v0.8l-1.2 0.85l-1.2 -0.85zM548.46 688.96l1.2 0.8l1.2 -0.8v0.8l-1.2 0.85l-1.2 -0.85zM548.46 692.00l1.2 0.8l1.2 -0.8v0.8l-1.2 0.85l-1.2 -0.85zM548.46 695.04l1.2 0.8l1.2 -0.8v0.8l-1.2 0.85l-1.2 -0.85zM548.46 698.08l1.2 0.8l1.2 -0.8v0.8l-1.2 0.85l-1.2 -0.85zM548.46 701.12l1.2 0.8l1.2 -0.8v0.8l-1.2 0.85l-1.2 -0.85zM548.46 704.16l1.2 0.8l1.2 -0.8v0.8l-1.2 0.85l-1.2 -0.85zM548.46 707.20l1.2 0.8l1.2 -0.8v0.8l-1.2 0.85l-1.2 -0.85zM548.46 710.24l1.2 0.8l1.2 -0.8v0.8l-1.2 0.85l-1.2 -0.85zM548.46 713.28l1.2 0.8l1.2 -0.8v0.8l-1.2 0.85l-1.2 -0.85zM548.46 716.32l1.2 0.8l1.2 -0.8v0.8l-1.2 0.85l-1.2 -0.85zM548.46 719.36l1.2 0.8l1.2 -0.8v0.8l-1.2 0.85l-1.2 -0.85zM548.46 722.40l1.2 0.8l1.2 -0.8v0.8l-1.2 0.85l-1.2 -0.85zM548.46 725.44l1.2 0.8l1.2 -0.8v0.8l-1.2 0.85l-1.2 -0.85zM548.46 728.48l1.2 0.8l1.2 -0.8v0.8l-1.2 0.85l-1.2 -0.85zM548.46 731.52l1.2 0.8l1.2 -0.8v0.8l-1.2 0.85l-1.2 -0.85zM548.46 734.56l1.2 0.8l1.2 -0.8v0.8l-1.2 0.85l-1.2 -0.85zM548.46 737.60l1.2 0.8l1.2 -0.8v0.8l-1.2 0.85l-1.2 -0.85zM548.46 740.64l1.2 0.8l1.2 -0.8v0.8l-1.2 0.85l-1.2 -0.85zM548.46 743.68l1.2 0.8l1.2 -0.8v0.8l-1.2 0.85l-1.2 -0.85zM548.46 746.72l1.2 0.8l1.2 -0.8v0.8l-1.2 0.85l-1.2 -0.85zM548.46 749.76l1.2 0.8l1.2 -0.8v0.8l-1.2 0.85l-1.2 -0.85zM548.46 752.80l1.2 0.8l1.2 -0.8v0.8l-1.2 0.85l-1.2 -0.85zM551.56 635.76l1.2 0.8l1.2 -0.8v0.8l-1.2 0.85l-1.2 -0.85zM551.56 638.80l1.2 0.8l1.2 -0.8v0.8l-1.2 0.85l-1.2 -0.85zM551.56 641.84l1.2 0.8l1.2 -0.8v0.8l-1.2 0.85l-1.2 -0.85zM551.56 644.88l1.2 0.8l1.2 -0.8v0.8l-1.2 0.85l-1.2 -0.85zM551.56 647.92l1.2 0.8l1.2 -0.8v0.8l-1.2 0.85l-1.2 -0.85zM551.56 650.96l1.2 0.8l1.2 -0.8v0.8l-1.2 0.85l-1.2 -0.85zM551.56 654.00l1.2 0.8l1.2 -0.8v0.8l-1.2 0.85l-1.2 -0.85zM551.56 657.04l1.2 0.8l1.2 -0.8v0.8l-1.2 0.85l-1.2 -0.85zM551.56 660.08l1.2 0.8l1.2 -0.8v0.8l-1.2 0.85l-1.2 -0.85zM551.56 663.12l1.2 0.8l1.2 -0.8v0.8l-1.2 0.85l-1.2 -0.85zM551.56 666.16l1.2 0.8l1.2 -0.8v0.8l-1.2 0.85l-1.2 -0.85zM551.56 669.20l1.2 0.8l1.2 -0.8v0.8l-1.2 0.85l-1.2 -0.85zM551.56 672.24l1.2 0.8l1.2 -0.8v0.8l-1.2 0.85l-1.2 -0.85zM551.56 675.28l1.2 0.8l1.2 -0.8v0.8l-1.2 0.85l-1.2 -0.85zM551.56 678.32l1.2 0.8l1.2 -0.8v0.8l-1.2 0.85l-1.2 -0.85zM551.56 681.36l1.2 0.8l1.2 -0.8v0.8l-1.2 0.85l-1.2 -0.85zM551.56 684.40l1.2 0.8l1.2 -0.8v0.8l-1.2 0.85l-1.2 -0.85zM551.56 687.44l1.2 0.8l1.2 -0.8v0.8l-1.2 0.85l-1.2 -0.85zM551.56 690.48l1.2 0.8l1.2 -0.8v0.8l-1.2 0.85l-1.2 -0.85zM551.56 693.52l1.2 0.8l1.2 -0.8v0.8l-1.2 0.85l-1.2 -0.85zM551.56 696.56l1.2 0.8l1.2 -0.8v0.8l-1.2 0.85l-1.2 -0.85zM551.56 699.60l1.2 0.8l1.2 -0.8v0.8l-1.2 0.85l-1.2 -0.85zM551.56 702.64l1.2 0.8l1.2 -0.8v0.8l-1.2 0.85l-1.2 -0.85zM551.56 705.68l1.2 0.8l1.2 -0.8v0.8l-1.2 0.85l-1.2 -0.85zM551.56 708.72l1.2 0.8l1.2 -0.8v0.8l-1.2 0.85l-1.2 -0.85zM551.56 711.76l1.2 0.8l1.2 -0.8v0.8l-1.2 0.85l-1.2 -0.85zM551.56 714.80l1.2 0.8l1.2 -0.8v0.8l-1.2 0.85l-1.2 -0.85zM551.56 717.84l1.2 0.8l1.2 -0.8v0.8l-1.2 0.85l-1.2 -0.85zM551.56 720.88l1.2 0.8l1.2 -0.8v0.8l-1.2 0.85l-1.2 -0.85zM551.56 723.92l1.2 0.8l1.2 -0.8v0.8l-1.2 0.85l-1.2 -0.85zM551.56 726.96l1.2 0.8l1.2 -0.8v0.8l-1.2 0.85l-1.2 -0.85zM551.56 730.00l1.2 0.8l1.2 -0.8v0.8l-1.2 0.85l-1.2 -0.85zM551.56 733.04l1.2 0.8l1.2 -0.8v0.8l-1.2 0.85l-1.2 -0.85zM551.56 736.08l1.2 0.8l1.2 -0.8v0.8l-1.2 0.85l-1.2 -0.85zM551.56 739.12l1.2 0.8l1.2 -0.8v0.8l-1.2 0.85l-1.2 -0.85zM551.56 742.16l1.2 0.8l1.2 -0.8v0.8l-1.2 0.85l-1.2 -0.85zM551.56 745.20l1.2 0.8l1.2 -0.8v0.8l-1.2 0.85l-1.2 -0.85zM551.56 748.24l1.2 0.8l1.2 -0.8v0.8l-1.2 0.85l-1.2 -0.85zM551.56 751.28l1.2 0.8l1.2 -0.8v0.8l-1.2 0.85l-1.2 -0.85zM551.56 754.32l1.2 0.8l1.2 -0.8v0.8l-1.2 0.85l-1.2 -0.85zM554.66 637.28l1.2 0.8l1.2 -0.8v0.8l-1.2 0.85l-1.2 -0.85zM554.66 640.32l1.2 0.8l1.2 -0.8v0.8l-1.2 0.85l-1.2 -0.85zM554.66 643.36l1.2 0.8l1.2 -0.8v0.8l-1.2 0.85l-1.2 -0.85zM554.66 646.40l1.2 0.8l1.2 -0.8v0.8l-1.2 0.85l-1.2 -0.85zM554.66 649.44l1.2 0.8l1.2 -0.8v0.8l-1.2 0.85l-1.2 -0.85zM554.66 652.48l1.2 0.8l1.2 -0.8v0.8l-1.2 0.85l-1.2 -0.85zM554.66 655.52l1.2 0.8l1.2 -0.8v0.8l-1.2 0.85l-1.2 -0.85zM554.66 658.56l1.2 0.8l1.2 -0.8v0.8l-1.2 0.85l-1.2 -0.85zM554.66 661.60l1.2 0.8l1.2 -0.8v0.8l-1.2 0.85l-1.2 -0.85zM554.66 664.64l1.2 0.8l1.2 -0.8v0.8l-1.2 0.85l-1.2 -0.85zM554.66 667.68l1.2 0.8l1.2 -0.8v0.8l-1.2 0.85l-1.2 -0.85zM554.66 670.72l1.2 0.8l1.2 -0.8v0.8l-1.2 0.85l-1.2 -0.85zM554.66 673.76l1.2 0.8l1.2 -0.8v0.8l-1.2 0.85l-1.2 -0.85zM554.66 676.80l1.2 0.8l1.2 -0.8v0.8l-1.2 0.85l-1.2 -0.85zM554.66 679.84l1.2 0.8l1.2 -0.8v0.8l-1.2 0.85l-1.2 -0.85zM554.66 682.88l1.2 0.8l1.2 -0.8v0.8l-1.2 0.85l-1.2 -0.85zM554.66 685.92l1.2 0.8l1.2 -0.8v0.8l-1.2 0.85l-1.2 -0.85zM554.66 688.96l1.2 0.8l1.2 -0.8v0.8l-1.2 0.85l-1.2 -0.85zM554.66 692.00l1.2 0.8l1.2 -0.8v0.8l-1.2 0.85l-1.2 -0.85zM554.66 695.04l1.2 0.8l1.2 -0.8v0.8l-1.2 0.85l-1.2 -0.85zM554.66 698.08l1.2 0.8l1.2 -0.8v0.8l-1.2 0.85l-1.2 -0.85zM554.66 701.12l1.2 0.8l1.2 -0.8v0.8l-1.2 0.85l-1.2 -0.85zM554.66 704.16l1.2 0.8l1.2 -0.8v0.8l-1.2 0.85l-1.2 -0.85zM554.66 707.20l1.2 0.8l1.2 -0.8v0.8l-1.2 0.85l-1.2 -0.85zM554.66 710.24l1.2 0.8l1.2 -0.8v0.8l-1.2 0.85l-1.2 -0.85zM554.66 713.28l1.2 0.8l1.2 -0.8v0.8l-1.2 0.85l-1.2 -0.85zM554.66 716.32l1.2 0.8l1.2 -0.8v0.8l-1.2 0.85l-1.2 -0.85zM554.66 719.36l1.2 0.8l1.2 -0.8v0.8l-1.2 0.85l-1.2 -0.85zM554.66 722.40l1.2 0.8l1.2 -0.8v0.8l-1.2 0.85l-1.2 -0.85zM554.66 725.44l1.2 0.8l1.2 -0.8v0.8l-1.2 0.85l-1.2 -0.85zM554.66 728.48l1.2 0.8l1.2 -0.8v0.8l-1.2 0.85l-1.2 -0.85zM554.66 731.52l1.2 0.8l1.2 -0.8v0.8l-1.2 0.85l-1.2 -0.85zM554.66 734.56l1.2 0.8l1.2 -0.8v0.8l-1.2 0.85l-1.2 -0.85zM554.66 737.60l1.2 0.8l1.2 -0.8v0.8l-1.2 0.85l-1.2 -0.85zM554.66 740.64l1.2 0.8l1.2 -0.8v0.8l-1.2 0.85l-1.2 -0.85zM554.66 743.68l1.2 0.8l1.2 -0.8v0.8l-1.2 0.85l-1.2 -0.85zM554.66 746.72l1.2 0.8l1.2 -0.8v0.8l-1.2 0.85l-1.2 -0.85zM554.66 749.76l1.2 0.8l1.2 -0.8v0.8l-1.2 0.85l-1.2 -0.85zM554.66 752.80l1.2 0.8l1.2 -0.8v0.8l-1.2 0.85l-1.2 -0.85z" fill="#333"/>
<rect x="541.86" y="636.70" width="12.90" height="117.60" fill="none" stroke="#888" stroke-width="0.7"/>
<rect x="541.86" y="600.40" width="12.90" height="24.90" fill="#fff"/>
<path clip-path="url(#c19)" d="M542.26 600.80l1.2 0.8l1.2 -0.8v0.8l-1.2 0.85l-1.2 -0.85zM542.26 603.84l1.2 0.8l1.2 -0.8v0.8l-1.2 0.85l-1.2 -0.85zM542.26 606.88l1.2 0.8l1.2 -0.8v0.8l-1.2 0.85l-1.2 -0.85zM542.26 609.92l1.2 0.8l1.2 -0.8v0.8l-1.2 0.85l-1.2 -0.85zM542.26 612.96l1.2 0.8l1.2 -0.8v0.8l-1.2 0.85l-1.2 -0.85zM542.26 616.00l1.2 0.8l1.2 -0.8v0.8l-1.2 0.85l-1.2 -0.85zM542.26 619.04l1.2 0.8l1.2 -0.8v0.8l-1.2 0.85l-1.2 -0.85zM542.26 622.08l1.2 0.8l1.2 -0.8v0.8l-1.2 0.85l-1.2 -0.85zM542.26 625.12l1.2 0.8l1.2 -0.8v0.8l-1.2 0.85l-1.2 -0.85zM545.36 599.28l1.2 0.8l1.2 -0.8v0.8l-1.2 0.85l-1.2 -0.85zM545.36 602.32l1.2 0.8l1.2 -0.8v0.8l-1.2 0.85l-1.2 -0.85zM545.36 605.36l1.2 0.8l1.2 -0.8v0.8l-1.2 0.85l-1.2 -0.85zM545.36 608.40l1.2 0.8l1.2 -0.8v0.8l-1.2 0.85l-1.2 -0.85zM545.36 611.44l1.2 0.8l1.2 -0.8v0.8l-1.2 0.85l-1.2 -0.85zM545.36 614.48l1.2 0.8l1.2 -0.8v0.8l-1.2 0.85l-1.2 -0.85zM545.36 617.52l1.2 0.8l1.2 -0.8v0.8l-1.2 0.85l-1.2 -0.85zM545.36 620.56l1.2 0.8l1.2 -0.8v0.8l-1.2 0.85l-1.2 -0.85zM545.36 623.60l1.2 0.8l1.2 -0.8v0.8l-1.2 0.85l-1.2 -0.85zM548.46 600.80l1.2 0.8l1.2 -0.8v0.8l-1.2 0.85l-1.2 -0.85zM548.46 603.84l1.2 0.8l1.2 -0.8v0.8l-1.2 0.85l-1.2 -0.85zM548.46 606.88l1.2 0.8l1.2 -0.8v0.8l-1.2 0.85l-1.2 -0.85zM548.46 609.92l1.2 0.8l1.2 -0.8v0.8l-1.2 0.85l-1.2 -0.85zM548.46 612.96l1.2 0.8l1.2 -0.8v0.8l-1.2 0.85l-1.2 -0.85zM548.46 616.00l1.2 0.8l1.2 -0.8v0.8l-1.2 0.85l-1.2 -0.85zM548.46 619.04l1.2 0.8l1.2 -0.8v0.8l-1.2 0.85l-1.2 -0.85zM548.46 622.08l1.2 0.8l1.2 -0.8v0.8l-1.2 0.85l-1.2 -0.85zM548.46 625.12l1.2 0.8l1.2 -0.8v0.8l-1.2 0.85l-1.2 -0.85zM551.56 599.28l1.2 0.8l1.2 -0.8v0.8l-1.2 0.85l-1.2 -0.85zM551.56 602.32l1.2 0.8l1.2 -0.8v0.8l-1.2 0.85l-1.2 -0.85zM551.56 605.36l1.2 0.8l1.2 -0.8v0.8l-1.2 0.85l-1.2 -0.85zM551.56 608.40l1.2 0.8l1.2 -0.8v0.8l-1.2 0.85l-1.2 -0.85zM551.56 611.44l1.2 0.8l1.2 -0.8v0.8l-1.2 0.85l-1.2 -0.85zM551.56 614.48l1.2 0.8l1.2 -0.8v0.8l-1.2 0.85l-1.2 -0.85zM551.56 617.52l1.2 0.8l1.2 -0.8v0.8l-1.2 0.85l-1.2 -0.85zM551.56 620.56l1.2 0.8l1.2 -0.8v0.8l-1.2 0.85l-1.2 -0.85zM551.56 623.60l1.2 0.8l1.2 -0.8v0.8l-1.2 0.85l-1.2 -0.85zM554.66 600.80l1.2 0.8l1.2 -0.8v0.8l-1.2 0.85l-1.2 -0.85zM554.66 603.84l1.2 0.8l1.2 -0.8v0.8l-1.2 0.85l-1.2 -0.85zM554.66 606.88l1.2 0.8l1.2 -0.8v0.8l-1.2 0.85l-1.2 -0.85zM554.66 609.92l1.2 0.8l1.2 -0.8v0.8l-1.2 0.85l-1.2 -0.85zM554.66 612.96l1.2 0.8l1.2 -0.8v0.8l-1.2 0.85l-1.2 -0.85zM554.66 616.00l1.2 0.8l1.2 -0.8v0.8l-1.2 0.85l-1.2 -0.85zM554.66 619.04l1.2 0.8l1.2 -0.8v0.8l-1.2 0.85l-1.2 -0.85zM554.66 622.08l1.2 0.8l1.2 -0.8v0.8l-1.2 0.85l-1.2 -0.85zM554.66 625.12l1.2 0.8l1.2 -0.8v0.8l-1.2 0.85l-1.2 -0.85z" fill="#333"/>
<rect x="541.86" y="600.40" width="12.90" height="24.90" fill="none" stroke="#888" stroke-width="0.7"/>
<rect x="541.86" y="578.10" width="12.90" height="10.20" fill="#fff"/>
<path clip-path="url(#c20)" d="M542.26 579.52l1.2 0.8l1.2 -0.8v0.8l-1.2 0.85l-1.2 -0.85zM542.26 582.56l1.2 0.8l1.2 -0.8v0.8l-1.2 0.85l-1.2 -0.85zM542.26 585.60l1.2 0.8l1.2 -0.8v0.8l-1.2 0.85l-1.2 -0.85zM542.26 588.64l1.2 0.8l1.2 -0.8v0.8l-1.2 0.85l-1.2 -0.85zM545.36 578.00l1.2 0.8l1.2 -0.8v0.8l-1.2 0.85l-1.2 -0.85zM545.36 581.04l1.2 0.8l1.2 -0.8v0.8l-1.2 0.85l-1.2 -0.85zM545.36 584.08l1.2 0.8l1.2 -0.8v0.8l-1.2 0.85l-1.2 -0.85zM545.36 587.12l1.2 0.8l1.2 -0.8v0.8l-1.2 0.85l-1.2 -0.85zM548.46 579.52l1.2 0.8l1.2 -0.8v0.8l-1.2 0.85l-1.2 -0.85zM548.46 582.56l1.2 0.8l1.2 -0.8v0.8l-1.2 0.85l-1.2 -0.85zM548.46 585.60l1.2 0.8l1.2 -0.8v0.8l-1.2 0.85l-1.2 -0.85zM548.46 588.64l1.2 0.8l1.2 -0.8v0.8l-1.2 0.85l-1.2 -0.85zM551.56 578.00l1.2 0.8l1.2 -0.8v0.8l-1.2 0.85l-1.2 -0.85zM551.56 581.04l1.2 0.8l1.2 -0.8v0.8l-1.2 0.85l-1.2 -0.85zM551.56 584.08l1.2 0.8l1.2 -0.8v0.8l-1.2 0.85l-1.2 -0.85zM551.56 587.12l1.2 0.8l1.2 -0.8v0.8l-1.2 0.85l-1.2 -0.85zM554.66 579.52l1.2 0.8l1.2 -0.8v0.8l-1.2 0.85l-1.2 -0.85zM554.66 582.56l1.2 0.8l1.2 -0.8v0.8l-1.2 0.85l-1.2 -0.85zM554.66 585.60l1.2 0.8l1.2 -0.8v0.8l-1.2 0.85l-1.2 -0.85zM554.66 588.64l1.2 0.8l1.2 -0.8v0.8l-1.2 0.85l-1.2 -0.85z" fill="#333"/>
<rect x="541.86" y="578.10" width="12.90" height="10.20" fill="none" stroke="#888" stroke-width="0.7"/>
<line x1="548.31" y1="578.10" x2="548.31" y2="576.40" stroke="#777" stroke-width="1.00"/>
<line x1="545.21" y1="576.40" x2="551.41" y2="576.40" stroke="#777" stroke-width="1.00"/>
<rect x="560.49" y="636.70" width="12.90" height="117.60" fill="#fff"/>
<path clip-path="url(#c21)" d="M560.89 637.28l1.2 0.8l1.2 -0.8v0.8l-1.2 0.85l-1.2 -0.85zM560.89 640.32l1.2 0.8l1.2 -0.8v0.8l-1.2 0.85l-1.2 -0.85zM560.89 643.36l1.2 0.8l1.2 -0.8v0.8l-1.2 0.85l-1.2 -0.85zM560.89 646.40l1.2 0.8l1.2 -0.8v0.8l-1.2 0.85l-1.2 -0.85zM560.89 649.44l1.2 0.8l1.2 -0.8v0.8l-1.2 0.85l-1.2 -0.85zM560.89 652.48l1.2 0.8l1.2 -0.8v0.8l-1.2 0.85l-1.2 -0.85zM560.89 655.52l1.2 0.8l1.2 -0.8v0.8l-1.2 0.85l-1.2 -0.85zM560.89 658.56l1.2 0.8l1.2 -0.8v0.8l-1.2 0.85l-1.2 -0.85zM560.89 661.60l1.2 0.8l1.2 -0.8v0.8l-1.2 0.85l-1.2 -0.85zM560.89 664.64l1.2 0.8l1.2 -0.8v0.8l-1.2 0.85l-1.2 -0.85zM560.89 667.68l1.2 0.8l1.2 -0.8v0.8l-1.2 0.85l-1.2 -0.85zM560.89 670.72l1.2 0.8l1.2 -0.8v0.8l-1.2 0.85l-1.2 -0.85zM560.89 673.76l1.2 0.8l1.2 -0.8v0.8l-1.2 0.85l-1.2 -0.85zM560.89 676.80l1.2 0.8l1.2 -0.8v0.8l-1.2 0.85l-1.2 -0.85zM560.89 679.84l1.2 0.8l1.2 -0.8v0.8l-1.2 0.85l-1.2 -0.85zM560.89 682.88l1.2 0.8l1.2 -0.8v0.8l-1.2 0.85l-1.2 -0.85zM560.89 685.92l1.2 0.8l1.2 -0.8v0.8l-1.2 0.85l-1.2 -0.85zM560.89 688.96l1.2 0.8l1.2 -0.8v0.8l-1.2 0.85l-1.2 -0.85zM560.89 692.00l1.2 0.8l1.2 -0.8v0.8l-1.2 0.85l-1.2 -0.85zM560.89 695.04l1.2 0.8l1.2 -0.8v0.8l-1.2 0.85l-1.2 -0.85zM560.89 698.08l1.2 0.8l1.2 -0.8v0.8l-1.2 0.85l-1.2 -0.85zM560.89 701.12l1.2 0.8l1.2 -0.8v0.8l-1.2 0.85l-1.2 -0.85zM560.89 704.16l1.2 0.8l1.2 -0.8v0.8l-1.2 0.85l-1.2 -0.85zM560.89 707.20l1.2 0.8l1.2 -0.8v0.8l-1.2 0.85l-1.2 -0.85zM560.89 710.24l1.2 0.8l1.2 -0.8v0.8l-1.2 0.85l-1.2 -0.85zM560.89 713.28l1.2 0.8l1.2 -0.8v0.8l-1.2 0.85l-1.2 -0.85zM560.89 716.32l1.2 0.8l1.2 -0.8v0.8l-1.2 0.85l-1.2 -0.85zM560.89 719.36l1.2 0.8l1.2 -0.8v0.8l-1.2 0.85l-1.2 -0.85zM560.89 722.40l1.2 0.8l1.2 -0.8v0.8l-1.2 0.85l-1.2 -0.85zM560.89 725.44l1.2 0.8l1.2 -0.8v0.8l-1.2 0.85l-1.2 -0.85zM560.89 728.48l1.2 0.8l1.2 -0.8v0.8l-1.2 0.85l-1.2 -0.85zM560.89 731.52l1.2 0.8l1.2 -0.8v0.8l-1.2 0.85l-1.2 -0.85zM560.89 734.56l1.2 0.8l1.2 -0.8v0.8l-1.2 0.85l-1.2 -0.85zM560.89 737.60l1.2 0.8l1.2 -0.8v0.8l-1.2 0.85l-1.2 -0.85zM560.89 740.64l1.2 0.8l1.2 -0.8v0.8l-1.2 0.85l-1.2 -0.85zM560.89 743.68l1.2 0.8l1.2 -0.8v0.8l-1.2 0.85l-1.2 -0.85zM560.89 746.72l1.2 0.8l1.2 -0.8v0.8l-1.2 0.85l-1.2 -0.85zM560.89 749.76l1.2 0.8l1.2 -0.8v0.8l-1.2 0.85l-1.2 -0.85zM560.89 752.80l1.2 0.8l1.2 -0.8v0.8l-1.2 0.85l-1.2 -0.85zM563.99 635.76l1.2 0.8l1.2 -0.8v0.8l-1.2 0.85l-1.2 -0.85zM563.99 638.80l1.2 0.8l1.2 -0.8v0.8l-1.2 0.85l-1.2 -0.85zM563.99 641.84l1.2 0.8l1.2 -0.8v0.8l-1.2 0.85l-1.2 -0.85zM563.99 644.88l1.2 0.8l1.2 -0.8v0.8l-1.2 0.85l-1.2 -0.85zM563.99 647.92l1.2 0.8l1.2 -0.8v0.8l-1.2 0.85l-1.2 -0.85zM563.99 650.96l1.2 0.8l1.2 -0.8v0.8l-1.2 0.85l-1.2 -0.85zM563.99 654.00l1.2 0.8l1.2 -0.8v0.8l-1.2 0.85l-1.2 -0.85zM563.99 657.04l1.2 0.8l1.2 -0.8v0.8l-1.2 0.85l-1.2 -0.85zM563.99 660.08l1.2 0.8l1.2 -0.8v0.8l-1.2 0.85l-1.2 -0.85zM563.99 663.12l1.2 0.8l1.2 -0.8v0.8l-1.2 0.85l-1.2 -0.85zM563.99 666.16l1.2 0.8l1.2 -0.8v0.8l-1.2 0.85l-1.2 -0.85zM563.99 669.20l1.2 0.8l1.2 -0.8v0.8l-1.2 0.85l-1.2 -0.85zM563.99 672.24l1.2 0.8l1.2 -0.8v0.8l-1.2 0.85l-1.2 -0.85zM563.99 675.28l1.2 0.8l1.2 -0.8v0.8l-1.2 0.85l-1.2 -0.85zM563.99 678.32l1.2 0.8l1.2 -0.8v0.8l-1.2 0.85l-1.2 -0.85zM563.99 681.36l1.2 0.8l1.2 -0.8v0.8l-1.2 0.85l-1.2 -0.85zM563.99 684.40l1.2 0.8l1.2 -0.8v0.8l-1.2 0.85l-1.2 -0.85zM563.99 687.44l1.2 0.8l1.2 -0.8v0.8l-1.2 0.85l-1.2 -0.85zM563.99 690.48l1.2 0.8l1.2 -0.8v0.8l-1.2 0.85l-1.2 -0.85zM563.99 693.52l1.2 0.8l1.2 -0.8v0.8l-1.2 0.85l-1.2 -0.85zM563.99 696.56l1.2 0.8l1.2 -0.8v0.8l-1.2 0.85l-1.2 -0.85zM563.99 699.60l1.2 0.8l1.2 -0.8v0.8l-1.2 0.85l-1.2 -0.85zM563.99 702.64l1.2 0.8l1.2 -0.8v0.8l-1.2 0.85l-1.2 -0.85zM563.99 705.68l1.2 0.8l1.2 -0.8v0.8l-1.2 0.85l-1.2 -0.85zM563.99 708.72l1.2 0.8l1.2 -0.8v0.8l-1.2 0.85l-1.2 -0.85zM563.99 711.76l1.2 0.8l1.2 -0.8v0.8l-1.2 0.85l-1.2 -0.85zM563.99 714.80l1.2 0.8l1.2 -0.8v0.8l-1.2 0.85l-1.2 -0.85zM563.99 717.84l1.2 0.8l1.2 -0.8v0.8l-1.2 0.85l-1.2 -0.85zM563.99 720.88l1.2 0.8l1.2 -0.8v0.8l-1.2 0.85l-1.2 -0.85zM563.99 723.92l1.2 0.8l1.2 -0.8v0.8l-1.2 0.85l-1.2 -0.85zM563.99 726.96l1.2 0.8l1.2 -0.8v0.8l-1.2 0.85l-1.2 -0.85zM563.99 730.00l1.2 0.8l1.2 -0.8v0.8l-1.2 0.85l-1.2 -0.85zM563.99 733.04l1.2 0.8l1.2 -0.8v0.8l-1.2 0.85l-1.2 -0.85zM563.99 736.08l1.2 0.8l1.2 -0.8v0.8l-1.2 0.85l-1.2 -0.85zM563.99 739.12l1.2 0.8l1.2 -0.8v0.8l-1.2 0.85l-1.2 -0.85zM563.99 742.16l1.2 0.8l1.2 -0.8v0.8l-1.2 0.85l-1.2 -0.85zM563.99 745.20l1.2 0.8l1.2 -0.8v0.8l-1.2 0.85l-1.2 -0.85zM563.99 748.24l1.2 0.8l1.2 -0.8v0.8l-1.2 0.85l-1.2 -0.85zM563.99 751.28l1.2 0.8l1.2 -0.8v0.8l-1.2 0.85l-1.2 -0.85zM563.99 754.32l1.2 0.8l1.2 -0.8v0.8l-1.2 0.85l-1.2 -0.85zM567.09 637.28l1.2 0.8l1.2 -0.8v0.8l-1.2 0.85l-1.2 -0.85zM567.09 640.32l1.2 0.8l1.2 -0.8v0.8l-1.2 0.85l-1.2 -0.85zM567.09 643.36l1.2 0.8l1.2 -0.8v0.8l-1.2 0.85l-1.2 -0.85zM567.09 646.40l1.2 0.8l1.2 -0.8v0.8l-1.2 0.85l-1.2 -0.85zM567.09 649.44l1.2 0.8l1.2 -0.8v0.8l-1.2 0.85l-1.2 -0.85zM567.09 652.48l1.2 0.8l1.2 -0.8v0.8l-1.2 0.85l-1.2 -0.85zM567.09 655.52l1.2 0.8l1.2 -0.8v0.8l-1.2 0.85l-1.2 -0.85zM567.09 658.56l1.2 0.8l1.2 -0.8v0.8l-1.2 0.85l-1.2 -0.85zM567.09 661.60l1.2 0.8l1.2 -0.8v0.8l-1.2 0.85l-1.2 -0.85zM567.09 664.64l1.2 0.8l1.2 -0.8v0.8l-1.2 0.85l-1.2 -0.85zM567.09 667.68l1.2 0.8l1.2 -0.8v0.8l-1.2 0.85l-1.2 -0.85zM567.09 670.72l1.2 0.8l1.2 -0.8v0.8l-1.2 0.85l-1.2 -0.85zM567.09 673.76l1.2 0.8l1.2 -0.8v0.8l-1.2 0.85l-1.2 -0.85zM567.09 676.80l1.2 0.8l1.2 -0.8v0.8l-1.2 0.85l-1.2 -0.85zM567.09 679.84l1.2 0.8l1.2 -0.8v0.8l-1.2 0.85l-1.2 -0.85zM567.09 682.88l1.2 0.8l1.2 -0.8v0.8l-1.2 0.85l-1.2 -0.85zM567.09 685.92l1.2 0.8l1.2 -0.8v0.8l-1.2 0.85l-1.2 -0.85zM567.09 688.96l1.2 0.8l1.2 -0.8v0.8l-1.2 0.85l-1.2 -0.85zM567.09 692.00l1.2 0.8l1.2 -0.8v0.8l-1.2 0.85l-1.2 -0.85zM567.09 695.04l1.2 0.8l1.2 -0.8v0.8l-1.2 0.85l-1.2 -0.85zM567.09 698.08l1.2 0.8l1.2 -0.8v0.8l-1.2 0.85l-1.2 -0.85zM567.09 701.12l1.2 0.8l1.2 -0.8v0.8l-1.2 0.85l-1.2 -0.85zM567.09 704.16l1.2 0.8l1.2 -0.8v0.8l-1.2 0.85l-1.2 -0.85zM567.09 707.20l1.2 0.8l1.2 -0.8v0.8l-1.2 0.85l-1.2 -0.85zM567.09 710.24l1.2 0.8l1.2 -0.8v0.8l-1.2 0.85l-1.2 -0.85zM567.09 713.28l1.2 0.8l1.2 -0.8v0.8l-1.2 0.85l-1.2 -0.85zM567.09 716.32l1.2 0.8l1.2 -0.8v0.8l-1.2 0.85l-1.2 -0.85zM567.09 719.36l1.2 0.8l1.2 -0.8v0.8l-1.2 0.85l-1.2 -0.85zM567.09 722.40l1.2 0.8l1.2 -0.8v0.8l-1.2 0.85l-1.2 -0.85zM567.09 725.44l1.2 0.8l1.2 -0.8v0.8l-1.2 0.85l-1.2 -0.85zM567.09 728.48l1.2 0.8l1.2 -0.8v0.8l-1.2 0.85l-1.2 -0.85zM567.09 731.52l1.2 0.8l1.2 -0.8v0.8l-1.2 0.85l-1.2 -0.85zM567.09 734.56l1.2 0.8l1.2 -0.8v0.8l-1.2 0.85l-1.2 -0.85zM567.09 737.60l1.2 0.8l1.2 -0.8v0.8l-1.2 0.85l-1.2 -0.85zM567.09 740.64l1.2 0.8l1.2 -0.8v0.8l-1.2 0.85l-1.2 -0.85zM567.09 743.68l1.2 0.8l1.2 -0.8v0.8l-1.2 0.85l-1.2 -0.85zM567.09 746.72l1.2 0.8l1.2 -0.8v0.8l-1.2 0.85l-1.2 -0.85zM567.09 749.76l1.2 0.8l1.2 -0.8v0.8l-1.2 0.85l-1.2 -0.85zM567.09 752.80l1.2 0.8l1.2 -0.8v0.8l-1.2 0.85l-1.2 -0.85zM570.19 635.76l1.2 0.8l1.2 -0.8v0.8l-1.2 0.85l-1.2 -0.85zM570.19 638.80l1.2 0.8l1.2 -0.8v0.8l-1.2 0.85l-1.2 -0.85zM570.19 641.84l1.2 0.8l1.2 -0.8v0.8l-1.2 0.85l-1.2 -0.85zM570.19 644.88l1.2 0.8l1.2 -0.8v0.8l-1.2 0.85l-1.2 -0.85zM570.19 647.92l1.2 0.8l1.2 -0.8v0.8l-1.2 0.85l-1.2 -0.85zM570.19 650.96l1.2 0.8l1.2 -0.8v0.8l-1.2 0.85l-1.2 -0.85zM570.19 654.00l1.2 0.8l1.2 -0.8v0.8l-1.2 0.85l-1.2 -0.85zM570.19 657.04l1.2 0.8l1.2 -0.8v0.8l-1.2 0.85l-1.2 -0.85zM570.19 660.08l1.2 0.8l1.2 -0.8v0.8l-1.2 0.85l-1.2 -0.85zM570.19 663.12l1.2 0.8l1.2 -0.8v0.8l-1.2 0.85l-1.2 -0.85zM570.19 666.16l1.2 0.8l1.2 -0.8v0.8l-1.2 0.85l-1.2 -0.85zM570.19 669.20l1.2 0.8l1.2 -0.8v0.8l-1.2 0.85l-1.2 -0.85zM570.19 672.24l1.2 0.8l1.2 -0.8v0.8l-1.2 0.85l-1.2 -0.85zM570.19 675.28l1.2 0.8l1.2 -0.8v0.8l-1.2 0.85l-1.2 -0.85zM570.19 678.32l1.2 0.8l1.2 -0.8v0.8l-1.2 0.85l-1.2 -0.85zM570.19 681.36l1.2 0.8l1.2 -0.8v0.8l-1.2 0.85l-1.2 -0.85zM570.19 684.40l1.2 0.8l1.2 -0.8v0.8l-1.2 0.85l-1.2 -0.85zM570.19 687.44l1.2 0.8l1.2 -0.8v0.8l-1.2 0.85l-1.2 -0.85zM570.19 690.48l1.2 0.8l1.2 -0.8v0.8l-1.2 0.85l-1.2 -0.85zM570.19 693.52l1.2 0.8l1.2 -0.8v0.8l-1.2 0.85l-1.2 -0.85zM570.19 696.56l1.2 0.8l1.2 -0.8v0.8l-1.2 0.85l-1.2 -0.85zM570.19 699.60l1.2 0.8l1.2 -0.8v0.8l-1.2 0.85l-1.2 -0.85zM570.19 702.64l1.2 0.8l1.2 -0.8v0.8l-1.2 0.85l-1.2 -0.85zM570.19 705.68l1.2 0.8l1.2 -0.8v0.8l-1.2 0.85l-1.2 -0.85zM570.19 708.72l1.2 0.8l1.2 -0.8v0.8l-1.2 0.85l-1.2 -0.85zM570.19 711.76l1.2 0.8l1.2 -0.8v0.8l-1.2 0.85l-1.2 -0.85zM570.19 714.80l1.2 0.8l1.2 -0.8v0.8l-1.2 0.85l-1.2 -0.85zM570.19 717.84l1.2 0.8l1.2 -0.8v0.8l-1.2 0.85l-1.2 -0.85zM570.19 720.88l1.2 0.8l1.2 -0.8v0.8l-1.2 0.85l-1.2 -0.85zM570.19 723.92l1.2 0.8l1.2 -0.8v0.8l-1.2 0.85l-1.2 -0.85zM570.19 726.96l1.2 0.8l1.2 -0.8v0.8l-1.2 0.85l-1.2 -0.85zM570.19 730.00l1.2 0.8l1.2 -0.8v0.8l-1.2 0.85l-1.2 -0.85zM570.19 733.04l1.2 0.8l1.2 -0.8v0.8l-1.2 0.85l-1.2 -0.85zM570.19 736.08l1.2 0.8l1.2 -0.8v0.8l-1.2 0.85l-1.2 -0.85zM570.19 739.12l1.2 0.8l1.2 -0.8v0.8l-1.2 0.85l-1.2 -0.85zM570.19 742.16l1.2 0.8l1.2 -0.8v0.8l-1.2 0.85l-1.2 -0.85zM570.19 745.20l1.2 0.8l1.2 -0.8v0.8l-1.2 0.85l-1.2 -0.85zM570.19 748.24l1.2 0.8l1.2 -0.8v0.8l-1.2 0.85l-1.2 -0.85zM570.19 751.28l1.2 0.8l1.2 -0.8v0.8l-1.2 0.85l-1.2 -0.85zM570.19 754.32l1.2 0.8l1.2 -0.8v0.8l-1.2 0.85l-1.2 -0.85zM573.29 637.28l1.2 0.8l1.2 -0.8v0.8l-1.2 0.85l-1.2 -0.85zM573.29 640.32l1.2 0.8l1.2 -0.8v0.8l-1.2 0.85l-1.2 -0.85zM573.29 643.36l1.2 0.8l1.2 -0.8v0.8l-1.2 0.85l-1.2 -0.85zM573.29 646.40l1.2 0.8l1.2 -0.8v0.8l-1.2 0.85l-1.2 -0.85zM573.29 649.44l1.2 0.8l1.2 -0.8v0.8l-1.2 0.85l-1.2 -0.85zM573.29 652.48l1.2 0.8l1.2 -0.8v0.8l-1.2 0.85l-1.2 -0.85zM573.29 655.52l1.2 0.8l1.2 -0.8v0.8l-1.2 0.85l-1.2 -0.85zM573.29 658.56l1.2 0.8l1.2 -0.8v0.8l-1.2 0.85l-1.2 -0.85zM573.29 661.60l1.2 0.8l1.2 -0.8v0.8l-1.2 0.85l-1.2 -0.85zM573.29 664.64l1.2 0.8l1.2 -0.8v0.8l-1.2 0.85l-1.2 -0.85zM573.29 667.68l1.2 0.8l1.2 -0.8v0.8l-1.2 0.85l-1.2 -0.85zM573.29 670.72l1.2 0.8l1.2 -0.8v0.8l-1.2 0.85l-1.2 -0.85zM573.29 673.76l1.2 0.8l1.2 -0.8v0.8l-1.2 0.85l-1.2 -0.85zM573.29 676.80l1.2 0.8l1.2 -0.8v0.8l-1.2 0.85l-1.2 -0.85zM573.29 679.84l1.2 0.8l1.2 -0.8v0.8l-1.2 0.85l-1.2 -0.85zM573.29 682.88l1.2 0.8l1.2 -0.8v0.8l-1.2 0.85l-1.2 -0.85zM573.29 685.92l1.2 0.8l1.2 -0.8v0.8l-1.2 0.85l-1.2 -0.85zM573.29 688.96l1.2 0.8l1.2 -0.8v0.8l-1.2 0.85l-1.2 -0.85zM573.29 692.00l1.2 0.8l1.2 -0.8v0.8l-1.2 0.85l-1.2 -0.85zM573.29 695.04l1.2 0.8l1.2 -0.8v0.8l-1.2 0.85l-1.2 -0.85zM573.29 698.08l1.2 0.8l1.2 -0.8v0.8l-1.2 0.85l-1.2 -0.85zM573.29 701.12l1.2 0.8l1.2 -0.8v0.8l-1.2 0.85l-1.2 -0.85zM573.29 704.16l1.2 0.8l1.2 -0.8v0.8l-1.2 0.85l-1.2 -0.85zM573.29 707.20l1.2 0.8l1.2 -0.8v0.8l-1.2 0.85l-1.2 -0.85zM573.29 710.24l1.2 0.8l1.2 -0.8v0.8l-1.2 0.85l-1.2 -0.85zM573.29 713.28l1.2 0.8l1.2 -0.8v0.8l-1.2 0.85l-1.2 -0.85zM573.29 716.32l1.2 0.8l1.2 -0.8v0.8l-1.2 0.85l-1.2 -0.85zM573.29 719.36l1.2 0.8l1.2 -0.8v0.8l-1.2 0.85l-1.2 -0.85zM573.29 722.40l1.2 0.8l1.2 -0.8v0.8l-1.2 0.85l-1.2 -0.85zM573.29 725.44l1.2 0.8l1.2 -0.8v0.8l-1.2 0.85l-1.2 -0.85zM573.29 728.48l1.2 0.8l1.2 -0.8v0.8l-1.2 0.85l-1.2 -0.85zM573.29 731.52l1.2 0.8l1.2 -0.8v0.8l-1.2 0.85l-1.2 -0.85zM573.29 734.56l1.2 0.8l1.2 -0.8v0.8l-1.2 0.85l-1.2 -0.85zM573.29 737.60l1.2 0.8l1.2 -0.8v0.8l-1.2 0.85l-1.2 -0.85zM573.29 740.64l1.2 0.8l1.2 -0.8v0.8l-1.2 0.85l-1.2 -0.85zM573.29 743.68l1.2 0.8l1.2 -0.8v0.8l-1.2 0.85l-1.2 -0.85zM573.29 746.72l1.2 0.8l1.2 -0.8v0.8l-1.2 0.85l-1.2 -0.85zM573.29 749.76l1.2 0.8l1.2 -0.8v0.8l-1.2 0.85l-1.2 -0.85zM573.29 752.80l1.2 0.8l1.2 -0.8v0.8l-1.2 0.85l-1.2 -0.85z" fill="#333"/>
<rect x="560.49" y="636.70" width="12.90" height="117.60" fill="none" stroke="#888" stroke-width="0.7"/>
<rect x="560.49" y="600.40" width="12.90" height="24.90" fill="#fff"/>
<path clip-path="url(#c22)" d="M560.89 600.80l1.2 0.8l1.2 -0.8v0.8l-1.2 0.85l-1.2 -0.85zM560.89 603.84l1.2 0.8l1.2 -0.8v0.8l-1.2 0.85l-1.2 -0.85zM560.89 606.88l1.2 0.8l1.2 -0.8v0.8l-1.2 0.85l-1.2 -0.85zM560.89 609.92l1.2 0.8l1.2 -0.8v0.8l-1.2 0.85l-1.2 -0.85zM560.89 612.96l1.2 0.8l1.2 -0.8v0.8l-1.2 0.85l-1.2 -0.85zM560.89 616.00l1.2 0.8l1.2 -0.8v0.8l-1.2 0.85l-1.2 -0.85zM560.89 619.04l1.2 0.8l1.2 -0.8v0.8l-1.2 0.85l-1.2 -0.85zM560.89 622.08l1.2 0.8l1.2 -0.8v0.8l-1.2 0.85l-1.2 -0.85zM560.89 625.12l1.2 0.8l1.2 -0.8v0.8l-1.2 0.85l-1.2 -0.85zM563.99 599.28l1.2 0.8l1.2 -0.8v0.8l-1.2 0.85l-1.2 -0.85zM563.99 602.32l1.2 0.8l1.2 -0.8v0.8l-1.2 0.85l-1.2 -0.85zM563.99 605.36l1.2 0.8l1.2 -0.8v0.8l-1.2 0.85l-1.2 -0.85zM563.99 608.40l1.2 0.8l1.2 -0.8v0.8l-1.2 0.85l-1.2 -0.85zM563.99 611.44l1.2 0.8l1.2 -0.8v0.8l-1.2 0.85l-1.2 -0.85zM563.99 614.48l1.2 0.8l1.2 -0.8v0.8l-1.2 0.85l-1.2 -0.85zM563.99 617.52l1.2 0.8l1.2 -0.8v0.8l-1.2 0.85l-1.2 -0.85zM563.99 620.56l1.2 0.8l1.2 -0.8v0.8l-1.2 0.85l-1.2 -0.85zM563.99 623.60l1.2 0.8l1.2 -0.8v0.8l-1.2 0.85l-1.2 -0.85zM567.09 600.80l1.2 0.8l1.2 -0.8v0.8l-1.2 0.85l-1.2 -0.85zM567.09 603.84l1.2 0.8l1.2 -0.8v0.8l-1.2 0.85l-1.2 -0.85zM567.09 606.88l1.2 0.8l1.2 -0.8v0.8l-1.2 0.85l-1.2 -0.85zM567.09 609.92l1.2 0.8l1.2 -0.8v0.8l-1.2 0.85l-1.2 -0.85zM567.09 612.96l1.2 0.8l1.2 -0.8v0.8l-1.2 0.85l-1.2 -0.85zM567.09 616.00l1.2 0.8l1.2 -0.8v0.8l-1.2 0.85l-1.2 -0.85zM567.09 619.04l1.2 0.8l1.2 -0.8v0.8l-1.2 0.85l-1.2 -0.85zM567.09 622.08l1.2 0.8l1.2 -0.8v0.8l-1.2 0.85l-1.2 -0.85zM567.09 625.12l1.2 0.8l1.2 -0.8v0.8l-1.2 0.85l-1.2 -0.85zM570.19 599.28l1.2 0.8l1.2 -0.8v0.8l-1.2 0.85l-1.2 -0.85zM570.19 602.32l1.2 0.8l1.2 -0.8v0.8l-1.2 0.85l-1.2 -0.85zM570.19 605.36l1.2 0.8l1.2 -0.8v0.8l-1.2 0.85l-1.2 -0.85zM570.19 608.40l1.2 0.8l1.2 -0.8v0.8l-1.2 0.85l-1.2 -0.85zM570.19 611.44l1.2 0.8l1.2 -0.8v0.8l-1.2 0.85l-1.2 -0.85zM570.19 614.48l1.2 0.8l1.2 -0.8v0.8l-1.2 0.85l-1.2 -0.85zM570.19 617.52l1.2 0.8l1.2 -0.8v0.8l-1.2 0.85l-1.2 -0.85zM570.19 620.56l1.2 0.8l1.2 -0.8v0.8l-1.2 0.85l-1.2 -0.85zM570.19 623.60l1.2 0.8l1.2 -0.8v0.8l-1.2 0.85l-1.2 -0.85zM573.29 600.80l1.2 0.8l1.2 -0.8v0.8l-1.2 0.85l-1.2 -0.85zM573.29 603.84l1.2 0.8l1.2 -0.8v0.8l-1.2 0.85l-1.2 -0.85zM573.29 606.88l1.2 0.8l1.2 -0.8v0.8l-1.2 0.85l-1.2 -0.85zM573.29 609.92l1.2 0.8l1.2 -0.8v0.8l-1.2 0.85l-1.2 -0.85zM573.29 612.96l1.2 0.8l1.2 -0.8v0.8l-1.2 0.85l-1.2 -0.85zM573.29 616.00l1.2 0.8l1.2 -0.8v0.8l-1.2 0.85l-1.2 -0.85zM573.29 619.04l1.2 0.8l1.2 -0.8v0.8l-1.2 0.85l-1.2 -0.85zM573.29 622.08l1.2 0.8l1.2 -0.8v0.8l-1.2 0.85l-1.2 -0.85zM573.29 625.12l1.2 0.8l1.2 -0.8v0.8l-1.2 0.85l-1.2 -0.85z" fill="#333"/>
<rect x="560.49" y="600.40" width="12.90" height="24.90" fill="none" stroke="#888" stroke-width="0.7"/>
<rect x="560.49" y="584.70" width="12.90" height="3.60" fill="#fff"/>
<path clip-path="url(#c23)" d="M560.89 585.60l1.2 0.8l1.2 -0.8v0.8l-1.2 0.85l-1.2 -0.85zM560.89 588.64l1.2 0.8l1.2 -0.8v0.8l-1.2 0.85l-1.2 -0.85zM563.99 584.08l1.2 0.8l1.2 -0.8v0.8l-1.2 0.85l-1.2 -0.85zM563.99 587.12l1.2 0.8l1.2 -0.8v0.8l-1.2 0.85l-1.2 -0.85zM567.09 585.60l1.2 0.8l1.2 -0.8v0.8l-1.2 0.85l-1.2 -0.85zM567.09 588.64l1.2 0.8l1.2 -0.8v0.8l-1.2 0.85l-1.2 -0.85zM570.19 584.08l1.2 0.8l1.2 -0.8v0.8l-1.2 0.85l-1.2 -0.85zM570.19 587.12l1.2 0.8l1.2 -0.8v0.8l-1.2 0.85l-1.2 -0.85zM573.29 585.60l1.2 0.8l1.2 -0.8v0.8l-1.2 0.85l-1.2 -0.85zM573.29 588.64l1.2 0.8l1.2 -0.8v0.8l-1.2 0.85l-1.2 -0.85z" fill="#333"/>
<rect x="560.49" y="584.70" width="12.90" height="3.60" fill="none" stroke="#888" stroke-width="0.7"/>
<line x1="566.94" y1="584.70" x2="566.94" y2="582.30" stroke="#777" stroke-width="1.00"/>
<line x1="563.84" y1="582.30" x2="570.04" y2="582.30" stroke="#777" stroke-width="1.00"/>
<rect x="579.12" y="636.70" width="12.90" height="117.60" fill="#fff"/>
<path clip-path="url(#c24)" d="M579.52 637.28l1.2 0.8l1.2 -0.8v0.8l-1.2 0.85l-1.2 -0.85zM579.52 640.32l1.2 0.8l1.2 -0.8v0.8l-1.2 0.85l-1.2 -0.85zM579.52 643.36l1.2 0.8l1.2 -0.8v0.8l-1.2 0.85l-1.2 -0.85zM579.52 646.40l1.2 0.8l1.2 -0.8v0.8l-1.2 0.85l-1.2 -0.85zM579.52 649.44l1.2 0.8l1.2 -0.8v0.8l-1.2 0.85l-1.2 -0.85zM579.52 652.48l1.2 0.8l1.2 -0.8v0.8l-1.2 0.85l-1.2 -0.85zM579.52 655.52l1.2 0.8l1.2 -0.8v0.8l-1.2 0.85l-1.2 -0.85zM579.52 658.56l1.2 0.8l1.2 -0.8v0.8l-1.2 0.85l-1.2 -0.85zM579.52 661.60l1.2 0.8l1.2 -0.8v0.8l-1.2 0.85l-1.2 -0.85zM579.52 664.64l1.2 0.8l1.2 -0.8v0.8l-1.2 0.85l-1.2 -0.85zM579.52 667.68l1.2 0.8l1.2 -0.8v0.8l-1.2 0.85l-1.2 -0.85zM579.52 670.72l1.2 0.8l1.2 -0.8v0.8l-1.2 0.85l-1.2 -0.85zM579.52 673.76l1.2 0.8l1.2 -0.8v0.8l-1.2 0.85l-1.2 -0.85zM579.52 676.80l1.2 0.8l1.2 -0.8v0.8l-1.2 0.85l-1.2 -0.85zM579.52 679.84l1.2 0.8l1.2 -0.8v0.8l-1.2 0.85l-1.2 -0.85zM579.52 682.88l1.2 0.8l1.2 -0.8v0.8l-1.2 0.85l-1.2 -0.85zM579.52 685.92l1.2 0.8l1.2 -0.8v0.8l-1.2 0.85l-1.2 -0.85zM579.52 688.96l1.2 0.8l1.2 -0.8v0.8l-1.2 0.85l-1.2 -0.85zM579.52 692.00l1.2 0.8l1.2 -0.8v0.8l-1.2 0.85l-1.2 -0.85zM579.52 695.04l1.2 0.8l1.2 -0.8v0.8l-1.2 0.85l-1.2 -0.85zM579.52 698.08l1.2 0.8l1.2 -0.8v0.8l-1.2 0.85l-1.2 -0.85zM579.52 701.12l1.2 0.8l1.2 -0.8v0.8l-1.2 0.85l-1.2 -0.85zM579.52 704.16l1.2 0.8l1.2 -0.8v0.8l-1.2 0.85l-1.2 -0.85zM579.52 707.20l1.2 0.8l1.2 -0.8v0.8l-1.2 0.85l-1.2 -0.85zM579.52 710.24l1.2 0.8l1.2 -0.8v0.8l-1.2 0.85l-1.2 -0.85zM579.52 713.28l1.2 0.8l1.2 -0.8v0.8l-1.2 0.85l-1.2 -0.85zM579.52 716.32l1.2 0.8l1.2 -0.8v0.8l-1.2 0.85l-1.2 -0.85zM579.52 719.36l1.2 0.8l1.2 -0.8v0.8l-1.2 0.85l-1.2 -0.85zM579.52 722.40l1.2 0.8l1.2 -0.8v0.8l-1.2 0.85l-1.2 -0.85zM579.52 725.44l1.2 0.8l1.2 -0.8v0.8l-1.2 0.85l-1.2 -0.85zM579.52 728.48l1.2 0.8l1.2 -0.8v0.8l-1.2 0.85l-1.2 -0.85zM579.52 731.52l1.2 0.8l1.2 -0.8v0.8l-1.2 0.85l-1.2 -0.85zM579.52 734.56l1.2 0.8l1.2 -0.8v0.8l-1.2 0.85l-1.2 -0.85zM579.52 737.60l1.2 0.8l1.2 -0.8v0.8l-1.2 0.85l-1.2 -0.85zM579.52 740.64l1.2 0.8l1.2 -0.8v0.8l-1.2 0.85l-1.2 -0.85zM579.52 743.68l1.2 0.8l1.2 -0.8v0.8l-1.2 0.85l-1.2 -0.85zM579.52 746.72l1.2 0.8l1.2 -0.8v0.8l-1.2 0.85l-1.2 -0.85zM579.52 749.76l1.2 0.8l1.2 -0.8v0.8l-1.2 0.85l-1.2 -0.85zM579.52 752.80l1.2 0.8l1.2 -0.8v0.8l-1.2 0.85l-1.2 -0.85zM582.62 635.76l1.2 0.8l1.2 -0.8v0.8l-1.2 0.85l-1.2 -0.85zM582.62 638.80l1.2 0.8l1.2 -0.8v0.8l-1.2 0.85l-1.2 -0.85zM582.62 641.84l1.2 0.8l1.2 -0.8v0.8l-1.2 0.85l-1.2 -0.85zM582.62 644.88l1.2 0.8l1.2 -0.8v0.8l-1.2 0.85l-1.2 -0.85zM582.62 647.92l1.2 0.8l1.2 -0.8v0.8l-1.2 0.85l-1.2 -0.85zM582.62 650.96l1.2 0.8l1.2 -0.8v0.8l-1.2 0.85l-1.2 -0.85zM582.62 654.00l1.2 0.8l1.2 -0.8v0.8l-1.2 0.85l-1.2 -0.85zM582.62 657.04l1.2 0.8l1.2 -0.8v0.8l-1.2 0.85l-1.2 -0.85zM582.62 660.08l1.2 0.8l1.2 -0.8v0.8l-1.2 0.85l-1.2 -0.85zM582.62 663.12l1.2 0.8l1.2 -0.8v0.8l-1.2 0.85l-1.2 -0.85zM582.62 666.16l1.2 0.8l1.2 -0.8v0.8l-1.2 0.85l-1.2 -0.85zM582.62 669.20l1.2 0.8l1.2 -0.8v0.8l-1.2 0.85l-1.2 -0.85zM582.62 672.24l1.2 0.8l1.2 -0.8v0.8l-1.2 0.85l-1.2 -0.85zM582.62 675.28l1.2 0.8l1.2 -0.8v0.8l-1.2 0.85l-1.2 -0.85zM582.62 678.32l1.2 0.8l1.2 -0.8v0.8l-1.2 0.85l-1.2 -0.85zM582.62 681.36l1.2 0.8l1.2 -0.8v0.8l-1.2 0.85l-1.2 -0.85zM582.62 684.40l1.2 0.8l1.2 -0.8v0.8l-1.2 0.85l-1.2 -0.85zM582.62 687.44l1.2 0.8l1.2 -0.8v0.8l-1.2 0.85l-1.2 -0.85zM582.62 690.48l1.2 0.8l1.2 -0.8v0.8l-1.2 0.85l-1.2 -0.85zM582.62 693.52l1.2 0.8l1.2 -0.8v0.8l-1.2 0.85l-1.2 -0.85zM582.62 696.56l1.2 0.8l1.2 -0.8v0.8l-1.2 0.85l-1.2 -0.85zM582.62 699.60l1.2 0.8l1.2 -0.8v0.8l-1.2 0.85l-1.2 -0.85zM582.62 702.64l1.2 0.8l1.2 -0.8v0.8l-1.2 0.85l-1.2 -0.85zM582.62 705.68l1.2 0.8l1.2 -0.8v0.8l-1.2 0.85l-1.2 -0.85zM582.62 708.72l1.2 0.8l1.2 -0.8v0.8l-1.2 0.85l-1.2 -0.85zM582.62 711.76l1.2 0.8l1.2 -0.8v0.8l-1.2 0.85l-1.2 -0.85zM582.62 714.80l1.2 0.8l1.2 -0.8v0.8l-1.2 0.85l-1.2 -0.85zM582.62 717.84l1.2 0.8l1.2 -0.8v0.8l-1.2 0.85l-1.2 -0.85zM582.62 720.88l1.2 0.8l1.2 -0.8v0.8l-1.2 0.85l-1.2 -0.85zM582.62 723.92l1.2 0.8l1.2 -0.8v0.8l-1.2 0.85l-1.2 -0.85zM582.62 726.96l1.2 0.8l1.2 -0.8v0.8l-1.2 0.85l-1.2 -0.85zM582.62 730.00l1.2 0.8l1.2 -0.8v0.8l-1.2 0.85l-1.2 -0.85zM582.62 733.04l1.2 0.8l1.2 -0.8v0.8l-1.2 0.85l-1.2 -0.85zM582.62 736.08l1.2 0.8l1.2 -0.8v0.8l-1.2 0.85l-1.2 -0.85zM582.62 739.12l1.2 0.8l1.2 -0.8v0.8l-1.2 0.85l-1.2 -0.85zM582.62 742.16l1.2 0.8l1.2 -0.8v0.8l-1.2 0.85l-1.2 -0.85zM582.62 745.20l1.2 0.8l1.2 -0.8v0.8l-1.2 0.85l-1.2 -0.85zM582.62 748.24l1.2 0.8l1.2 -0.8v0.8l-1.2 0.85l-1.2 -0.85zM582.62 751.28l1.2 0.8l1.2 -0.8v0.8l-1.2 0.85l-1.2 -0.85zM582.62 754.32l1.2 0.8l1.2 -0.8v0.8l-1.2 0.85l-1.2 -0.85zM585.72 637.28l1.2 0.8l1.2 -0.8v0.8l-1.2 0.85l-1.2 -0.85zM585.72 640.32l1.2 0.8l1.2 -0.8v0.8l-1.2 0.85l-1.2 -0.85zM585.72 643.36l1.2 0.8l1.2 -0.8v0.8l-1.2 0.85l-1.2 -0.85zM585.72 646.40l1.2 0.8l1.2 -0.8v0.8l-1.2 0.85l-1.2 -0.85zM585.72 649.44l1.2 0.8l1.2 -0.8v0.8l-1.2 0.85l-1.2 -0.85zM585.72 652.48l1.2 0.8l1.2 -0.8v0.8l-1.2 0.85l-1.2 -0.85zM585.72 655.52l1.2 0.8l1.2 -0.8v0.8l-1.2 0.85l-1.2 -0.85zM585.72 658.56l1.2 0.8l1.2 -0.8v0.8l-1.2 0.85l-1.2 -0.85zM585.72 661.60l1.2 0.8l1.2 -0.8v0.8l-1.2 0.85l-1.2 -0.85zM585.72 664.64l1.2 0.8l1.2 -0.8v0.8l-1.2 0.85l-1.2 -0.85zM585.72 667.68l1.2 0.8l1.2 -0.8v0.8l-1.2 0.85l-1.2 -0.85zM585.72 670.72l1.2 0.8l1.2 -0.8v0.8l-1.2 0.85l-1.2 -0.85zM585.72 673.76l1.2 0.8l1.2 -0.8v0.8l-1.2 0.85l-1.2 -0.85zM585.72 676.80l1.2 0.8l1.2 -0.8v0.8l-1.2 0.85l-1.2 -0.85zM585.72 679.84l1.2 0.8l1.2 -0.8v0.8l-1.2 0.85l-1.2 -0.85zM585.72 682.88l1.2 0.8l1.2 -0.8v0.8l-1.2 0.85l-1.2 -0.85zM585.72 685.92l1.2 0.8l1.2 -0.8v0.8l-1.2 0.85l-1.2 -0.85zM585.72 688.96l1.2 0.8l1.2 -0.8v0.8l-1.2 0.85l-1.2 -0.85zM585.72 692.00l1.2 0.8l1.2 -0.8v0.8l-1.2 0.85l-1.2 -0.85zM585.72 695.04l1.2 0.8l1.2 -0.8v0.8l-1.2 0.85l-1.2 -0.85zM585.72 698.08l1.2 0.8l1.2 -0.8v0.8l-1.2 0.85l-1.2 -0.85zM585.72 701.12l1.2 0.8l1.2 -0.8v0.8l-1.2 0.85l-1.2 -0.85zM585.72 704.16l1.2 0.8l1.2 -0.8v0.8l-1.2 0.85l-1.2 -0.85zM585.72 707.20l1.2 0.8l1.2 -0.8v0.8l-1.2 0.85l-1.2 -0.85zM585.72 710.24l1.2 0.8l1.2 -0.8v0.8l-1.2 0.85l-1.2 -0.85zM585.72 713.28l1.2 0.8l1.2 -0.8v0.8l-1.2 0.85l-1.2 -0.85zM585.72 716.32l1.2 0.8l1.2 -0.8v0.8l-1.2 0.85l-1.2 -0.85zM585.72 719.36l1.2 0.8l1.2 -0.8v0.8l-1.2 0.85l-1.2 -0.85zM585.72 722.40l1.2 0.8l1.2 -0.8v0.8l-1.2 0.85l-1.2 -0.85zM585.72 725.44l1.2 0.8l1.2 -0.8v0.8l-1.2 0.85l-1.2 -0.85zM585.72 728.48l1.2 0.8l1.2 -0.8v0.8l-1.2 0.85l-1.2 -0.85zM585.72 731.52l1.2 0.8l1.2 -0.8v0.8l-1.2 0.85l-1.2 -0.85zM585.72 734.56l1.2 0.8l1.2 -0.8v0.8l-1.2 0.85l-1.2 -0.85zM585.72 737.60l1.2 0.8l1.2 -0.8v0.8l-1.2 0.85l-1.2 -0.85zM585.72 740.64l1.2 0.8l1.2 -0.8v0.8l-1.2 0.85l-1.2 -0.85zM585.72 743.68l1.2 0.8l1.2 -0.8v0.8l-1.2 0.85l-1.2 -0.85zM585.72 746.72l1.2 0.8l1.2 -0.8v0.8l-1.2 0.85l-1.2 -0.85zM585.72 749.76l1.2 0.8l1.2 -0.8v0.8l-1.2 0.85l-1.2 -0.85zM585.72 752.80l1.2 0.8l1.2 -0.8v0.8l-1.2 0.85l-1.2 -0.85zM588.82 635.76l1.2 0.8l1.2 -0.8v0.8l-1.2 0.85l-1.2 -0.85zM588.82 638.80l1.2 0.8l1.2 -0.8v0.8l-1.2 0.85l-1.2 -0.85zM588.82 641.84l1.2 0.8l1.2 -0.8v0.8l-1.2 0.85l-1.2 -0.85zM588.82 644.88l1.2 0.8l1.2 -0.8v0.8l-1.2 0.85l-1.2 -0.85zM588.82 647.92l1.2 0.8l1.2 -0.8v0.8l-1.2 0.85l-1.2 -0.85zM588.82 650.96l1.2 0.8l1.2 -0.8v0.8l-1.2 0.85l-1.2 -0.85zM588.82 654.00l1.2 0.8l1.2 -0.8v0.8l-1.2 0.85l-1.2 -0.85zM588.82 657.04l1.2 0.8l1.2 -0.8v0.8l-1.2 0.85l-1.2 -0.85zM588.82 660.08l1.2 0.8l1.2 -0.8v0.8l-1.2 0.85l-1.2 -0.85zM588.82 663.12l1.2 0.8l1.2 -0.8v0.8l-1.2 0.85l-1.2 -0.85zM588.82 666.16l1.2 0.8l1.2 -0.8v0.8l-1.2 0.85l-1.2 -0.85zM588.82 669.20l1.2 0.8l1.2 -0.8v0.8l-1.2 0.85l-1.2 -0.85zM588.82 672.24l1.2 0.8l1.2 -0.8v0.8l-1.2 0.85l-1.2 -0.85zM588.82 675.28l1.2 0.8l1.2 -0.8v0.8l-1.2 0.85l-1.2 -0.85zM588.82 678.32l1.2 0.8l1.2 -0.8v0.8l-1.2 0.85l-1.2 -0.85zM588.82 681.36l1.2 0.8l1.2 -0.8v0.8l-1.2 0.85l-1.2 -0.85zM588.82 684.40l1.2 0.8l1.2 -0.8v0.8l-1.2 0.85l-1.2 -0.85zM588.82 687.44l1.2 0.8l1.2 -0.8v0.8l-1.2 0.85l-1.2 -0.85zM588.82 690.48l1.2 0.8l1.2 -0.8v0.8l-1.2 0.85l-1.2 -0.85zM588.82 693.52l1.2 0.8l1.2 -0.8v0.8l-1.2 0.85l-1.2 -0.85zM588.82 696.56l1.2 0.8l1.2 -0.8v0.8l-1.2 0.85l-1.2 -0.85zM588.82 699.60l1.2 0.8l1.2 -0.8v0.8l-1.2 0.85l-1.2 -0.85zM588.82 702.64l1.2 0.8l1.2 -0.8v0.8l-1.2 0.85l-1.2 -0.85zM588.82 705.68l1.2 0.8l1.2 -0.8v0.8l-1.2 0.85l-1.2 -0.85zM588.82 708.72l1.2 0.8l1.2 -0.8v0.8l-1.2 0.85l-1.2 -0.85zM588.82 711.76l1.2 0.8l1.2 -0.8v0.8l-1.2 0.85l-1.2 -0.85zM588.82 714.80l1.2 0.8l1.2 -0.8v0.8l-1.2 0.85l-1.2 -0.85zM588.82 717.84l1.2 0.8l1.2 -0.8v0.8l-1.2 0.85l-1.2 -0.85zM588.82 720.88l1.2 0.8l1.2 -0.8v0.8l-1.2 0.85l-1.2 -0.85zM588.82 723.92l1.2 0.8l1.2 -0.8v0.8l-1.2 0.85l-1.2 -0.85zM588.82 726.96l1.2 0.8l1.2 -0.8v0.8l-1.2 0.85l-1.2 -0.85zM588.82 730.00l1.2 0.8l1.2 -0.8v0.8l-1.2 0.85l-1.2 -0.85zM588.82 733.04l1.2 0.8l1.2 -0.8v0.8l-1.2 0.85l-1.2 -0.85zM588.82 736.08l1.2 0.8l1.2 -0.8v0.8l-1.2 0.85l-1.2 -0.85zM588.82 739.12l1.2 0.8l1.2 -0.8v0.8l-1.2 0.85l-1.2 -0.85zM588.82 742.16l1.2 0.8l1.2 -0.8v0.8l-1.2 0.85l-1.2 -0.85zM588.82 745.20l1.2 0.8l1.2 -0.8v0.8l-1.2 0.85l-1.2 -0.85zM588.82 748.24l1.2 0.8l1.2 -0.8v0.8l-1.2 0.85l-1.2 -0.85zM588.82 751.28l1.2 0.8l1.2 -0.8v0.8l-1.2 0.85l-1.2 -0.85zM588.82 754.32l1.2 0.8l1.2 -0.8v0.8l-1.2 0.85l-1.2 -0.85zM591.92 637.28l1.2 0.8l1.2 -0.8v0.8l-1.2 0.85l-1.2 -0.85zM591.92 640.32l1.2 0.8l1.2 -0.8v0.8l-1.2 0.85l-1.2 -0.85zM591.92 643.36l1.2 0.8l1.2 -0.8v0.8l-1.2 0.85l-1.2 -0.85zM591.92 646.40l1.2 0.8l1.2 -0.8v0.8l-1.2 0.85l-1.2 -0.85zM591.92 649.44l1.2 0.8l1.2 -0.8v0.8l-1.2 0.85l-1.2 -0.85zM591.92 652.48l1.2 0.8l1.2 -0.8v0.8l-1.2 0.85l-1.2 -0.85zM591.92 655.52l1.2 0.8l1.2 -0.8v0.8l-1.2 0.85l-1.2 -0.85zM591.92 658.56l1.2 0.8l1.2 -0.8v0.8l-1.2 0.85l-1.2 -0.85zM591.92 661.60l1.2 0.8l1.2 -0.8v0.8l-1.2 0.85l-1.2 -0.85zM591.92 664.64l1.2 0.8l1.2 -0.8v0.8l-1.2 0.85l-1.2 -0.85zM591.92 667.68l1.2 0.8l1.2 -0.8v0.8l-1.2 0.85l-1.2 -0.85zM591.92 670.72l1.2 0.8l1.2 -0.8v0.8l-1.2 0.85l-1.2 -0.85zM591.92 673.76l1.2 0.8l1.2 -0.8v0.8l-1.2 0.85l-1.2 -0.85zM591.92 676.80l1.2 0.8l1.2 -0.8v0.8l-1.2 0.85l-1.2 -0.85zM591.92 679.84l1.2 0.8l1.2 -0.8v0.8l-1.2 0.85l-1.2 -0.85zM591.92 682.88l1.2 0.8l1.2 -0.8v0.8l-1.2 0.85l-1.2 -0.85zM591.92 685.92l1.2 0.8l1.2 -0.8v0.8l-1.2 0.85l-1.2 -0.85zM591.92 688.96l1.2 0.8l1.2 -0.8v0.8l-1.2 0.85l-1.2 -0.85zM591.92 692.00l1.2 0.8l1.2 -0.8v0.8l-1.2 0.85l-1.2 -0.85zM591.92 695.04l1.2 0.8l1.2 -0.8v0.8l-1.2 0.85l-1.2 -0.85zM591.92 698.08l1.2 0.8l1.2 -0.8v0.8l-1.2 0.85l-1.2 -0.85zM591.92 701.12l1.2 0.8l1.2 -0.8v0.8l-1.2 0.85l-1.2 -0.85zM591.92 704.16l1.2 0.8l1.2 -0.8v0.8l-1.2 0.85l-1.2 -0.85zM591.92 707.20l1.2 0.8l1.2 -0.8v0.8l-1.2 0.85l-1.2 -0.85zM591.92 710.24l1.2 0.8l1.2 -0.8v0.8l-1.2 0.85l-1.2 -0.85zM591.92 713.28l1.2 0.8l1.2 -0.8v0.8l-1.2 0.85l-1.2 -0.85zM591.92 716.32l1.2 0.8l1.2 -0.8v0.8l-1.2 0.85l-1.2 -0.85zM591.92 719.36l1.2 0.8l1.2 -0.8v0.8l-1.2 0.85l-1.2 -0.85zM591.92 722.40l1.2 0.8l1.2 -0.8v0.8l-1.2 0.85l-1.2 -0.85zM591.92 725.44l1.2 0.8l1.2 -0.8v0.8l-1.2 0.85l-1.2 -0.85zM591.92 728.48l1.2 0.8l1.2 -0.8v0.8l-1.2 0.85l-1.2 -0.85zM591.92 731.52l1.2 0.8l1.2 -0.8v0.8l-1.2 0.85l-1.2 -0.85zM591.92 734.56l1.2 0.8l1.2 -0.8v0.8l-1.2 0.85l-1.2 -0.85zM591.92 737.60l1.2 0.8l1.2 -0.8v0.8l-1.2 0.85l-1.2 -0.85zM591.92 740.64l1.2 0.8l1.2 -0.8v0.8l-1.2 0.85l-1.2 -0.85zM591.92 743.68l1.2 0.8l1.2 -0.8v0.8l-1.2 0.85l-1.2 -0.85zM591.92 746.72l1.2 0.8l1.2 -0.8v0.8l-1.2 0.85l-1.2 -0.85zM591.92 749.76l1.2 0.8l1.2 -0.8v0.8l-1.2 0.85l-1.2 -0.85zM591.92 752.80l1.2 0.8l1.2 -0.8v0.8l-1.2 0.85l-1.2 -0.85z" fill="#333"/>
<rect x="579.12" y="636.70" width="12.90" height="117.60" fill="none" stroke="#888" stroke-width="0.7"/>
<rect x="579.12" y="600.40" width="12.90" height="24.90" fill="#fff"/>
<path clip-path="url(#c25)" d="M579.52 600.80l1.2 0.8l1.2 -0.8v0.8l-1.2 0.85l-1.2 -0.85zM579.52 603.84l1.2 0.8l1.2 -0.8v0.8l-1.2 0.85l-1.2 -0.85zM579.52 606.88l1.2 0.8l1.2 -0.8v0.8l-1.2 0.85l-1.2 -0.85zM579.52 609.92l1.2 0.8l1.2 -0.8v0.8l-1.2 0.85l-1.2 -0.85zM579.52 612.96l1.2 0.8l1.2 -0.8v0.8l-1.2 0.85l-1.2 -0.85zM579.52 616.00l1.2 0.8l1.2 -0.8v0.8l-1.2 0.85l-1.2 -0.85zM579.52 619.04l1.2 0.8l1.2 -0.8v0.8l-1.2 0.85l-1.2 -0.85zM579.52 622.08l1.2 0.8l1.2 -0.8v0.8l-1.2 0.85l-1.2 -0.85zM579.52 625.12l1.2 0.8l1.2 -0.8v0.8l-1.2 0.85l-1.2 -0.85zM582.62 599.28l1.2 0.8l1.2 -0.8v0.8l-1.2 0.85l-1.2 -0.85zM582.62 602.32l1.2 0.8l1.2 -0.8v0.8l-1.2 0.85l-1.2 -0.85zM582.62 605.36l1.2 0.8l1.2 -0.8v0.8l-1.2 0.85l-1.2 -0.85zM582.62 608.40l1.2 0.8l1.2 -0.8v0.8l-1.2 0.85l-1.2 -0.85zM582.62 611.44l1.2 0.8l1.2 -0.8v0.8l-1.2 0.85l-1.2 -0.85zM582.62 614.48l1.2 0.8l1.2 -0.8v0.8l-1.2 0.85l-1.2 -0.85zM582.62 617.52l1.2 0.8l1.2 -0.8v0.8l-1.2 0.85l-1.2 -0.85zM582.62 620.56l1.2 0.8l1.2 -0.8v0.8l-1.2 0.85l-1.2 -0.85zM582.62 623.60l1.2 0.8l1.2 -0.8v0.8l-1.2 0.85l-1.2 -0.85zM585.72 600.80l1.2 0.8l1.2 -0.8v0.8l-1.2 0.85l-1.2 -0.85zM585.72 603.84l1.2 0.8l1.2 -0.8v0.8l-1.2 0.85l-1.2 -0.85zM585.72 606.88l1.2 0.8l1.2 -0.8v0.8l-1.2 0.85l-1.2 -0.85zM585.72 609.92l1.2 0.8l1.2 -0.8v0.8l-1.2 0.85l-1.2 -0.85zM585.72 612.96l1.2 0.8l1.2 -0.8v0.8l-1.2 0.85l-1.2 -0.85zM585.72 616.00l1.2 0.8l1.2 -0.8v0.8l-1.2 0.85l-1.2 -0.85zM585.72 619.04l1.2 0.8l1.2 -0.8v0.8l-1.2 0.85l-1.2 -0.85zM585.72 622.08l1.2 0.8l1.2 -0.8v0.8l-1.2 0.85l-1.2 -0.85zM585.72 625.12l1.2 0.8l1.2 -0.8v0.8l-1.2 0.85l-1.2 -0.85zM588.82 599.28l1.2 0.8l1.2 -0.8v0.8l-1.2 0.85l-1.2 -0.85zM588.82 602.32l1.2 0.8l1.2 -0.8v0.8l-1.2 0.85l-1.2 -0.85zM588.82 605.36l1.2 0.8l1.2 -0.8v0.8l-1.2 0.85l-1.2 -0.85zM588.82 608.40l1.2 0.8l1.2 -0.8v0.8l-1.2 0.85l-1.2 -0.85zM588.82 611.44l1.2 0.8l1.2 -0.8v0.8l-1.2 0.85l-1.2 -0.85zM588.82 614.48l1.2 0.8l1.2 -0.8v0.8l-1.2 0.85l-1.2 -0.85zM588.82 617.52l1.2 0.8l1.2 -0.8v0.8l-1.2 0.85l-1.2 -0.85zM588.82 620.56l1.2 0.8l1.2 -0.8v0.8l-1.2 0.85l-1.2 -0.85zM588.82 623.60l1.2 0.8l1.2 -0.8v0.8l-1.2 0.85l-1.2 -0.85zM591.92 600.80l1.2 0.8l1.2 -0.8v0.8l-1.2 0.85l-1.2 -0.85zM591.92 603.84l1.2 0.8l1.2 -0.8v0.8l-1.2 0.85l-1.2 -0.85zM591.92 606.88l1.2 0.8l1.2 -0.8v0.8l-1.2 0.85l-1.2 -0.85zM591.92 609.92l1.2 0.8l1.2 -0.8v0.8l-1.2 0.85l-1.2 -0.85zM591.92 612.96l1.2 0.8l1.2 -0.8v0.8l-1.2 0.85l-1.2 -0.85zM591.92 616.00l1.2 0.8l1.2 -0.8v0.8l-1.2 0.85l-1.2 -0.85zM591.92 619.04l1.2 0.8l1.2 -0.8v0.8l-1.2 0.85l-1.2 -0.85zM591.92 622.08l1.2 0.8l1.2 -0.8v0.8l-1.2 0.85l-1.2 -0.85zM591.92 625.12l1.2 0.8l1.2 -0.8v0.8l-1.2 0.85l-1.2 -0.85z" fill="#333"/>
<rect x="579.12" y="600.40" width="12.90" height="24.90" fill="none" stroke="#888" stroke-width="0.7"/>
<rect x="579.12" y="580.80" width="12.90" height="7.50" fill="#fff"/>
<path clip-path="url(#c26)" d="M579.52 579.52l1.2 0.8l1.2 -0.8v0.8l-1.2 0.85l-1.2 -0.85zM579.52 582.56l1.2 0.8l1.2 -0.8v0.8l-1.2 0.85l-1.2 -0.85zM579.52 585.60l1.2 0.8l1.2 -0.8v0.8l-1.2 0.85l-1.2 -0.85zM579.52 588.64l1.2 0.8l1.2 -0.8v0.8l-1.2 0.85l-1.2 -0.85zM582.62 581.04l1.2 0.8l1.2 -0.8v0.8l-1.2 0.85l-1.2 -0.85zM582.62 584.08l1.2 0.8l1.2 -0.8v0.8l-1.2 0.85l-1.2 -0.85zM582.62 587.12l1.2 0.8l1.2 -0.8v0.8l-1.2 0.85l-1.2 -0.85zM585.72 579.52l1.2 0.8l1.2 -0.8v0.8l-1.2 0.85l-1.2 -0.85zM585.72 582.56l1.2 0.8l1.2 -0.8v0.8l-1.2 0.85l-1.2 -0.85zM585.72 585.60l1.2 0.8l1.2 -0.8v0.8l-1.2 0.85l-1.2 -0.85zM585.72 588.64l1.2 0.8l1.2 -0.8v0.8l-1.2 0.85l-1.2 -0.85zM588.82 581.04l1.2 0.8l1.2 -0.8v0.8l-1.2 0.85l-1.2 -0.85zM588.82 584.08l1.2 0.8l1.2 -0.8v0.8l-1.2 0.85l-1.2 -0.85zM588.82 587.12l1.2 0.8l1.2 -0.8v0.8l-1.2 0.85l-1.2 -0.85zM591.92 579.52l1.2 0.8l1.2 -0.8v0.8l-1.2 0.85l-1.2 -0.85zM591.92 582.56l1.2 0.8l1.2 -0.8v0.8l-1.2 0.85l-1.2 -0.85zM591.92 585.60l1.2 0.8l1.2 -0.8v0.8l-1.2 0.85l-1.2 -0.85zM591.92 588.64l1.2 0.8l1.2 -0.8v0.8l-1.2 0.85l-1.2 -0.85z" fill="#333"/>
<rect x="579.12" y="580.80" width="12.90" height="7.50" fill="none" stroke="#888" stroke-width="0.7"/>
<line x1="585.57" y1="580.80" x2="585.57" y2="580.40" stroke="#777" stroke-width="1.00"/>
<line x1="582.47" y1="580.40" x2="588.67" y2="580.40" stroke="#777" stroke-width="1.00"/>
<line x1="138.45" y1="754.30" x2="138.45" y2="758.60" stroke="#555" stroke-width="1.00"/>
<line x1="157.08" y1="754.30" x2="157.08" y2="758.60" stroke="#555" stroke-width="1.00"/>
<line x1="175.71" y1="754.30" x2="175.71" y2="758.60" stroke="#555" stroke-width="1.00"/>
<line x1="194.34" y1="754.30" x2="194.34" y2="758.60" stroke="#555" stroke-width="1.00"/>
<line x1="212.97" y1="754.30" x2="212.97" y2="758.60" stroke="#555" stroke-width="1.00"/>
<line x1="231.60" y1="754.30" x2="231.60" y2="758.60" stroke="#555" stroke-width="1.00"/>
<line x1="250.23" y1="754.30" x2="250.23" y2="758.60" stroke="#555" stroke-width="1.00"/>
<line x1="268.86" y1="754.30" x2="268.86" y2="758.60" stroke="#555" stroke-width="1.00"/>
<line x1="287.49" y1="754.30" x2="287.49" y2="758.60" stroke="#555" stroke-width="1.00"/>
<line x1="306.12" y1="754.30" x2="306.12" y2="758.60" stroke="#555" stroke-width="1.00"/>
<line x1="324.75" y1="754.30" x2="324.75" y2="758.60" stroke="#555" stroke-width="1.00"/>
<line x1="343.38" y1="754.30" x2="343.38" y2="758.60" stroke="#555" stroke-width="1.00"/>
<line x1="362.01" y1="754.30" x2="362.01" y2="758.60" stroke="#555" stroke-width="1.00"/>
<line x1="380.64" y1="754.30" x2="380.64" y2="758.60" stroke="#555" stroke-width="1.00"/>
<line x1="399.27" y1="754.30" x2="399.27" y2="758.60" stroke="#555" stroke-width="1.00"/>
<line x1="417.90" y1="754.30" x2="417.90" y2="758.60" stroke="#555" stroke-width="1.00"/>
<line x1="436.53" y1="754.30" x2="436.53" y2="758.60" stroke="#555" stroke-width="1.00"/>
<line x1="455.16" y1="754.30" x2="455.16" y2="758.60" stroke="#555" stroke-width="1.00"/>
<line x1="473.79" y1="754.30" x2="473.79" y2="758.60" stroke="#555" stroke-width="1.00"/>
<line x1="492.42" y1="754.30" x2="492.42" y2="758.60" stroke="#555" stroke-width="1.00"/>
<line x1="511.05" y1="754.30" x2="511.05" y2="758.60" stroke="#555" stroke-width="1.00"/>
<line x1="529.68" y1="754.30" x2="529.68" y2="758.60" stroke="#555" stroke-width="1.00"/>
<line x1="548.31" y1="754.30" x2="548.31" y2="758.60" stroke="#555" stroke-width="1.00"/>
<line x1="566.94" y1="754.30" x2="566.94" y2="758.60" stroke="#555" stroke-width="1.00"/>
<line x1="585.57" y1="754.30" x2="585.57" y2="758.60" stroke="#555" stroke-width="1.00"/>
<text x="0" y="0" font-size="8.3" text-anchor="end" letter-spacing="0.8" word-spacing="-0.8" fill="#222" transform="translate(141.95,762.20) rotate(-90)">B -4h</text>
<text x="0" y="0" font-size="8.3" text-anchor="end" letter-spacing="0.8" word-spacing="-0.8" fill="#222" transform="translate(160.58,762.20) rotate(-90)">W -4h</text>
<text x="0" y="0" font-size="8.3" text-anchor="end" letter-spacing="0.8" word-spacing="-0.8" fill="#222" transform="translate(179.21,762.20) rotate(-90)">W -6h</text>
<text x="0" y="0" font-size="8.3" text-anchor="end" letter-spacing="0.8" word-spacing="-0.8" fill="#222" transform="translate(197.84,764.50) rotate(-90)">W -8h</text>
<text x="0" y="0" font-size="8.3" text-anchor="end" letter-spacing="0.8" word-spacing="-0.8" fill="#222" transform="translate(216.47,762.20) rotate(-90)">E -168h</text>
<text x="0" y="0" font-size="8.3" text-anchor="end" letter-spacing="0.8" word-spacing="-0.8" fill="#222" transform="translate(235.10,762.20) rotate(-90)">E -336h</text>
<text x="0" y="0" font-size="8.3" text-anchor="end" letter-spacing="0.8" word-spacing="-0.8" fill="#222" transform="translate(253.73,762.20) rotate(-90)">E -504h</text>
<text x="0" y="0" font-size="8.3" text-anchor="end" letter-spacing="0.8" word-spacing="-0.8" fill="#222" transform="translate(272.36,762.20) rotate(-90)">B -4h</text>
<text x="0" y="0" font-size="8.3" text-anchor="end" letter-spacing="0.8" word-spacing="-0.8" fill="#222" transform="translate(290.99,762.20) rotate(-90)">W -4h</text>
<text x="0" y="0" font-size="8.3" text-anchor="end" letter-spacing="0.8" word-spacing="-0.8" fill="#222" transform="translate(309.62,762.20) rotate(-90)">W -6h</text>
<text x="0" y="0" font-size="8.3" text-anchor="end" letter-spacing="0.8" word-spacing="-0.8" fill="#222" transform="translate(328.25,764.50) rotate(-90)">W -8h</text>
<text x="0" y="0" font-size="8.3" text-anchor="end" letter-spacing="0.8" word-spacing="-0.8" fill="#222" transform="translate(346.88,762.20) rotate(-90)">E -168h</text>
<text x="0" y="0" font-size="8.3" text-anchor="end" letter-spacing="0.8" word-spacing="-0.8" fill="#222" transform="translate(365.51,762.20) rotate(-90)">E -336h</text>
<text x="0" y="0" font-size="8.3" text-anchor="end" letter-spacing="0.8" word-spacing="-0.8" fill="#222" transform="translate(384.14,762.20) rotate(-90)">E -504h</text>
<text x="0" y="0" font-size="8.3" text-anchor="end" letter-spacing="0.8" word-spacing="-0.8" fill="#222" transform="translate(402.77,762.20) rotate(-90)">B -4h</text>
<text x="0" y="0" font-size="8.3" text-anchor="end" letter-spacing="0.8" word-spacing="-0.8" fill="#222" transform="translate(421.40,762.20) rotate(-90)">W -4h</text>
<text x="0" y="0" font-size="8.3" text-anchor="end" letter-spacing="0.8" word-spacing="-0.8" fill="#222" transform="translate(440.03,762.20) rotate(-90)">W -6h</text>
<text x="0" y="0" font-size="8.3" text-anchor="end" letter-spacing="0.8" word-spacing="-0.8" fill="#222" transform="translate(458.66,764.50) rotate(-90)">W -8h</text>
<text x="0" y="0" font-size="8.3" text-anchor="end" letter-spacing="0.8" word-spacing="-0.8" fill="#222" transform="translate(477.29,762.20) rotate(-90)">E -168h</text>
<text x="0" y="0" font-size="8.3" text-anchor="end" letter-spacing="0.8" word-spacing="-0.8" fill="#222" transform="translate(495.92,762.20) rotate(-90)">E -336h</text>
<text x="0" y="0" font-size="8.3" text-anchor="end" letter-spacing="0.8" word-spacing="-0.8" fill="#222" transform="translate(514.55,762.20) rotate(-90)">E -504h</text>
<text x="0" y="0" font-size="8.3" text-anchor="end" letter-spacing="0.8" word-spacing="-0.8" fill="#222" transform="translate(533.18,762.20) rotate(-90)">B -4h</text>
<text x="0" y="0" font-size="8.3" text-anchor="end" letter-spacing="0.8" word-spacing="-0.8" fill="#222" transform="translate(551.81,762.20) rotate(-90)">W -4h</text>
<text x="0" y="0" font-size="8.3" text-anchor="end" letter-spacing="0.8" word-spacing="-0.8" fill="#222" transform="translate(570.44,762.20) rotate(-90)">W -6h</text>
<text x="0" y="0" font-size="8.3" text-anchor="end" letter-spacing="0.8" word-spacing="-0.8" fill="#222" transform="translate(589.07,764.50) rotate(-90)">W -8h</text>
<path d="M137.10 796.2 L137.10 809.3 L253.10 809.3 L253.10 796.2" fill="none" stroke="#777" stroke-width="1.0"/>
<line x1="193.60" y1="809.30" x2="193.60" y2="825.20" stroke="#777" stroke-width="1.00"/>
<text x="185.80" y="840.60" font-size="11.80" text-anchor="start" font-weight="normal" letter-spacing="2.7">FS</text>
<path d="M269.40 796.2 L269.40 809.3 L385.30 809.3 L385.30 796.2" fill="none" stroke="#777" stroke-width="1.0"/>
<line x1="325.30" y1="809.30" x2="325.30" y2="825.20" stroke="#777" stroke-width="1.00"/>
<text x="318.00" y="840.60" font-size="11.80" text-anchor="start" font-weight="normal" letter-spacing="2.0">DS</text>
<path d="M398.20 796.2 L398.20 809.3 L513.80 809.3 L513.80 796.2" fill="none" stroke="#777" stroke-width="1.0"/>
<line x1="453.70" y1="809.30" x2="453.70" y2="825.20" stroke="#777" stroke-width="1.00"/>
<text x="445.60" y="840.60" font-size="11.80" text-anchor="start" font-weight="normal" letter-spacing="1.5">FD</text>
<path d="M529.60 796.2 L529.60 809.3 L592.70 809.3 L592.70 796.2" fill="none" stroke="#777" stroke-width="1.0"/>
<line x1="560.40" y1="809.30" x2="560.40" y2="825.20" stroke="#777" stroke-width="1.00"/>
<text x="556.70" y="840.60" font-size="11.80" text-anchor="start" font-weight="normal" letter-spacing="0.0">P</text>
<text x="352.00" y="858.70" font-size="10.25" text-anchor="middle" font-weight="normal" >Extraction methods</text>
<path d="M454.10 662.90 L454.10 659.50 M454.10 662.90 L457.04 661.20 M454.10 662.90 L451.16 661.20 M454.10 662.90 L454.10 666.30 M454.10 662.90 L451.16 664.60 M454.10 662.90 L457.04 664.60 " stroke="#000" stroke-width="1.15" stroke-linecap="round"/>
<circle cx="454.10" cy="659.50" r="1.05" fill="#000"/><circle cx="457.04" cy="661.20" r="1.05" fill="#000"/><circle cx="451.16" cy="661.20" r="1.05" fill="#000"/><circle cx="454.10" cy="666.30" r="1.05" fill="#000"/><circle cx="451.16" cy="664.60" r="1.05" fill="#000"/><circle cx="457.04" cy="664.60" r="1.05" fill="#000"/>
<path d="M435.30 709.10 L435.30 705.70 M435.30 709.10 L438.24 707.40 M435.30 709.10 L432.36 707.40 M435.30 709.10 L435.30 712.50 M435.30 709.10 L432.36 710.80 M435.30 709.10 L438.24 710.80 " stroke="#000" stroke-width="1.15" stroke-linecap="round"/>
<circle cx="435.30" cy="705.70" r="1.05" fill="#000"/><circle cx="438.24" cy="707.40" r="1.05" fill="#000"/><circle cx="432.36" cy="707.40" r="1.05" fill="#000"/><circle cx="435.30" cy="712.50" r="1.05" fill="#000"/><circle cx="432.36" cy="710.80" r="1.05" fill="#000"/><circle cx="438.24" cy="710.80" r="1.05" fill="#000"/>
<rect x="613.0" y="629.7" width="18" height="11.4" fill="#000"/>
<path clip-path="url(#c27)" d="M612.10 625.70l2.25 2.25l-2.25 2.25l-2.25 -2.25zM619.70 625.70l2.25 2.25l-2.25 2.25l-2.25 -2.25zM627.30 625.70l2.25 2.25l-2.25 2.25l-2.25 -2.25zM615.90 629.58l2.25 2.25l-2.25 2.25l-2.25 -2.25zM623.50 629.58l2.25 2.25l-2.25 2.25l-2.25 -2.25zM631.10 629.58l2.25 2.25l-2.25 2.25l-2.25 -2.25zM612.10 633.45l2.25 2.25l-2.25 2.25l-2.25 -2.25zM619.70 633.45l2.25 2.25l-2.25 2.25l-2.25 -2.25zM627.30 633.45l2.25 2.25l-2.25 2.25l-2.25 -2.25zM615.90 637.33l2.25 2.25l-2.25 2.25l-2.25 -2.25zM623.50 637.33l2.25 2.25l-2.25 2.25l-2.25 -2.25zM631.10 637.33l2.25 2.25l-2.25 2.25l-2.25 -2.25z" fill="#fff"/>
<rect x="613.0" y="629.7" width="18" height="11.4" fill="none" stroke="#666" stroke-width="0.8"/>
<rect x="612.2" y="650.4" width="17.8" height="11.2" fill="#fff"/>
<path clip-path="url(#c28)" d="M612.60 650.90l1.2 0.8l1.2 -0.8v0.8l-1.2 0.85l-1.2 -0.85zM612.60 653.94l1.2 0.8l1.2 -0.8v0.8l-1.2 0.85l-1.2 -0.85zM612.60 656.98l1.2 0.8l1.2 -0.8v0.8l-1.2 0.85l-1.2 -0.85zM612.60 660.02l1.2 0.8l1.2 -0.8v0.8l-1.2 0.85l-1.2 -0.85zM615.70 649.38l1.2 0.8l1.2 -0.8v0.8l-1.2 0.85l-1.2 -0.85zM615.70 652.42l1.2 0.8l1.2 -0.8v0.8l-1.2 0.85l-1.2 -0.85zM615.70 655.46l1.2 0.8l1.2 -0.8v0.8l-1.2 0.85l-1.2 -0.85zM615.70 658.50l1.2 0.8l1.2 -0.8v0.8l-1.2 0.85l-1.2 -0.85zM615.70 661.54l1.2 0.8l1.2 -0.8v0.8l-1.2 0.85l-1.2 -0.85zM618.80 650.90l1.2 0.8l1.2 -0.8v0.8l-1.2 0.85l-1.2 -0.85zM618.80 653.94l1.2 0.8l1.2 -0.8v0.8l-1.2 0.85l-1.2 -0.85zM618.80 656.98l1.2 0.8l1.2 -0.8v0.8l-1.2 0.85l-1.2 -0.85zM618.80 660.02l1.2 0.8l1.2 -0.8v0.8l-1.2 0.85l-1.2 -0.85zM621.90 649.38l1.2 0.8l1.2 -0.8v0.8l-1.2 0.85l-1.2 -0.85zM621.90 652.42l1.2 0.8l1.2 -0.8v0.8l-1.2 0.85l-1.2 -0.85zM621.90 655.46l1.2 0.8l1.2 -0.8v0.8l-1.2 0.85l-1.2 -0.85zM621.90 658.50l1.2 0.8l1.2 -0.8v0.8l-1.2 0.85l-1.2 -0.85zM621.90 661.54l1.2 0.8l1.2 -0.8v0.8l-1.2 0.85l-1.2 -0.85zM625.00 650.90l1.2 0.8l1.2 -0.8v0.8l-1.2 0.85l-1.2 -0.85zM625.00 653.94l1.2 0.8l1.2 -0.8v0.8l-1.2 0.85l-1.2 -0.85zM625.00 656.98l1.2 0.8l1.2 -0.8v0.8l-1.2 0.85l-1.2 -0.85zM625.00 660.02l1.2 0.8l1.2 -0.8v0.8l-1.2 0.85l-1.2 -0.85zM628.10 649.38l1.2 0.8l1.2 -0.8v0.8l-1.2 0.85l-1.2 -0.85zM628.10 652.42l1.2 0.8l1.2 -0.8v0.8l-1.2 0.85l-1.2 -0.85zM628.10 655.46l1.2 0.8l1.2 -0.8v0.8l-1.2 0.85l-1.2 -0.85zM628.10 658.50l1.2 0.8l1.2 -0.8v0.8l-1.2 0.85l-1.2 -0.85zM628.10 661.54l1.2 0.8l1.2 -0.8v0.8l-1.2 0.85l-1.2 -0.85z" fill="#333"/>
<rect x="612.2" y="650.4" width="17.8" height="11.2" fill="none" stroke="#555" stroke-width="0.9"/>
<defs><clipPath id="c1"><rect x="132.00" y="636.70" width="12.90" height="117.60"/></clipPath><clipPath id="c2"><rect x="132.00" y="612.20" width="12.90" height="13.10"/></clipPath><clipPath id="c3"><rect x="169.26" y="748.90" width="12.90" height="5.40"/></clipPath><clipPath id="c4"><rect x="187.89" y="750.10" width="12.90" height="4.20"/></clipPath><clipPath id="c5"><rect x="262.41" y="636.70" width="12.90" height="117.60"/></clipPath><clipPath id="c6"><rect x="262.41" y="622.40" width="12.90" height="2.90"/></clipPath><clipPath id="c7"><rect x="281.04" y="683.20" width="12.90" height="71.10"/></clipPath><clipPath id="c8"><rect x="299.67" y="711.10" width="12.90" height="43.20"/></clipPath><clipPath id="c9"><rect x="318.30" y="714.20" width="12.90" height="40.10"/></clipPath><clipPath id="c10"><rect x="392.82" y="636.70" width="12.90" height="117.60"/></clipPath><clipPath id="c11"><rect x="392.82" y="609.10" width="12.90" height="16.20"/></clipPath><clipPath id="c12"><rect x="411.45" y="724.40" width="12.90" height="29.90"/></clipPath><clipPath id="c13"><rect x="430.08" y="726.50" width="12.90" height="27.80"/></clipPath><clipPath id="c14"><rect x="448.71" y="688.20" width="12.90" height="66.10"/></clipPath><clipPath id="c15"><rect x="523.23" y="636.70" width="12.90" height="117.60"/></clipPath><clipPath id="c16"><rect x="523.23" y="600.40" width="12.90" height="24.90"/></clipPath><clipPath id="c17"><rect x="523.23" y="573.10" width="12.90" height="15.20"/></clipPath><clipPath id="c18"><rect x="541.86" y="636.70" width="12.90" height="117.60"/></clipPath><clipPath id="c19"><rect x="541.86" y="600.40" width="12.90" height="24.90"/></clipPath><clipPath id="c20"><rect x="541.86" y="578.10" width="12.90" height="10.20"/></clipPath><clipPath id="c21"><rect x="560.49" y="636.70" width="12.90" height="117.60"/></clipPath><clipPath id="c22"><rect x="560.49" y="600.40" width="12.90" height="24.90"/></clipPath><clipPath id="c23"><rect x="560.49" y="584.70" width="12.90" height="3.60"/></clipPath><clipPath id="c24"><rect x="579.12" y="636.70" width="12.90" height="117.60"/></clipPath><clipPath id="c25"><rect x="579.12" y="600.40" width="12.90" height="24.90"/></clipPath><clipPath id="c26"><rect x="579.12" y="580.80" width="12.90" height="7.50"/></clipPath><clipPath id="c27"><rect x="613.00" y="629.70" width="18.00" height="11.40"/></clipPath><clipPath id="c28"><rect x="612.20" y="650.40" width="17.80" height="11.20"/></clipPath></defs>
<rect x="612.2" y="672.4" width="17.8" height="11.1" fill="#fff" stroke="#555" stroke-width="0.9"/>
<line x1="612.6" y1="677.3" x2="629.6" y2="677.3" stroke="#222" stroke-width="1"/>
<line x1="612.6" y1="681.9" x2="629.6" y2="681.9" stroke="#222" stroke-width="1"/>
<text x="637.70" y="639.60" font-size="10.20" text-anchor="start" font-weight="normal" >B</text>
<text x="637.40" y="660.70" font-size="10.20" text-anchor="start" font-weight="normal" >W</text>
<text x="637.50" y="681.80" font-size="10.20" text-anchor="start" font-weight="normal" >E</text>
</svg>
</body></html>
